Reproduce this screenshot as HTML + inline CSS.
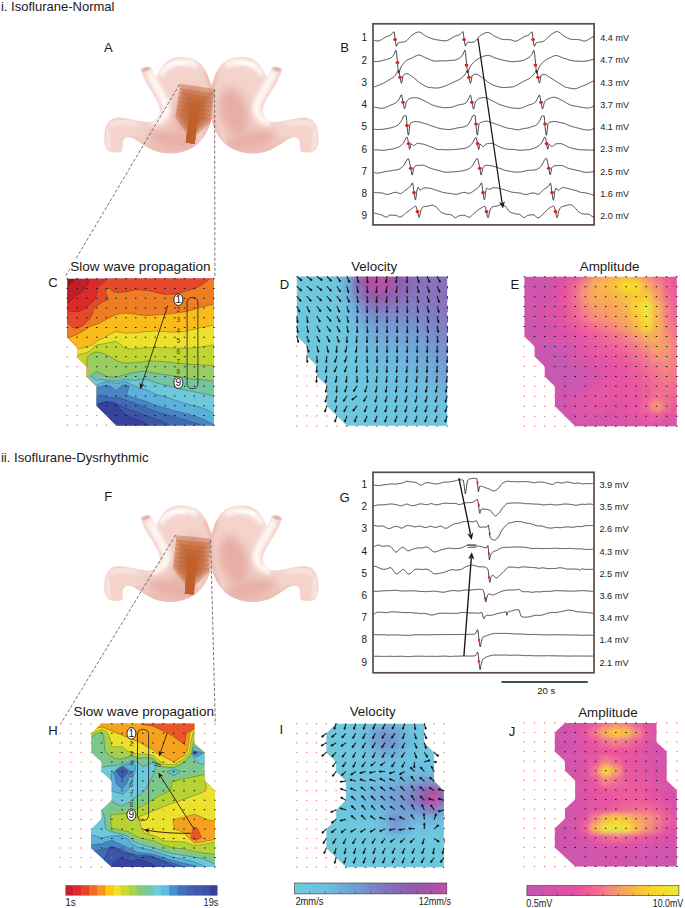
<!DOCTYPE html>
<html><head><meta charset="utf-8"><title>Figure</title>
<style>
html,body{margin:0;padding:0;background:#fff;}
svg{display:block;}
svg text{font-family:"Liberation Sans",sans-serif;}
</style></head>
<body>
<svg width="685" height="908" viewBox="0 0 685 908">
<rect width="685" height="908" fill="#fff"/>
<defs>
<filter id="b1" x="-20%" y="-20%" width="140%" height="140%"><feGaussianBlur stdDeviation="1.1"/></filter>

<clipPath id="stc"><path d="M141.2,70.1 C141.0,68.0 149.0,65.8 150.8,67.5 C152.5,71.0 154.0,75.0 156.0,78.0 C157.5,74.0 159.0,70.5 161.3,67.5 C165.0,61.5 171.0,57.5 178.8,57.0 C185.0,56.6 190.5,57.5 194.6,59.6 C202.0,63.5 206.5,70.5 208.6,78.0 C211.0,84.0 213.2,90.0 213.9,95.5 C214.6,102.5 214.0,110.0 212.1,116.6 C210.5,124.0 207.5,131.5 203.4,137.6 C199.5,143.5 194.0,147.5 187.6,149.9 C182.0,152.3 176.0,153.4 170.0,153.4 C164.0,153.4 158.0,152.2 152.6,149.9 C146.0,147.0 140.5,143.0 135.0,139.3 C132.0,137.6 129.0,136.8 126.3,137.6 C124.0,138.6 123.0,140.5 122.8,142.9 C122.6,146.0 122.8,149.0 121.9,151.6 C118.0,153.2 110.5,152.8 107.0,149.9 C104.6,146.0 104.0,140.5 104.4,135.8 C104.8,130.0 106.0,124.5 108.8,121.8 C111.0,119.0 114.0,117.6 117.5,117.4 C123.5,117.2 129.0,119.0 135.0,120.0 C140.5,121.0 146.0,122.6 150.8,121.8 C155.5,120.5 158.5,117.0 159.6,113.0 C160.5,109.5 159.5,106.0 157.8,102.6 C155.5,98.0 153.0,94.0 150.8,90.3 C148.0,86.0 145.6,82.0 143.8,78.0 C142.5,75.0 141.5,72.5 141.2,70.1 Z"/></clipPath>
<filter id="b2" x="-30%" y="-30%" width="160%" height="160%"><feGaussianBlur stdDeviation="2"/></filter>
<filter id="b3" x="-30%" y="-30%" width="160%" height="160%"><feGaussianBlur stdDeviation="3.2"/></filter>
<filter id="b5" x="-40%" y="-40%" width="180%" height="180%"><feGaussianBlur stdDeviation="5"/></filter>
<g id="stom">
 <path d="M141.2,70.1 C141.0,68.0 149.0,65.8 150.8,67.5 C152.5,71.0 154.0,75.0 156.0,78.0 C157.5,74.0 159.0,70.5 161.3,67.5 C165.0,61.5 171.0,57.5 178.8,57.0 C185.0,56.6 190.5,57.5 194.6,59.6 C202.0,63.5 206.5,70.5 208.6,78.0 C211.0,84.0 213.2,90.0 213.9,95.5 C214.6,102.5 214.0,110.0 212.1,116.6 C210.5,124.0 207.5,131.5 203.4,137.6 C199.5,143.5 194.0,147.5 187.6,149.9 C182.0,152.3 176.0,153.4 170.0,153.4 C164.0,153.4 158.0,152.2 152.6,149.9 C146.0,147.0 140.5,143.0 135.0,139.3 C132.0,137.6 129.0,136.8 126.3,137.6 C124.0,138.6 123.0,140.5 122.8,142.9 C122.6,146.0 122.8,149.0 121.9,151.6 C118.0,153.2 110.5,152.8 107.0,149.9 C104.6,146.0 104.0,140.5 104.4,135.8 C104.8,130.0 106.0,124.5 108.8,121.8 C111.0,119.0 114.0,117.6 117.5,117.4 C123.5,117.2 129.0,119.0 135.0,120.0 C140.5,121.0 146.0,122.6 150.8,121.8 C155.5,120.5 158.5,117.0 159.6,113.0 C160.5,109.5 159.5,106.0 157.8,102.6 C155.5,98.0 153.0,94.0 150.8,90.3 C148.0,86.0 145.6,82.0 143.8,78.0 C142.5,75.0 141.5,72.5 141.2,70.1 Z" fill="#f4d3cb"/>
 <g clip-path="url(#stc)">
  <ellipse cx="189" cy="112" rx="14" ry="25" fill="#e4aaa2" filter="url(#b5)" transform="rotate(16 189 112)" opacity=".92"/>
  <ellipse cx="172" cy="140" rx="26" ry="9" fill="#e6aea6" filter="url(#b5)" transform="rotate(10 172 140)"/>
  <path d="M160,75 C168,62 186,58 197,66" stroke="#fffaf7" stroke-width="6" fill="none" filter="url(#b2)" opacity=".95"/><path d="M168,66.5 C173,62.5 180,61.5 186,63.5" stroke="#ffffff" stroke-width="3.2" fill="none" filter="url(#b1)"/>
  <path d="M149,71 C153,83 162,93 166.5,106 C168,113 163,120 152,123" stroke="#fffaf7" stroke-width="7.5" fill="none" filter="url(#b2)" opacity=".95"/>
  <path d="M110,126 C116,120 126,121 138,124" stroke="#fbe9e3" stroke-width="4" fill="none" filter="url(#b2)"/>
  <path d="M108,128 C106,136 107,145 110,150" stroke="#fdf3ef" stroke-width="3" fill="none" filter="url(#b2)"/>
  <path d="M132,140 C146,149 170,157 197,144" stroke="#e7b1a9" stroke-width="5" fill="none" filter="url(#b3)"/>
  <path d="M206,72 C215,90 215,116 204,139" stroke="#e9b6ae" stroke-width="4.5" fill="none" filter="url(#b2)"/>
 </g>
 <ellipse cx="145.6" cy="69.3" rx="4.9" ry="2.4" fill="#f1cbc3" transform="rotate(-17 145.6 69.3)"/>
 <ellipse cx="145.7" cy="69.4" rx="3.7" ry="1.6" fill="#e6b3ab" transform="rotate(-17 145.7 69.4)"/>
</g>
</defs>
<g transform="translate(0,0)"><use href="#stom"/><use href="#stom" transform="translate(422.8,0) scale(-1,1)"/></g>
<g transform="translate(0,448.5)"><use href="#stom"/><use href="#stom" transform="translate(422.8,0) scale(-1,1)"/></g>
<g><polygon points="180.3,83.8 214.5,89.1 214.0,93.3 199.3,106.2 194.6,144.0 185.7,142.6 190.8,104.9 179.7,88.0" fill="#bf5f2a" fill-opacity="0.42"/><polygon points="179.7,88.0 214.0,93.3 213.6,97.5 198.8,110.3 194.6,144.0 185.7,142.6 190.3,109.0 179.0,92.1" fill="#bf5f2a" fill-opacity="0.42"/><polygon points="179.0,92.1 213.6,97.5 213.1,101.6 198.3,114.5 194.6,144.0 185.7,142.6 189.7,113.2 178.4,96.3" fill="#bf5f2a" fill-opacity="0.42"/><polygon points="178.4,96.3 213.1,101.6 212.7,105.8 197.8,118.7 194.6,144.0 185.7,142.6 189.1,117.3 177.7,100.4" fill="#bf5f2a" fill-opacity="0.42"/><polygon points="177.7,100.4 212.7,105.8 212.2,110.0 197.2,122.9 194.6,144.0 185.7,142.6 188.6,121.5 177.1,104.6" fill="#bf5f2a" fill-opacity="0.42"/><polygon points="177.1,104.6 212.2,110.0 211.8,114.2 196.7,127.0 194.6,144.0 185.7,142.6 188.0,125.7 176.4,108.7" fill="#bf5f2a" fill-opacity="0.42"/><polygon points="176.4,108.7 211.8,114.2 211.3,118.3 196.2,131.2 194.6,144.0 185.7,142.6 187.4,129.8 175.8,112.9" fill="#bf5f2a" fill-opacity="0.42"/><polygon points="175.8,112.9 211.3,118.3 210.8,122.5 195.7,135.4 194.6,144.0 185.7,142.6 186.8,134.0 175.2,117.0" fill="#bf5f2a" fill-opacity="0.42"/></g>
<g><polygon points="176.4,535.2 210.8,538.7 210.6,542.9 196.6,556.5 193.8,594.6 184.8,593.7 188.0,555.7 176.0,539.4" fill="#bf5f2a" fill-opacity="0.42"/><polygon points="176.0,539.4 210.6,542.9 210.4,547.1 196.3,560.7 193.8,594.6 184.8,593.7 187.7,559.9 175.6,543.6" fill="#bf5f2a" fill-opacity="0.42"/><polygon points="175.6,543.6 210.4,547.1 210.1,551.3 196.0,564.9 193.8,594.6 184.8,593.7 187.3,564.1 175.1,547.7" fill="#bf5f2a" fill-opacity="0.42"/><polygon points="175.1,547.7 210.1,551.3 209.9,555.5 195.7,569.1 193.8,594.6 184.8,593.7 187.0,568.2 174.7,551.9" fill="#bf5f2a" fill-opacity="0.42"/><polygon points="174.7,551.9 209.9,555.5 209.6,559.7 195.4,573.3 193.8,594.6 184.8,593.7 186.6,572.4 174.3,556.1" fill="#bf5f2a" fill-opacity="0.42"/><polygon points="174.3,556.1 209.6,559.7 209.4,563.9 195.1,577.5 193.8,594.6 184.8,593.7 186.3,576.6 173.9,560.3" fill="#bf5f2a" fill-opacity="0.42"/><polygon points="173.9,560.3 209.4,563.9 209.2,568.1 194.7,581.7 193.8,594.6 184.8,593.7 185.9,580.8 173.4,564.4" fill="#bf5f2a" fill-opacity="0.42"/><polygon points="173.4,564.4 209.2,568.1 208.9,572.3 194.4,585.9 193.8,594.6 184.8,593.7 185.6,585.0 173.0,568.6" fill="#bf5f2a" fill-opacity="0.42"/></g>
<line x1="179.5" y1="84.5" x2="65" y2="277" stroke="#5a5a5a" stroke-width=".85" stroke-dasharray="3.2 1.9" fill="none"/>
<line x1="214.6" y1="89.3" x2="214.9" y2="277" stroke="#5a5a5a" stroke-width=".85" stroke-dasharray="3.2 1.9" fill="none"/>
<line x1="175.6" y1="535" x2="60.8" y2="723.6" stroke="#5a5a5a" stroke-width=".85" stroke-dasharray="3.2 1.9" fill="none"/>
<line x1="210.6" y1="540" x2="215.3" y2="723.6" stroke="#5a5a5a" stroke-width=".85" stroke-dasharray="3.2 1.9" fill="none"/>
<defs><filter id="bmD" x="-10%" y="-10%" width="120%" height="120%"><feGaussianBlur stdDeviation="2.6"/></filter><filter id="bmE" x="-10%" y="-10%" width="120%" height="120%"><feGaussianBlur stdDeviation="2.6"/></filter><filter id="bmI" x="-10%" y="-10%" width="120%" height="120%"><feGaussianBlur stdDeviation="2.6"/></filter><filter id="bmJ" x="-10%" y="-10%" width="120%" height="120%"><feGaussianBlur stdDeviation="2.6"/></filter></defs>
<clipPath id="cpC"><polygon points="67.3,278.7 213.9,278.7 213.9,425.2 116.2,425.2 96.7,405.7 96.7,386.2 86.9,376.4 86.9,366.6 77.1,356.9 77.1,347.1 67.3,337.3"/></clipPath>
<g clip-path="url(#cpC)">
<rect x="66.35" y="277.7" width="148.5" height="148.6" fill="#8f1718"/>
<polygon points="67.3,286.3 74.8,278.7 215.9,276.7 215.9,427.2 65.3,427.2 65.3,286.3" fill="#c01f25"/>
<polyline points="67.3,286.3 74.8,278.7" fill="none" stroke="#1a1a1a" stroke-opacity=".7" stroke-width=".4" stroke-linejoin="round"/>
<polygon points="67.3,303.2 71.3,299.7 77.2,295.0 84.2,289.2 88.3,283.3 90.0,278.7 215.9,276.7 215.9,427.2 65.3,427.2 65.3,303.2" fill="#dc2a29"/>
<polyline points="67.3,303.2 71.3,299.7 77.2,295.0 84.2,289.2 88.3,283.3 90.0,278.7" fill="none" stroke="#1a1a1a" stroke-opacity=".7" stroke-width=".4" stroke-linejoin="round"/>
<polygon points="67.3,310.5 72.8,311.8 78.9,311.4 85.0,308.3 90.3,303.5 94.7,299.7 97.0,292.7 98.2,286.8 102.9,282.8 106.4,278.7 215.9,276.7 215.9,427.2 65.3,427.2 65.3,310.5" fill="#e5482a"/>
<polyline points="67.3,310.5 72.8,311.8 78.9,311.4 85.0,308.3 90.3,303.5 94.7,299.7 97.0,292.7 98.2,286.8 102.9,282.8 106.4,278.7" fill="none" stroke="#1a1a1a" stroke-opacity=".7" stroke-width=".4" stroke-linejoin="round"/>
<polygon points="67.3,321.9 71.9,327.2 77.1,328.5 83.3,325.4 89.4,319.3 92.0,314.9 93.8,308.8 99.0,304.4 102.9,302.0 108.7,299.1 107.0,296.2 105.8,291.5 107.0,288.6 109.9,288.6 113.4,291.5 118.0,292.7 127.4,291.5 135.6,289.8 142.0,290.0 149.7,290.9 164.9,294.4 176.5,293.9 184.7,291.5 196.4,288.0 203.4,283.9 210.4,278.7 215.9,276.7 215.9,427.2 65.3,427.2 65.3,321.9" fill="#ee7d23"/>
<polyline points="67.3,321.9 71.9,327.2 77.1,328.5 83.3,325.4 89.4,319.3 92.0,314.9 93.8,308.8 99.0,304.4 102.9,302.0 108.7,299.1 107.0,296.2 105.8,291.5 107.0,288.6 109.9,288.6 113.4,291.5 118.0,292.7 127.4,291.5 135.6,289.8 142.0,290.0 149.7,290.9 164.9,294.4 176.5,293.9 184.7,291.5 196.4,288.0 203.4,283.9 210.4,278.7" fill="none" stroke="#1a1a1a" stroke-opacity=".7" stroke-width=".4" stroke-linejoin="round"/>
<polygon points="67.3,337.4 70.6,337.2 77.1,334.2 84.1,330.7 90.3,326.3 99.0,323.6 107.8,318.4 116.6,314.5 125.0,313.1 135.6,314.3 142.0,315.3 149.7,315.5 164.9,314.3 176.5,313.1 187.0,311.4 198.7,307.9 208.0,305.5 213.9,304.6 215.9,304.6 215.9,427.2 65.3,427.2 65.3,337.4" fill="#fabb1c"/>
<polyline points="67.3,337.4 70.6,337.2 77.1,334.2 84.1,330.7 90.3,326.3 99.0,323.6 107.8,318.4 116.6,314.5 125.0,313.1 135.6,314.3 142.0,315.3 149.7,315.5 164.9,314.3 176.5,313.1 187.0,311.4 198.7,307.9 208.0,305.5 213.9,304.6" fill="none" stroke="#1a1a1a" stroke-opacity=".7" stroke-width=".4" stroke-linejoin="round"/>
<polygon points="77.8,349.1 85.4,347.4 92.0,345.0 99.0,339.9 106.0,336.8 111.3,333.3 116.6,331.4 119.2,332.2 126.2,333.3 135.6,332.8 142.0,332.0 155.5,331.0 173.0,332.2 184.7,331.6 198.7,328.1 208.0,326.3 213.9,325.2 215.9,325.2 215.9,427.2 65.3,427.2 65.3,349.1" fill="#ece22d"/>
<polyline points="77.8,349.1 85.4,347.4 92.0,345.0 99.0,339.9 106.0,336.8 111.3,333.3 116.6,331.4 119.2,332.2 126.2,333.3 135.6,332.8 142.0,332.0 155.5,331.0 173.0,332.2 184.7,331.6 198.7,328.1 208.0,326.3 213.9,325.2" fill="none" stroke="#1a1a1a" stroke-opacity=".7" stroke-width=".4" stroke-linejoin="round"/>
<polygon points="77.8,355.0 85.4,353.2 90.0,350.9 95.9,345.0 102.9,343.9 108.7,342.7 115.7,341.5 120.4,344.4 125.0,347.9 132.0,349.1 142.0,347.9 155.5,347.4 173.0,347.9 187.0,348.5 201.0,346.8 213.9,345.0 215.9,345.0 215.9,427.2 65.3,427.2 65.3,355.0" fill="#bfd730"/>
<polyline points="77.8,355.0 85.4,353.2 90.0,350.9 95.9,345.0 102.9,343.9 108.7,342.7 115.7,341.5 120.4,344.4 125.0,347.9 132.0,349.1 142.0,347.9 155.5,347.4 173.0,347.9 187.0,348.5 201.0,346.8 213.9,345.0" fill="none" stroke="#1a1a1a" stroke-opacity=".7" stroke-width=".4" stroke-linejoin="round"/>
<polygon points="87.1,366.8 87.1,358.5 91.2,353.8 95.9,352.0 102.9,353.2 108.7,356.1 113.4,358.5 118.0,361.4 125.0,363.1 134.4,362.5 142.0,362.0 147.3,360.8 161.4,361.4 176.5,363.1 190.6,364.3 203.4,364.9 213.9,365.5 215.9,365.5 215.9,427.2 65.3,427.2 65.3,366.8" fill="#98cd62"/>
<polyline points="87.1,366.8 87.1,358.5 91.2,353.8 95.9,352.0 102.9,353.2 108.7,356.1 113.4,358.5 118.0,361.4 125.0,363.1 134.4,362.5 142.0,362.0 147.3,360.8 161.4,361.4 176.5,363.1 190.6,364.3 203.4,364.9 213.9,365.5" fill="none" stroke="#1a1a1a" stroke-opacity=".7" stroke-width=".4" stroke-linejoin="round"/>
<polygon points="87.0,377.2 91.2,375.8 96.5,371.2 100.0,373.4 107.0,376.4 115.2,377.3 123.4,375.2 132.7,372.8 144.4,371.1 154.9,373.4 165.4,374.6 180.0,376.9 190.6,378.8 203.4,379.9 213.9,381.1 215.9,381.1 215.9,427.2 65.3,427.2 65.3,377.2" fill="#76c5a2"/>
<polyline points="87.0,377.2 91.2,375.8 96.5,371.2 100.0,373.4 107.0,376.4 115.2,377.3 123.4,375.2 132.7,372.8 144.4,371.1 154.9,373.4 165.4,374.6 180.0,376.9 190.6,378.8 203.4,379.9 213.9,381.1" fill="none" stroke="#1a1a1a" stroke-opacity=".7" stroke-width=".4" stroke-linejoin="round"/>
<polygon points="91.2,376.3 96.7,380.4 100.0,379.3 107.0,380.4 117.5,381.0 124.5,379.3 132.7,380.4 146.7,379.3 156.1,382.8 165.4,385.1 180.0,389.2 184.7,389.9 196.4,392.2 208.0,394.5 213.9,396.3 215.9,396.3 215.9,427.2 65.3,427.2 65.3,376.3" fill="#6dc8d9"/>
<polyline points="91.2,376.3 96.7,380.4 100.0,379.3 107.0,380.4 117.5,381.0 124.5,379.3 132.7,380.4 146.7,379.3 156.1,382.8 165.4,385.1 180.0,389.2 184.7,389.9 196.4,392.2 208.0,394.5 213.9,396.3" fill="none" stroke="#1a1a1a" stroke-opacity=".7" stroke-width=".4" stroke-linejoin="round"/>
<polygon points="96.7,385.2 100.0,383.4 107.0,381.6 117.5,383.4 124.5,381.0 130.4,383.9 138.5,387.4 146.7,389.8 156.1,394.5 165.4,396.8 173.0,399.5 184.7,403.5 196.4,406.2 205.7,409.1 213.9,413.8 215.9,413.8 215.9,427.2 65.3,427.2 65.3,385.2" fill="#5bb0dc"/>
<polyline points="96.7,385.2 100.0,383.4 107.0,381.6 117.5,383.4 124.5,381.0 130.4,383.9 138.5,387.4 146.7,389.8 156.1,394.5 165.4,396.8 173.0,399.5 184.7,403.5 196.4,406.2 205.7,409.1 213.9,413.8" fill="none" stroke="#1a1a1a" stroke-opacity=".7" stroke-width=".4" stroke-linejoin="round"/>
<polygon points="96.7,387.5 100.0,386.9 105.8,385.1 111.7,386.9 116.4,390.9 121.0,386.3 125.1,384.5 129.2,386.3 126.3,395.0 135.0,398.0 146.7,401.5 156.1,405.5 165.4,407.9 173.0,410.5 184.7,413.2 196.4,416.7 205.7,420.2 213.9,424.9 215.9,424.9 215.9,427.2 65.3,427.2 65.3,387.5" fill="#4a86c6"/>
<polyline points="96.7,387.5 100.0,386.9 105.8,385.1 111.7,386.9 116.4,390.9 121.0,386.3 125.1,384.5 129.2,386.3 126.3,395.0 135.0,398.0 146.7,401.5 156.1,405.5 165.4,407.9 173.0,410.5 184.7,413.2 196.4,416.7 205.7,420.2 213.9,424.9" fill="none" stroke="#1a1a1a" stroke-opacity=".7" stroke-width=".4" stroke-linejoin="round"/>
<polygon points="96.7,396.3 100.0,395.0 109.3,397.4 118.7,398.0 126.9,400.3 135.0,403.2 146.7,407.9 156.1,411.4 165.4,414.3 180.0,418.4 195.0,423.0 203.0,425.6 203.0,427.2 65.3,427.2 65.3,396.3" fill="#4169b5"/>
<polyline points="96.7,396.3 100.0,395.0 109.3,397.4 118.7,398.0 126.9,400.3 135.0,403.2 146.7,407.9 156.1,411.4 165.4,414.3 180.0,418.4 195.0,423.0 203.0,425.6" fill="none" stroke="#1a1a1a" stroke-opacity=".7" stroke-width=".4" stroke-linejoin="round"/>
<polygon points="96.7,405.0 100.0,403.2 107.0,401.5 115.2,403.2 123.4,407.3 135.0,411.5 146.7,416.0 161.4,421.0 170.0,425.6 170.0,427.2 65.3,427.2 65.3,405.0" fill="#3d55a8"/>
<polyline points="96.7,405.0 100.0,403.2 107.0,401.5 115.2,403.2 123.4,407.3 135.0,411.5 146.7,416.0 161.4,421.0 170.0,425.6" fill="none" stroke="#1a1a1a" stroke-opacity=".7" stroke-width=".4" stroke-linejoin="round"/>
<polygon points="96.7,405.2 100.0,403.4 107.0,401.7 115.2,403.4 116.9,405.0 121.0,410.2 127.0,415.0 135.0,419.0 142.0,421.5 149.7,425.6 149.7,427.2 65.3,427.2 65.3,405.2" fill="#37429c"/>
<polyline points="96.7,405.2 100.0,403.4 107.0,401.7 115.2,403.4 116.9,405.0 121.0,410.2 127.0,415.0 135.0,419.0 142.0,421.5 149.7,425.6" fill="none" stroke="#1a1a1a" stroke-opacity=".7" stroke-width=".4" stroke-linejoin="round"/>
</g>
<path d="M66.8,336.7h1.2v1.2h-1.2zM66.8,346.5h1.2v1.2h-1.2zM66.8,356.3h1.2v1.2h-1.2zM66.8,366.0h1.2v1.2h-1.2zM66.8,375.8h1.2v1.2h-1.2zM66.8,385.6h1.2v1.2h-1.2zM66.8,395.3h1.2v1.2h-1.2zM66.8,405.1h1.2v1.2h-1.2zM66.8,414.9h1.2v1.2h-1.2zM66.8,424.6h1.2v1.2h-1.2zM76.5,346.5h1.2v1.2h-1.2zM76.5,356.3h1.2v1.2h-1.2zM76.5,366.0h1.2v1.2h-1.2zM76.5,375.8h1.2v1.2h-1.2zM76.5,385.6h1.2v1.2h-1.2zM76.5,395.3h1.2v1.2h-1.2zM76.5,405.1h1.2v1.2h-1.2zM76.5,414.9h1.2v1.2h-1.2zM76.5,424.6h1.2v1.2h-1.2zM86.3,356.3h1.2v1.2h-1.2zM86.3,366.0h1.2v1.2h-1.2zM86.3,375.8h1.2v1.2h-1.2zM86.3,385.6h1.2v1.2h-1.2zM86.3,395.3h1.2v1.2h-1.2zM86.3,405.1h1.2v1.2h-1.2zM86.3,414.9h1.2v1.2h-1.2zM86.3,424.6h1.2v1.2h-1.2zM96.1,375.8h1.2v1.2h-1.2zM96.1,385.6h1.2v1.2h-1.2zM96.1,395.3h1.2v1.2h-1.2zM96.1,405.1h1.2v1.2h-1.2zM96.1,414.9h1.2v1.2h-1.2zM96.1,424.6h1.2v1.2h-1.2zM105.8,414.9h1.2v1.2h-1.2zM105.8,424.6h1.2v1.2h-1.2zM115.6,385.6h1.2v1.2h-1.2zM115.6,424.6h1.2v1.2h-1.2zM135.1,385.6h1.2v1.2h-1.2z" fill="#ee716d"/>
<path d="M66.60,278.20h1.5v1h-1.5zM66.60,287.97h1.5v1h-1.5zM66.60,297.74h1.5v1h-1.5zM66.60,307.51h1.5v1h-1.5zM66.60,317.28h1.5v1h-1.5zM66.60,327.05h1.5v1h-1.5zM76.37,278.20h1.5v1h-1.5zM76.37,287.97h1.5v1h-1.5zM76.37,297.74h1.5v1h-1.5zM76.37,307.51h1.5v1h-1.5zM76.37,317.28h1.5v1h-1.5zM76.37,327.05h1.5v1h-1.5zM76.37,336.82h1.5v1h-1.5zM86.14,278.20h1.5v1h-1.5zM86.14,287.97h1.5v1h-1.5zM86.14,297.74h1.5v1h-1.5zM86.14,307.51h1.5v1h-1.5zM86.14,317.28h1.5v1h-1.5zM86.14,327.05h1.5v1h-1.5zM86.14,336.82h1.5v1h-1.5zM86.14,346.59h1.5v1h-1.5zM95.91,278.20h1.5v1h-1.5zM95.91,287.97h1.5v1h-1.5zM95.91,297.74h1.5v1h-1.5zM95.91,307.51h1.5v1h-1.5zM95.91,317.28h1.5v1h-1.5zM95.91,327.05h1.5v1h-1.5zM95.91,336.82h1.5v1h-1.5zM95.91,346.59h1.5v1h-1.5zM95.91,356.36h1.5v1h-1.5zM95.91,366.13h1.5v1h-1.5zM105.68,278.20h1.5v1h-1.5zM105.68,287.97h1.5v1h-1.5zM105.68,297.74h1.5v1h-1.5zM105.68,307.51h1.5v1h-1.5zM105.68,317.28h1.5v1h-1.5zM105.68,327.05h1.5v1h-1.5zM105.68,336.82h1.5v1h-1.5zM105.68,346.59h1.5v1h-1.5zM105.68,356.36h1.5v1h-1.5zM105.68,366.13h1.5v1h-1.5zM105.68,375.90h1.5v1h-1.5zM105.68,385.67h1.5v1h-1.5zM105.68,395.44h1.5v1h-1.5zM105.68,405.21h1.5v1h-1.5zM115.45,278.20h1.5v1h-1.5zM115.45,287.97h1.5v1h-1.5zM115.45,297.74h1.5v1h-1.5zM115.45,307.51h1.5v1h-1.5zM115.45,317.28h1.5v1h-1.5zM115.45,327.05h1.5v1h-1.5zM115.45,336.82h1.5v1h-1.5zM115.45,346.59h1.5v1h-1.5zM115.45,356.36h1.5v1h-1.5zM115.45,366.13h1.5v1h-1.5zM115.45,375.90h1.5v1h-1.5zM115.45,395.44h1.5v1h-1.5zM115.45,405.21h1.5v1h-1.5zM115.45,414.98h1.5v1h-1.5zM125.22,278.20h1.5v1h-1.5zM125.22,287.97h1.5v1h-1.5zM125.22,297.74h1.5v1h-1.5zM125.22,307.51h1.5v1h-1.5zM125.22,317.28h1.5v1h-1.5zM125.22,327.05h1.5v1h-1.5zM125.22,336.82h1.5v1h-1.5zM125.22,346.59h1.5v1h-1.5zM125.22,356.36h1.5v1h-1.5zM125.22,366.13h1.5v1h-1.5zM125.22,375.90h1.5v1h-1.5zM125.22,385.67h1.5v1h-1.5zM125.22,395.44h1.5v1h-1.5zM125.22,405.21h1.5v1h-1.5zM125.22,414.98h1.5v1h-1.5zM125.22,424.75h1.5v1h-1.5zM134.99,278.20h1.5v1h-1.5zM134.99,287.97h1.5v1h-1.5zM134.99,297.74h1.5v1h-1.5zM134.99,307.51h1.5v1h-1.5zM134.99,317.28h1.5v1h-1.5zM134.99,327.05h1.5v1h-1.5zM134.99,336.82h1.5v1h-1.5zM134.99,346.59h1.5v1h-1.5zM134.99,356.36h1.5v1h-1.5zM134.99,366.13h1.5v1h-1.5zM134.99,375.90h1.5v1h-1.5zM134.99,395.44h1.5v1h-1.5zM134.99,405.21h1.5v1h-1.5zM134.99,414.98h1.5v1h-1.5zM134.99,424.75h1.5v1h-1.5zM144.76,278.20h1.5v1h-1.5zM144.76,287.97h1.5v1h-1.5zM144.76,297.74h1.5v1h-1.5zM144.76,307.51h1.5v1h-1.5zM144.76,317.28h1.5v1h-1.5zM144.76,327.05h1.5v1h-1.5zM144.76,336.82h1.5v1h-1.5zM144.76,346.59h1.5v1h-1.5zM144.76,356.36h1.5v1h-1.5zM144.76,366.13h1.5v1h-1.5zM144.76,375.90h1.5v1h-1.5zM144.76,385.67h1.5v1h-1.5zM144.76,395.44h1.5v1h-1.5zM144.76,405.21h1.5v1h-1.5zM144.76,414.98h1.5v1h-1.5zM144.76,424.75h1.5v1h-1.5zM154.53,278.20h1.5v1h-1.5zM154.53,287.97h1.5v1h-1.5zM154.53,297.74h1.5v1h-1.5zM154.53,307.51h1.5v1h-1.5zM154.53,317.28h1.5v1h-1.5zM154.53,327.05h1.5v1h-1.5zM154.53,336.82h1.5v1h-1.5zM154.53,346.59h1.5v1h-1.5zM154.53,356.36h1.5v1h-1.5zM154.53,366.13h1.5v1h-1.5zM154.53,375.90h1.5v1h-1.5zM154.53,385.67h1.5v1h-1.5zM154.53,395.44h1.5v1h-1.5zM154.53,405.21h1.5v1h-1.5zM154.53,414.98h1.5v1h-1.5zM154.53,424.75h1.5v1h-1.5zM164.30,278.20h1.5v1h-1.5zM164.30,287.97h1.5v1h-1.5zM164.30,297.74h1.5v1h-1.5zM164.30,307.51h1.5v1h-1.5zM164.30,317.28h1.5v1h-1.5zM164.30,327.05h1.5v1h-1.5zM164.30,336.82h1.5v1h-1.5zM164.30,346.59h1.5v1h-1.5zM164.30,356.36h1.5v1h-1.5zM164.30,366.13h1.5v1h-1.5zM164.30,375.90h1.5v1h-1.5zM164.30,385.67h1.5v1h-1.5zM164.30,395.44h1.5v1h-1.5zM164.30,405.21h1.5v1h-1.5zM164.30,414.98h1.5v1h-1.5zM164.30,424.75h1.5v1h-1.5zM174.07,278.20h1.5v1h-1.5zM174.07,287.97h1.5v1h-1.5zM174.07,297.74h1.5v1h-1.5zM174.07,307.51h1.5v1h-1.5zM174.07,317.28h1.5v1h-1.5zM174.07,327.05h1.5v1h-1.5zM174.07,336.82h1.5v1h-1.5zM174.07,346.59h1.5v1h-1.5zM174.07,356.36h1.5v1h-1.5zM174.07,366.13h1.5v1h-1.5zM174.07,375.90h1.5v1h-1.5zM174.07,385.67h1.5v1h-1.5zM174.07,395.44h1.5v1h-1.5zM174.07,405.21h1.5v1h-1.5zM174.07,414.98h1.5v1h-1.5zM174.07,424.75h1.5v1h-1.5zM183.84,278.20h1.5v1h-1.5zM183.84,287.97h1.5v1h-1.5zM183.84,297.74h1.5v1h-1.5zM183.84,307.51h1.5v1h-1.5zM183.84,317.28h1.5v1h-1.5zM183.84,327.05h1.5v1h-1.5zM183.84,336.82h1.5v1h-1.5zM183.84,346.59h1.5v1h-1.5zM183.84,356.36h1.5v1h-1.5zM183.84,366.13h1.5v1h-1.5zM183.84,375.90h1.5v1h-1.5zM183.84,385.67h1.5v1h-1.5zM183.84,395.44h1.5v1h-1.5zM183.84,405.21h1.5v1h-1.5zM183.84,414.98h1.5v1h-1.5zM183.84,424.75h1.5v1h-1.5zM193.61,278.20h1.5v1h-1.5zM193.61,287.97h1.5v1h-1.5zM193.61,297.74h1.5v1h-1.5zM193.61,307.51h1.5v1h-1.5zM193.61,317.28h1.5v1h-1.5zM193.61,327.05h1.5v1h-1.5zM193.61,336.82h1.5v1h-1.5zM193.61,346.59h1.5v1h-1.5zM193.61,356.36h1.5v1h-1.5zM193.61,366.13h1.5v1h-1.5zM193.61,375.90h1.5v1h-1.5zM193.61,385.67h1.5v1h-1.5zM193.61,395.44h1.5v1h-1.5zM193.61,405.21h1.5v1h-1.5zM193.61,414.98h1.5v1h-1.5zM193.61,424.75h1.5v1h-1.5zM203.38,278.20h1.5v1h-1.5zM203.38,287.97h1.5v1h-1.5zM203.38,297.74h1.5v1h-1.5zM203.38,307.51h1.5v1h-1.5zM203.38,317.28h1.5v1h-1.5zM203.38,327.05h1.5v1h-1.5zM203.38,336.82h1.5v1h-1.5zM203.38,346.59h1.5v1h-1.5zM203.38,356.36h1.5v1h-1.5zM203.38,366.13h1.5v1h-1.5zM203.38,375.90h1.5v1h-1.5zM203.38,385.67h1.5v1h-1.5zM203.38,395.44h1.5v1h-1.5zM203.38,405.21h1.5v1h-1.5zM203.38,414.98h1.5v1h-1.5zM203.38,424.75h1.5v1h-1.5zM213.15,278.20h1.5v1h-1.5zM213.15,287.97h1.5v1h-1.5zM213.15,297.74h1.5v1h-1.5zM213.15,307.51h1.5v1h-1.5zM213.15,317.28h1.5v1h-1.5zM213.15,327.05h1.5v1h-1.5zM213.15,336.82h1.5v1h-1.5zM213.15,346.59h1.5v1h-1.5zM213.15,356.36h1.5v1h-1.5zM213.15,366.13h1.5v1h-1.5zM213.15,375.90h1.5v1h-1.5zM213.15,385.67h1.5v1h-1.5zM213.15,395.44h1.5v1h-1.5zM213.15,405.21h1.5v1h-1.5zM213.15,414.98h1.5v1h-1.5zM213.15,424.75h1.5v1h-1.5z" fill="#141414"/>
<rect x="187.1" y="297.4" width="10.8" height="91.2" rx="4.6" fill="none" stroke="#2a2a2a" stroke-width=".9"/>
<text x="178.4" y="312.1" font-size="6.4" text-anchor="middle" fill="#4a3226">2</text>
<text x="178.4" y="322.4" font-size="6.4" text-anchor="middle" fill="#4a3226">3</text>
<text x="178.4" y="332.8" font-size="6.4" text-anchor="middle" fill="#4a3226">4</text>
<text x="178.4" y="343.1" font-size="6.4" text-anchor="middle" fill="#4a3226">5</text>
<text x="178.4" y="353.5" font-size="6.4" text-anchor="middle" fill="#4a3226">6</text>
<text x="178.4" y="363.9" font-size="6.4" text-anchor="middle" fill="#4a3226">7</text>
<text x="178.4" y="374.2" font-size="6.4" text-anchor="middle" fill="#4a3226">8</text>
<ellipse cx="178.4" cy="299.7" rx="4.5" ry="5.8" fill="#fff" stroke="#151515" stroke-width=".95"/>
<text x="178.4" y="303.4" font-size="10.3" text-anchor="middle" fill="#151515">1</text>
<ellipse cx="178.4" cy="382.6" rx="4.5" ry="5.8" fill="#fff" stroke="#151515" stroke-width=".95"/>
<text x="178.4" y="386.3" font-size="10.3" text-anchor="middle" fill="#151515">9</text>
<line x1="167.8" y1="305.5" x2="141" y2="386.5" stroke="#1a0f0a" stroke-width=".8"/>
<polygon points="140.1,389.2 139.7,382.4 141.5,385.0 144.5,384.0" fill="#1a0f0a"/>
<clipPath id="cpH"><polygon points="101.5,723.8 194.3,723.8 194.3,742.9 204.6,752.5 204.6,781.1 214.9,790.7 214.9,867.1 111.8,867.1 91.2,848.0 91.2,828.9 101.5,819.3 101.5,809.8 111.8,800.2 111.8,781.1 101.5,771.6 101.5,762.0 91.2,752.5 91.2,733.4"/></clipPath>
<g clip-path="url(#cpH)">
<rect x="59.3" y="722.8" width="156.7" height="145.3" fill="#7bc78e"/>
<polygon points="60.0,809.8 101.6,809.8 103.0,812.4 104.7,819.0 105.3,828.6 110.6,831.5 121.1,833.9 128.1,836.2 132.7,840.9 138.0,843.5 153.2,847.9 163.7,851.4 173.0,853.7 184.7,855.5 194.1,857.2 203.4,859.0 210.4,861.9 215.3,864.2 218.0,864.5 218.0,872.0 60.0,872.0" fill="#6dc8d9" stroke="#1a1a1a" stroke-opacity=".7" stroke-width=".4" stroke-linejoin="round"/>
<polygon points="60.0,835.0 91.3,835.0 101.6,837.9 110.6,836.2 121.1,835.6 128.1,839.1 132.7,844.4 138.0,847.0 153.2,850.8 163.7,854.3 173.0,857.2 184.7,859.5 194.1,861.9 201.1,864.8 205.7,867.1 206.0,872.0 60.0,872.0" fill="#5bb0dc" stroke="#1a1a1a" stroke-opacity=".7" stroke-width=".4" stroke-linejoin="round"/>
<polygon points="60.0,845.0 91.3,845.0 101.6,843.8 111.7,840.3 121.1,844.4 128.1,847.9 138.0,852.5 153.2,854.3 163.7,857.8 173.0,860.7 184.7,863.6 194.1,865.4 197.6,867.1 198.0,872.0 60.0,872.0" fill="#4a86c6" stroke="#1a1a1a" stroke-opacity=".7" stroke-width=".4" stroke-linejoin="round"/>
<polygon points="60.0,852.0 91.3,851.5 101.6,850.0 111.7,846.5 121.1,849.5 128.1,852.5 138.0,855.3 149.7,855.6 159.0,858.6 168.4,862.0 180.0,865.5 184.0,867.1 184.0,872.0 60.0,872.0" fill="#4169b5" stroke="#1a1a1a" stroke-opacity=".7" stroke-width=".4" stroke-linejoin="round"/>
<polygon points="100.0,872.0 104.7,858.4 109.4,847.9 114.1,847.3 123.4,852.5 132.7,854.9 138.0,857.2 149.7,856.6 159.0,859.5 168.4,863.6 175.4,867.1 176.0,872.0" fill="#3d55a8" stroke="#1a1a1a" stroke-opacity=".7" stroke-width=".4" stroke-linejoin="round"/>
<polygon points="110.0,872.0 112.9,863.0 122.2,857.8 128.1,860.7 133.0,861.6 138.0,859.5 143.8,860.7 152.0,864.2 156.7,867.1 157.0,872.0" fill="#37429c" stroke="#1a1a1a" stroke-opacity=".7" stroke-width=".4" stroke-linejoin="round"/>
<polygon points="100.0,767.0 101.6,767.0 111.7,765.9 123.4,764.1 132.7,760.3 138.0,762.0 142.7,767.0 149.7,763.5 153.2,762.4 155.5,764.7 154.4,772.7 149.7,782.0 145.0,790.2 138.0,796.0 135.1,797.2 128.1,803.0 121.1,806.0 114.1,803.0 112.0,800.4 100.0,800.4" fill="#6dc8d9" stroke="#1a1a1a" stroke-opacity=".7" stroke-width=".4" stroke-linejoin="round"/>
<polygon points="111.0,773.5 112.9,772.7 118.7,767.5 123.4,765.9 133.9,761.8 135.5,768.0 132.7,778.5 129.2,787.9 123.4,794.3 116.4,792.5 111.0,790.8" fill="#5bb0dc" stroke="#1a1a1a" stroke-opacity=".7" stroke-width=".4" stroke-linejoin="round"/>
<polygon points="114.3,772.3 122.2,765.8 130.6,771.2 127.0,783.0 122.2,789.0 116.5,784.0" fill="#4a86c6" stroke="#1a1a1a" stroke-opacity=".7" stroke-width=".4" stroke-linejoin="round"/>
<polygon points="116.4,771.5 122.2,767.2 128.1,771.5 122.2,779.1" fill="#3e58aa" stroke="#1a1a1a" stroke-opacity=".7" stroke-width=".4" stroke-linejoin="round"/>
<polygon points="191.1,751.9 194.6,747.2 204.9,752.7 206.0,752.7 206.0,764.7 198.7,763.5 194.1,758.3" fill="#6dc8d9" stroke="#1a1a1a" stroke-opacity=".7" stroke-width=".4" stroke-linejoin="round"/>
<polygon points="193.3,750.2 203.6,753.1 196.2,757.3 192.4,754.2" fill="#4f97d0" stroke="#1a1a1a" stroke-opacity=".7" stroke-width=".4" stroke-linejoin="round"/>
<polygon points="194.2,751.3 197.6,752.6 195.0,754.6 193.4,753.2" fill="#3e58aa" stroke="#1a1a1a" stroke-opacity=".7" stroke-width=".4" stroke-linejoin="round"/>
<polygon points="166.6,771.7 174.2,769.4 180.6,771.5 174.2,775.6" fill="#63bde0" stroke="#1a1a1a" stroke-opacity=".7" stroke-width=".4" stroke-linejoin="round"/>
<polygon points="110.7,814.7 125.0,813.5 138.0,808.3 147.3,803.0 159.0,796.0 170.7,790.2 171.9,781.4 184.7,778.5 196.4,776.2 204.9,774.4 206.0,781.2 217.0,790.8 217.0,854.3 215.3,854.3 203.4,853.1 194.1,851.4 184.7,849.0 173.0,847.9 163.7,845.5 153.2,840.9 138.0,837.4 128.1,831.5 121.1,830.4 111.1,828.0 110.6,818.7" fill="#98cd62" stroke="#98cd62" stroke-width="3.2" stroke-linejoin="round"/>
<polygon points="110.7,814.7 125.0,813.5 138.0,808.3 147.3,803.0 159.0,796.0 170.7,790.2 171.9,781.4 184.7,778.5 196.4,776.2 204.9,774.4 206.0,781.2 217.0,790.8 217.0,854.3 215.3,854.3 203.4,853.1 194.1,851.4 184.7,849.0 173.0,847.9 163.7,845.5 153.2,840.9 138.0,837.4 128.1,831.5 121.1,830.4 111.1,828.0 110.6,818.7" fill="#b5d334" stroke="#1a1a1a" stroke-opacity=".7" stroke-width=".4" stroke-linejoin="round"/>
<polygon points="139.8,821.0 138.0,817.0 149.7,812.4 161.4,807.7 173.0,803.0 184.7,799.0 196.4,794.9 205.7,790.8 206.3,786.7 204.9,781.2 217.0,790.8 217.0,842.0 215.3,842.0 203.4,844.4 194.1,845.5 184.7,842.0 163.7,840.9 156.7,836.8 153.2,835.6 145.0,833.3 141.5,829.2" fill="#ece22d" stroke="#1a1a1a" stroke-opacity=".7" stroke-width=".4" stroke-linejoin="round"/>
<polygon points="173.0,819.8 184.7,816.9 194.1,814.0 201.1,816.9 208.0,819.8 217.0,821.6 217.0,839.1 203.4,842.0 194.1,843.2 188.2,837.4 182.4,831.5 174.2,829.2" fill="#f5a21e" stroke="#1a1a1a" stroke-opacity=".7" stroke-width=".4" stroke-linejoin="round"/>
<polygon points="191.1,838.5 192.3,830.4 194.6,826.8 197.6,828.6 201.6,837.4 196.4,840.3" fill="#e9562a" stroke="#1a1a1a" stroke-opacity=".7" stroke-width=".4" stroke-linejoin="round"/>
<polygon points="90.0,720.0 196.0,720.0 196.0,735.0 194.6,735.0 193.5,743.7 191.7,753.0 184.7,762.4 173.9,767.6 163.1,767.0 155.5,761.8 153.2,758.3 145.0,757.7 138.0,758.3 131.8,756.0 128.5,757.2 120.3,759.2 114.6,758.4 109.7,755.2 104.8,751.1 103.6,734.3 101.5,732.3 95.0,733.9 90.0,738.5" fill="#a3cf4d" stroke="#1a1a1a" stroke-opacity=".7" stroke-width=".4" stroke-linejoin="round"/>
<polygon points="90.0,720.0 196.0,720.0 196.0,730.3 194.6,730.3 192.9,733.2 191.1,741.4 189.4,751.9 184.4,758.3 173.9,764.7 163.5,764.1 157.3,758.9 153.2,755.4 145.0,754.2 138.0,753.9 131.8,752.7 127.7,751.1 122.0,746.6 112.2,747.0 109.7,737.2 107.7,732.3 102.4,729.4 94.2,732.3 90.0,735.0" fill="#c2d72f" stroke="#c2d72f" stroke-width="3.0" stroke-linejoin="round"/>
<polygon points="90.0,720.0 196.0,720.0 196.0,730.3 194.6,730.3 192.9,733.2 191.1,741.4 189.4,751.9 184.4,758.3 173.9,764.7 163.5,764.1 157.3,758.9 153.2,755.4 145.0,754.2 138.0,753.9 131.8,752.7 127.7,751.1 122.0,746.6 112.2,747.0 109.7,737.2 107.7,732.3 102.4,729.4 94.2,732.3 90.0,735.0" fill="#ece22d" stroke="#1a1a1a" stroke-opacity=".7" stroke-width=".4" stroke-linejoin="round"/>
<polygon points="90.0,720.0 196.0,720.0 196.0,728.5 194.6,728.5 189.4,733.2 188.8,741.4 187.1,750.7 184.4,755.4 173.9,761.8 163.5,756.5 156.7,753.0 153.2,749.5 145.0,745.4 138.0,741.4 131.8,739.2 126.9,737.2 122.0,735.1 112.2,731.0 102.4,726.9 97.4,727.8 90.0,732.0" fill="#fbc01e" stroke="#fbc01e" stroke-width="1.6" stroke-linejoin="round"/>
<polygon points="90.0,720.0 196.0,720.0 196.0,728.5 194.6,728.5 189.4,733.2 188.8,741.4 187.1,750.7 184.4,755.4 173.9,761.8 163.5,756.5 156.7,753.0 153.2,749.5 145.0,745.4 138.0,741.4 131.8,739.2 126.9,737.2 122.0,735.1 112.2,731.0 102.4,726.9 97.4,727.8 90.0,732.0" fill="#f5a21e" stroke="#1a1a1a" stroke-opacity=".7" stroke-width=".4" stroke-linejoin="round"/>
<polygon points="141.5,720.0 196.0,720.0 196.0,727.9 194.6,727.9 186.5,733.2 184.7,744.9 173.9,736.7 167.2,732.9 153.2,726.2 141.5,724.2" fill="#e9562a" stroke="#1a1a1a" stroke-opacity=".7" stroke-width=".4" stroke-linejoin="round"/>
</g>
<path d="M59.7,723.2h1.2v1.2h-1.2zM59.7,732.8h1.2v1.2h-1.2zM59.7,742.3h1.2v1.2h-1.2zM59.7,751.9h1.2v1.2h-1.2zM59.7,761.4h1.2v1.2h-1.2zM59.7,771.0h1.2v1.2h-1.2zM59.7,780.5h1.2v1.2h-1.2zM59.7,790.1h1.2v1.2h-1.2zM59.7,799.6h1.2v1.2h-1.2zM59.7,809.2h1.2v1.2h-1.2zM59.7,818.7h1.2v1.2h-1.2zM59.7,828.3h1.2v1.2h-1.2zM59.7,837.8h1.2v1.2h-1.2zM59.7,847.4h1.2v1.2h-1.2zM59.7,856.9h1.2v1.2h-1.2zM59.7,866.5h1.2v1.2h-1.2zM70.0,723.2h1.2v1.2h-1.2zM70.0,732.8h1.2v1.2h-1.2zM70.0,742.3h1.2v1.2h-1.2zM70.0,751.9h1.2v1.2h-1.2zM70.0,761.4h1.2v1.2h-1.2zM70.0,771.0h1.2v1.2h-1.2zM70.0,780.5h1.2v1.2h-1.2zM70.0,790.1h1.2v1.2h-1.2zM70.0,799.6h1.2v1.2h-1.2zM70.0,809.2h1.2v1.2h-1.2zM70.0,818.7h1.2v1.2h-1.2zM70.0,828.3h1.2v1.2h-1.2zM70.0,837.8h1.2v1.2h-1.2zM70.0,847.4h1.2v1.2h-1.2zM70.0,856.9h1.2v1.2h-1.2zM70.0,866.5h1.2v1.2h-1.2zM80.3,723.2h1.2v1.2h-1.2zM80.3,732.8h1.2v1.2h-1.2zM80.3,742.3h1.2v1.2h-1.2zM80.3,751.9h1.2v1.2h-1.2zM80.3,761.4h1.2v1.2h-1.2zM80.3,771.0h1.2v1.2h-1.2zM80.3,780.5h1.2v1.2h-1.2zM80.3,790.1h1.2v1.2h-1.2zM80.3,799.6h1.2v1.2h-1.2zM80.3,809.2h1.2v1.2h-1.2zM80.3,818.7h1.2v1.2h-1.2zM80.3,828.3h1.2v1.2h-1.2zM80.3,837.8h1.2v1.2h-1.2zM80.3,847.4h1.2v1.2h-1.2zM80.3,856.9h1.2v1.2h-1.2zM80.3,866.5h1.2v1.2h-1.2zM90.6,723.2h1.2v1.2h-1.2zM90.6,732.8h1.2v1.2h-1.2zM90.6,742.3h1.2v1.2h-1.2zM90.6,751.9h1.2v1.2h-1.2zM90.6,761.4h1.2v1.2h-1.2zM90.6,771.0h1.2v1.2h-1.2zM90.6,780.5h1.2v1.2h-1.2zM90.6,790.1h1.2v1.2h-1.2zM90.6,799.6h1.2v1.2h-1.2zM90.6,809.2h1.2v1.2h-1.2zM90.6,818.7h1.2v1.2h-1.2zM90.6,828.3h1.2v1.2h-1.2zM90.6,837.8h1.2v1.2h-1.2zM90.6,847.4h1.2v1.2h-1.2zM90.6,856.9h1.2v1.2h-1.2zM90.6,866.5h1.2v1.2h-1.2zM100.9,723.2h1.2v1.2h-1.2zM100.9,761.4h1.2v1.2h-1.2zM100.9,771.0h1.2v1.2h-1.2zM100.9,780.5h1.2v1.2h-1.2zM100.9,790.1h1.2v1.2h-1.2zM100.9,799.6h1.2v1.2h-1.2zM100.9,809.2h1.2v1.2h-1.2zM100.9,818.7h1.2v1.2h-1.2zM100.9,856.9h1.2v1.2h-1.2zM100.9,866.5h1.2v1.2h-1.2zM111.2,780.5h1.2v1.2h-1.2zM111.2,790.1h1.2v1.2h-1.2zM111.2,799.6h1.2v1.2h-1.2zM111.2,809.2h1.2v1.2h-1.2zM111.2,856.9h1.2v1.2h-1.2zM111.2,866.5h1.2v1.2h-1.2zM131.9,856.9h1.2v1.2h-1.2zM142.2,761.4h1.2v1.2h-1.2zM162.8,809.2h1.2v1.2h-1.2zM193.7,723.2h1.2v1.2h-1.2zM193.7,732.8h1.2v1.2h-1.2zM193.7,742.3h1.2v1.2h-1.2zM204.0,723.2h1.2v1.2h-1.2zM204.0,732.8h1.2v1.2h-1.2zM204.0,742.3h1.2v1.2h-1.2zM204.0,751.9h1.2v1.2h-1.2zM204.0,761.4h1.2v1.2h-1.2zM204.0,771.0h1.2v1.2h-1.2zM204.0,780.5h1.2v1.2h-1.2zM204.0,790.1h1.2v1.2h-1.2zM214.3,723.2h1.2v1.2h-1.2zM214.3,732.8h1.2v1.2h-1.2zM214.3,742.3h1.2v1.2h-1.2zM214.3,751.9h1.2v1.2h-1.2zM214.3,761.4h1.2v1.2h-1.2zM214.3,771.0h1.2v1.2h-1.2zM214.3,780.5h1.2v1.2h-1.2zM214.3,790.1h1.2v1.2h-1.2z" fill="#ee716d"/>
<path d="M100.79,732.85h1.5v1h-1.5zM100.79,742.41h1.5v1h-1.5zM100.79,751.96h1.5v1h-1.5zM100.79,828.38h1.5v1h-1.5zM100.79,837.94h1.5v1h-1.5zM100.79,847.49h1.5v1h-1.5zM111.10,723.30h1.5v1h-1.5zM111.10,732.85h1.5v1h-1.5zM111.10,742.41h1.5v1h-1.5zM111.10,751.96h1.5v1h-1.5zM111.10,761.51h1.5v1h-1.5zM111.10,771.06h1.5v1h-1.5zM111.10,818.83h1.5v1h-1.5zM111.10,828.38h1.5v1h-1.5zM111.10,837.94h1.5v1h-1.5zM111.10,847.49h1.5v1h-1.5zM121.41,723.30h1.5v1h-1.5zM121.41,732.85h1.5v1h-1.5zM121.41,742.41h1.5v1h-1.5zM121.41,751.96h1.5v1h-1.5zM121.41,761.51h1.5v1h-1.5zM121.41,771.06h1.5v1h-1.5zM121.41,780.62h1.5v1h-1.5zM121.41,790.17h1.5v1h-1.5zM121.41,799.72h1.5v1h-1.5zM121.41,809.28h1.5v1h-1.5zM121.41,818.83h1.5v1h-1.5zM121.41,828.38h1.5v1h-1.5zM121.41,837.94h1.5v1h-1.5zM121.41,847.49h1.5v1h-1.5zM121.41,857.04h1.5v1h-1.5zM121.41,866.60h1.5v1h-1.5zM131.72,723.30h1.5v1h-1.5zM131.72,732.85h1.5v1h-1.5zM131.72,742.41h1.5v1h-1.5zM131.72,751.96h1.5v1h-1.5zM131.72,761.51h1.5v1h-1.5zM131.72,771.06h1.5v1h-1.5zM131.72,780.62h1.5v1h-1.5zM131.72,790.17h1.5v1h-1.5zM131.72,799.72h1.5v1h-1.5zM131.72,809.28h1.5v1h-1.5zM131.72,818.83h1.5v1h-1.5zM131.72,828.38h1.5v1h-1.5zM131.72,837.94h1.5v1h-1.5zM131.72,847.49h1.5v1h-1.5zM131.72,866.60h1.5v1h-1.5zM142.03,723.30h1.5v1h-1.5zM142.03,732.85h1.5v1h-1.5zM142.03,742.41h1.5v1h-1.5zM142.03,751.96h1.5v1h-1.5zM142.03,771.06h1.5v1h-1.5zM142.03,780.62h1.5v1h-1.5zM142.03,790.17h1.5v1h-1.5zM142.03,799.72h1.5v1h-1.5zM142.03,809.28h1.5v1h-1.5zM142.03,818.83h1.5v1h-1.5zM142.03,828.38h1.5v1h-1.5zM142.03,837.94h1.5v1h-1.5zM142.03,847.49h1.5v1h-1.5zM142.03,857.04h1.5v1h-1.5zM142.03,866.60h1.5v1h-1.5zM152.34,723.30h1.5v1h-1.5zM152.34,732.85h1.5v1h-1.5zM152.34,742.41h1.5v1h-1.5zM152.34,751.96h1.5v1h-1.5zM152.34,761.51h1.5v1h-1.5zM152.34,771.06h1.5v1h-1.5zM152.34,780.62h1.5v1h-1.5zM152.34,790.17h1.5v1h-1.5zM152.34,799.72h1.5v1h-1.5zM152.34,809.28h1.5v1h-1.5zM152.34,818.83h1.5v1h-1.5zM152.34,828.38h1.5v1h-1.5zM152.34,837.94h1.5v1h-1.5zM152.34,847.49h1.5v1h-1.5zM152.34,857.04h1.5v1h-1.5zM152.34,866.60h1.5v1h-1.5zM162.65,723.30h1.5v1h-1.5zM162.65,732.85h1.5v1h-1.5zM162.65,742.41h1.5v1h-1.5zM162.65,751.96h1.5v1h-1.5zM162.65,761.51h1.5v1h-1.5zM162.65,771.06h1.5v1h-1.5zM162.65,780.62h1.5v1h-1.5zM162.65,790.17h1.5v1h-1.5zM162.65,799.72h1.5v1h-1.5zM162.65,818.83h1.5v1h-1.5zM162.65,828.38h1.5v1h-1.5zM162.65,837.94h1.5v1h-1.5zM162.65,847.49h1.5v1h-1.5zM162.65,857.04h1.5v1h-1.5zM162.65,866.60h1.5v1h-1.5zM172.96,723.30h1.5v1h-1.5zM172.96,732.85h1.5v1h-1.5zM172.96,742.41h1.5v1h-1.5zM172.96,751.96h1.5v1h-1.5zM172.96,761.51h1.5v1h-1.5zM172.96,771.06h1.5v1h-1.5zM172.96,780.62h1.5v1h-1.5zM172.96,790.17h1.5v1h-1.5zM172.96,799.72h1.5v1h-1.5zM172.96,809.28h1.5v1h-1.5zM172.96,818.83h1.5v1h-1.5zM172.96,828.38h1.5v1h-1.5zM172.96,837.94h1.5v1h-1.5zM172.96,847.49h1.5v1h-1.5zM172.96,857.04h1.5v1h-1.5zM172.96,866.60h1.5v1h-1.5zM183.27,723.30h1.5v1h-1.5zM183.27,732.85h1.5v1h-1.5zM183.27,742.41h1.5v1h-1.5zM183.27,751.96h1.5v1h-1.5zM183.27,761.51h1.5v1h-1.5zM183.27,771.06h1.5v1h-1.5zM183.27,780.62h1.5v1h-1.5zM183.27,790.17h1.5v1h-1.5zM183.27,799.72h1.5v1h-1.5zM183.27,809.28h1.5v1h-1.5zM183.27,818.83h1.5v1h-1.5zM183.27,828.38h1.5v1h-1.5zM183.27,837.94h1.5v1h-1.5zM183.27,847.49h1.5v1h-1.5zM183.27,857.04h1.5v1h-1.5zM183.27,866.60h1.5v1h-1.5zM193.58,751.96h1.5v1h-1.5zM193.58,761.51h1.5v1h-1.5zM193.58,771.06h1.5v1h-1.5zM193.58,780.62h1.5v1h-1.5zM193.58,790.17h1.5v1h-1.5zM193.58,799.72h1.5v1h-1.5zM193.58,809.28h1.5v1h-1.5zM193.58,818.83h1.5v1h-1.5zM193.58,828.38h1.5v1h-1.5zM193.58,837.94h1.5v1h-1.5zM193.58,847.49h1.5v1h-1.5zM193.58,857.04h1.5v1h-1.5zM193.58,866.60h1.5v1h-1.5zM203.89,799.72h1.5v1h-1.5zM203.89,809.28h1.5v1h-1.5zM203.89,818.83h1.5v1h-1.5zM203.89,828.38h1.5v1h-1.5zM203.89,837.94h1.5v1h-1.5zM203.89,847.49h1.5v1h-1.5zM203.89,857.04h1.5v1h-1.5zM203.89,866.60h1.5v1h-1.5zM214.20,799.72h1.5v1h-1.5zM214.20,809.28h1.5v1h-1.5zM214.20,818.83h1.5v1h-1.5zM214.20,828.38h1.5v1h-1.5zM214.20,837.94h1.5v1h-1.5zM214.20,847.49h1.5v1h-1.5zM214.20,857.04h1.5v1h-1.5zM214.20,866.60h1.5v1h-1.5z" fill="#141414"/>
<rect x="137.5" y="729.4" width="11.1" height="91" rx="4.8" fill="none" stroke="#2a2a2a" stroke-width=".9"/>
<text x="131.3" y="746.0" font-size="6.4" text-anchor="middle" fill="#4a3226">2</text>
<text x="131.3" y="756.2" font-size="6.4" text-anchor="middle" fill="#4a3226">3</text>
<text x="131.3" y="766.4" font-size="6.4" text-anchor="middle" fill="#4a3226">4</text>
<text x="131.3" y="776.5" font-size="6.4" text-anchor="middle" fill="#4a3226">5</text>
<text x="131.3" y="786.6" font-size="6.4" text-anchor="middle" fill="#4a3226">6</text>
<text x="131.3" y="796.8" font-size="6.4" text-anchor="middle" fill="#4a3226">7</text>
<text x="131.3" y="806.9" font-size="6.4" text-anchor="middle" fill="#4a3226">8</text>
<ellipse cx="131.4" cy="733.4" rx="4.5" ry="5.8" fill="#fff" stroke="#151515" stroke-width=".95"/>
<text x="131.4" y="737.1" font-size="10.3" text-anchor="middle" fill="#151515">1</text>
<ellipse cx="131.4" cy="814.7" rx="4.5" ry="5.8" fill="#fff" stroke="#151515" stroke-width=".95"/>
<text x="131.4" y="818.4" font-size="10.3" text-anchor="middle" fill="#151515">9</text>
<line x1="167.2" y1="733" x2="160" y2="753.5" stroke="#2a130c" stroke-width=".8"/>
<polygon points="159.0,756.5 158.7,750.3 160.3,752.7 163.1,751.8" fill="#2a130c"/>
<line x1="154.6" y1="762.8" x2="161" y2="764.6" stroke="#2a130c" stroke-width=".7"/>
<line x1="154.3" y1="764.9" x2="160.7" y2="766.7" stroke="#2a130c" stroke-width=".7"/>
<line x1="194.1" y1="829.2" x2="160" y2="775.5" stroke="#2a130c" stroke-width=".9"/>
<polygon points="158.2,772.5 163.4,776.3 160.4,776.0 159.4,778.9" fill="#2a130c"/>
<path d="M191.1,833.3 C175,833.6 160,832.5 147,830.3" fill="none" stroke="#2a130c" stroke-width=".9"/>
<polygon points="143.6,829.7 149.9,828.2 147.8,830.3 149.2,833.0" fill="#2a130c"/>
<clipPath id="cpD"><polygon points="296.8,276.4 447.2,276.4 447.2,425.8 346.9,425.8 326.9,405.9 326.9,386.0 316.9,376.0 316.9,366.0 306.8,356.1 306.8,346.1 296.8,336.2"/></clipPath>
<g clip-path="url(#cpD)"><g filter="url(#bmD)">
<path fill="#6dc8dd" d="M271.7,251.5h10.3v10.3h-10.3zM271.7,261.5h10.3v10.3h-10.3zM271.7,271.4h10.3v10.3h-10.3zM271.7,281.4h10.3v10.3h-10.3zM271.7,291.3h10.3v10.3h-10.3zM271.7,301.3h10.3v10.3h-10.3zM271.7,311.3h10.3v10.3h-10.3zM271.7,321.2h10.3v10.3h-10.3zM271.7,331.2h10.3v10.3h-10.3zM271.7,341.1h10.3v10.3h-10.3zM271.7,351.1h10.3v10.3h-10.3zM271.7,361.1h10.3v10.3h-10.3zM271.7,371.0h10.3v10.3h-10.3zM271.7,381.0h10.3v10.3h-10.3zM271.7,390.9h10.3v10.3h-10.3zM271.7,400.9h10.3v10.3h-10.3zM271.7,410.9h10.3v10.3h-10.3zM271.7,420.8h10.3v10.3h-10.3zM271.7,430.8h10.3v10.3h-10.3zM271.7,440.7h10.3v10.3h-10.3zM281.8,251.5h10.3v10.3h-10.3zM281.8,261.5h10.3v10.3h-10.3zM281.8,271.4h10.3v10.3h-10.3zM281.8,281.4h10.3v10.3h-10.3zM281.8,291.3h10.3v10.3h-10.3zM281.8,301.3h10.3v10.3h-10.3zM281.8,311.3h10.3v10.3h-10.3zM281.8,321.2h10.3v10.3h-10.3zM281.8,331.2h10.3v10.3h-10.3zM281.8,341.1h10.3v10.3h-10.3zM281.8,351.1h10.3v10.3h-10.3zM281.8,361.1h10.3v10.3h-10.3zM281.8,371.0h10.3v10.3h-10.3zM281.8,381.0h10.3v10.3h-10.3zM281.8,390.9h10.3v10.3h-10.3zM281.8,400.9h10.3v10.3h-10.3zM281.8,410.9h10.3v10.3h-10.3zM281.8,420.8h10.3v10.3h-10.3zM281.8,430.8h10.3v10.3h-10.3zM281.8,440.7h10.3v10.3h-10.3zM291.8,251.5h10.3v10.3h-10.3zM291.8,261.5h10.3v10.3h-10.3zM291.8,271.4h10.3v10.3h-10.3zM291.8,281.4h10.3v10.3h-10.3zM291.8,291.3h10.3v10.3h-10.3zM291.8,301.3h10.3v10.3h-10.3zM291.8,311.3h10.3v10.3h-10.3zM291.8,321.2h10.3v10.3h-10.3zM291.8,331.2h10.3v10.3h-10.3zM291.8,341.1h10.3v10.3h-10.3zM291.8,351.1h10.3v10.3h-10.3zM291.8,361.1h10.3v10.3h-10.3zM291.8,371.0h10.3v10.3h-10.3zM291.8,381.0h10.3v10.3h-10.3zM291.8,390.9h10.3v10.3h-10.3zM291.8,400.9h10.3v10.3h-10.3zM291.8,410.9h10.3v10.3h-10.3zM291.8,420.8h10.3v10.3h-10.3zM291.8,430.8h10.3v10.3h-10.3zM291.8,440.7h10.3v10.3h-10.3zM301.8,251.5h10.3v10.3h-10.3zM301.8,261.5h10.3v10.3h-10.3zM301.8,271.4h10.3v10.3h-10.3zM301.8,281.4h10.3v10.3h-10.3zM301.8,291.3h10.3v10.3h-10.3zM301.8,301.3h10.3v10.3h-10.3zM301.8,311.3h10.3v10.3h-10.3zM301.8,321.2h10.3v10.3h-10.3zM301.8,331.2h10.3v10.3h-10.3zM301.8,341.1h10.3v10.3h-10.3zM301.8,351.1h10.3v10.3h-10.3zM301.8,361.1h10.3v10.3h-10.3zM301.8,371.0h10.3v10.3h-10.3zM301.8,381.0h10.3v10.3h-10.3zM301.8,390.9h10.3v10.3h-10.3zM301.8,400.9h10.3v10.3h-10.3zM301.8,410.9h10.3v10.3h-10.3zM301.8,420.8h10.3v10.3h-10.3zM301.8,430.8h10.3v10.3h-10.3zM301.8,440.7h10.3v10.3h-10.3zM311.8,251.5h10.3v10.3h-10.3zM311.8,261.5h10.3v10.3h-10.3zM311.8,271.4h10.3v10.3h-10.3zM311.8,281.4h10.3v10.3h-10.3zM311.8,291.3h10.3v10.3h-10.3zM311.8,301.3h10.3v10.3h-10.3zM311.8,311.3h10.3v10.3h-10.3zM311.8,321.2h10.3v10.3h-10.3zM311.8,331.2h10.3v10.3h-10.3zM311.8,341.1h10.3v10.3h-10.3zM311.8,351.1h10.3v10.3h-10.3zM311.8,361.1h10.3v10.3h-10.3zM311.8,371.0h10.3v10.3h-10.3zM311.8,381.0h10.3v10.3h-10.3zM311.8,390.9h10.3v10.3h-10.3zM311.8,400.9h10.3v10.3h-10.3zM311.8,410.9h10.3v10.3h-10.3zM311.8,420.8h10.3v10.3h-10.3zM311.8,430.8h10.3v10.3h-10.3zM311.8,440.7h10.3v10.3h-10.3zM321.9,251.5h10.3v10.3h-10.3zM321.9,261.5h10.3v10.3h-10.3zM321.9,271.4h10.3v10.3h-10.3zM321.9,281.4h10.3v10.3h-10.3zM321.9,291.3h10.3v10.3h-10.3zM321.9,301.3h10.3v10.3h-10.3zM321.9,311.3h10.3v10.3h-10.3zM321.9,321.2h10.3v10.3h-10.3zM321.9,331.2h10.3v10.3h-10.3zM321.9,341.1h10.3v10.3h-10.3zM321.9,351.1h10.3v10.3h-10.3zM321.9,361.1h10.3v10.3h-10.3zM321.9,371.0h10.3v10.3h-10.3zM321.9,381.0h10.3v10.3h-10.3zM321.9,390.9h10.3v10.3h-10.3zM321.9,400.9h10.3v10.3h-10.3zM321.9,410.9h10.3v10.3h-10.3zM321.9,420.8h10.3v10.3h-10.3zM321.9,430.8h10.3v10.3h-10.3zM321.9,440.7h10.3v10.3h-10.3zM331.9,331.2h10.3v10.3h-10.3zM331.9,341.1h10.3v10.3h-10.3zM331.9,351.1h10.3v10.3h-10.3zM331.9,361.1h10.3v10.3h-10.3zM331.9,371.0h10.3v10.3h-10.3zM331.9,381.0h10.3v10.3h-10.3zM331.9,390.9h10.3v10.3h-10.3zM331.9,400.9h10.3v10.3h-10.3zM331.9,410.9h10.3v10.3h-10.3zM331.9,420.8h10.3v10.3h-10.3zM331.9,430.8h10.3v10.3h-10.3zM331.9,440.7h10.3v10.3h-10.3zM341.9,381.0h10.3v10.3h-10.3zM341.9,390.9h10.3v10.3h-10.3zM341.9,400.9h10.3v10.3h-10.3zM341.9,410.9h10.3v10.3h-10.3zM341.9,420.8h10.3v10.3h-10.3zM341.9,430.8h10.3v10.3h-10.3zM341.9,440.7h10.3v10.3h-10.3zM352.0,410.9h10.3v10.3h-10.3zM352.0,420.8h10.3v10.3h-10.3zM352.0,430.8h10.3v10.3h-10.3zM352.0,440.7h10.3v10.3h-10.3z"/>
<path fill="#6cc5de" d="M331.9,251.5h10.3v10.3h-10.3zM331.9,261.5h10.3v10.3h-10.3zM331.9,271.4h10.3v10.3h-10.3zM331.9,281.4h10.3v10.3h-10.3zM341.9,331.2h10.3v10.3h-10.3zM352.0,371.0h10.3v10.3h-10.3zM362.0,390.9h10.3v10.3h-10.3zM372.0,400.9h10.3v10.3h-10.3zM382.1,400.9h10.3v10.3h-10.3zM392.1,410.9h10.3v10.3h-10.3zM402.1,410.9h10.3v10.3h-10.3zM432.2,420.8h10.3v10.3h-10.3zM432.2,430.8h10.3v10.3h-10.3zM432.2,440.7h10.3v10.3h-10.3z"/>
<path fill="#6dc6de" d="M331.9,291.3h10.3v10.3h-10.3zM341.9,341.1h10.3v10.3h-10.3zM341.9,351.1h10.3v10.3h-10.3zM352.0,381.0h10.3v10.3h-10.3zM362.0,400.9h10.3v10.3h-10.3zM372.0,410.9h10.3v10.3h-10.3zM382.1,420.8h10.3v10.3h-10.3zM382.1,430.8h10.3v10.3h-10.3zM382.1,440.7h10.3v10.3h-10.3zM392.1,420.8h10.3v10.3h-10.3zM392.1,430.8h10.3v10.3h-10.3zM392.1,440.7h10.3v10.3h-10.3z"/>
<path fill="#6dc7de" d="M331.9,301.3h10.3v10.3h-10.3zM341.9,361.1h10.3v10.3h-10.3zM352.0,390.9h10.3v10.3h-10.3zM362.0,410.9h10.3v10.3h-10.3zM372.0,420.8h10.3v10.3h-10.3zM372.0,430.8h10.3v10.3h-10.3zM372.0,440.7h10.3v10.3h-10.3z"/>
<path fill="#6dc7dd" d="M331.9,311.3h10.3v10.3h-10.3zM331.9,321.2h10.3v10.3h-10.3zM341.9,371.0h10.3v10.3h-10.3zM352.0,400.9h10.3v10.3h-10.3zM362.0,420.8h10.3v10.3h-10.3zM362.0,430.8h10.3v10.3h-10.3zM362.0,440.7h10.3v10.3h-10.3z"/>
<path fill="#6eacd9" d="M341.9,251.5h10.3v10.3h-10.3zM341.9,261.5h10.3v10.3h-10.3zM341.9,271.4h10.3v10.3h-10.3zM341.9,281.4h10.3v10.3h-10.3zM412.1,351.1h10.3v10.3h-10.3zM442.2,381.0h10.3v10.3h-10.3zM452.3,381.0h10.3v10.3h-10.3zM462.3,381.0h10.3v10.3h-10.3z"/>
<path fill="#6db6dc" d="M341.9,291.3h10.3v10.3h-10.3zM382.1,351.1h10.3v10.3h-10.3zM442.2,390.9h10.3v10.3h-10.3zM452.3,390.9h10.3v10.3h-10.3zM462.3,390.9h10.3v10.3h-10.3z"/>
<path fill="#6cbfe0" d="M341.9,301.3h10.3v10.3h-10.3zM372.0,361.1h10.3v10.3h-10.3zM392.1,371.0h10.3v10.3h-10.3z"/>
<path fill="#6cc2df" d="M341.9,311.3h10.3v10.3h-10.3zM352.0,341.1h10.3v10.3h-10.3zM372.0,371.0h10.3v10.3h-10.3zM382.1,381.0h10.3v10.3h-10.3zM402.1,390.9h10.3v10.3h-10.3zM442.2,410.9h10.3v10.3h-10.3zM452.3,410.9h10.3v10.3h-10.3zM462.3,410.9h10.3v10.3h-10.3z"/>
<path fill="#6cc4df" d="M341.9,321.2h10.3v10.3h-10.3zM352.0,361.1h10.3v10.3h-10.3zM402.1,400.9h10.3v10.3h-10.3zM422.2,410.9h10.3v10.3h-10.3z"/>
<path fill="#866fba" d="M352.0,251.5h10.3v10.3h-10.3zM352.0,261.5h10.3v10.3h-10.3zM352.0,271.4h10.3v10.3h-10.3zM352.0,281.4h10.3v10.3h-10.3zM372.0,301.3h10.3v10.3h-10.3zM402.1,291.3h10.3v10.3h-10.3zM432.2,281.4h10.3v10.3h-10.3z"/>
<path fill="#7c82c5" d="M352.0,291.3h10.3v10.3h-10.3z"/>
<path fill="#709dd3" d="M352.0,301.3h10.3v10.3h-10.3zM412.1,331.2h10.3v10.3h-10.3zM422.2,341.1h10.3v10.3h-10.3z"/>
<path fill="#6eadd9" d="M352.0,311.3h10.3v10.3h-10.3zM392.1,341.1h10.3v10.3h-10.3z"/>
<path fill="#6db9dd" d="M352.0,321.2h10.3v10.3h-10.3zM392.1,361.1h10.3v10.3h-10.3z"/>
<path fill="#6cc0e0" d="M352.0,331.2h10.3v10.3h-10.3zM362.0,351.1h10.3v10.3h-10.3zM402.1,381.0h10.3v10.3h-10.3zM422.2,390.9h10.3v10.3h-10.3zM442.2,400.9h10.3v10.3h-10.3zM452.3,400.9h10.3v10.3h-10.3zM462.3,400.9h10.3v10.3h-10.3z"/>
<path fill="#6cc3df" d="M352.0,351.1h10.3v10.3h-10.3zM362.0,371.0h10.3v10.3h-10.3zM372.0,381.0h10.3v10.3h-10.3zM382.1,390.9h10.3v10.3h-10.3zM392.1,390.9h10.3v10.3h-10.3zM412.1,400.9h10.3v10.3h-10.3zM422.2,400.9h10.3v10.3h-10.3zM432.2,410.9h10.3v10.3h-10.3z"/>
<path fill="#a752a7" d="M362.0,251.5h10.3v10.3h-10.3zM362.0,261.5h10.3v10.3h-10.3zM362.0,271.4h10.3v10.3h-10.3zM362.0,281.4h10.3v10.3h-10.3z"/>
<path fill="#8b62b3" d="M362.0,291.3h10.3v10.3h-10.3z"/>
<path fill="#807cc2" d="M362.0,301.3h10.3v10.3h-10.3z"/>
<path fill="#7298d0" d="M362.0,311.3h10.3v10.3h-10.3z"/>
<path fill="#6ea8d7" d="M362.0,321.2h10.3v10.3h-10.3z"/>
<path fill="#6db2db" d="M362.0,331.2h10.3v10.3h-10.3zM412.1,361.1h10.3v10.3h-10.3zM432.2,381.0h10.3v10.3h-10.3z"/>
<path fill="#6cbbde" d="M362.0,341.1h10.3v10.3h-10.3zM402.1,371.0h10.3v10.3h-10.3zM432.2,390.9h10.3v10.3h-10.3z"/>
<path fill="#6cc1df" d="M362.0,361.1h10.3v10.3h-10.3zM432.2,400.9h10.3v10.3h-10.3z"/>
<path fill="#6cc4de" d="M362.0,381.0h10.3v10.3h-10.3zM372.0,390.9h10.3v10.3h-10.3zM392.1,400.9h10.3v10.3h-10.3zM412.1,410.9h10.3v10.3h-10.3zM442.2,420.8h10.3v10.3h-10.3zM442.2,430.8h10.3v10.3h-10.3zM442.2,440.7h10.3v10.3h-10.3zM452.3,420.8h10.3v10.3h-10.3zM452.3,430.8h10.3v10.3h-10.3zM452.3,440.7h10.3v10.3h-10.3zM462.3,420.8h10.3v10.3h-10.3zM462.3,430.8h10.3v10.3h-10.3zM462.3,440.7h10.3v10.3h-10.3z"/>
<path fill="#bb50a6" d="M372.0,251.5h10.3v10.3h-10.3zM372.0,261.5h10.3v10.3h-10.3zM372.0,271.4h10.3v10.3h-10.3zM372.0,281.4h10.3v10.3h-10.3z"/>
<path fill="#9a56a9" d="M372.0,291.3h10.3v10.3h-10.3z"/>
<path fill="#7988c9" d="M372.0,311.3h10.3v10.3h-10.3z"/>
<path fill="#6f9fd4" d="M372.0,321.2h10.3v10.3h-10.3z"/>
<path fill="#6ea9d8" d="M372.0,331.2h10.3v10.3h-10.3zM402.1,341.1h10.3v10.3h-10.3zM432.2,371.0h10.3v10.3h-10.3z"/>
<path fill="#6db4dc" d="M372.0,341.1h10.3v10.3h-10.3z"/>
<path fill="#6dbade" d="M372.0,351.1h10.3v10.3h-10.3z"/>
<path fill="#b051a6" d="M382.1,251.5h10.3v10.3h-10.3zM382.1,261.5h10.3v10.3h-10.3zM382.1,271.4h10.3v10.3h-10.3zM382.1,281.4h10.3v10.3h-10.3z"/>
<path fill="#945aad" d="M382.1,291.3h10.3v10.3h-10.3z"/>
<path fill="#8571bb" d="M382.1,301.3h10.3v10.3h-10.3zM412.1,251.5h10.3v10.3h-10.3zM412.1,261.5h10.3v10.3h-10.3zM412.1,271.4h10.3v10.3h-10.3zM412.1,281.4h10.3v10.3h-10.3zM422.2,251.5h10.3v10.3h-10.3zM422.2,261.5h10.3v10.3h-10.3zM422.2,271.4h10.3v10.3h-10.3zM432.2,251.5h10.3v10.3h-10.3zM432.2,261.5h10.3v10.3h-10.3zM432.2,271.4h10.3v10.3h-10.3zM442.2,251.5h10.3v10.3h-10.3zM442.2,261.5h10.3v10.3h-10.3zM442.2,271.4h10.3v10.3h-10.3zM452.3,251.5h10.3v10.3h-10.3zM452.3,261.5h10.3v10.3h-10.3zM452.3,271.4h10.3v10.3h-10.3zM462.3,251.5h10.3v10.3h-10.3zM462.3,261.5h10.3v10.3h-10.3zM462.3,271.4h10.3v10.3h-10.3z"/>
<path fill="#7a87c8" d="M382.1,311.3h10.3v10.3h-10.3zM402.1,311.3h10.3v10.3h-10.3zM422.2,321.2h10.3v10.3h-10.3z"/>
<path fill="#719ad2" d="M382.1,321.2h10.3v10.3h-10.3z"/>
<path fill="#6ea6d6" d="M382.1,331.2h10.3v10.3h-10.3zM412.1,341.1h10.3v10.3h-10.3z"/>
<path fill="#6eb0da" d="M382.1,341.1h10.3v10.3h-10.3z"/>
<path fill="#6cbcde" d="M382.1,361.1h10.3v10.3h-10.3z"/>
<path fill="#6cc1e0" d="M382.1,371.0h10.3v10.3h-10.3zM392.1,381.0h10.3v10.3h-10.3zM412.1,390.9h10.3v10.3h-10.3z"/>
<path fill="#6cc6de" d="M382.1,410.9h10.3v10.3h-10.3zM402.1,420.8h10.3v10.3h-10.3zM402.1,430.8h10.3v10.3h-10.3zM402.1,440.7h10.3v10.3h-10.3zM412.1,420.8h10.3v10.3h-10.3zM412.1,430.8h10.3v10.3h-10.3zM412.1,440.7h10.3v10.3h-10.3zM422.2,420.8h10.3v10.3h-10.3zM422.2,430.8h10.3v10.3h-10.3zM422.2,440.7h10.3v10.3h-10.3z"/>
<path fill="#925cae" d="M392.1,251.5h10.3v10.3h-10.3zM392.1,261.5h10.3v10.3h-10.3zM392.1,271.4h10.3v10.3h-10.3zM392.1,281.4h10.3v10.3h-10.3z"/>
<path fill="#8968b6" d="M392.1,291.3h10.3v10.3h-10.3z"/>
<path fill="#8279c0" d="M392.1,301.3h10.3v10.3h-10.3z"/>
<path fill="#7989c9" d="M392.1,311.3h10.3v10.3h-10.3zM432.2,331.2h10.3v10.3h-10.3z"/>
<path fill="#7298d1" d="M392.1,321.2h10.3v10.3h-10.3z"/>
<path fill="#6fa4d6" d="M392.1,331.2h10.3v10.3h-10.3zM422.2,351.1h10.3v10.3h-10.3z"/>
<path fill="#6db3db" d="M392.1,351.1h10.3v10.3h-10.3z"/>
<path fill="#8967b6" d="M402.1,251.5h10.3v10.3h-10.3zM402.1,261.5h10.3v10.3h-10.3zM402.1,271.4h10.3v10.3h-10.3zM402.1,281.4h10.3v10.3h-10.3z"/>
<path fill="#807bc1" d="M402.1,301.3h10.3v10.3h-10.3z"/>
<path fill="#7495cf" d="M402.1,321.2h10.3v10.3h-10.3z"/>
<path fill="#6fa1d5" d="M402.1,331.2h10.3v10.3h-10.3z"/>
<path fill="#6eafda" d="M402.1,351.1h10.3v10.3h-10.3z"/>
<path fill="#6db5dc" d="M402.1,361.1h10.3v10.3h-10.3z"/>
<path fill="#8474bd" d="M412.1,291.3h10.3v10.3h-10.3zM442.2,311.3h10.3v10.3h-10.3zM452.3,311.3h10.3v10.3h-10.3zM462.3,311.3h10.3v10.3h-10.3z"/>
<path fill="#807cc1" d="M412.1,301.3h10.3v10.3h-10.3zM442.2,321.2h10.3v10.3h-10.3zM452.3,321.2h10.3v10.3h-10.3zM462.3,321.2h10.3v10.3h-10.3z"/>
<path fill="#7b84c7" d="M412.1,311.3h10.3v10.3h-10.3z"/>
<path fill="#7691cd" d="M412.1,321.2h10.3v10.3h-10.3z"/>
<path fill="#6db8dd" d="M412.1,371.0h10.3v10.3h-10.3zM422.2,381.0h10.3v10.3h-10.3z"/>
<path fill="#6cbedf" d="M412.1,381.0h10.3v10.3h-10.3z"/>
<path fill="#8670bb" d="M422.2,281.4h10.3v10.3h-10.3zM432.2,291.3h10.3v10.3h-10.3zM442.2,301.3h10.3v10.3h-10.3zM452.3,301.3h10.3v10.3h-10.3zM462.3,301.3h10.3v10.3h-10.3z"/>
<path fill="#8572bc" d="M422.2,291.3h10.3v10.3h-10.3z"/>
<path fill="#8277bf" d="M422.2,301.3h10.3v10.3h-10.3z"/>
<path fill="#7e7fc3" d="M422.2,311.3h10.3v10.3h-10.3z"/>
<path fill="#7592ce" d="M422.2,331.2h10.3v10.3h-10.3z"/>
<path fill="#6eaad8" d="M422.2,361.1h10.3v10.3h-10.3z"/>
<path fill="#6db0da" d="M422.2,371.0h10.3v10.3h-10.3z"/>
<path fill="#8473bd" d="M432.2,301.3h10.3v10.3h-10.3z"/>
<path fill="#8179c0" d="M432.2,311.3h10.3v10.3h-10.3z"/>
<path fill="#7d81c4" d="M432.2,321.2h10.3v10.3h-10.3z"/>
<path fill="#7494ce" d="M432.2,341.1h10.3v10.3h-10.3zM442.2,351.1h10.3v10.3h-10.3zM452.3,351.1h10.3v10.3h-10.3zM462.3,351.1h10.3v10.3h-10.3z"/>
<path fill="#709cd3" d="M432.2,351.1h10.3v10.3h-10.3z"/>
<path fill="#6fa3d5" d="M432.2,361.1h10.3v10.3h-10.3z"/>
<path fill="#866eba" d="M442.2,281.4h10.3v10.3h-10.3zM442.2,291.3h10.3v10.3h-10.3zM452.3,281.4h10.3v10.3h-10.3zM452.3,291.3h10.3v10.3h-10.3zM462.3,281.4h10.3v10.3h-10.3zM462.3,291.3h10.3v10.3h-10.3z"/>
<path fill="#7c83c6" d="M442.2,331.2h10.3v10.3h-10.3zM452.3,331.2h10.3v10.3h-10.3zM462.3,331.2h10.3v10.3h-10.3z"/>
<path fill="#788cca" d="M442.2,341.1h10.3v10.3h-10.3zM452.3,341.1h10.3v10.3h-10.3zM462.3,341.1h10.3v10.3h-10.3z"/>
<path fill="#709cd2" d="M442.2,361.1h10.3v10.3h-10.3zM452.3,361.1h10.3v10.3h-10.3zM462.3,361.1h10.3v10.3h-10.3z"/>
<path fill="#6fa2d5" d="M442.2,371.0h10.3v10.3h-10.3zM452.3,371.0h10.3v10.3h-10.3zM462.3,371.0h10.3v10.3h-10.3z"/>
</g></g>
<path d="M296.2,335.6h1.2v1.2h-1.2zM296.2,345.5h1.2v1.2h-1.2zM296.2,355.5h1.2v1.2h-1.2zM296.2,365.4h1.2v1.2h-1.2zM296.2,375.4h1.2v1.2h-1.2zM296.2,385.4h1.2v1.2h-1.2zM296.2,395.3h1.2v1.2h-1.2zM296.2,405.3h1.2v1.2h-1.2zM296.2,415.2h1.2v1.2h-1.2zM296.2,425.2h1.2v1.2h-1.2zM306.2,345.5h1.2v1.2h-1.2zM306.2,355.5h1.2v1.2h-1.2zM306.2,365.4h1.2v1.2h-1.2zM306.2,375.4h1.2v1.2h-1.2zM306.2,385.4h1.2v1.2h-1.2zM306.2,395.3h1.2v1.2h-1.2zM306.2,405.3h1.2v1.2h-1.2zM306.2,415.2h1.2v1.2h-1.2zM306.2,425.2h1.2v1.2h-1.2zM316.3,355.5h1.2v1.2h-1.2zM316.3,365.4h1.2v1.2h-1.2zM316.3,375.4h1.2v1.2h-1.2zM316.3,385.4h1.2v1.2h-1.2zM316.3,395.3h1.2v1.2h-1.2zM316.3,405.3h1.2v1.2h-1.2zM316.3,415.2h1.2v1.2h-1.2zM316.3,425.2h1.2v1.2h-1.2zM326.3,375.4h1.2v1.2h-1.2zM326.3,385.4h1.2v1.2h-1.2zM326.3,395.3h1.2v1.2h-1.2zM326.3,405.3h1.2v1.2h-1.2zM326.3,415.2h1.2v1.2h-1.2zM326.3,425.2h1.2v1.2h-1.2zM336.3,415.2h1.2v1.2h-1.2zM336.3,425.2h1.2v1.2h-1.2zM346.3,385.4h1.2v1.2h-1.2zM346.3,425.2h1.2v1.2h-1.2zM366.4,385.4h1.2v1.2h-1.2z" fill="#ee716d"/>
<clipPath id="caD"><rect x="296.0" y="275.6" width="152.0" height="150.8"/></clipPath><path clip-path="url(#caD)" d="M296.6,276.7L299.5,279.2L300.0,280.4L301.1,280.9L302.0,280.7L302.0,279.8L301.3,278.9L300.0,278.6L297.0,276.1zM306.6,276.7L309.7,279.1L310.2,280.3L311.3,280.8L312.1,280.6L312.2,279.7L311.4,278.7L310.1,278.5L307.1,276.1zM316.6,276.7L319.7,279.1L320.3,280.2L321.4,280.7L322.3,280.5L322.2,279.6L321.4,278.6L320.2,278.4L317.1,276.1zM326.6,276.7L329.3,279.5L329.7,280.7L330.7,281.4L331.6,281.3L331.7,280.4L331.1,279.3L329.9,278.9L327.2,276.1zM336.6,276.6L338.7,279.9L338.8,281.1L339.7,282.0L340.6,282.1L340.9,281.2L340.5,280.1L339.4,279.5L337.2,276.2zM346.6,276.5L348.1,280.1L348.0,281.4L348.7,282.4L349.6,282.6L350.0,281.8L349.8,280.6L348.8,279.8L347.3,276.3zM356.6,276.5L357.5,280.3L357.1,281.5L357.7,282.6L358.5,283.0L359.1,282.3L359.1,281.1L358.2,280.1L357.4,276.3zM366.6,276.4L367.0,280.3L366.5,281.5L366.8,282.6L367.6,283.1L368.3,282.5L368.4,281.3L367.7,280.3L367.4,276.4zM376.7,276.4L376.2,280.2L375.5,281.2L375.6,282.5L376.2,283.1L377.0,282.6L377.4,281.5L376.9,280.3L377.4,276.4zM386.7,276.3L386.0,280.2L385.2,281.2L385.3,282.4L385.9,283.0L386.7,282.6L387.2,281.5L386.8,280.3L387.4,276.5zM396.7,276.3L396.0,280.2L395.3,281.2L395.3,282.4L395.9,283.0L396.7,282.6L397.2,281.5L396.8,280.3L397.5,276.5zM406.8,276.4L406.6,280.3L406.0,281.4L406.2,282.6L406.9,283.1L407.6,282.6L407.9,281.4L407.4,280.3L407.5,276.4zM416.8,276.5L417.9,280.3L417.6,281.5L418.2,282.6L419.0,282.9L419.5,282.2L419.5,280.9L418.6,280.0L417.5,276.3zM426.8,276.5L428.3,280.2L428.2,281.4L428.9,282.4L429.7,282.7L430.2,281.9L430.0,280.7L429.0,279.9L427.5,276.3zM436.9,276.6L438.7,280.0L438.6,281.3L439.4,282.2L440.3,282.4L440.7,281.6L440.4,280.4L439.3,279.7L437.6,276.2zM446.9,276.6L448.7,280.0L448.6,281.3L449.4,282.2L450.3,282.4L450.7,281.6L450.4,280.4L449.4,279.7L447.6,276.2zM296.5,286.6L299.3,289.3L299.7,290.5L300.8,291.2L301.7,291.0L301.8,290.2L301.1,289.1L299.9,288.8L297.1,286.1zM306.6,286.7L309.6,289.2L310.0,290.3L311.1,290.9L312.0,290.7L312.0,289.8L311.3,288.8L310.1,288.6L307.1,286.1zM316.6,286.7L319.7,289.1L320.1,290.3L321.2,290.8L322.1,290.6L322.1,289.7L321.4,288.7L320.1,288.5L317.1,286.1zM326.6,286.6L329.3,289.5L329.6,290.7L330.6,291.4L331.5,291.3L331.6,290.4L331.0,289.3L329.8,289.0L327.2,286.1zM336.6,286.6L338.7,289.8L338.8,291.1L339.7,291.9L340.6,292.0L340.9,291.2L340.5,290.0L339.4,289.4L337.2,286.2zM346.6,286.5L347.5,290.2L347.2,291.4L347.8,292.5L348.6,292.9L349.1,292.2L349.1,291.0L348.3,290.1L347.3,286.3zM356.6,286.4L357.3,290.3L356.9,291.5L357.4,292.6L358.2,293.0L358.8,292.3L358.8,291.1L358.0,290.1L357.4,286.3zM366.6,286.4L367.0,290.3L366.5,291.4L366.8,292.6L367.6,293.1L368.3,292.5L368.4,291.3L367.7,290.2L367.4,286.3zM376.7,286.3L376.2,290.2L375.5,291.2L375.6,292.4L376.2,293.1L377.0,292.6L377.4,291.4L376.9,290.3L377.4,286.4zM386.7,286.3L386.0,290.1L385.2,291.1L385.3,292.3L385.9,293.0L386.7,292.6L387.2,291.5L386.8,290.3L387.4,286.4zM396.7,286.3L396.2,290.2L395.4,291.2L395.5,292.4L396.2,293.0L396.9,292.6L397.4,291.4L396.9,290.3L397.5,286.4zM406.8,286.4L406.8,290.3L406.1,291.4L406.4,292.6L407.1,293.1L407.8,292.6L408.1,291.4L407.5,290.3L407.5,286.4zM416.8,286.5L417.8,290.2L417.5,291.4L418.1,292.5L418.9,292.9L419.4,292.2L419.4,290.9L418.5,290.0L417.5,286.3zM426.8,286.5L428.2,290.2L428.0,291.4L428.6,292.4L429.5,292.7L430.0,291.9L429.8,290.7L428.9,289.9L427.5,286.2zM436.9,286.5L438.4,290.1L438.3,291.3L439.0,292.3L439.9,292.6L440.3,291.8L440.1,290.6L439.1,289.8L437.6,286.2zM446.9,286.5L448.4,290.1L448.3,291.3L449.0,292.3L449.9,292.6L450.3,291.8L450.1,290.6L449.1,289.8L447.6,286.2zM296.5,296.6L299.0,299.6L299.3,300.8L300.2,301.5L301.1,301.5L301.3,300.6L300.8,299.5L299.6,299.1L297.1,296.1zM306.5,296.6L309.2,299.5L309.4,300.7L310.5,301.4L311.3,301.3L311.5,300.5L310.9,299.4L309.7,299.0L307.1,296.1zM316.6,296.6L319.4,299.3L319.8,300.5L320.8,301.1L321.7,301.0L321.8,300.1L321.1,299.1L319.9,298.8L317.1,296.0zM326.6,296.6L329.2,299.5L329.4,300.7L330.4,301.5L331.3,301.4L331.5,300.5L330.9,299.5L329.7,299.0L327.2,296.1zM336.6,296.5L338.9,299.7L339.1,300.9L340.0,301.8L340.9,301.8L341.1,300.9L340.7,299.8L339.5,299.3L337.2,296.1zM346.6,296.5L348.0,300.1L347.8,301.3L348.5,302.4L349.4,302.6L349.8,301.9L349.7,300.6L348.7,299.8L347.3,296.2zM356.6,296.4L357.3,300.2L356.9,301.4L357.4,302.5L358.2,303.0L358.8,302.3L358.8,301.1L358.0,300.1L357.4,296.3zM366.6,296.4L367.0,300.2L366.5,301.4L366.8,302.6L367.6,303.0L368.3,302.4L368.4,301.2L367.7,300.2L367.4,296.3zM376.7,296.3L376.3,300.2L375.6,301.2L375.8,302.4L376.5,303.0L377.2,302.6L377.6,301.4L377.1,300.2L377.4,296.4zM386.7,296.3L386.2,300.1L385.5,301.2L385.6,302.4L386.2,303.0L387.0,302.6L387.4,301.4L387.0,300.2L387.4,296.4zM396.7,296.3L396.5,300.2L395.9,301.3L396.1,302.5L396.7,303.1L397.5,302.5L397.8,301.4L397.3,300.2L397.5,296.3zM406.8,296.3L406.9,300.2L406.3,301.4L406.6,302.5L407.4,303.1L408.1,302.5L408.3,301.3L407.6,300.2L407.5,296.3zM416.8,296.4L417.6,300.2L417.2,301.4L417.8,302.5L418.6,302.9L419.1,302.2L419.2,301.0L418.3,300.1L417.5,296.2zM426.8,296.4L428.0,300.1L427.8,301.4L428.4,302.4L429.3,302.7L429.8,302.0L429.7,300.8L428.8,299.9L427.6,296.2zM436.9,296.4L438.1,300.1L437.8,301.4L438.5,302.4L439.3,302.7L439.8,302.0L439.7,300.8L438.8,299.9L437.6,296.2zM446.9,296.4L448.1,300.1L447.9,301.4L448.5,302.4L449.3,302.7L449.8,302.0L449.7,300.8L448.8,299.9L447.6,296.2zM296.5,306.4L298.2,310.0L298.1,311.2L298.9,312.2L299.8,312.3L300.2,311.5L299.9,310.3L298.9,309.6L297.1,306.1zM306.5,306.4L308.1,310.0L308.1,311.2L308.8,312.2L309.7,312.4L310.1,311.6L309.8,310.4L308.8,309.7L307.2,306.1zM316.6,306.5L318.9,309.6L319.1,310.9L320.0,311.7L320.9,311.7L321.2,310.8L320.7,309.7L319.5,309.2L317.2,306.1zM326.6,306.5L329.0,309.6L329.2,310.8L330.2,311.6L331.0,311.6L331.3,310.7L330.7,309.6L329.6,309.1L327.2,306.0zM336.6,306.4L338.2,310.0L338.1,311.2L338.9,312.2L339.8,312.4L340.2,311.6L339.9,310.4L338.9,309.7L337.3,306.1zM346.6,306.4L347.7,310.1L347.4,311.4L348.0,312.4L348.8,312.8L349.3,312.0L349.3,310.8L348.4,309.9L347.3,306.2zM356.6,306.3L357.1,310.2L356.6,311.4L357.0,312.5L357.8,313.0L358.4,312.3L358.6,311.1L357.8,310.1L357.4,306.2zM366.6,306.3L366.8,310.2L366.2,311.3L366.5,312.5L367.2,313.0L367.9,312.5L368.2,311.2L367.5,310.2L367.4,306.3zM376.7,306.3L376.5,310.2L375.9,311.2L376.1,312.5L376.8,313.0L377.5,312.5L377.8,311.3L377.3,310.2L377.4,306.3zM386.7,306.3L386.6,310.2L385.9,311.2L386.1,312.5L386.8,313.0L387.6,312.5L387.9,311.3L387.3,310.2L387.4,306.3zM396.7,306.3L396.7,310.2L396.1,311.3L396.4,312.5L397.1,313.0L397.8,312.5L398.1,311.3L397.5,310.2L397.5,306.3zM406.8,306.3L406.9,310.2L406.3,311.3L406.6,312.5L407.4,313.0L408.1,312.5L408.3,311.2L407.6,310.2L407.5,306.3zM416.8,306.3L417.5,310.2L417.1,311.4L417.5,312.5L418.3,312.9L418.9,312.3L419.0,311.0L418.2,310.1L417.5,306.2zM426.8,306.4L427.8,310.1L427.5,311.4L428.1,312.5L428.9,312.8L429.5,312.1L429.4,310.9L428.6,309.9L427.6,306.2zM436.9,306.4L437.9,310.1L437.6,311.4L438.1,312.5L439.0,312.8L439.5,312.1L439.5,310.9L438.6,309.9L437.6,306.2zM446.9,306.4L447.9,310.1L447.6,311.4L448.2,312.5L449.0,312.8L449.5,312.1L449.5,310.9L448.6,309.9L447.6,306.2zM296.4,316.3L296.9,320.2L296.4,321.3L296.9,322.5L297.6,322.9L298.3,322.3L298.4,321.1L297.7,320.1L297.2,316.2zM306.5,316.3L307.0,320.2L306.6,321.3L307.0,322.5L307.8,322.9L308.4,322.3L308.5,321.1L307.7,320.0L307.2,316.2zM316.5,316.4L318.5,319.8L318.5,321.1L319.3,322.0L320.2,322.1L320.6,321.3L320.2,320.1L319.1,319.4L317.2,316.1zM326.6,316.5L329.0,319.5L329.3,320.7L330.2,321.5L331.1,321.5L331.3,320.6L330.8,319.5L329.6,319.0L327.2,316.0zM336.6,316.4L338.4,319.9L338.3,321.1L339.1,322.1L340.0,322.3L340.4,321.4L340.1,320.3L339.0,319.5L337.3,316.1zM346.6,316.3L347.5,320.1L347.1,321.3L347.7,322.4L348.5,322.8L349.0,322.1L349.0,320.9L348.2,320.0L347.3,316.2zM356.6,316.3L356.8,320.2L356.3,321.3L356.6,322.5L357.3,323.0L358.0,322.4L358.2,321.2L357.6,320.1L357.4,316.2zM366.6,316.3L366.8,320.2L366.2,321.3L366.5,322.5L367.2,323.0L367.9,322.4L368.2,321.2L367.5,320.1L367.4,316.2zM376.7,316.2L376.7,320.1L376.1,321.2L376.3,322.4L377.0,323.0L377.7,322.4L378.0,321.2L377.4,320.1L377.4,316.2zM386.7,316.2L386.7,320.1L386.1,321.2L386.4,322.4L387.1,323.0L387.8,322.4L388.1,321.2L387.4,320.1L387.4,316.2zM396.7,316.2L396.7,320.1L396.1,321.2L396.4,322.4L397.1,323.0L397.8,322.4L398.1,321.2L397.5,320.1L397.5,316.2zM406.8,316.3L406.9,320.2L406.3,321.3L406.6,322.5L407.4,323.0L408.1,322.4L408.3,321.2L407.6,320.1L407.5,316.2zM416.8,316.3L417.3,320.2L416.9,321.3L417.3,322.5L418.1,322.9L418.7,322.3L418.8,321.1L418.1,320.0L417.5,316.2zM426.8,316.3L427.6,320.1L427.3,321.3L427.8,322.5L428.6,322.8L429.2,322.2L429.2,320.9L428.4,320.0L427.6,316.2zM436.8,316.3L437.7,320.1L437.3,321.3L437.8,322.5L438.6,322.8L439.2,322.2L439.2,320.9L438.4,320.0L437.6,316.2zM446.9,316.3L447.7,320.1L447.3,321.3L447.8,322.5L448.7,322.8L449.2,322.2L449.2,320.9L448.4,320.0L447.6,316.2zM296.4,326.3L297.1,330.1L296.7,331.3L297.2,332.4L298.0,332.8L298.6,332.2L298.6,331.0L297.9,330.0L297.2,326.1zM306.5,326.3L307.4,330.1L307.1,331.3L307.6,332.4L308.5,332.7L309.0,332.0L309.0,330.8L308.1,329.9L307.2,326.1zM316.5,326.4L318.4,329.8L318.3,331.1L319.1,332.0L320.0,332.2L320.4,331.3L320.1,330.2L319.0,329.5L317.2,326.0zM326.6,326.4L328.8,329.6L328.9,330.9L329.8,331.7L330.7,331.8L330.9,330.9L330.5,329.8L329.4,329.2L327.2,326.0zM336.6,326.4L338.3,329.9L338.2,331.1L339.0,332.1L339.9,332.3L340.3,331.5L340.0,330.3L339.0,329.5L337.3,326.0zM346.6,326.3L347.4,330.1L347.0,331.3L347.5,332.4L348.4,332.8L348.9,332.1L348.9,330.9L348.1,329.9L347.3,326.1zM356.6,326.2L356.8,330.1L356.3,331.2L356.6,332.4L357.3,332.9L358.0,332.4L358.2,331.1L357.6,330.1L357.4,326.2zM366.6,326.2L367.0,330.1L366.5,331.3L366.8,332.4L367.6,332.9L368.3,332.3L368.4,331.1L367.7,330.1L367.4,326.2zM376.7,326.2L376.7,330.1L376.1,331.2L376.3,332.4L377.0,332.9L377.7,332.4L378.0,331.2L377.4,330.1L377.4,326.2zM386.7,326.2L386.7,330.1L386.1,331.2L386.4,332.4L387.1,332.9L387.8,332.4L388.1,331.2L387.4,330.1L387.4,326.2zM396.7,326.2L396.7,330.1L396.1,331.2L396.4,332.4L397.1,332.9L397.8,332.4L398.1,331.2L397.5,330.1L397.5,326.2zM406.8,326.2L406.9,330.1L406.3,331.2L406.6,332.4L407.4,332.9L408.1,332.4L408.3,331.2L407.6,330.1L407.5,326.2zM416.8,326.2L417.1,330.1L416.6,331.3L417.0,332.4L417.7,332.9L418.4,332.3L418.6,331.1L417.9,330.1L417.5,326.2zM426.8,326.3L427.5,330.1L427.1,331.3L427.6,332.4L428.4,332.8L429.0,332.2L429.0,331.0L428.2,330.0L427.6,326.1zM436.8,326.3L437.5,330.1L437.1,331.3L437.6,332.4L438.4,332.8L439.0,332.2L439.1,331.0L438.3,330.0L437.6,326.1zM446.9,326.3L447.6,330.1L447.2,331.3L447.6,332.4L448.4,332.8L449.0,332.2L449.1,331.0L448.3,330.0L447.6,326.1zM296.4,336.3L297.4,340.0L297.1,341.2L297.7,342.3L298.5,342.7L299.1,342.0L299.0,340.7L298.2,339.8L297.2,336.1zM306.5,336.3L307.7,340.0L307.5,341.2L308.2,342.3L309.0,342.5L309.5,341.8L309.4,340.6L308.5,339.7L307.2,336.0zM316.5,336.3L318.1,339.9L318.0,341.1L318.7,342.1L319.6,342.3L320.0,341.5L319.8,340.3L318.8,339.6L317.2,336.0zM326.5,336.3L328.2,339.9L328.1,341.1L328.9,342.1L329.7,342.3L330.1,341.5L329.9,340.3L328.9,339.5L327.2,336.0zM336.6,336.3L337.9,340.0L337.7,341.2L338.4,342.2L339.2,342.5L339.7,341.7L339.6,340.5L338.6,339.7L337.3,336.0zM346.6,336.2L346.6,340.1L346.1,341.2L346.4,342.4L347.1,342.9L347.8,342.3L348.0,341.1L347.4,340.1L347.3,336.2zM356.6,336.1L356.3,340.0L355.6,341.1L355.7,342.3L356.4,342.9L357.1,342.4L357.5,341.2L357.0,340.1L357.4,336.2zM366.6,336.2L366.6,340.1L366.0,341.2L366.3,342.4L367.0,342.9L367.7,342.4L368.0,341.2L367.4,340.1L367.4,336.2zM376.7,336.2L376.7,340.1L376.1,341.2L376.3,342.4L377.0,342.9L377.7,342.4L378.0,341.2L377.4,340.1L377.4,336.2zM386.7,336.2L386.7,340.1L386.1,341.2L386.4,342.4L387.1,342.9L387.8,342.4L388.1,341.2L387.4,340.1L387.4,336.2zM396.7,336.2L396.7,340.1L396.1,341.2L396.4,342.4L397.1,342.9L397.8,342.4L398.1,341.2L397.5,340.1L397.5,336.2zM406.8,336.2L406.8,340.1L406.1,341.2L406.4,342.4L407.1,342.9L407.8,342.4L408.1,341.2L407.5,340.1L407.5,336.2zM416.8,336.2L416.9,340.1L416.4,341.2L416.7,342.4L417.4,342.9L418.1,342.3L418.3,341.1L417.7,340.0L417.5,336.1zM426.8,336.2L427.2,340.1L426.6,341.2L427.0,342.4L427.8,342.9L428.4,342.3L428.6,341.1L427.9,340.0L427.6,336.1zM436.8,336.2L437.2,340.1L436.7,341.2L437.1,342.4L437.8,342.9L438.5,342.3L438.6,341.1L437.9,340.0L437.6,336.1zM446.9,336.2L447.2,340.1L446.7,341.2L447.1,342.4L447.8,342.9L448.5,342.3L448.7,341.1L448.0,340.0L447.6,336.1zM306.5,346.2L307.7,349.9L307.4,351.2L308.1,352.2L308.9,352.5L309.4,351.8L309.3,350.6L308.4,349.7L307.2,346.0zM316.5,346.2L317.6,350.0L317.3,351.2L317.9,352.3L318.7,352.6L319.2,351.9L319.2,350.7L318.3,349.8L317.2,346.0zM326.5,346.2L327.4,350.0L327.1,351.2L327.6,352.3L328.4,352.7L329.0,352.0L329.0,350.8L328.1,349.8L327.3,346.0zM336.5,346.1L336.2,350.0L335.5,351.0L335.7,352.2L336.3,352.8L337.1,352.4L337.5,351.2L337.0,350.0L337.3,346.2zM346.6,346.0L345.6,349.8L344.7,350.7L344.7,351.9L345.2,352.6L346.0,352.3L346.6,351.2L346.3,350.0L347.3,346.2zM356.6,346.1L355.9,349.9L355.1,350.9L355.2,352.1L355.8,352.8L356.6,352.3L357.1,351.2L356.7,350.0L357.4,346.2zM366.6,346.1L366.6,350.0L366.0,351.1L366.3,352.3L367.0,352.9L367.7,352.3L368.0,351.1L367.4,350.0L367.4,346.1zM376.7,346.1L376.7,350.0L376.1,351.1L376.3,352.3L377.0,352.9L377.7,352.3L378.0,351.1L377.4,350.0L377.4,346.1zM386.7,346.1L386.7,350.0L386.1,351.1L386.4,352.3L387.1,352.9L387.8,352.3L388.1,351.1L387.4,350.0L387.4,346.1zM396.7,346.1L396.7,350.0L396.1,351.1L396.4,352.3L397.1,352.9L397.8,352.3L398.1,351.1L397.5,350.0L397.5,346.1zM406.8,346.1L406.8,350.0L406.1,351.1L406.4,352.3L407.1,352.9L407.8,352.3L408.1,351.1L407.5,350.0L407.5,346.1zM416.8,346.1L416.8,350.0L416.2,351.1L416.5,352.3L417.2,352.9L417.9,352.3L418.1,351.1L417.5,350.0L417.5,346.1zM426.8,346.1L426.8,350.0L426.2,351.1L426.5,352.3L427.2,352.9L427.9,352.3L428.2,351.1L427.6,350.0L427.6,346.1zM436.8,346.1L436.8,350.0L436.2,351.1L436.5,352.3L437.2,352.9L437.9,352.3L438.2,351.1L437.6,350.0L437.6,346.1zM446.9,346.1L446.9,350.0L446.3,351.1L446.5,352.3L447.2,352.9L448.0,352.3L448.2,351.1L447.6,350.0L447.6,346.1zM306.5,356.1L306.8,360.0L306.3,361.1L306.7,362.3L307.4,362.8L308.1,362.2L308.2,361.0L307.5,359.9L307.2,356.0zM316.5,356.1L316.7,360.0L316.1,361.1L316.5,362.3L317.2,362.8L317.9,362.2L318.1,361.0L317.4,360.0L317.2,356.1zM326.5,356.0L326.1,359.9L325.4,361.0L325.5,362.2L326.2,362.8L326.9,362.3L327.3,361.2L326.9,360.0L327.3,356.1zM336.6,356.0L335.3,359.6L334.4,360.5L334.2,361.7L334.7,362.5L335.6,362.2L336.2,361.1L336.0,359.9L337.3,356.2zM346.6,356.0L345.3,359.6L344.3,360.4L344.2,361.7L344.6,362.4L345.5,362.1L346.2,361.1L346.0,359.9L347.3,356.2zM356.6,356.0L355.9,359.8L355.1,360.8L355.1,362.0L355.7,362.7L356.5,362.3L357.0,361.2L356.6,360.0L357.4,356.2zM366.6,356.1L366.8,360.0L366.2,361.1L366.5,362.3L367.2,362.8L367.9,362.3L368.2,361.0L367.5,360.0L367.4,356.1zM376.7,356.1L376.7,360.0L376.1,361.1L376.3,362.3L377.0,362.8L377.7,362.3L378.0,361.1L377.4,360.0L377.4,356.1zM386.7,356.1L386.7,360.0L386.1,361.1L386.4,362.3L387.1,362.8L387.8,362.3L388.1,361.1L387.4,360.0L387.4,356.1zM396.7,356.1L396.7,360.0L396.1,361.1L396.4,362.3L397.1,362.8L397.8,362.3L398.1,361.1L397.5,360.0L397.5,356.1zM406.8,356.1L406.8,360.0L406.1,361.1L406.4,362.3L407.1,362.8L407.8,362.3L408.1,361.1L407.5,360.0L407.5,356.1zM416.8,356.1L416.8,360.0L416.2,361.1L416.5,362.3L417.2,362.8L417.9,362.3L418.1,361.1L417.5,360.0L417.5,356.1zM426.8,356.1L426.8,360.0L426.2,361.1L426.5,362.3L427.2,362.8L427.9,362.3L428.2,361.1L427.6,360.0L427.6,356.1zM436.8,356.1L436.8,360.0L436.2,361.1L436.5,362.3L437.2,362.8L437.9,362.3L438.2,361.1L437.6,360.0L437.6,356.1zM446.9,356.1L446.9,360.0L446.3,361.1L446.5,362.3L447.2,362.8L448.0,362.3L448.2,361.1L447.6,360.0L447.6,356.1zM316.5,366.0L316.3,369.9L315.7,371.0L315.9,372.2L316.6,372.8L317.3,372.3L317.7,371.1L317.1,370.0L317.2,366.1zM326.5,366.0L325.8,369.8L325.0,370.8L325.0,372.0L325.6,372.7L326.4,372.3L326.9,371.1L326.5,369.9L327.3,366.1zM336.6,365.9L335.0,369.5L334.1,370.3L333.8,371.5L334.3,372.3L335.1,372.0L335.9,371.0L335.7,369.8L337.3,366.2zM346.6,365.9L345.2,369.5L344.2,370.4L344.1,371.6L344.5,372.3L345.4,372.1L346.1,371.1L345.9,369.8L347.3,366.2zM356.6,366.0L356.3,369.9L355.6,370.9L355.7,372.2L356.4,372.8L357.1,372.3L357.5,371.1L357.0,370.0L357.4,366.1zM366.6,366.1L367.0,370.0L366.5,371.1L366.8,372.3L367.6,372.8L368.3,372.2L368.4,370.9L367.7,369.9L367.4,366.0zM376.7,366.0L376.7,369.9L376.1,371.0L376.3,372.2L377.0,372.8L377.7,372.2L378.0,371.0L377.4,369.9L377.4,366.0zM386.7,366.0L386.5,369.9L385.8,371.0L386.0,372.2L386.7,372.8L387.5,372.3L387.8,371.1L387.2,370.0L387.4,366.1zM396.7,366.0L396.4,369.9L395.7,370.9L395.9,372.2L396.5,372.8L397.3,372.3L397.6,371.1L397.1,370.0L397.5,366.1zM406.8,366.0L406.4,369.9L405.7,370.9L405.9,372.2L406.5,372.8L407.3,372.3L407.7,371.1L407.2,370.0L407.5,366.1zM416.8,366.0L416.6,369.9L415.9,371.0L416.1,372.2L416.8,372.8L417.5,372.3L417.9,371.1L417.3,370.0L417.5,366.1zM426.8,366.0L426.6,369.9L425.9,371.0L426.2,372.2L426.8,372.8L427.6,372.3L427.9,371.1L427.4,370.0L427.6,366.1zM436.8,366.0L436.6,369.9L436.0,371.0L436.2,372.2L436.9,372.8L437.6,372.3L437.9,371.1L437.4,370.0L437.6,366.1zM446.9,366.0L446.7,369.9L446.0,371.0L446.2,372.2L446.9,372.8L447.6,372.3L448.0,371.1L447.4,370.0L447.6,366.1zM316.5,376.0L316.2,379.9L315.5,380.9L315.7,382.1L316.4,382.7L317.1,382.2L317.5,381.1L317.0,379.9L317.2,376.0zM326.5,375.9L325.8,379.8L325.0,380.7L325.0,382.0L325.6,382.6L326.4,382.2L326.9,381.1L326.5,379.9L327.3,376.1zM336.5,375.9L335.7,379.7L334.9,380.7L334.9,381.9L335.5,382.6L336.3,382.2L336.8,381.1L336.5,379.9L337.3,376.1zM346.6,375.9L346.0,379.8L345.3,380.8L345.4,382.0L346.0,382.7L346.8,382.2L347.2,381.1L346.8,379.9L347.3,376.1zM356.6,376.0L356.6,379.9L356.0,381.0L356.3,382.2L357.0,382.8L357.7,382.2L358.0,381.0L357.4,379.9L357.4,376.0zM366.6,376.0L367.0,379.9L366.5,381.1L366.8,382.2L367.6,382.7L368.3,382.1L368.4,380.9L367.7,379.9L367.4,376.0zM376.7,376.0L376.2,379.8L375.5,380.8L375.6,382.1L376.2,382.7L377.0,382.2L377.4,381.1L376.9,379.9L377.4,376.0zM386.7,376.0L386.2,379.8L385.5,380.8L385.6,382.1L386.2,382.7L387.0,382.2L387.4,381.1L387.0,379.9L387.4,376.0zM396.7,375.9L396.2,379.8L395.4,380.8L395.5,382.0L396.2,382.7L396.9,382.2L397.4,381.1L396.9,379.9L397.5,376.1zM406.8,375.9L406.2,379.8L405.5,380.8L405.6,382.0L406.2,382.7L407.0,382.2L407.4,381.1L407.0,379.9L407.5,376.1zM416.8,375.9L416.2,379.8L415.5,380.8L415.6,382.0L416.2,382.7L417.0,382.2L417.4,381.1L417.0,379.9L417.5,376.1zM426.8,376.0L426.3,379.8L425.6,380.8L425.7,382.1L426.4,382.7L427.1,382.2L427.6,381.1L427.1,379.9L427.6,376.0zM436.8,376.0L436.4,379.8L435.6,380.8L435.8,382.1L436.4,382.7L437.2,382.2L437.6,381.1L437.1,379.9L437.6,376.0zM446.9,376.0L446.4,379.8L445.7,380.8L445.8,382.1L446.4,382.7L447.2,382.2L447.6,381.1L447.2,379.9L447.6,376.0zM326.5,385.9L325.8,389.7L325.0,390.7L325.0,391.9L325.6,392.6L326.4,392.2L326.9,391.1L326.5,389.9L327.3,386.0zM336.5,385.9L336.2,389.8L335.5,390.9L335.7,392.1L336.3,392.7L337.1,392.2L337.5,391.0L337.0,389.9L337.3,386.0zM346.6,385.8L345.3,389.5L344.4,390.4L344.3,391.6L344.8,392.3L345.6,392.1L346.2,391.0L346.0,389.8L347.3,386.1zM356.7,385.8L354.6,389.1L353.5,389.7L353.1,390.8L353.4,391.7L354.3,391.6L355.2,390.7L355.2,389.5L357.3,386.2zM366.7,385.8L365.4,389.5L364.5,390.4L364.3,391.6L364.8,392.3L365.7,392.1L366.3,391.0L366.1,389.8L367.4,386.1zM376.7,385.9L375.8,389.7L375.0,390.6L375.0,391.8L375.5,392.5L376.3,392.2L376.9,391.1L376.5,389.8L377.4,386.0zM386.7,385.9L385.8,389.7L385.0,390.6L385.0,391.8L385.6,392.5L386.4,392.2L386.9,391.1L386.6,389.8L387.4,386.0zM396.7,385.9L395.9,389.7L395.0,390.6L395.0,391.8L395.6,392.5L396.4,392.2L396.9,391.1L396.6,389.8L397.5,386.0zM406.8,385.9L405.9,389.7L405.1,390.6L405.0,391.8L405.6,392.5L406.4,392.2L407.0,391.1L406.6,389.8L407.5,386.0zM416.8,385.9L415.9,389.7L415.1,390.6L415.1,391.8L415.6,392.5L416.5,392.2L417.0,391.1L416.7,389.8L417.5,386.0zM426.8,385.9L425.9,389.7L425.1,390.6L425.1,391.8L425.7,392.5L426.5,392.2L427.0,391.1L426.7,389.8L427.6,386.0zM436.8,385.9L436.0,389.7L435.1,390.6L435.1,391.8L435.7,392.5L436.5,392.2L437.1,391.1L436.7,389.8L437.6,386.0zM446.9,385.9L446.0,389.7L445.2,390.6L445.2,391.8L445.7,392.5L446.5,392.2L447.1,391.1L446.7,389.8L447.6,386.0zM326.5,395.8L325.6,399.6L324.7,400.5L324.7,401.8L325.3,402.5L326.1,402.1L326.6,401.0L326.3,399.8L327.3,396.0zM336.6,395.8L335.6,399.6L334.8,400.5L334.7,401.8L335.3,402.5L336.1,402.1L336.7,401.0L336.3,399.8L337.3,396.0zM346.6,395.7L344.5,399.0L343.4,399.6L343.0,400.7L343.3,401.6L344.2,401.5L345.0,400.6L345.1,399.4L347.3,396.1zM356.7,395.6L353.7,398.0L352.4,398.2L351.7,399.2L351.7,400.1L352.5,400.3L353.6,399.8L354.1,398.6L357.2,396.2zM366.7,395.7L364.7,399.1L363.6,399.7L363.2,400.9L363.5,401.7L364.4,401.6L365.3,400.7L365.3,399.5L367.3,396.1zM376.7,395.8L375.5,399.5L374.6,400.4L374.6,401.6L375.1,402.4L375.9,402.1L376.5,401.0L376.3,399.8L377.4,396.0zM386.7,395.8L385.6,399.5L384.7,400.4L384.6,401.6L385.1,402.4L385.9,402.1L386.5,401.0L386.3,399.8L387.4,396.0zM396.7,395.8L395.6,399.5L394.7,400.4L394.6,401.6L395.1,402.4L396.0,402.1L396.6,401.0L396.3,399.8L397.5,396.0zM406.8,395.8L405.6,399.5L404.7,400.4L404.6,401.6L405.2,402.4L406.0,402.1L406.6,401.0L406.4,399.8L407.5,396.0zM416.8,395.8L415.7,399.5L414.8,400.4L414.7,401.6L415.2,402.4L416.0,402.1L416.6,401.0L416.4,399.8L417.5,396.0zM426.8,395.8L425.7,399.5L424.8,400.4L424.7,401.6L425.2,402.4L426.1,402.1L426.7,401.0L426.4,399.8L427.6,396.0zM436.9,395.8L435.7,399.5L434.8,400.4L434.7,401.6L435.2,402.4L436.1,402.1L436.7,401.0L436.4,399.8L437.6,396.0zM446.9,395.8L445.7,399.5L444.9,400.4L444.8,401.6L445.3,402.4L446.1,402.1L446.7,401.0L446.5,399.8L447.6,396.0zM326.5,405.8L325.3,409.4L324.3,410.3L324.2,411.5L324.7,412.3L325.5,412.0L326.2,410.9L326.0,409.7L327.2,406.0zM336.6,405.8L335.5,409.5L334.6,410.4L334.5,411.6L335.1,412.4L335.9,412.0L336.5,411.0L336.2,409.7L337.3,406.0zM346.6,405.7L344.8,409.2L343.8,409.9L343.5,411.1L343.9,411.9L344.8,411.7L345.6,410.8L345.5,409.5L347.3,406.1zM356.7,405.6L354.3,408.7L353.1,409.2L352.6,410.3L352.8,411.2L353.7,411.2L354.7,410.4L354.9,409.2L357.3,406.1zM366.7,405.7L365.2,409.4L364.2,410.1L364.0,411.4L364.5,412.1L365.3,411.9L366.0,410.9L365.9,409.6L367.4,406.0zM376.7,405.8L375.5,409.5L374.6,410.3L374.5,411.6L375.0,412.3L375.8,412.0L376.4,410.9L376.2,409.7L377.4,406.0zM386.7,405.8L385.5,409.5L384.6,410.3L384.5,411.6L385.0,412.3L385.8,412.0L386.5,410.9L386.2,409.7L387.4,406.0zM396.7,405.8L395.5,409.5L394.6,410.3L394.5,411.6L395.0,412.3L395.9,412.0L396.5,410.9L396.3,409.7L397.5,406.0zM406.8,405.8L405.6,409.5L404.7,410.3L404.5,411.6L405.0,412.3L405.9,412.0L406.5,410.9L406.3,409.7L407.5,406.0zM416.8,405.8L415.6,409.5L414.7,410.3L414.6,411.6L415.1,412.3L415.9,412.0L416.5,410.9L416.3,409.7L417.5,406.0zM426.8,405.8L425.6,409.5L424.7,410.3L424.6,411.6L425.1,412.3L425.9,412.0L426.6,410.9L426.3,409.7L427.6,406.0zM436.9,405.8L435.7,409.5L434.7,410.3L434.6,411.6L435.1,412.3L436.0,412.0L436.6,410.9L436.4,409.7L437.6,406.0zM446.9,405.8L445.7,409.5L444.8,410.3L444.7,411.6L445.2,412.3L446.0,412.0L446.6,410.9L446.4,409.7L447.6,406.0zM336.6,415.7L335.3,419.4L334.4,420.2L334.2,421.5L334.7,422.2L335.6,421.9L336.2,420.9L336.0,419.7L337.3,416.0zM346.6,415.7L345.3,419.4L344.3,420.2L344.2,421.4L344.6,422.2L345.5,421.9L346.2,420.9L346.0,419.6L347.3,416.0zM356.6,415.7L355.2,419.3L354.3,420.2L354.1,421.4L354.6,422.1L355.4,421.9L356.1,420.9L355.9,419.6L357.3,416.0zM366.7,415.7L365.3,419.3L364.3,420.2L364.1,421.4L364.6,422.1L365.4,421.9L366.1,420.9L366.0,419.6L367.4,416.0zM376.7,415.7L375.3,419.4L374.4,420.2L374.3,421.4L374.7,422.2L375.6,421.9L376.3,420.9L376.1,419.6L377.4,416.0zM386.7,415.7L385.4,419.4L384.4,420.2L384.3,421.4L384.8,422.2L385.6,421.9L386.3,420.9L386.1,419.6L387.4,416.0zM396.7,415.7L395.4,419.4L394.5,420.2L394.3,421.4L394.8,422.2L395.6,421.9L396.3,420.9L396.1,419.6L397.5,416.0zM406.8,415.7L405.4,419.4L404.5,420.2L404.3,421.4L404.8,422.2L405.7,421.9L406.3,420.9L406.2,419.6L407.5,416.0zM416.8,415.7L415.5,419.4L414.5,420.2L414.4,421.4L414.9,422.2L415.7,421.9L416.4,420.9L416.2,419.6L417.5,416.0zM426.8,415.7L425.5,419.4L424.6,420.2L424.4,421.4L424.9,422.2L425.7,421.9L426.4,420.9L426.2,419.6L427.5,416.0zM436.9,415.7L435.5,419.4L434.6,420.2L434.4,421.4L434.9,422.2L435.8,421.9L436.4,420.9L436.2,419.6L437.6,416.0zM446.9,415.7L445.6,419.4L444.6,420.2L444.5,421.4L444.9,422.2L445.8,421.9L446.5,420.9L446.3,419.6L447.6,416.0zM346.6,425.7L345.3,429.3L344.3,430.2L344.2,431.4L344.6,432.1L345.5,431.9L346.2,430.8L346.0,429.6L347.3,425.9zM356.6,425.7L355.3,429.3L354.3,430.2L354.2,431.4L354.7,432.1L355.5,431.9L356.2,430.8L356.0,429.6L357.3,425.9zM366.7,425.7L365.3,429.3L364.4,430.2L364.2,431.4L364.7,432.1L365.6,431.9L366.2,430.8L366.0,429.6L367.4,425.9zM376.7,425.7L375.3,429.3L374.4,430.2L374.3,431.4L374.7,432.1L375.6,431.9L376.3,430.8L376.1,429.6L377.4,425.9zM386.7,425.7L385.4,429.3L384.4,430.2L384.3,431.4L384.8,432.1L385.6,431.9L386.3,430.8L386.1,429.6L387.4,425.9zM396.7,425.7L395.4,429.3L394.5,430.2L394.3,431.4L394.8,432.1L395.6,431.9L396.3,430.8L396.1,429.6L397.5,425.9zM406.8,425.7L405.4,429.3L404.5,430.2L404.3,431.4L404.8,432.1L405.7,431.9L406.3,430.8L406.2,429.6L407.5,425.9zM416.8,425.7L415.5,429.3L414.5,430.2L414.4,431.4L414.9,432.1L415.7,431.9L416.4,430.8L416.2,429.6L417.5,425.9zM426.8,425.7L425.5,429.3L424.6,430.2L424.4,431.4L424.9,432.1L425.7,431.9L426.4,430.8L426.2,429.6L427.5,425.9zM436.9,425.7L435.5,429.3L434.6,430.2L434.4,431.4L434.9,432.1L435.8,431.9L436.4,430.8L436.2,429.6L437.6,425.9zM446.9,425.7L445.6,429.3L444.6,430.2L444.5,431.4L444.9,432.1L445.8,431.9L446.5,430.8L446.3,429.6L447.6,425.9z" fill="#101010" stroke="#101010" stroke-width=".25" stroke-linejoin="round"/>
<clipPath id="cpE"><polygon points="524.4,276.7 676.8,276.7 676.8,426.2 575.2,426.2 554.9,406.3 554.9,386.4 544.7,376.4 544.7,366.4 534.6,356.5 534.6,346.5 524.4,336.5"/></clipPath>
<g clip-path="url(#cpE)"><g filter="url(#bmE)">
<path fill="#cf53ad" d="M499.0,251.8h10.5v10.3h-10.5zM499.0,261.7h10.5v10.3h-10.5zM499.0,271.7h10.5v10.3h-10.5zM499.0,281.7h10.5v10.3h-10.5zM499.0,291.7h10.5v10.3h-10.5zM499.0,301.6h10.5v10.3h-10.5zM509.2,251.8h10.5v10.3h-10.5zM509.2,261.7h10.5v10.3h-10.5zM509.2,271.7h10.5v10.3h-10.5zM509.2,281.7h10.5v10.3h-10.5zM509.2,291.7h10.5v10.3h-10.5zM509.2,301.6h10.5v10.3h-10.5zM519.3,251.8h10.5v10.3h-10.5zM519.3,261.7h10.5v10.3h-10.5zM519.3,271.7h10.5v10.3h-10.5zM519.3,281.7h10.5v10.3h-10.5zM519.3,291.7h10.5v10.3h-10.5zM519.3,301.6h10.5v10.3h-10.5zM529.5,251.8h10.5v10.3h-10.5zM529.5,261.7h10.5v10.3h-10.5zM529.5,271.7h10.5v10.3h-10.5zM529.5,321.6h10.5v10.3h-10.5zM549.8,401.3h10.5v10.3h-10.5zM549.8,411.3h10.5v10.3h-10.5zM549.8,421.3h10.5v10.3h-10.5zM549.8,431.2h10.5v10.3h-10.5zM549.8,441.2h10.5v10.3h-10.5zM560.0,391.4h10.5v10.3h-10.5zM560.0,421.3h10.5v10.3h-10.5zM560.0,431.2h10.5v10.3h-10.5zM560.0,441.2h10.5v10.3h-10.5z"/>
<path fill="#cd54ae" d="M499.0,311.6h10.5v10.3h-10.5zM499.0,321.6h10.5v10.3h-10.5zM499.0,331.5h10.5v10.3h-10.5zM499.0,341.5h10.5v10.3h-10.5zM499.0,351.5h10.5v10.3h-10.5zM499.0,361.4h10.5v10.3h-10.5zM499.0,371.4h10.5v10.3h-10.5zM499.0,381.4h10.5v10.3h-10.5zM499.0,391.4h10.5v10.3h-10.5zM499.0,401.3h10.5v10.3h-10.5zM499.0,411.3h10.5v10.3h-10.5zM499.0,421.3h10.5v10.3h-10.5zM499.0,431.2h10.5v10.3h-10.5zM499.0,441.2h10.5v10.3h-10.5zM509.2,311.6h10.5v10.3h-10.5zM509.2,321.6h10.5v10.3h-10.5zM509.2,331.5h10.5v10.3h-10.5zM509.2,341.5h10.5v10.3h-10.5zM509.2,351.5h10.5v10.3h-10.5zM509.2,361.4h10.5v10.3h-10.5zM509.2,371.4h10.5v10.3h-10.5zM509.2,381.4h10.5v10.3h-10.5zM509.2,391.4h10.5v10.3h-10.5zM509.2,401.3h10.5v10.3h-10.5zM509.2,411.3h10.5v10.3h-10.5zM509.2,421.3h10.5v10.3h-10.5zM509.2,431.2h10.5v10.3h-10.5zM509.2,441.2h10.5v10.3h-10.5zM519.3,311.6h10.5v10.3h-10.5zM519.3,321.6h10.5v10.3h-10.5zM519.3,331.5h10.5v10.3h-10.5zM519.3,341.5h10.5v10.3h-10.5zM519.3,351.5h10.5v10.3h-10.5zM519.3,361.4h10.5v10.3h-10.5zM519.3,371.4h10.5v10.3h-10.5zM519.3,381.4h10.5v10.3h-10.5zM519.3,391.4h10.5v10.3h-10.5zM519.3,401.3h10.5v10.3h-10.5zM519.3,411.3h10.5v10.3h-10.5zM519.3,421.3h10.5v10.3h-10.5zM519.3,431.2h10.5v10.3h-10.5zM519.3,441.2h10.5v10.3h-10.5zM529.5,331.5h10.5v10.3h-10.5zM529.5,361.4h10.5v10.3h-10.5zM529.5,371.4h10.5v10.3h-10.5zM529.5,381.4h10.5v10.3h-10.5zM529.5,391.4h10.5v10.3h-10.5zM529.5,401.3h10.5v10.3h-10.5zM529.5,411.3h10.5v10.3h-10.5zM529.5,421.3h10.5v10.3h-10.5zM529.5,431.2h10.5v10.3h-10.5zM529.5,441.2h10.5v10.3h-10.5zM539.6,281.7h10.5v10.3h-10.5zM539.6,381.4h10.5v10.3h-10.5zM539.6,391.4h10.5v10.3h-10.5zM539.6,401.3h10.5v10.3h-10.5zM539.6,411.3h10.5v10.3h-10.5zM539.6,421.3h10.5v10.3h-10.5zM539.6,431.2h10.5v10.3h-10.5zM539.6,441.2h10.5v10.3h-10.5zM549.8,391.4h10.5v10.3h-10.5zM570.1,361.4h10.5v10.3h-10.5zM580.3,371.4h10.5v10.3h-10.5z"/>
<path fill="#d053ad" d="M529.5,281.7h10.5v10.3h-10.5zM529.5,311.6h10.5v10.3h-10.5z"/>
<path fill="#d153ac" d="M529.5,291.7h10.5v10.3h-10.5zM529.5,301.6h10.5v10.3h-10.5zM539.6,331.5h10.5v10.3h-10.5zM560.0,341.5h10.5v10.3h-10.5zM560.0,411.3h10.5v10.3h-10.5zM570.1,421.3h10.5v10.3h-10.5zM570.1,431.2h10.5v10.3h-10.5zM570.1,441.2h10.5v10.3h-10.5zM580.3,381.4h10.5v10.3h-10.5z"/>
<path fill="#cb55b0" d="M529.5,341.5h10.5v10.3h-10.5zM529.5,351.5h10.5v10.3h-10.5zM549.8,341.5h10.5v10.3h-10.5zM560.0,351.5h10.5v10.3h-10.5zM570.1,381.4h10.5v10.3h-10.5z"/>
<path fill="#c955b1" d="M539.6,251.8h10.5v10.3h-10.5zM539.6,261.7h10.5v10.3h-10.5zM539.6,271.7h10.5v10.3h-10.5zM539.6,341.5h10.5v10.3h-10.5zM539.6,371.4h10.5v10.3h-10.5zM549.8,381.4h10.5v10.3h-10.5zM560.0,381.4h10.5v10.3h-10.5z"/>
<path fill="#d452ab" d="M539.6,291.7h10.5v10.3h-10.5zM539.6,321.6h10.5v10.3h-10.5zM549.8,251.8h10.5v10.3h-10.5zM549.8,261.7h10.5v10.3h-10.5zM549.8,271.7h10.5v10.3h-10.5zM560.0,401.3h10.5v10.3h-10.5zM570.1,351.5h10.5v10.3h-10.5zM580.3,361.4h10.5v10.3h-10.5zM580.3,421.3h10.5v10.3h-10.5zM580.3,431.2h10.5v10.3h-10.5zM580.3,441.2h10.5v10.3h-10.5zM590.4,371.4h10.5v10.3h-10.5zM590.4,421.3h10.5v10.3h-10.5zM590.4,431.2h10.5v10.3h-10.5zM590.4,441.2h10.5v10.3h-10.5zM600.6,421.3h10.5v10.3h-10.5zM600.6,431.2h10.5v10.3h-10.5zM600.6,441.2h10.5v10.3h-10.5zM610.8,421.3h10.5v10.3h-10.5zM610.8,431.2h10.5v10.3h-10.5zM610.8,441.2h10.5v10.3h-10.5z"/>
<path fill="#d652a9" d="M539.6,301.6h10.5v10.3h-10.5zM539.6,311.6h10.5v10.3h-10.5zM549.8,331.5h10.5v10.3h-10.5zM570.1,391.4h10.5v10.3h-10.5zM570.1,411.3h10.5v10.3h-10.5zM620.9,421.3h10.5v10.3h-10.5zM620.9,431.2h10.5v10.3h-10.5zM620.9,441.2h10.5v10.3h-10.5z"/>
<path fill="#c656b2" d="M539.6,351.5h10.5v10.3h-10.5zM539.6,361.4h10.5v10.3h-10.5zM549.8,351.5h10.5v10.3h-10.5zM560.0,361.4h10.5v10.3h-10.5z"/>
<path fill="#d851a8" d="M549.8,281.7h10.5v10.3h-10.5zM631.1,421.3h10.5v10.3h-10.5zM631.1,431.2h10.5v10.3h-10.5zM631.1,441.2h10.5v10.3h-10.5zM661.6,421.3h10.5v10.3h-10.5zM661.6,431.2h10.5v10.3h-10.5zM661.6,441.2h10.5v10.3h-10.5zM671.7,421.3h10.5v10.3h-10.5zM671.7,431.2h10.5v10.3h-10.5zM671.7,441.2h10.5v10.3h-10.5zM681.9,421.3h10.5v10.3h-10.5zM681.9,431.2h10.5v10.3h-10.5zM681.9,441.2h10.5v10.3h-10.5zM692.0,421.3h10.5v10.3h-10.5zM692.0,431.2h10.5v10.3h-10.5zM692.0,441.2h10.5v10.3h-10.5z"/>
<path fill="#da51a7" d="M549.8,291.7h10.5v10.3h-10.5zM549.8,321.6h10.5v10.3h-10.5zM560.0,251.8h10.5v10.3h-10.5zM560.0,261.7h10.5v10.3h-10.5zM560.0,271.7h10.5v10.3h-10.5zM570.1,341.5h10.5v10.3h-10.5zM570.1,401.3h10.5v10.3h-10.5zM580.3,411.3h10.5v10.3h-10.5zM590.4,361.4h10.5v10.3h-10.5zM600.6,411.3h10.5v10.3h-10.5zM610.8,411.3h10.5v10.3h-10.5zM641.2,421.3h10.5v10.3h-10.5zM641.2,431.2h10.5v10.3h-10.5zM641.2,441.2h10.5v10.3h-10.5zM651.4,421.3h10.5v10.3h-10.5zM651.4,431.2h10.5v10.3h-10.5zM651.4,441.2h10.5v10.3h-10.5z"/>
<path fill="#dd51a6" d="M549.8,301.6h10.5v10.3h-10.5zM549.8,311.6h10.5v10.3h-10.5zM560.0,331.5h10.5v10.3h-10.5zM580.3,351.5h10.5v10.3h-10.5zM590.4,381.4h10.5v10.3h-10.5zM590.4,411.3h10.5v10.3h-10.5zM600.6,371.4h10.5v10.3h-10.5zM620.9,411.3h10.5v10.3h-10.5z"/>
<path fill="#c456b4" d="M549.8,361.4h10.5v10.3h-10.5z"/>
<path fill="#c556b3" d="M549.8,371.4h10.5v10.3h-10.5zM560.0,371.4h10.5v10.3h-10.5z"/>
<path fill="#e652a2" d="M560.0,281.7h10.5v10.3h-10.5zM560.0,311.6h10.5v10.3h-10.5zM570.1,251.8h10.5v10.3h-10.5zM570.1,261.7h10.5v10.3h-10.5zM570.1,271.7h10.5v10.3h-10.5zM590.4,351.5h10.5v10.3h-10.5zM590.4,391.4h10.5v10.3h-10.5zM590.4,401.3h10.5v10.3h-10.5zM600.6,381.4h10.5v10.3h-10.5zM610.8,361.4h10.5v10.3h-10.5zM610.8,371.4h10.5v10.3h-10.5zM610.8,391.4h10.5v10.3h-10.5zM620.9,391.4h10.5v10.3h-10.5zM661.6,411.3h10.5v10.3h-10.5zM671.7,251.8h10.5v10.3h-10.5zM671.7,261.7h10.5v10.3h-10.5zM671.7,271.7h10.5v10.3h-10.5zM681.9,251.8h10.5v10.3h-10.5zM681.9,261.7h10.5v10.3h-10.5zM681.9,271.7h10.5v10.3h-10.5zM692.0,251.8h10.5v10.3h-10.5zM692.0,261.7h10.5v10.3h-10.5zM692.0,271.7h10.5v10.3h-10.5z"/>
<path fill="#e952a0" d="M560.0,291.7h10.5v10.3h-10.5zM560.0,301.6h10.5v10.3h-10.5zM580.3,331.5h10.5v10.3h-10.5zM600.6,351.5h10.5v10.3h-10.5zM600.6,391.4h10.5v10.3h-10.5zM610.8,381.4h10.5v10.3h-10.5zM620.9,371.4h10.5v10.3h-10.5zM620.9,381.4h10.5v10.3h-10.5zM631.1,391.4h10.5v10.3h-10.5zM631.1,401.3h10.5v10.3h-10.5zM641.2,411.3h10.5v10.3h-10.5zM671.7,401.3h10.5v10.3h-10.5zM681.9,401.3h10.5v10.3h-10.5zM692.0,401.3h10.5v10.3h-10.5z"/>
<path fill="#e352a3" d="M560.0,321.6h10.5v10.3h-10.5zM570.1,331.5h10.5v10.3h-10.5zM580.3,341.5h10.5v10.3h-10.5zM580.3,401.3h10.5v10.3h-10.5zM600.6,401.3h10.5v10.3h-10.5zM620.9,401.3h10.5v10.3h-10.5zM631.1,411.3h10.5v10.3h-10.5z"/>
<path fill="#f06a92" d="M570.1,281.7h10.5v10.3h-10.5zM570.1,301.6h10.5v10.3h-10.5zM600.6,331.5h10.5v10.3h-10.5zM620.9,341.5h10.5v10.3h-10.5zM631.1,351.5h10.5v10.3h-10.5zM641.2,361.4h10.5v10.3h-10.5zM651.4,381.4h10.5v10.3h-10.5zM661.6,281.7h10.5v10.3h-10.5zM661.6,391.4h10.5v10.3h-10.5zM661.6,401.3h10.5v10.3h-10.5zM671.7,321.6h10.5v10.3h-10.5zM671.7,381.4h10.5v10.3h-10.5zM681.9,321.6h10.5v10.3h-10.5zM681.9,381.4h10.5v10.3h-10.5zM692.0,321.6h10.5v10.3h-10.5zM692.0,381.4h10.5v10.3h-10.5z"/>
<path fill="#f2708e" d="M570.1,291.7h10.5v10.3h-10.5zM580.3,251.8h10.5v10.3h-10.5zM580.3,261.7h10.5v10.3h-10.5zM580.3,271.7h10.5v10.3h-10.5zM590.4,321.6h10.5v10.3h-10.5zM610.8,331.5h10.5v10.3h-10.5zM651.4,251.8h10.5v10.3h-10.5zM651.4,261.7h10.5v10.3h-10.5zM651.4,271.7h10.5v10.3h-10.5zM651.4,371.4h10.5v10.3h-10.5zM651.4,391.4h10.5v10.3h-10.5zM661.6,291.7h10.5v10.3h-10.5zM661.6,381.4h10.5v10.3h-10.5zM671.7,331.5h10.5v10.3h-10.5zM671.7,371.4h10.5v10.3h-10.5zM681.9,331.5h10.5v10.3h-10.5zM681.9,371.4h10.5v10.3h-10.5zM692.0,331.5h10.5v10.3h-10.5zM692.0,371.4h10.5v10.3h-10.5z"/>
<path fill="#ef6496" d="M570.1,311.6h10.5v10.3h-10.5zM580.3,321.6h10.5v10.3h-10.5zM610.8,341.5h10.5v10.3h-10.5zM641.2,371.4h10.5v10.3h-10.5zM641.2,401.3h10.5v10.3h-10.5zM671.7,311.6h10.5v10.3h-10.5zM681.9,311.6h10.5v10.3h-10.5zM692.0,311.6h10.5v10.3h-10.5z"/>
<path fill="#ea549f" d="M570.1,321.6h10.5v10.3h-10.5zM590.4,341.5h10.5v10.3h-10.5zM620.9,361.4h10.5v10.3h-10.5zM631.1,381.4h10.5v10.3h-10.5zM671.7,281.7h10.5v10.3h-10.5zM681.9,281.7h10.5v10.3h-10.5zM692.0,281.7h10.5v10.3h-10.5z"/>
<path fill="#c856b2" d="M570.1,371.4h10.5v10.3h-10.5z"/>
<path fill="#f69074" d="M580.3,281.7h10.5v10.3h-10.5zM590.4,311.6h10.5v10.3h-10.5zM610.8,321.6h10.5v10.3h-10.5zM641.2,251.8h10.5v10.3h-10.5zM641.2,261.7h10.5v10.3h-10.5zM641.2,271.7h10.5v10.3h-10.5zM641.2,341.5h10.5v10.3h-10.5zM651.4,281.7h10.5v10.3h-10.5zM651.4,351.5h10.5v10.3h-10.5zM661.6,331.5h10.5v10.3h-10.5zM661.6,351.5h10.5v10.3h-10.5z"/>
<path fill="#f7976d" d="M580.3,291.7h10.5v10.3h-10.5zM600.6,311.6h10.5v10.3h-10.5zM631.1,331.5h10.5v10.3h-10.5zM651.4,401.3h10.5v10.3h-10.5zM661.6,341.5h10.5v10.3h-10.5z"/>
<path fill="#f5877c" d="M580.3,301.6h10.5v10.3h-10.5zM661.6,321.6h10.5v10.3h-10.5zM661.6,361.4h10.5v10.3h-10.5z"/>
<path fill="#f4778b" d="M580.3,311.6h10.5v10.3h-10.5zM631.1,341.5h10.5v10.3h-10.5zM641.2,351.5h10.5v10.3h-10.5zM671.7,361.4h10.5v10.3h-10.5zM681.9,361.4h10.5v10.3h-10.5zM692.0,361.4h10.5v10.3h-10.5z"/>
<path fill="#e051a4" d="M580.3,391.4h10.5v10.3h-10.5zM600.6,361.4h10.5v10.3h-10.5zM610.8,401.3h10.5v10.3h-10.5zM671.7,411.3h10.5v10.3h-10.5zM681.9,411.3h10.5v10.3h-10.5zM692.0,411.3h10.5v10.3h-10.5z"/>
<path fill="#f79d66" d="M590.4,251.8h10.5v10.3h-10.5zM590.4,261.7h10.5v10.3h-10.5zM590.4,271.7h10.5v10.3h-10.5zM590.4,301.6h10.5v10.3h-10.5z"/>
<path fill="#f8ae52" d="M590.4,281.7h10.5v10.3h-10.5zM600.6,291.7h10.5v10.3h-10.5zM620.9,311.6h10.5v10.3h-10.5zM641.2,281.7h10.5v10.3h-10.5z"/>
<path fill="#f8a959" d="M590.4,291.7h10.5v10.3h-10.5zM600.6,251.8h10.5v10.3h-10.5zM600.6,261.7h10.5v10.3h-10.5zM600.6,271.7h10.5v10.3h-10.5zM610.8,301.6h10.5v10.3h-10.5zM641.2,331.5h10.5v10.3h-10.5zM651.4,331.5h10.5v10.3h-10.5z"/>
<path fill="#ed5d99" d="M590.4,331.5h10.5v10.3h-10.5zM600.6,341.5h10.5v10.3h-10.5zM620.9,351.5h10.5v10.3h-10.5zM631.1,361.4h10.5v10.3h-10.5zM641.2,381.4h10.5v10.3h-10.5zM641.2,391.4h10.5v10.3h-10.5zM651.4,411.3h10.5v10.3h-10.5zM661.6,251.8h10.5v10.3h-10.5zM661.6,261.7h10.5v10.3h-10.5zM661.6,271.7h10.5v10.3h-10.5zM671.7,301.6h10.5v10.3h-10.5zM671.7,391.4h10.5v10.3h-10.5zM681.9,301.6h10.5v10.3h-10.5zM681.9,391.4h10.5v10.3h-10.5zM692.0,301.6h10.5v10.3h-10.5zM692.0,391.4h10.5v10.3h-10.5z"/>
<path fill="#f8b945" d="M600.6,281.7h10.5v10.3h-10.5zM651.4,301.6h10.5v10.3h-10.5z"/>
<path fill="#f7a35f" d="M600.6,301.6h10.5v10.3h-10.5z"/>
<path fill="#f57f84" d="M600.6,321.6h10.5v10.3h-10.5zM620.9,331.5h10.5v10.3h-10.5zM661.6,311.6h10.5v10.3h-10.5z"/>
<path fill="#f8b44b" d="M610.8,251.8h10.5v10.3h-10.5zM610.8,261.7h10.5v10.3h-10.5zM610.8,271.7h10.5v10.3h-10.5zM610.8,291.7h10.5v10.3h-10.5zM620.9,301.6h10.5v10.3h-10.5zM631.1,251.8h10.5v10.3h-10.5zM631.1,261.7h10.5v10.3h-10.5zM631.1,271.7h10.5v10.3h-10.5zM631.1,321.6h10.5v10.3h-10.5zM651.4,311.6h10.5v10.3h-10.5zM651.4,321.6h10.5v10.3h-10.5z"/>
<path fill="#f9c437" d="M610.8,281.7h10.5v10.3h-10.5zM620.9,251.8h10.5v10.3h-10.5zM620.9,261.7h10.5v10.3h-10.5zM620.9,271.7h10.5v10.3h-10.5zM631.1,311.6h10.5v10.3h-10.5z"/>
<path fill="#f7a063" d="M610.8,311.6h10.5v10.3h-10.5zM620.9,321.6h10.5v10.3h-10.5zM651.4,291.7h10.5v10.3h-10.5zM651.4,341.5h10.5v10.3h-10.5z"/>
<path fill="#eb579d" d="M610.8,351.5h10.5v10.3h-10.5zM631.1,371.4h10.5v10.3h-10.5z"/>
<path fill="#f4e02b" d="M620.9,281.7h10.5v10.3h-10.5z"/>
<path fill="#f8bf3e" d="M620.9,291.7h10.5v10.3h-10.5z"/>
<path fill="#f6da2a" d="M631.1,281.7h10.5v10.3h-10.5z"/>
<path fill="#f9ca30" d="M631.1,291.7h10.5v10.3h-10.5zM641.2,291.7h10.5v10.3h-10.5z"/>
<path fill="#f8d32a" d="M631.1,301.6h10.5v10.3h-10.5z"/>
<path fill="#e8e640" d="M641.2,301.6h10.5v10.3h-10.5z"/>
<path fill="#f1e230" d="M641.2,311.6h10.5v10.3h-10.5z"/>
<path fill="#f7d62a" d="M641.2,321.6h10.5v10.3h-10.5z"/>
<path fill="#f47b88" d="M651.4,361.4h10.5v10.3h-10.5zM661.6,301.6h10.5v10.3h-10.5zM661.6,371.4h10.5v10.3h-10.5zM671.7,341.5h10.5v10.3h-10.5zM671.7,351.5h10.5v10.3h-10.5zM681.9,341.5h10.5v10.3h-10.5zM681.9,351.5h10.5v10.3h-10.5zM692.0,341.5h10.5v10.3h-10.5zM692.0,351.5h10.5v10.3h-10.5z"/>
<path fill="#ec5a9b" d="M671.7,291.7h10.5v10.3h-10.5zM681.9,291.7h10.5v10.3h-10.5zM692.0,291.7h10.5v10.3h-10.5z"/>
</g></g>
<path d="M523.8,335.9h1.2v1.2h-1.2zM523.8,345.9h1.2v1.2h-1.2zM523.8,355.9h1.2v1.2h-1.2zM523.8,365.8h1.2v1.2h-1.2zM523.8,375.8h1.2v1.2h-1.2zM523.8,385.8h1.2v1.2h-1.2zM523.8,395.7h1.2v1.2h-1.2zM523.8,405.7h1.2v1.2h-1.2zM523.8,415.7h1.2v1.2h-1.2zM523.8,425.6h1.2v1.2h-1.2zM534.0,345.9h1.2v1.2h-1.2zM534.0,355.9h1.2v1.2h-1.2zM534.0,365.8h1.2v1.2h-1.2zM534.0,375.8h1.2v1.2h-1.2zM534.0,385.8h1.2v1.2h-1.2zM534.0,395.7h1.2v1.2h-1.2zM534.0,405.7h1.2v1.2h-1.2zM534.0,415.7h1.2v1.2h-1.2zM534.0,425.6h1.2v1.2h-1.2zM544.1,355.9h1.2v1.2h-1.2zM544.1,365.8h1.2v1.2h-1.2zM544.1,375.8h1.2v1.2h-1.2zM544.1,385.8h1.2v1.2h-1.2zM544.1,395.7h1.2v1.2h-1.2zM544.1,405.7h1.2v1.2h-1.2zM544.1,415.7h1.2v1.2h-1.2zM544.1,425.6h1.2v1.2h-1.2zM554.3,375.8h1.2v1.2h-1.2zM554.3,385.8h1.2v1.2h-1.2zM554.3,395.7h1.2v1.2h-1.2zM554.3,405.7h1.2v1.2h-1.2zM554.3,415.7h1.2v1.2h-1.2zM554.3,425.6h1.2v1.2h-1.2zM564.4,415.7h1.2v1.2h-1.2zM564.4,425.6h1.2v1.2h-1.2zM574.6,385.8h1.2v1.2h-1.2zM574.6,425.6h1.2v1.2h-1.2zM594.9,385.8h1.2v1.2h-1.2z" fill="#ee716d"/>
<path d="M523.65,276.20h1.5v1h-1.5zM523.65,286.17h1.5v1h-1.5zM523.65,296.14h1.5v1h-1.5zM523.65,306.11h1.5v1h-1.5zM523.65,316.08h1.5v1h-1.5zM523.65,326.05h1.5v1h-1.5zM533.81,276.20h1.5v1h-1.5zM533.81,286.17h1.5v1h-1.5zM533.81,296.14h1.5v1h-1.5zM533.81,306.11h1.5v1h-1.5zM533.81,316.08h1.5v1h-1.5zM533.81,326.05h1.5v1h-1.5zM533.81,336.02h1.5v1h-1.5zM543.97,276.20h1.5v1h-1.5zM543.97,286.17h1.5v1h-1.5zM543.97,296.14h1.5v1h-1.5zM543.97,306.11h1.5v1h-1.5zM543.97,316.08h1.5v1h-1.5zM543.97,326.05h1.5v1h-1.5zM543.97,336.02h1.5v1h-1.5zM543.97,345.99h1.5v1h-1.5zM554.13,276.20h1.5v1h-1.5zM554.13,286.17h1.5v1h-1.5zM554.13,296.14h1.5v1h-1.5zM554.13,306.11h1.5v1h-1.5zM554.13,316.08h1.5v1h-1.5zM554.13,326.05h1.5v1h-1.5zM554.13,336.02h1.5v1h-1.5zM554.13,345.99h1.5v1h-1.5zM554.13,355.96h1.5v1h-1.5zM554.13,365.93h1.5v1h-1.5zM564.29,276.20h1.5v1h-1.5zM564.29,286.17h1.5v1h-1.5zM564.29,296.14h1.5v1h-1.5zM564.29,306.11h1.5v1h-1.5zM564.29,316.08h1.5v1h-1.5zM564.29,326.05h1.5v1h-1.5zM564.29,336.02h1.5v1h-1.5zM564.29,345.99h1.5v1h-1.5zM564.29,355.96h1.5v1h-1.5zM564.29,365.93h1.5v1h-1.5zM564.29,375.90h1.5v1h-1.5zM564.29,385.87h1.5v1h-1.5zM564.29,395.84h1.5v1h-1.5zM564.29,405.81h1.5v1h-1.5zM574.45,276.20h1.5v1h-1.5zM574.45,286.17h1.5v1h-1.5zM574.45,296.14h1.5v1h-1.5zM574.45,306.11h1.5v1h-1.5zM574.45,316.08h1.5v1h-1.5zM574.45,326.05h1.5v1h-1.5zM574.45,336.02h1.5v1h-1.5zM574.45,345.99h1.5v1h-1.5zM574.45,355.96h1.5v1h-1.5zM574.45,365.93h1.5v1h-1.5zM574.45,375.90h1.5v1h-1.5zM574.45,395.84h1.5v1h-1.5zM574.45,405.81h1.5v1h-1.5zM574.45,415.78h1.5v1h-1.5zM584.61,276.20h1.5v1h-1.5zM584.61,286.17h1.5v1h-1.5zM584.61,296.14h1.5v1h-1.5zM584.61,306.11h1.5v1h-1.5zM584.61,316.08h1.5v1h-1.5zM584.61,326.05h1.5v1h-1.5zM584.61,336.02h1.5v1h-1.5zM584.61,345.99h1.5v1h-1.5zM584.61,355.96h1.5v1h-1.5zM584.61,365.93h1.5v1h-1.5zM584.61,375.90h1.5v1h-1.5zM584.61,385.87h1.5v1h-1.5zM584.61,395.84h1.5v1h-1.5zM584.61,405.81h1.5v1h-1.5zM584.61,415.78h1.5v1h-1.5zM584.61,425.75h1.5v1h-1.5zM594.77,276.20h1.5v1h-1.5zM594.77,286.17h1.5v1h-1.5zM594.77,296.14h1.5v1h-1.5zM594.77,306.11h1.5v1h-1.5zM594.77,316.08h1.5v1h-1.5zM594.77,326.05h1.5v1h-1.5zM594.77,336.02h1.5v1h-1.5zM594.77,345.99h1.5v1h-1.5zM594.77,355.96h1.5v1h-1.5zM594.77,365.93h1.5v1h-1.5zM594.77,375.90h1.5v1h-1.5zM594.77,395.84h1.5v1h-1.5zM594.77,405.81h1.5v1h-1.5zM594.77,415.78h1.5v1h-1.5zM594.77,425.75h1.5v1h-1.5zM604.93,276.20h1.5v1h-1.5zM604.93,286.17h1.5v1h-1.5zM604.93,296.14h1.5v1h-1.5zM604.93,306.11h1.5v1h-1.5zM604.93,316.08h1.5v1h-1.5zM604.93,326.05h1.5v1h-1.5zM604.93,336.02h1.5v1h-1.5zM604.93,345.99h1.5v1h-1.5zM604.93,355.96h1.5v1h-1.5zM604.93,365.93h1.5v1h-1.5zM604.93,375.90h1.5v1h-1.5zM604.93,385.87h1.5v1h-1.5zM604.93,395.84h1.5v1h-1.5zM604.93,405.81h1.5v1h-1.5zM604.93,415.78h1.5v1h-1.5zM604.93,425.75h1.5v1h-1.5zM615.09,276.20h1.5v1h-1.5zM615.09,286.17h1.5v1h-1.5zM615.09,296.14h1.5v1h-1.5zM615.09,306.11h1.5v1h-1.5zM615.09,316.08h1.5v1h-1.5zM615.09,326.05h1.5v1h-1.5zM615.09,336.02h1.5v1h-1.5zM615.09,345.99h1.5v1h-1.5zM615.09,355.96h1.5v1h-1.5zM615.09,365.93h1.5v1h-1.5zM615.09,375.90h1.5v1h-1.5zM615.09,385.87h1.5v1h-1.5zM615.09,395.84h1.5v1h-1.5zM615.09,405.81h1.5v1h-1.5zM615.09,415.78h1.5v1h-1.5zM615.09,425.75h1.5v1h-1.5zM625.25,276.20h1.5v1h-1.5zM625.25,286.17h1.5v1h-1.5zM625.25,296.14h1.5v1h-1.5zM625.25,306.11h1.5v1h-1.5zM625.25,316.08h1.5v1h-1.5zM625.25,326.05h1.5v1h-1.5zM625.25,336.02h1.5v1h-1.5zM625.25,345.99h1.5v1h-1.5zM625.25,355.96h1.5v1h-1.5zM625.25,365.93h1.5v1h-1.5zM625.25,375.90h1.5v1h-1.5zM625.25,385.87h1.5v1h-1.5zM625.25,395.84h1.5v1h-1.5zM625.25,405.81h1.5v1h-1.5zM625.25,415.78h1.5v1h-1.5zM625.25,425.75h1.5v1h-1.5zM635.41,276.20h1.5v1h-1.5zM635.41,286.17h1.5v1h-1.5zM635.41,296.14h1.5v1h-1.5zM635.41,306.11h1.5v1h-1.5zM635.41,316.08h1.5v1h-1.5zM635.41,326.05h1.5v1h-1.5zM635.41,336.02h1.5v1h-1.5zM635.41,345.99h1.5v1h-1.5zM635.41,355.96h1.5v1h-1.5zM635.41,365.93h1.5v1h-1.5zM635.41,375.90h1.5v1h-1.5zM635.41,385.87h1.5v1h-1.5zM635.41,395.84h1.5v1h-1.5zM635.41,405.81h1.5v1h-1.5zM635.41,415.78h1.5v1h-1.5zM635.41,425.75h1.5v1h-1.5zM645.57,276.20h1.5v1h-1.5zM645.57,286.17h1.5v1h-1.5zM645.57,296.14h1.5v1h-1.5zM645.57,306.11h1.5v1h-1.5zM645.57,316.08h1.5v1h-1.5zM645.57,326.05h1.5v1h-1.5zM645.57,336.02h1.5v1h-1.5zM645.57,345.99h1.5v1h-1.5zM645.57,355.96h1.5v1h-1.5zM645.57,365.93h1.5v1h-1.5zM645.57,375.90h1.5v1h-1.5zM645.57,385.87h1.5v1h-1.5zM645.57,395.84h1.5v1h-1.5zM645.57,405.81h1.5v1h-1.5zM645.57,415.78h1.5v1h-1.5zM645.57,425.75h1.5v1h-1.5zM655.73,276.20h1.5v1h-1.5zM655.73,286.17h1.5v1h-1.5zM655.73,296.14h1.5v1h-1.5zM655.73,306.11h1.5v1h-1.5zM655.73,316.08h1.5v1h-1.5zM655.73,326.05h1.5v1h-1.5zM655.73,336.02h1.5v1h-1.5zM655.73,345.99h1.5v1h-1.5zM655.73,355.96h1.5v1h-1.5zM655.73,365.93h1.5v1h-1.5zM655.73,375.90h1.5v1h-1.5zM655.73,385.87h1.5v1h-1.5zM655.73,395.84h1.5v1h-1.5zM655.73,405.81h1.5v1h-1.5zM655.73,415.78h1.5v1h-1.5zM655.73,425.75h1.5v1h-1.5zM665.89,276.20h1.5v1h-1.5zM665.89,286.17h1.5v1h-1.5zM665.89,296.14h1.5v1h-1.5zM665.89,306.11h1.5v1h-1.5zM665.89,316.08h1.5v1h-1.5zM665.89,326.05h1.5v1h-1.5zM665.89,336.02h1.5v1h-1.5zM665.89,345.99h1.5v1h-1.5zM665.89,355.96h1.5v1h-1.5zM665.89,365.93h1.5v1h-1.5zM665.89,375.90h1.5v1h-1.5zM665.89,385.87h1.5v1h-1.5zM665.89,395.84h1.5v1h-1.5zM665.89,405.81h1.5v1h-1.5zM665.89,415.78h1.5v1h-1.5zM665.89,425.75h1.5v1h-1.5zM676.05,276.20h1.5v1h-1.5zM676.05,286.17h1.5v1h-1.5zM676.05,296.14h1.5v1h-1.5zM676.05,306.11h1.5v1h-1.5zM676.05,316.08h1.5v1h-1.5zM676.05,326.05h1.5v1h-1.5zM676.05,336.02h1.5v1h-1.5zM676.05,345.99h1.5v1h-1.5zM676.05,355.96h1.5v1h-1.5zM676.05,365.93h1.5v1h-1.5zM676.05,375.90h1.5v1h-1.5zM676.05,385.87h1.5v1h-1.5zM676.05,395.84h1.5v1h-1.5zM676.05,405.81h1.5v1h-1.5zM676.05,415.78h1.5v1h-1.5zM676.05,425.75h1.5v1h-1.5z" fill="#141414"/>
<clipPath id="cpI"><polygon points="336.1,723.7 424.3,723.7 424.3,742.8 434.1,752.4 434.1,781.1 443.9,790.7 443.9,867.2 345.9,867.2 326.3,848.1 326.3,829.0 336.1,819.4 336.1,809.8 345.9,800.3 345.9,781.1 336.1,771.6 336.1,762.0 326.3,752.4 326.3,733.3"/></clipPath>
<g clip-path="url(#cpI)"><g filter="url(#bmI)">
<path fill="#6dc8dd" d="M272.4,699.8h10.1v9.9h-10.1zM272.4,709.3h10.1v9.9h-10.1zM272.4,718.9h10.1v9.9h-10.1zM272.4,728.5h10.1v9.9h-10.1zM272.4,738.1h10.1v9.9h-10.1zM272.4,747.6h10.1v9.9h-10.1zM272.4,757.2h10.1v9.9h-10.1zM272.4,766.8h10.1v9.9h-10.1zM272.4,776.3h10.1v9.9h-10.1zM272.4,785.9h10.1v9.9h-10.1zM272.4,795.5h10.1v9.9h-10.1zM272.4,805.0h10.1v9.9h-10.1zM272.4,814.6h10.1v9.9h-10.1zM272.4,824.2h10.1v9.9h-10.1zM272.4,833.8h10.1v9.9h-10.1zM272.4,843.3h10.1v9.9h-10.1zM272.4,852.9h10.1v9.9h-10.1zM272.4,862.5h10.1v9.9h-10.1zM272.4,872.0h10.1v9.9h-10.1zM272.4,881.6h10.1v9.9h-10.1zM282.2,699.8h10.1v9.9h-10.1zM282.2,709.3h10.1v9.9h-10.1zM282.2,718.9h10.1v9.9h-10.1zM282.2,728.5h10.1v9.9h-10.1zM282.2,738.1h10.1v9.9h-10.1zM282.2,747.6h10.1v9.9h-10.1zM282.2,757.2h10.1v9.9h-10.1zM282.2,766.8h10.1v9.9h-10.1zM282.2,776.3h10.1v9.9h-10.1zM282.2,785.9h10.1v9.9h-10.1zM282.2,795.5h10.1v9.9h-10.1zM282.2,805.0h10.1v9.9h-10.1zM282.2,814.6h10.1v9.9h-10.1zM282.2,824.2h10.1v9.9h-10.1zM282.2,833.8h10.1v9.9h-10.1zM282.2,843.3h10.1v9.9h-10.1zM282.2,852.9h10.1v9.9h-10.1zM282.2,862.5h10.1v9.9h-10.1zM282.2,872.0h10.1v9.9h-10.1zM282.2,881.6h10.1v9.9h-10.1zM292.0,699.8h10.1v9.9h-10.1zM292.0,709.3h10.1v9.9h-10.1zM292.0,718.9h10.1v9.9h-10.1zM292.0,728.5h10.1v9.9h-10.1zM292.0,738.1h10.1v9.9h-10.1zM292.0,747.6h10.1v9.9h-10.1zM292.0,757.2h10.1v9.9h-10.1zM292.0,766.8h10.1v9.9h-10.1zM292.0,776.3h10.1v9.9h-10.1zM292.0,785.9h10.1v9.9h-10.1zM292.0,795.5h10.1v9.9h-10.1zM292.0,805.0h10.1v9.9h-10.1zM292.0,814.6h10.1v9.9h-10.1zM292.0,824.2h10.1v9.9h-10.1zM292.0,833.8h10.1v9.9h-10.1zM292.0,843.3h10.1v9.9h-10.1zM292.0,852.9h10.1v9.9h-10.1zM292.0,862.5h10.1v9.9h-10.1zM292.0,872.0h10.1v9.9h-10.1zM292.0,881.6h10.1v9.9h-10.1zM301.8,699.8h10.1v9.9h-10.1zM301.8,709.3h10.1v9.9h-10.1zM301.8,718.9h10.1v9.9h-10.1zM301.8,728.5h10.1v9.9h-10.1zM301.8,738.1h10.1v9.9h-10.1zM301.8,747.6h10.1v9.9h-10.1zM301.8,757.2h10.1v9.9h-10.1zM301.8,766.8h10.1v9.9h-10.1zM301.8,776.3h10.1v9.9h-10.1zM301.8,785.9h10.1v9.9h-10.1zM301.8,795.5h10.1v9.9h-10.1zM301.8,805.0h10.1v9.9h-10.1zM301.8,814.6h10.1v9.9h-10.1zM301.8,824.2h10.1v9.9h-10.1zM301.8,833.8h10.1v9.9h-10.1zM301.8,843.3h10.1v9.9h-10.1zM301.8,852.9h10.1v9.9h-10.1zM301.8,862.5h10.1v9.9h-10.1zM301.8,872.0h10.1v9.9h-10.1zM301.8,881.6h10.1v9.9h-10.1zM311.6,699.8h10.1v9.9h-10.1zM311.6,709.3h10.1v9.9h-10.1zM311.6,718.9h10.1v9.9h-10.1zM311.6,728.5h10.1v9.9h-10.1zM311.6,738.1h10.1v9.9h-10.1zM311.6,747.6h10.1v9.9h-10.1zM311.6,757.2h10.1v9.9h-10.1zM311.6,766.8h10.1v9.9h-10.1zM311.6,776.3h10.1v9.9h-10.1zM311.6,805.0h10.1v9.9h-10.1zM311.6,814.6h10.1v9.9h-10.1zM311.6,824.2h10.1v9.9h-10.1zM311.6,833.8h10.1v9.9h-10.1zM311.6,843.3h10.1v9.9h-10.1zM311.6,852.9h10.1v9.9h-10.1zM311.6,862.5h10.1v9.9h-10.1zM311.6,872.0h10.1v9.9h-10.1zM311.6,881.6h10.1v9.9h-10.1zM321.4,699.8h10.1v9.9h-10.1zM321.4,709.3h10.1v9.9h-10.1zM321.4,718.9h10.1v9.9h-10.1zM321.4,728.5h10.1v9.9h-10.1zM321.4,738.1h10.1v9.9h-10.1zM321.4,747.6h10.1v9.9h-10.1zM321.4,757.2h10.1v9.9h-10.1zM321.4,824.2h10.1v9.9h-10.1zM321.4,833.8h10.1v9.9h-10.1zM321.4,843.3h10.1v9.9h-10.1zM321.4,852.9h10.1v9.9h-10.1zM321.4,862.5h10.1v9.9h-10.1zM321.4,872.0h10.1v9.9h-10.1zM321.4,881.6h10.1v9.9h-10.1zM331.2,699.8h10.1v9.9h-10.1zM331.2,709.3h10.1v9.9h-10.1zM331.2,718.9h10.1v9.9h-10.1zM331.2,833.8h10.1v9.9h-10.1zM331.2,843.3h10.1v9.9h-10.1zM331.2,852.9h10.1v9.9h-10.1zM331.2,862.5h10.1v9.9h-10.1zM331.2,872.0h10.1v9.9h-10.1zM331.2,881.6h10.1v9.9h-10.1zM341.0,843.3h10.1v9.9h-10.1zM341.0,852.9h10.1v9.9h-10.1zM341.0,862.5h10.1v9.9h-10.1zM341.0,872.0h10.1v9.9h-10.1zM341.0,881.6h10.1v9.9h-10.1zM350.8,843.3h10.1v9.9h-10.1zM350.8,852.9h10.1v9.9h-10.1zM350.8,862.5h10.1v9.9h-10.1zM350.8,872.0h10.1v9.9h-10.1zM350.8,881.6h10.1v9.9h-10.1zM360.6,843.3h10.1v9.9h-10.1zM360.6,852.9h10.1v9.9h-10.1zM360.6,862.5h10.1v9.9h-10.1zM360.6,872.0h10.1v9.9h-10.1zM360.6,881.6h10.1v9.9h-10.1zM370.4,843.3h10.1v9.9h-10.1zM370.4,852.9h10.1v9.9h-10.1zM370.4,862.5h10.1v9.9h-10.1zM370.4,872.0h10.1v9.9h-10.1zM370.4,881.6h10.1v9.9h-10.1zM380.2,852.9h10.1v9.9h-10.1zM380.2,862.5h10.1v9.9h-10.1zM380.2,872.0h10.1v9.9h-10.1zM380.2,881.6h10.1v9.9h-10.1zM390.0,852.9h10.1v9.9h-10.1zM390.0,862.5h10.1v9.9h-10.1zM390.0,872.0h10.1v9.9h-10.1zM390.0,881.6h10.1v9.9h-10.1zM399.8,852.9h10.1v9.9h-10.1zM399.8,862.5h10.1v9.9h-10.1zM399.8,872.0h10.1v9.9h-10.1zM399.8,881.6h10.1v9.9h-10.1zM409.6,852.9h10.1v9.9h-10.1zM409.6,862.5h10.1v9.9h-10.1zM409.6,872.0h10.1v9.9h-10.1zM409.6,881.6h10.1v9.9h-10.1zM419.4,852.9h10.1v9.9h-10.1zM419.4,862.5h10.1v9.9h-10.1zM419.4,872.0h10.1v9.9h-10.1zM419.4,881.6h10.1v9.9h-10.1zM429.2,852.9h10.1v9.9h-10.1zM429.2,862.5h10.1v9.9h-10.1zM429.2,872.0h10.1v9.9h-10.1zM429.2,881.6h10.1v9.9h-10.1zM439.0,699.8h10.1v9.9h-10.1zM439.0,709.3h10.1v9.9h-10.1zM439.0,718.9h10.1v9.9h-10.1zM439.0,728.5h10.1v9.9h-10.1zM439.0,738.1h10.1v9.9h-10.1zM439.0,843.3h10.1v9.9h-10.1zM439.0,852.9h10.1v9.9h-10.1zM439.0,862.5h10.1v9.9h-10.1zM439.0,872.0h10.1v9.9h-10.1zM439.0,881.6h10.1v9.9h-10.1zM448.8,699.8h10.1v9.9h-10.1zM448.8,709.3h10.1v9.9h-10.1zM448.8,718.9h10.1v9.9h-10.1zM448.8,728.5h10.1v9.9h-10.1zM448.8,738.1h10.1v9.9h-10.1zM448.8,843.3h10.1v9.9h-10.1zM448.8,852.9h10.1v9.9h-10.1zM448.8,862.5h10.1v9.9h-10.1zM448.8,872.0h10.1v9.9h-10.1zM448.8,881.6h10.1v9.9h-10.1zM458.6,699.8h10.1v9.9h-10.1zM458.6,709.3h10.1v9.9h-10.1zM458.6,718.9h10.1v9.9h-10.1zM458.6,728.5h10.1v9.9h-10.1zM458.6,738.1h10.1v9.9h-10.1zM458.6,843.3h10.1v9.9h-10.1zM458.6,852.9h10.1v9.9h-10.1zM458.6,862.5h10.1v9.9h-10.1zM458.6,872.0h10.1v9.9h-10.1zM458.6,881.6h10.1v9.9h-10.1z"/>
<path fill="#6dc7dd" d="M311.6,785.9h10.1v9.9h-10.1zM311.6,795.5h10.1v9.9h-10.1zM321.4,766.8h10.1v9.9h-10.1zM321.4,776.3h10.1v9.9h-10.1zM321.4,785.9h10.1v9.9h-10.1zM321.4,795.5h10.1v9.9h-10.1zM321.4,805.0h10.1v9.9h-10.1zM321.4,814.6h10.1v9.9h-10.1zM331.2,728.5h10.1v9.9h-10.1zM331.2,738.1h10.1v9.9h-10.1zM331.2,747.6h10.1v9.9h-10.1zM331.2,757.2h10.1v9.9h-10.1zM331.2,766.8h10.1v9.9h-10.1zM331.2,814.6h10.1v9.9h-10.1zM331.2,824.2h10.1v9.9h-10.1zM341.0,699.8h10.1v9.9h-10.1zM341.0,709.3h10.1v9.9h-10.1zM341.0,718.9h10.1v9.9h-10.1zM341.0,824.2h10.1v9.9h-10.1zM341.0,833.8h10.1v9.9h-10.1zM350.8,833.8h10.1v9.9h-10.1zM360.6,833.8h10.1v9.9h-10.1zM370.4,833.8h10.1v9.9h-10.1zM380.2,843.3h10.1v9.9h-10.1zM390.0,843.3h10.1v9.9h-10.1zM399.8,843.3h10.1v9.9h-10.1zM409.6,843.3h10.1v9.9h-10.1zM419.4,843.3h10.1v9.9h-10.1zM429.2,699.8h10.1v9.9h-10.1zM429.2,709.3h10.1v9.9h-10.1zM429.2,718.9h10.1v9.9h-10.1zM429.2,728.5h10.1v9.9h-10.1zM429.2,738.1h10.1v9.9h-10.1zM429.2,843.3h10.1v9.9h-10.1zM439.0,747.6h10.1v9.9h-10.1zM439.0,833.8h10.1v9.9h-10.1zM448.8,747.6h10.1v9.9h-10.1zM448.8,833.8h10.1v9.9h-10.1zM458.6,747.6h10.1v9.9h-10.1zM458.6,833.8h10.1v9.9h-10.1z"/>
<path fill="#6dc6de" d="M331.2,776.3h10.1v9.9h-10.1zM331.2,785.9h10.1v9.9h-10.1zM331.2,795.5h10.1v9.9h-10.1zM331.2,805.0h10.1v9.9h-10.1zM341.0,738.1h10.1v9.9h-10.1zM341.0,766.8h10.1v9.9h-10.1zM341.0,814.6h10.1v9.9h-10.1zM350.8,757.2h10.1v9.9h-10.1zM360.6,824.2h10.1v9.9h-10.1zM409.6,833.8h10.1v9.9h-10.1zM419.4,728.5h10.1v9.9h-10.1zM419.4,738.1h10.1v9.9h-10.1zM419.4,747.6h10.1v9.9h-10.1zM419.4,833.8h10.1v9.9h-10.1z"/>
<path fill="#6dc7de" d="M341.0,728.5h10.1v9.9h-10.1zM341.0,747.6h10.1v9.9h-10.1zM341.0,757.2h10.1v9.9h-10.1zM350.8,824.2h10.1v9.9h-10.1zM419.4,699.8h10.1v9.9h-10.1zM419.4,709.3h10.1v9.9h-10.1zM419.4,718.9h10.1v9.9h-10.1zM429.2,747.6h10.1v9.9h-10.1zM429.2,833.8h10.1v9.9h-10.1z"/>
<path fill="#6cc5de" d="M341.0,776.3h10.1v9.9h-10.1zM341.0,805.0h10.1v9.9h-10.1zM350.8,699.8h10.1v9.9h-10.1zM350.8,709.3h10.1v9.9h-10.1zM350.8,718.9h10.1v9.9h-10.1zM350.8,747.6h10.1v9.9h-10.1zM350.8,766.8h10.1v9.9h-10.1zM350.8,814.6h10.1v9.9h-10.1zM370.4,824.2h10.1v9.9h-10.1zM380.2,833.8h10.1v9.9h-10.1zM409.6,699.8h10.1v9.9h-10.1zM409.6,709.3h10.1v9.9h-10.1zM409.6,718.9h10.1v9.9h-10.1zM429.2,757.2h10.1v9.9h-10.1zM439.0,757.2h10.1v9.9h-10.1zM439.0,824.2h10.1v9.9h-10.1zM448.8,757.2h10.1v9.9h-10.1zM448.8,824.2h10.1v9.9h-10.1zM458.6,757.2h10.1v9.9h-10.1zM458.6,824.2h10.1v9.9h-10.1z"/>
<path fill="#6cc4df" d="M341.0,785.9h10.1v9.9h-10.1zM341.0,795.5h10.1v9.9h-10.1zM350.8,728.5h10.1v9.9h-10.1zM360.6,766.8h10.1v9.9h-10.1zM360.6,814.6h10.1v9.9h-10.1zM419.4,757.2h10.1v9.9h-10.1zM429.2,824.2h10.1v9.9h-10.1z"/>
<path fill="#6cc3df" d="M350.8,738.1h10.1v9.9h-10.1zM350.8,776.3h10.1v9.9h-10.1zM350.8,805.0h10.1v9.9h-10.1zM360.6,757.2h10.1v9.9h-10.1zM390.0,833.8h10.1v9.9h-10.1zM409.6,728.5h10.1v9.9h-10.1zM409.6,747.6h10.1v9.9h-10.1zM409.6,757.2h10.1v9.9h-10.1zM419.4,824.2h10.1v9.9h-10.1z"/>
<path fill="#6cc1e0" d="M350.8,785.9h10.1v9.9h-10.1zM350.8,795.5h10.1v9.9h-10.1zM360.6,776.3h10.1v9.9h-10.1zM370.4,757.2h10.1v9.9h-10.1zM380.2,766.8h10.1v9.9h-10.1zM399.8,699.8h10.1v9.9h-10.1zM399.8,709.3h10.1v9.9h-10.1zM399.8,718.9h10.1v9.9h-10.1z"/>
<path fill="#6cc2df" d="M360.6,699.8h10.1v9.9h-10.1zM360.6,709.3h10.1v9.9h-10.1zM360.6,718.9h10.1v9.9h-10.1zM370.4,766.8h10.1v9.9h-10.1zM370.4,814.6h10.1v9.9h-10.1zM399.8,757.2h10.1v9.9h-10.1zM409.6,738.1h10.1v9.9h-10.1zM409.6,824.2h10.1v9.9h-10.1zM439.0,766.8h10.1v9.9h-10.1zM448.8,766.8h10.1v9.9h-10.1zM458.6,766.8h10.1v9.9h-10.1z"/>
<path fill="#6db9de" d="M360.6,728.5h10.1v9.9h-10.1zM360.6,795.5h10.1v9.9h-10.1z"/>
<path fill="#6db8dd" d="M360.6,738.1h10.1v9.9h-10.1zM380.2,776.3h10.1v9.9h-10.1zM380.2,824.2h10.1v9.9h-10.1z"/>
<path fill="#6cc0e0" d="M360.6,747.6h10.1v9.9h-10.1zM360.6,805.0h10.1v9.9h-10.1zM390.0,757.2h10.1v9.9h-10.1zM390.0,766.8h10.1v9.9h-10.1zM439.0,814.6h10.1v9.9h-10.1zM448.8,814.6h10.1v9.9h-10.1zM458.6,814.6h10.1v9.9h-10.1z"/>
<path fill="#6dbade" d="M360.6,785.9h10.1v9.9h-10.1z"/>
<path fill="#6db7dd" d="M370.4,699.8h10.1v9.9h-10.1zM370.4,709.3h10.1v9.9h-10.1zM370.4,718.9h10.1v9.9h-10.1zM429.2,814.6h10.1v9.9h-10.1z"/>
<path fill="#6fa3d6" d="M370.4,728.5h10.1v9.9h-10.1z"/>
<path fill="#6fa1d5" d="M370.4,738.1h10.1v9.9h-10.1zM390.0,785.9h10.1v9.9h-10.1z"/>
<path fill="#6db2db" d="M370.4,747.6h10.1v9.9h-10.1zM370.4,785.9h10.1v9.9h-10.1zM380.2,805.0h10.1v9.9h-10.1zM390.0,776.3h10.1v9.9h-10.1z"/>
<path fill="#6cbddf" d="M370.4,776.3h10.1v9.9h-10.1zM399.8,747.6h10.1v9.9h-10.1z"/>
<path fill="#6db0da" d="M370.4,795.5h10.1v9.9h-10.1zM380.2,699.8h10.1v9.9h-10.1zM380.2,709.3h10.1v9.9h-10.1zM380.2,718.9h10.1v9.9h-10.1z"/>
<path fill="#6cbbde" d="M370.4,805.0h10.1v9.9h-10.1zM419.4,766.8h10.1v9.9h-10.1z"/>
<path fill="#7494ce" d="M380.2,728.5h10.1v9.9h-10.1z"/>
<path fill="#768fcc" d="M380.2,738.1h10.1v9.9h-10.1zM399.8,795.5h10.1v9.9h-10.1z"/>
<path fill="#6ea9d8" d="M380.2,747.6h10.1v9.9h-10.1z"/>
<path fill="#6cbfe0" d="M380.2,757.2h10.1v9.9h-10.1zM399.8,766.8h10.1v9.9h-10.1z"/>
<path fill="#6eaad8" d="M380.2,785.9h10.1v9.9h-10.1z"/>
<path fill="#6ea8d7" d="M380.2,795.5h10.1v9.9h-10.1z"/>
<path fill="#6db1da" d="M380.2,814.6h10.1v9.9h-10.1z"/>
<path fill="#6db5dc" d="M390.0,699.8h10.1v9.9h-10.1zM390.0,709.3h10.1v9.9h-10.1zM390.0,718.9h10.1v9.9h-10.1zM399.8,728.5h10.1v9.9h-10.1zM419.4,814.6h10.1v9.9h-10.1z"/>
<path fill="#6f9fd4" d="M390.0,728.5h10.1v9.9h-10.1zM390.0,795.5h10.1v9.9h-10.1z"/>
<path fill="#719cd2" d="M390.0,738.1h10.1v9.9h-10.1z"/>
<path fill="#6eafda" d="M390.0,747.6h10.1v9.9h-10.1z"/>
<path fill="#6ea7d7" d="M390.0,805.0h10.1v9.9h-10.1z"/>
<path fill="#7592ce" d="M390.0,814.6h10.1v9.9h-10.1z"/>
<path fill="#719ad2" d="M390.0,824.2h10.1v9.9h-10.1zM409.6,805.0h10.1v9.9h-10.1z"/>
<path fill="#6db3db" d="M399.8,738.1h10.1v9.9h-10.1z"/>
<path fill="#6eabd8" d="M399.8,776.3h10.1v9.9h-10.1z"/>
<path fill="#7593ce" d="M399.8,785.9h10.1v9.9h-10.1z"/>
<path fill="#6fa2d5" d="M399.8,805.0h10.1v9.9h-10.1z"/>
<path fill="#6fa3d5" d="M399.8,814.6h10.1v9.9h-10.1zM409.6,776.3h10.1v9.9h-10.1z"/>
<path fill="#6eaed9" d="M399.8,824.2h10.1v9.9h-10.1z"/>
<path fill="#6cc4de" d="M399.8,833.8h10.1v9.9h-10.1z"/>
<path fill="#6cbcdf" d="M409.6,766.8h10.1v9.9h-10.1z"/>
<path fill="#7d80c4" d="M409.6,785.9h10.1v9.9h-10.1z"/>
<path fill="#807cc2" d="M409.6,795.5h10.1v9.9h-10.1z"/>
<path fill="#6db4dc" d="M409.6,814.6h10.1v9.9h-10.1z"/>
<path fill="#7298d1" d="M419.4,776.3h10.1v9.9h-10.1z"/>
<path fill="#8b62b3" d="M419.4,785.9h10.1v9.9h-10.1z"/>
<path fill="#9659ac" d="M419.4,795.5h10.1v9.9h-10.1z"/>
<path fill="#7b85c7" d="M419.4,805.0h10.1v9.9h-10.1z"/>
<path fill="#6cbedf" d="M429.2,766.8h10.1v9.9h-10.1z"/>
<path fill="#7396cf" d="M429.2,776.3h10.1v9.9h-10.1z"/>
<path fill="#a951a6" d="M429.2,785.9h10.1v9.9h-10.1z"/>
<path fill="#c44fa6" d="M429.2,795.5h10.1v9.9h-10.1z"/>
<path fill="#8179c0" d="M429.2,805.0h10.1v9.9h-10.1z"/>
<path fill="#6eacd9" d="M439.0,776.3h10.1v9.9h-10.1zM448.8,776.3h10.1v9.9h-10.1zM458.6,776.3h10.1v9.9h-10.1z"/>
<path fill="#8473bc" d="M439.0,785.9h10.1v9.9h-10.1zM448.8,785.9h10.1v9.9h-10.1zM458.6,785.9h10.1v9.9h-10.1z"/>
<path fill="#8966b5" d="M439.0,795.5h10.1v9.9h-10.1zM448.8,795.5h10.1v9.9h-10.1zM458.6,795.5h10.1v9.9h-10.1z"/>
<path fill="#709ed3" d="M439.0,805.0h10.1v9.9h-10.1zM448.8,805.0h10.1v9.9h-10.1zM458.6,805.0h10.1v9.9h-10.1z"/>
</g></g>
<path d="M296.3,723.1h1.2v1.2h-1.2zM296.3,732.7h1.2v1.2h-1.2zM296.3,742.2h1.2v1.2h-1.2zM296.3,751.8h1.2v1.2h-1.2zM296.3,761.4h1.2v1.2h-1.2zM296.3,771.0h1.2v1.2h-1.2zM296.3,780.5h1.2v1.2h-1.2zM296.3,790.1h1.2v1.2h-1.2zM296.3,799.7h1.2v1.2h-1.2zM296.3,809.2h1.2v1.2h-1.2zM296.3,818.8h1.2v1.2h-1.2zM296.3,828.4h1.2v1.2h-1.2zM296.3,837.9h1.2v1.2h-1.2zM296.3,847.5h1.2v1.2h-1.2zM296.3,857.1h1.2v1.2h-1.2zM296.3,866.6h1.2v1.2h-1.2zM306.1,723.1h1.2v1.2h-1.2zM306.1,732.7h1.2v1.2h-1.2zM306.1,742.2h1.2v1.2h-1.2zM306.1,751.8h1.2v1.2h-1.2zM306.1,761.4h1.2v1.2h-1.2zM306.1,771.0h1.2v1.2h-1.2zM306.1,780.5h1.2v1.2h-1.2zM306.1,790.1h1.2v1.2h-1.2zM306.1,799.7h1.2v1.2h-1.2zM306.1,809.2h1.2v1.2h-1.2zM306.1,818.8h1.2v1.2h-1.2zM306.1,828.4h1.2v1.2h-1.2zM306.1,837.9h1.2v1.2h-1.2zM306.1,847.5h1.2v1.2h-1.2zM306.1,857.1h1.2v1.2h-1.2zM306.1,866.6h1.2v1.2h-1.2zM315.9,723.1h1.2v1.2h-1.2zM315.9,732.7h1.2v1.2h-1.2zM315.9,742.2h1.2v1.2h-1.2zM315.9,751.8h1.2v1.2h-1.2zM315.9,761.4h1.2v1.2h-1.2zM315.9,771.0h1.2v1.2h-1.2zM315.9,780.5h1.2v1.2h-1.2zM315.9,790.1h1.2v1.2h-1.2zM315.9,799.7h1.2v1.2h-1.2zM315.9,809.2h1.2v1.2h-1.2zM315.9,818.8h1.2v1.2h-1.2zM315.9,828.4h1.2v1.2h-1.2zM315.9,837.9h1.2v1.2h-1.2zM315.9,847.5h1.2v1.2h-1.2zM315.9,857.1h1.2v1.2h-1.2zM315.9,866.6h1.2v1.2h-1.2zM325.7,723.1h1.2v1.2h-1.2zM325.7,732.7h1.2v1.2h-1.2zM325.7,742.2h1.2v1.2h-1.2zM325.7,751.8h1.2v1.2h-1.2zM325.7,761.4h1.2v1.2h-1.2zM325.7,771.0h1.2v1.2h-1.2zM325.7,780.5h1.2v1.2h-1.2zM325.7,790.1h1.2v1.2h-1.2zM325.7,799.7h1.2v1.2h-1.2zM325.7,809.2h1.2v1.2h-1.2zM325.7,818.8h1.2v1.2h-1.2zM325.7,828.4h1.2v1.2h-1.2zM325.7,837.9h1.2v1.2h-1.2zM325.7,847.5h1.2v1.2h-1.2zM325.7,857.1h1.2v1.2h-1.2zM325.7,866.6h1.2v1.2h-1.2zM335.5,723.1h1.2v1.2h-1.2zM335.5,761.4h1.2v1.2h-1.2zM335.5,771.0h1.2v1.2h-1.2zM335.5,780.5h1.2v1.2h-1.2zM335.5,790.1h1.2v1.2h-1.2zM335.5,799.7h1.2v1.2h-1.2zM335.5,809.2h1.2v1.2h-1.2zM335.5,818.8h1.2v1.2h-1.2zM335.5,857.1h1.2v1.2h-1.2zM335.5,866.6h1.2v1.2h-1.2zM345.3,780.5h1.2v1.2h-1.2zM345.3,790.1h1.2v1.2h-1.2zM345.3,799.7h1.2v1.2h-1.2zM345.3,809.2h1.2v1.2h-1.2zM345.3,857.1h1.2v1.2h-1.2zM345.3,866.6h1.2v1.2h-1.2zM364.9,857.1h1.2v1.2h-1.2zM374.7,761.4h1.2v1.2h-1.2zM394.3,809.2h1.2v1.2h-1.2zM423.7,723.1h1.2v1.2h-1.2zM423.7,732.7h1.2v1.2h-1.2zM423.7,742.2h1.2v1.2h-1.2zM433.5,723.1h1.2v1.2h-1.2zM433.5,732.7h1.2v1.2h-1.2zM433.5,742.2h1.2v1.2h-1.2zM433.5,751.8h1.2v1.2h-1.2zM433.5,761.4h1.2v1.2h-1.2zM433.5,771.0h1.2v1.2h-1.2zM433.5,780.5h1.2v1.2h-1.2zM433.5,790.1h1.2v1.2h-1.2zM443.3,723.1h1.2v1.2h-1.2zM443.3,732.7h1.2v1.2h-1.2zM443.3,742.2h1.2v1.2h-1.2zM443.3,751.8h1.2v1.2h-1.2zM443.3,761.4h1.2v1.2h-1.2zM443.3,771.0h1.2v1.2h-1.2zM443.3,780.5h1.2v1.2h-1.2zM443.3,790.1h1.2v1.2h-1.2z" fill="#ee716d"/>
<clipPath id="caI"><rect x="296.1" y="722.9" width="148.6" height="145.0"/></clipPath><path clip-path="url(#caI)" d="M335.7,723.6L334.7,726.7L333.8,727.6L333.7,728.8L334.2,729.5L335.0,729.2L335.7,728.2L335.4,727.0L336.5,723.8zM345.5,723.6L344.7,726.8L343.8,727.7L343.8,728.9L344.3,729.6L345.1,729.3L345.7,728.2L345.4,727.0L346.3,723.8zM355.3,723.6L354.3,726.7L353.4,727.6L353.3,728.8L353.8,729.5L354.6,729.2L355.3,728.2L355.0,727.0L356.1,723.8zM365.1,723.6L364.0,726.7L363.1,727.5L362.9,728.7L363.4,729.5L364.2,729.2L364.9,728.2L364.7,726.9L365.9,723.8zM374.9,723.6L373.7,726.6L372.7,727.4L372.5,728.6L373.0,729.4L373.9,729.2L374.6,728.1L374.4,726.9L375.7,723.8zM384.8,723.5L383.4,726.5L382.4,727.3L382.1,728.5L382.5,729.3L383.4,729.1L384.1,728.1L384.0,726.9L385.4,723.9zM394.6,723.5L393.1,726.5L392.0,727.2L391.7,728.4L392.1,729.2L393.0,729.0L393.8,728.1L393.7,726.8L395.2,723.9zM404.3,723.6L403.2,726.7L402.3,727.5L402.1,728.7L402.6,729.5L403.4,729.2L404.1,728.2L403.9,726.9L405.1,723.8zM414.1,723.8L414.6,727.0L414.1,728.2L414.6,729.3L415.4,729.8L416.0,729.1L416.1,727.9L415.3,726.9L414.9,723.6zM423.9,723.8L424.9,727.0L424.6,728.2L425.3,729.3L426.1,729.6L426.6,728.8L426.5,727.6L425.6,726.7L424.7,723.6zM326.1,733.0L323.5,735.1L322.3,735.3L321.6,736.3L321.6,737.2L322.5,737.4L323.6,736.8L324.0,735.7L326.5,733.6zM335.8,733.0L333.4,735.2L332.2,735.5L331.5,736.5L331.5,737.4L332.4,737.5L333.5,736.9L333.9,735.8L336.4,733.6zM345.6,733.0L343.4,735.5L342.2,735.9L341.6,737.0L341.8,737.8L342.7,737.9L343.7,737.2L344.0,736.0L346.2,733.5zM355.4,733.1L353.7,735.9L352.7,736.6L352.3,737.8L352.6,738.6L353.5,738.5L354.3,737.6L354.4,736.3L356.0,733.5zM365.2,733.1L363.7,736.0L362.6,736.7L362.3,737.9L362.7,738.7L363.6,738.6L364.4,737.6L364.3,736.4L365.8,733.4zM375.0,733.1L373.5,736.0L372.4,736.7L372.1,737.9L372.5,738.7L373.4,738.6L374.2,737.6L374.1,736.4L375.6,733.4zM384.8,733.1L383.1,735.9L382.1,736.6L381.7,737.8L382.0,738.6L382.9,738.5L383.7,737.6L383.8,736.3L385.4,733.5zM394.6,733.1L392.7,735.8L391.6,736.4L391.2,737.5L391.5,738.4L392.4,738.3L393.3,737.5L393.4,736.2L395.2,733.5zM404.3,733.1L403.2,736.2L402.3,737.1L402.1,738.3L402.6,739.0L403.4,738.8L404.1,737.7L403.9,736.5L405.1,733.4zM414.1,733.4L415.1,736.5L414.8,737.8L415.5,738.8L416.3,739.2L416.8,738.4L416.7,737.2L415.8,736.3L414.9,733.2zM423.9,733.4L425.2,736.5L425.0,737.7L425.7,738.7L426.6,739.0L427.1,738.2L426.9,737.0L425.9,736.2L424.7,733.1zM326.1,742.5L323.3,744.2L322.0,744.2L321.1,745.0L321.0,745.9L321.8,746.3L323.0,745.9L323.6,744.8L326.5,743.2zM335.9,742.5L333.1,744.2L331.8,744.3L330.9,745.1L330.8,746.0L331.7,746.3L332.8,745.9L333.5,744.9L336.3,743.2zM345.7,742.5L343.0,744.4L341.7,744.6L340.9,745.5L340.9,746.4L341.7,746.6L342.9,746.2L343.4,745.0L346.1,743.2zM355.4,742.6L353.5,745.3L352.3,745.8L351.8,747.0L352.1,747.8L353.0,747.8L353.9,747.0L354.1,745.7L356.0,743.1zM365.2,742.6L363.4,745.4L362.3,746.1L361.9,747.2L362.2,748.1L363.1,748.0L364.0,747.1L364.1,745.8L365.8,743.0zM375.0,742.6L373.2,745.4L372.1,746.1L371.7,747.2L372.0,748.1L372.9,748.0L373.8,747.1L373.9,745.8L375.6,743.0zM384.8,742.6L382.9,745.3L381.8,745.9L381.3,747.0L381.6,747.9L382.5,747.8L383.4,747.0L383.5,745.8L385.4,743.1zM394.6,742.6L392.8,745.4L391.7,746.0L391.3,747.2L391.6,748.0L392.4,747.9L393.3,747.1L393.4,745.8L395.2,743.0zM404.4,742.7L402.9,745.6L401.9,746.4L401.6,747.6L402.0,748.4L402.9,748.2L403.7,747.2L403.6,746.0L405.0,743.0zM414.2,743.0L415.4,746.0L415.3,747.3L416.0,748.3L416.9,748.5L417.3,747.7L417.1,746.5L416.1,745.7L414.8,742.7zM423.9,743.0L425.0,746.1L424.7,747.3L425.4,748.4L426.2,748.7L426.7,747.9L426.6,746.7L425.7,745.9L424.7,742.7zM326.1,752.1L323.5,754.2L322.3,754.5L321.6,755.5L321.6,756.4L322.5,756.6L323.6,756.0L324.0,754.8L326.5,752.7zM335.8,752.1L333.5,754.5L332.3,754.8L331.6,755.9L331.8,756.8L332.6,756.9L333.7,756.2L334.0,755.0L336.4,752.7zM345.6,752.2L343.6,754.8L342.4,755.3L341.9,756.4L342.1,757.3L343.0,757.3L344.0,756.5L344.2,755.2L346.2,752.6zM355.4,752.2L353.8,755.1L352.7,755.8L352.4,757.0L352.7,757.8L353.6,757.6L354.4,756.7L354.4,755.5L356.0,752.6zM365.2,752.2L363.7,755.2L362.6,755.9L362.3,757.1L362.7,757.9L363.6,757.7L364.4,756.8L364.3,755.5L365.8,752.6zM375.0,752.2L373.5,755.2L372.4,755.9L372.1,757.1L372.5,757.9L373.4,757.7L374.2,756.8L374.1,755.5L375.6,752.6zM384.8,752.2L383.2,755.1L382.1,755.8L381.8,757.0L382.1,757.8L383.0,757.6L383.8,756.7L383.8,755.5L385.4,752.6zM394.6,752.2L392.7,754.9L391.6,755.5L391.1,756.6L391.4,757.4L392.3,757.4L393.2,756.6L393.3,755.3L395.2,752.6zM404.4,752.2L402.5,754.9L401.4,755.5L401.0,756.7L401.3,757.5L402.2,757.4L403.1,756.6L403.2,755.4L405.0,752.6zM414.1,752.5L415.3,755.6L415.1,756.9L415.8,757.9L416.6,758.2L417.1,757.4L416.9,756.2L416.0,755.4L414.9,752.3zM424.0,752.6L425.8,755.4L425.9,756.6L426.8,757.4L427.7,757.5L428.0,756.7L427.6,755.5L426.5,754.9L424.6,752.2zM433.9,752.7L436.3,754.9L436.8,756.0L437.9,756.6L438.7,756.4L438.8,755.6L438.1,754.6L436.8,754.3L434.3,752.1zM335.8,761.8L333.8,764.4L332.7,764.9L332.2,766.0L332.4,766.9L333.3,766.9L334.2,766.1L334.4,764.8L336.4,762.2zM345.6,761.8L343.7,764.5L342.6,765.1L342.2,766.2L342.5,767.1L343.4,767.0L344.3,766.2L344.4,764.9L346.2,762.2zM355.4,761.8L353.9,764.7L352.8,765.5L352.5,766.6L352.9,767.5L353.8,767.3L354.6,766.3L354.5,765.1L356.0,762.2zM365.2,761.8L363.2,764.4L362.1,764.9L361.6,766.0L361.8,766.9L362.7,766.9L363.6,766.1L363.8,764.8L365.8,762.2zM375.1,761.7L372.6,763.9L371.3,764.1L370.6,765.1L370.7,766.0L371.5,766.2L372.6,765.6L373.1,764.4L375.5,762.3zM384.9,761.7L382.2,763.7L381.0,763.8L380.2,764.8L380.2,765.7L381.1,765.9L382.2,765.4L382.7,764.3L385.3,762.3zM394.6,761.8L392.7,764.5L391.6,765.1L391.2,766.2L391.5,767.1L392.4,767.0L393.3,766.2L393.4,764.9L395.2,762.2zM404.4,761.8L402.9,764.7L401.8,765.5L401.5,766.6L401.9,767.5L402.8,767.3L403.6,766.3L403.5,765.1L405.0,762.2zM414.1,762.0L413.9,765.3L413.3,766.3L413.5,767.5L414.2,768.1L414.9,767.6L415.2,766.4L414.7,765.3L414.9,762.0zM424.4,762.3L427.6,761.3L428.8,761.6L429.8,760.9L430.1,760.1L429.4,759.6L428.2,759.7L427.3,760.6L424.2,761.6zM434.1,762.4L434.1,762.4L435.2,763.0L436.4,762.7L437.0,762.0L436.4,761.3L435.2,761.0L434.1,761.6L434.1,761.6zM335.8,771.3L333.8,773.9L332.6,774.4L332.1,775.5L332.3,776.4L333.2,776.4L334.2,775.6L334.4,774.4L336.4,771.8zM345.7,771.3L343.2,773.4L341.9,773.7L341.2,774.7L341.3,775.6L342.1,775.8L343.2,775.2L343.7,774.0L346.1,771.8zM355.5,771.2L352.8,773.1L351.5,773.2L350.7,774.1L350.6,775.0L351.5,775.3L352.6,774.8L353.2,773.7L355.9,771.9zM365.4,771.2L362.2,772.1L361.0,771.8L359.9,772.4L359.6,773.2L360.3,773.8L361.5,773.7L362.4,772.8L365.6,771.9zM375.2,771.2L372.0,771.9L370.8,771.5L369.7,772.0L369.3,772.8L370.0,773.4L371.2,773.4L372.2,772.6L375.4,771.9zM385.1,771.2L381.8,771.2L380.7,770.6L379.5,770.8L378.9,771.6L379.5,772.3L380.7,772.5L381.8,771.9L385.1,771.9zM394.8,771.2L391.7,772.3L390.4,772.1L389.4,772.7L389.1,773.6L389.8,774.0L391.1,773.9L391.9,773.0L395.0,771.9zM404.5,771.2L401.6,772.8L400.4,772.8L399.5,773.6L399.3,774.5L400.1,774.9L401.3,774.5L402.0,773.5L404.9,771.9zM414.8,771.3L412.5,768.9L412.1,767.7L411.1,767.0L410.2,767.1L410.1,768.0L410.7,769.1L411.9,769.4L414.2,771.8zM424.6,771.3L422.4,768.8L422.2,767.6L421.2,766.9L420.3,766.9L420.1,767.8L420.7,768.9L421.8,769.3L424.0,771.8zM434.4,771.4L432.9,768.5L432.9,767.2L432.1,766.3L431.2,766.1L430.8,766.9L431.2,768.1L432.2,768.8L433.8,771.7zM345.9,780.7L342.6,781.1L341.4,780.7L340.3,781.1L339.8,781.9L340.4,782.5L341.7,782.6L342.7,781.9L345.9,781.5zM355.8,780.8L352.6,779.9L351.7,779.0L350.5,779.0L349.8,779.5L350.1,780.4L351.2,780.9L352.4,780.6L355.6,781.5zM365.6,780.8L362.5,779.7L361.7,778.8L360.4,778.6L359.7,779.1L360.0,780.0L361.0,780.6L362.3,780.4L365.4,781.5zM375.4,780.8L372.3,779.8L371.4,778.9L370.2,778.8L369.4,779.3L369.7,780.2L370.8,780.8L372.0,780.5L375.2,781.5zM385.3,780.8L382.3,779.3L381.6,778.2L380.4,777.9L379.6,778.3L379.8,779.2L380.7,780.0L382.0,780.0L384.9,781.5zM395.0,780.8L392.0,779.6L391.1,778.6L389.9,778.5L389.2,778.9L389.4,779.8L390.4,780.5L391.7,780.3L394.8,781.5zM404.9,780.8L402.5,778.7L402.0,777.5L400.9,776.9L400.1,777.1L400.0,778.0L400.7,779.0L402.0,779.2L404.5,781.4zM414.8,780.9L413.0,778.2L412.9,776.9L412.0,776.1L411.1,776.0L410.8,776.9L411.2,778.0L412.3,778.6L414.2,781.3zM424.5,780.8L422.0,778.7L421.6,777.5L420.5,777.0L419.6,777.2L419.6,778.1L420.3,779.0L421.5,779.3L424.1,781.4zM434.3,780.8L431.9,778.7L431.4,777.5L430.3,776.9L429.5,777.1L429.4,778.0L430.1,779.0L431.4,779.2L433.9,781.4zM346.0,790.3L343.0,789.2L342.1,788.2L340.9,788.0L340.2,788.5L340.4,789.3L341.4,790.0L342.7,789.9L345.8,791.0zM355.9,790.3L352.9,788.9L352.2,787.9L351.0,787.6L350.2,788.0L350.4,788.9L351.3,789.6L352.6,789.6L355.5,791.0zM365.7,790.4L363.1,788.4L362.6,787.3L361.5,786.8L360.6,787.0L360.6,787.9L361.4,788.8L362.6,789.0L365.3,791.0zM375.5,790.4L372.9,788.4L372.4,787.2L371.3,786.7L370.5,786.9L370.5,787.8L371.2,788.8L372.5,789.0L375.1,791.0zM385.3,790.4L382.8,788.3L382.3,787.2L381.2,786.6L380.3,786.8L380.3,787.7L381.1,788.7L382.3,788.9L384.9,791.0zM395.1,790.4L392.3,788.7L391.6,787.6L390.5,787.2L389.6,787.5L389.7,788.4L390.6,789.3L391.9,789.3L394.7,791.0zM405.0,790.4L402.6,788.1L402.2,786.9L401.2,786.3L400.3,786.4L400.2,787.3L400.9,788.3L402.1,788.7L404.4,791.0zM414.8,790.5L413.0,787.7L412.9,786.5L412.0,785.6L411.2,785.5L410.9,786.4L411.3,787.5L412.4,788.1L414.2,790.9zM424.6,790.4L422.1,788.2L421.7,787.0L420.6,786.4L419.7,786.6L419.7,787.5L420.4,788.5L421.6,788.8L424.0,791.0zM434.3,790.4L431.6,788.5L431.0,787.4L429.9,787.0L429.0,787.3L429.1,788.1L429.9,789.0L431.2,789.2L433.9,791.0zM444.0,790.3L440.8,789.5L439.9,788.6L438.7,788.6L438.0,789.1L438.3,789.9L439.4,790.5L440.6,790.2L443.8,791.1zM346.1,799.9L343.2,798.3L342.6,797.2L341.4,796.8L340.6,797.2L340.7,798.1L341.6,798.9L342.9,798.9L345.7,800.6zM355.9,800.0L353.5,797.8L353.0,796.6L351.9,796.1L351.1,796.2L351.0,797.1L351.7,798.1L353.0,798.4L355.5,800.5zM365.8,800.0L363.7,797.5L363.4,796.3L362.4,795.5L361.5,795.5L361.4,796.4L361.9,797.5L363.1,798.0L365.2,800.5zM375.6,800.0L373.3,797.6L372.9,796.4L371.9,795.7L371.0,795.8L370.9,796.7L371.5,797.8L372.7,798.2L375.0,800.5zM385.4,800.0L383.0,797.7L382.7,796.5L381.6,795.8L380.8,795.9L380.6,796.8L381.3,797.8L382.5,798.2L384.8,800.5zM395.1,800.0L392.5,797.9L392.0,796.8L390.9,796.3L390.1,796.5L390.1,797.4L390.8,798.3L392.1,798.5L394.7,800.6zM405.0,800.0L402.8,797.5L402.6,796.3L401.6,795.6L400.7,795.6L400.5,796.5L401.1,797.6L402.2,798.0L404.4,800.5zM414.8,800.1L413.1,797.3L413.0,796.0L412.1,795.1L411.2,795.0L410.9,795.9L411.3,797.0L412.4,797.7L414.2,800.5zM424.6,800.0L422.3,797.6L421.9,796.4L420.9,795.7L420.0,795.8L419.9,796.7L420.5,797.8L421.7,798.2L424.0,800.5zM434.2,799.9L431.1,798.9L430.2,798.0L429.0,797.9L428.2,798.5L428.5,799.3L429.6,799.9L430.8,799.7L434.0,800.6zM444.0,799.9L440.9,798.9L440.0,798.0L438.8,797.9L438.0,798.5L438.3,799.3L439.4,799.9L440.6,799.7L443.8,800.6zM335.9,809.5L332.9,810.9L331.7,810.8L330.7,811.6L330.5,812.4L331.3,812.8L332.5,812.6L333.3,811.6L336.3,810.2zM346.0,809.5L342.8,808.6L341.9,807.7L340.7,807.6L340.0,808.1L340.3,809.0L341.4,809.6L342.6,809.3L345.8,810.2zM356.0,809.6L353.5,807.3L353.2,806.1L352.1,805.5L351.2,805.6L351.1,806.5L351.8,807.5L353.0,807.9L355.4,810.1zM365.8,809.6L363.7,807.0L363.5,805.8L362.5,805.0L361.6,805.1L361.4,805.9L362.0,807.0L363.1,807.5L365.2,810.1zM375.6,809.6L373.3,807.2L373.0,805.9L372.0,805.3L371.1,805.3L371.0,806.2L371.6,807.3L372.8,807.7L375.0,810.1zM385.4,809.6L383.1,807.2L382.7,806.0L381.7,805.3L380.8,805.4L380.7,806.3L381.3,807.3L382.5,807.7L384.8,810.1zM395.1,809.5L392.5,807.5L392.0,806.4L390.9,805.9L390.0,806.1L390.0,807.0L390.8,808.0L392.0,808.1L394.7,810.1zM405.0,809.6L402.8,807.1L402.5,805.9L401.5,805.2L400.6,805.3L400.4,806.1L401.0,807.2L402.2,807.6L404.4,810.1zM414.8,809.6L413.2,806.8L413.2,805.5L412.4,804.6L411.5,804.5L411.2,805.3L411.5,806.5L412.6,807.1L414.2,810.0zM424.6,809.7L423.2,806.7L423.3,805.4L422.5,804.5L421.6,804.3L421.2,805.1L421.5,806.3L422.5,807.0L424.0,810.0zM434.4,809.6L432.5,806.9L432.4,805.7L431.5,804.8L430.6,804.8L430.3,805.6L430.8,806.8L431.9,807.3L433.8,810.0zM443.8,809.5L440.6,810.4L439.4,810.2L438.3,810.8L438.0,811.6L438.8,812.1L440.0,812.1L440.9,811.2L444.0,810.2zM335.9,819.1L333.3,821.1L332.0,821.3L331.3,822.3L331.3,823.2L332.1,823.4L333.2,822.9L333.7,821.7L336.3,819.7zM345.8,819.0L342.6,819.8L341.4,819.4L340.3,820.0L339.9,820.8L340.6,821.3L341.8,821.3L342.8,820.5L346.0,819.8zM355.9,819.1L353.4,817.0L353.0,815.8L351.9,815.3L351.0,815.4L351.0,816.3L351.7,817.3L352.9,817.6L355.5,819.7zM365.8,819.1L363.4,816.8L363.1,815.6L362.0,814.9L361.2,815.1L361.0,815.9L361.7,817.0L362.9,817.3L365.2,819.7zM375.5,819.1L372.9,817.2L372.3,816.0L371.2,815.5L370.3,815.8L370.4,816.7L371.2,817.6L372.4,817.8L375.1,819.7zM385.2,819.0L382.1,817.9L381.3,817.0L380.1,816.8L379.3,817.3L379.6,818.1L380.6,818.8L381.9,818.6L385.0,819.8zM395.0,819.0L391.7,818.6L390.7,817.8L389.5,817.9L388.8,818.5L389.3,819.3L390.4,819.8L391.6,819.3L394.8,819.8zM404.9,819.1L401.9,817.6L401.2,816.6L400.0,816.3L399.2,816.7L399.4,817.6L400.3,818.4L401.6,818.3L404.5,819.7zM414.8,819.2L412.8,816.5L412.6,815.3L411.7,814.5L410.8,814.5L410.6,815.4L411.1,816.5L412.2,817.0L414.2,819.6zM424.7,819.4L424.4,816.1L425.0,814.9L424.6,813.8L423.9,813.3L423.2,813.9L423.0,815.1L423.7,816.1L423.9,819.4zM434.5,819.5L435.6,816.5L436.6,815.6L436.8,814.4L436.3,813.7L435.4,813.9L434.8,814.9L434.9,816.2L433.7,819.3zM444.2,819.6L445.9,816.7L446.9,816.1L447.3,814.9L447.0,814.1L446.1,814.2L445.3,815.1L445.2,816.4L443.6,819.2zM326.0,828.7L323.7,831.0L322.5,831.3L321.8,832.4L321.9,833.2L322.8,833.4L323.8,832.7L324.2,831.5L326.6,829.2zM335.9,828.7L333.2,830.7L332.0,830.8L331.2,831.8L331.2,832.7L332.1,832.9L333.2,832.4L333.7,831.3L336.3,829.3zM345.7,828.7L343.0,830.7L341.8,830.8L341.0,831.8L341.0,832.7L341.9,832.9L343.0,832.4L343.5,831.3L346.1,829.3zM355.5,828.6L352.7,830.3L351.4,830.4L350.5,831.2L350.4,832.1L351.3,832.5L352.4,832.1L353.1,831.0L355.9,829.3zM365.3,828.6L362.5,830.4L361.2,830.5L360.4,831.3L360.3,832.2L361.1,832.5L362.3,832.1L362.9,831.0L365.7,829.3zM375.1,828.6L372.3,830.3L371.0,830.3L370.1,831.2L370.0,832.0L370.8,832.4L372.0,832.0L372.6,830.9L375.5,829.3zM385.0,828.6L381.9,829.9L380.7,829.8L379.7,830.5L379.4,831.4L380.2,831.8L381.4,831.6L382.2,830.6L385.2,829.3zM394.8,828.6L391.6,829.3L390.4,828.9L389.3,829.4L388.9,830.2L389.6,830.8L390.8,830.8L391.8,830.0L395.0,829.3zM404.6,828.6L401.4,829.2L400.2,828.8L399.1,829.2L398.6,830.0L399.3,830.6L400.5,830.7L401.5,829.9L404.8,829.3zM414.5,828.6L411.2,828.3L410.2,827.6L409.0,827.8L408.4,828.4L408.9,829.2L410.0,829.6L411.2,829.1L414.5,829.3zM424.7,829.0L424.7,825.7L425.3,824.6L425.0,823.4L424.3,822.8L423.6,823.4L423.3,824.6L423.9,825.7L423.9,829.0zM434.3,829.3L436.8,827.1L438.1,826.8L438.8,825.8L438.7,824.9L437.9,824.8L436.8,825.3L436.3,826.5L433.9,828.7zM444.1,829.3L446.9,827.6L448.2,827.6L449.1,826.8L449.2,825.9L448.4,825.6L447.2,825.9L446.6,827.0L443.7,828.6zM326.0,838.3L324.2,841.1L323.1,841.8L322.7,842.9L323.0,843.8L323.9,843.7L324.8,842.8L324.9,841.5L326.6,838.7zM335.8,838.3L334.0,841.1L332.9,841.8L332.5,842.9L332.8,843.8L333.7,843.7L334.6,842.8L334.7,841.5L336.4,838.7zM345.6,838.4L344.2,841.4L343.2,842.1L342.9,843.3L343.3,844.1L344.2,843.9L344.9,842.9L344.8,841.7L346.2,838.7zM355.4,838.4L353.8,841.2L352.7,841.9L352.4,843.1L352.7,843.9L353.6,843.8L354.4,842.9L354.4,841.6L356.0,838.7zM365.2,838.3L363.4,841.1L362.3,841.7L361.9,842.9L362.2,843.7L363.0,843.6L363.9,842.8L364.0,841.5L365.8,838.7zM375.0,838.3L373.2,841.1L372.1,841.7L371.7,842.9L372.0,843.7L372.8,843.6L373.7,842.8L373.8,841.5L375.6,838.7zM384.8,838.3L382.7,840.9L381.6,841.3L381.0,842.4L381.2,843.3L382.1,843.3L383.1,842.6L383.3,841.3L385.4,838.8zM394.7,838.2L392.1,840.3L390.8,840.5L390.1,841.4L390.1,842.3L390.9,842.5L392.0,842.0L392.5,840.9L395.1,838.8zM404.5,838.3L402.0,840.4L400.7,840.7L400.0,841.7L400.1,842.6L400.9,842.7L402.0,842.2L402.5,841.0L404.9,838.8zM414.2,838.3L411.8,840.5L410.6,840.8L409.9,841.8L410.0,842.7L410.9,842.9L412.0,842.3L412.3,841.1L414.8,838.8zM423.9,838.4L422.9,841.5L421.9,842.4L421.8,843.6L422.3,844.4L423.1,844.1L423.8,843.0L423.6,841.8L424.7,838.7zM433.9,838.9L436.7,840.7L437.3,841.8L438.4,842.2L439.3,841.9L439.2,841.0L438.3,840.1L437.1,840.0L434.3,838.2zM443.5,838.7L444.7,841.8L444.5,843.0L445.2,844.0L446.0,844.3L446.5,843.6L446.3,842.3L445.4,841.5L444.3,838.4zM326.0,848.0L324.7,851.0L323.7,851.8L323.5,853.0L323.9,853.8L324.8,853.5L325.5,852.5L325.4,851.3L326.6,848.3zM335.7,848.0L334.8,851.2L333.9,852.0L333.8,853.3L334.3,854.0L335.1,853.7L335.8,852.6L335.5,851.4L336.5,848.2zM345.5,848.0L344.7,851.2L343.9,852.1L343.9,853.4L344.4,854.1L345.2,853.7L345.8,852.6L345.5,851.4L346.3,848.2zM355.3,848.0L354.3,851.1L353.4,852.0L353.3,853.2L353.8,854.0L354.6,853.7L355.3,852.6L355.0,851.4L356.1,848.2zM365.1,848.0L363.9,851.0L362.9,851.8L362.7,853.0L363.2,853.8L364.1,853.6L364.8,852.6L364.6,851.3L365.9,848.3zM374.9,848.0L373.8,851.1L372.8,851.9L372.6,853.1L373.1,853.9L374.0,853.6L374.6,852.6L374.5,851.3L375.7,848.2zM384.8,847.9L383.4,850.9L382.4,851.7L382.1,852.9L382.5,853.7L383.4,853.5L384.1,852.5L384.0,851.3L385.4,848.3zM394.6,847.9L393.1,850.9L392.1,851.6L391.8,852.8L392.2,853.6L393.1,853.5L393.9,852.5L393.8,851.2L395.2,848.3zM404.3,848.0L403.1,851.0L402.1,851.8L401.9,853.0L402.4,853.8L403.3,853.6L404.0,852.6L403.8,851.3L405.1,848.3zM414.2,848.0L412.9,851.0L411.9,851.8L411.7,853.0L412.1,853.8L413.0,853.5L413.7,852.5L413.6,851.3L414.8,848.3zM423.9,848.0L422.7,851.0L421.7,851.8L421.5,853.0L422.0,853.8L422.9,853.6L423.6,852.6L423.4,851.3L424.7,848.3zM433.7,848.1L433.2,851.3L432.4,852.3L432.5,853.5L433.1,854.2L433.9,853.8L434.4,852.6L434.0,851.4L434.5,848.2zM443.5,848.0L442.7,851.2L441.9,852.1L441.9,853.4L442.4,854.1L443.2,853.7L443.8,852.6L443.5,851.4L444.3,848.2zM335.7,857.6L334.9,860.8L334.0,861.7L334.0,862.9L334.5,863.6L335.3,863.3L335.9,862.2L335.6,861.0L336.5,857.8zM345.5,857.6L344.5,860.7L343.5,861.5L343.4,862.7L343.9,863.5L344.7,863.2L345.4,862.2L345.2,860.9L346.3,857.8zM355.3,857.5L354.2,860.6L353.2,861.4L353.0,862.7L353.5,863.4L354.4,863.2L355.0,862.1L354.9,860.9L356.1,857.8zM365.1,857.5L363.9,860.6L362.9,861.4L362.7,862.6L363.2,863.4L364.1,863.1L364.8,862.1L364.6,860.9L365.9,857.8zM374.9,857.5L373.8,860.6L372.8,861.4L372.6,862.7L373.1,863.4L374.0,863.2L374.6,862.1L374.5,860.9L375.7,857.8zM384.8,857.5L383.5,860.6L382.5,861.3L382.3,862.6L382.7,863.3L383.6,863.1L384.3,862.1L384.2,860.9L385.4,857.8zM394.6,857.5L393.1,860.4L392.0,861.2L391.7,862.3L392.1,863.2L393.0,863.0L393.8,862.0L393.7,860.8L395.2,857.9zM404.4,857.5L403.0,860.5L402.0,861.3L401.7,862.5L402.1,863.3L403.0,863.1L403.7,862.1L403.6,860.8L405.0,857.8zM414.2,857.5L412.7,860.4L411.6,861.2L411.3,862.3L411.7,863.2L412.6,863.0L413.4,862.0L413.3,860.8L414.8,857.9zM424.0,857.5L422.3,860.3L421.3,861.0L420.9,862.2L421.2,863.0L422.1,862.9L422.9,862.0L423.0,860.7L424.6,857.9zM433.8,857.5L431.9,860.2L430.8,860.7L430.3,861.9L430.6,862.7L431.5,862.7L432.4,861.8L432.5,860.6L434.4,857.9zM443.6,857.5L441.7,860.1L440.5,860.7L440.0,861.8L440.3,862.7L441.2,862.6L442.1,861.8L442.3,860.6L444.2,857.9zM345.5,867.1L344.4,870.2L343.5,871.0L343.3,872.3L343.8,873.0L344.6,872.8L345.3,871.7L345.1,870.5L346.3,867.4zM355.3,867.1L354.2,870.2L353.3,871.0L353.1,872.3L353.6,873.0L354.4,872.8L355.1,871.7L354.9,870.5L356.1,867.4zM365.1,867.1L364.0,870.2L363.1,871.0L362.9,872.3L363.4,873.0L364.2,872.8L364.9,871.7L364.7,870.5L365.9,867.4zM374.9,867.1L373.8,870.2L372.9,871.0L372.7,872.3L373.2,873.0L374.0,872.8L374.7,871.7L374.5,870.5L375.7,867.4zM384.7,867.1L383.6,870.2L382.7,871.0L382.5,872.3L383.0,873.0L383.8,872.8L384.5,871.7L384.3,870.5L385.5,867.4zM394.5,867.1L393.3,870.2L392.3,871.0L392.1,872.2L392.6,873.0L393.5,872.7L394.2,871.7L394.0,870.5L395.3,867.4zM404.3,867.1L403.1,870.2L402.1,871.0L401.9,872.2L402.4,873.0L403.3,872.7L404.0,871.7L403.8,870.5L405.1,867.4zM414.2,867.1L412.8,870.1L411.8,870.8L411.5,872.0L411.9,872.8L412.8,872.6L413.5,871.7L413.4,870.4L414.8,867.4zM424.0,867.1L422.4,870.0L421.4,870.7L421.0,871.9L421.4,872.7L422.3,872.5L423.1,871.6L423.1,870.3L424.6,867.4zM433.8,867.0L432.0,869.8L430.9,870.5L430.5,871.6L430.8,872.5L431.7,872.4L432.6,871.5L432.7,870.2L434.4,867.5zM443.6,867.0L441.7,869.7L440.6,870.3L440.1,871.4L440.4,872.3L441.3,872.2L442.2,871.4L442.3,870.2L444.2,867.5z" fill="#101010" stroke="#101010" stroke-width=".25" stroke-linejoin="round"/>
<clipPath id="cpJ"><polygon points="565.0,722.9 656.5,722.9 656.5,742.1 666.7,751.6 666.7,780.4 676.8,790.0 676.8,866.6 575.1,866.6 554.8,847.4 554.8,828.3 565.0,818.7 565.0,809.1 575.1,799.5 575.1,780.4 565.0,770.8 565.0,761.2 554.8,751.6 554.8,732.5"/></clipPath>
<g clip-path="url(#cpJ)"><g filter="url(#bmJ)">
<path fill="#cb55b0" d="M498.9,698.9h10.5v9.9h-10.5zM498.9,708.5h10.5v9.9h-10.5zM498.9,718.1h10.5v9.9h-10.5zM498.9,727.7h10.5v9.9h-10.5zM498.9,737.3h10.5v9.9h-10.5zM498.9,746.9h10.5v9.9h-10.5zM498.9,756.4h10.5v9.9h-10.5zM498.9,766.0h10.5v9.9h-10.5zM498.9,775.6h10.5v9.9h-10.5zM498.9,785.2h10.5v9.9h-10.5zM498.9,794.8h10.5v9.9h-10.5zM498.9,804.3h10.5v9.9h-10.5zM498.9,813.9h10.5v9.9h-10.5zM498.9,823.5h10.5v9.9h-10.5zM498.9,833.1h10.5v9.9h-10.5zM498.9,842.6h10.5v9.9h-10.5zM498.9,852.2h10.5v9.9h-10.5zM498.9,861.8h10.5v9.9h-10.5zM498.9,871.4h10.5v9.9h-10.5zM498.9,881.0h10.5v9.9h-10.5zM509.0,698.9h10.5v9.9h-10.5zM509.0,708.5h10.5v9.9h-10.5zM509.0,718.1h10.5v9.9h-10.5zM509.0,727.7h10.5v9.9h-10.5zM509.0,737.3h10.5v9.9h-10.5zM509.0,746.9h10.5v9.9h-10.5zM509.0,756.4h10.5v9.9h-10.5zM509.0,766.0h10.5v9.9h-10.5zM509.0,775.6h10.5v9.9h-10.5zM509.0,785.2h10.5v9.9h-10.5zM509.0,794.8h10.5v9.9h-10.5zM509.0,804.3h10.5v9.9h-10.5zM509.0,813.9h10.5v9.9h-10.5zM509.0,823.5h10.5v9.9h-10.5zM509.0,833.1h10.5v9.9h-10.5zM509.0,842.6h10.5v9.9h-10.5zM509.0,852.2h10.5v9.9h-10.5zM509.0,861.8h10.5v9.9h-10.5zM509.0,871.4h10.5v9.9h-10.5zM509.0,881.0h10.5v9.9h-10.5zM519.2,698.9h10.5v9.9h-10.5zM519.2,708.5h10.5v9.9h-10.5zM519.2,718.1h10.5v9.9h-10.5zM519.2,727.7h10.5v9.9h-10.5zM519.2,737.3h10.5v9.9h-10.5zM519.2,746.9h10.5v9.9h-10.5zM519.2,756.4h10.5v9.9h-10.5zM519.2,766.0h10.5v9.9h-10.5zM519.2,775.6h10.5v9.9h-10.5zM519.2,785.2h10.5v9.9h-10.5zM519.2,794.8h10.5v9.9h-10.5zM519.2,804.3h10.5v9.9h-10.5zM519.2,813.9h10.5v9.9h-10.5zM519.2,823.5h10.5v9.9h-10.5zM519.2,833.1h10.5v9.9h-10.5zM519.2,842.6h10.5v9.9h-10.5zM519.2,852.2h10.5v9.9h-10.5zM519.2,861.8h10.5v9.9h-10.5zM519.2,871.4h10.5v9.9h-10.5zM519.2,881.0h10.5v9.9h-10.5zM529.4,698.9h10.5v9.9h-10.5zM529.4,708.5h10.5v9.9h-10.5zM529.4,718.1h10.5v9.9h-10.5zM529.4,727.7h10.5v9.9h-10.5zM529.4,737.3h10.5v9.9h-10.5zM529.4,804.3h10.5v9.9h-10.5zM529.4,813.9h10.5v9.9h-10.5zM529.4,823.5h10.5v9.9h-10.5zM529.4,833.1h10.5v9.9h-10.5zM529.4,842.6h10.5v9.9h-10.5zM529.4,852.2h10.5v9.9h-10.5zM529.4,861.8h10.5v9.9h-10.5zM529.4,871.4h10.5v9.9h-10.5zM529.4,881.0h10.5v9.9h-10.5zM539.6,852.2h10.5v9.9h-10.5zM539.6,861.8h10.5v9.9h-10.5zM539.6,871.4h10.5v9.9h-10.5zM539.6,881.0h10.5v9.9h-10.5z"/>
<path fill="#cb54b0" d="M529.4,746.9h10.5v9.9h-10.5zM529.4,756.4h10.5v9.9h-10.5zM529.4,766.0h10.5v9.9h-10.5zM529.4,775.6h10.5v9.9h-10.5zM529.4,785.2h10.5v9.9h-10.5zM529.4,794.8h10.5v9.9h-10.5zM539.6,842.6h10.5v9.9h-10.5zM671.8,861.8h10.5v9.9h-10.5zM671.8,871.4h10.5v9.9h-10.5zM671.8,881.0h10.5v9.9h-10.5zM681.9,861.8h10.5v9.9h-10.5zM681.9,871.4h10.5v9.9h-10.5zM681.9,881.0h10.5v9.9h-10.5zM692.1,861.8h10.5v9.9h-10.5zM692.1,871.4h10.5v9.9h-10.5zM692.1,881.0h10.5v9.9h-10.5z"/>
<path fill="#cc54af" d="M539.6,698.9h10.5v9.9h-10.5zM539.6,708.5h10.5v9.9h-10.5zM539.6,718.1h10.5v9.9h-10.5zM539.6,727.7h10.5v9.9h-10.5zM539.6,737.3h10.5v9.9h-10.5zM539.6,746.9h10.5v9.9h-10.5zM539.6,756.4h10.5v9.9h-10.5zM539.6,766.0h10.5v9.9h-10.5zM539.6,775.6h10.5v9.9h-10.5zM539.6,785.2h10.5v9.9h-10.5zM539.6,794.8h10.5v9.9h-10.5zM539.6,804.3h10.5v9.9h-10.5zM539.6,813.9h10.5v9.9h-10.5zM539.6,823.5h10.5v9.9h-10.5zM549.7,833.1h10.5v9.9h-10.5zM549.7,842.6h10.5v9.9h-10.5zM549.7,852.2h10.5v9.9h-10.5zM559.9,861.8h10.5v9.9h-10.5zM559.9,871.4h10.5v9.9h-10.5zM559.9,881.0h10.5v9.9h-10.5zM661.6,861.8h10.5v9.9h-10.5zM661.6,871.4h10.5v9.9h-10.5zM661.6,881.0h10.5v9.9h-10.5zM671.8,698.9h10.5v9.9h-10.5zM671.8,708.5h10.5v9.9h-10.5zM671.8,718.1h10.5v9.9h-10.5zM671.8,852.2h10.5v9.9h-10.5zM681.9,698.9h10.5v9.9h-10.5zM681.9,708.5h10.5v9.9h-10.5zM681.9,718.1h10.5v9.9h-10.5zM681.9,852.2h10.5v9.9h-10.5zM692.1,698.9h10.5v9.9h-10.5zM692.1,708.5h10.5v9.9h-10.5zM692.1,718.1h10.5v9.9h-10.5zM692.1,852.2h10.5v9.9h-10.5z"/>
<path fill="#cb54af" d="M539.6,833.1h10.5v9.9h-10.5zM549.7,861.8h10.5v9.9h-10.5zM549.7,871.4h10.5v9.9h-10.5zM549.7,881.0h10.5v9.9h-10.5z"/>
<path fill="#cd54af" d="M549.7,698.9h10.5v9.9h-10.5zM549.7,708.5h10.5v9.9h-10.5zM549.7,718.1h10.5v9.9h-10.5zM549.7,823.5h10.5v9.9h-10.5zM559.9,852.2h10.5v9.9h-10.5zM651.4,861.8h10.5v9.9h-10.5zM651.4,871.4h10.5v9.9h-10.5zM651.4,881.0h10.5v9.9h-10.5zM661.6,852.2h10.5v9.9h-10.5zM671.8,727.7h10.5v9.9h-10.5zM671.8,737.3h10.5v9.9h-10.5zM671.8,746.9h10.5v9.9h-10.5zM681.9,727.7h10.5v9.9h-10.5zM681.9,737.3h10.5v9.9h-10.5zM681.9,746.9h10.5v9.9h-10.5zM692.1,727.7h10.5v9.9h-10.5zM692.1,737.3h10.5v9.9h-10.5zM692.1,746.9h10.5v9.9h-10.5z"/>
<path fill="#cd54ae" d="M549.7,727.7h10.5v9.9h-10.5zM549.7,737.3h10.5v9.9h-10.5zM549.7,746.9h10.5v9.9h-10.5zM549.7,794.8h10.5v9.9h-10.5zM549.7,804.3h10.5v9.9h-10.5zM549.7,813.9h10.5v9.9h-10.5zM559.9,842.6h10.5v9.9h-10.5zM570.1,861.8h10.5v9.9h-10.5zM570.1,871.4h10.5v9.9h-10.5zM570.1,881.0h10.5v9.9h-10.5z"/>
<path fill="#ce54ae" d="M549.7,756.4h10.5v9.9h-10.5zM549.7,766.0h10.5v9.9h-10.5zM549.7,775.6h10.5v9.9h-10.5zM549.7,785.2h10.5v9.9h-10.5zM559.9,833.1h10.5v9.9h-10.5zM570.1,852.2h10.5v9.9h-10.5zM641.3,861.8h10.5v9.9h-10.5zM641.3,871.4h10.5v9.9h-10.5zM641.3,881.0h10.5v9.9h-10.5zM651.4,852.2h10.5v9.9h-10.5zM661.6,698.9h10.5v9.9h-10.5zM661.6,708.5h10.5v9.9h-10.5zM661.6,718.1h10.5v9.9h-10.5zM671.8,756.4h10.5v9.9h-10.5zM671.8,842.6h10.5v9.9h-10.5zM681.9,756.4h10.5v9.9h-10.5zM681.9,842.6h10.5v9.9h-10.5zM692.1,756.4h10.5v9.9h-10.5zM692.1,842.6h10.5v9.9h-10.5z"/>
<path fill="#cf53ad" d="M559.9,698.9h10.5v9.9h-10.5zM559.9,708.5h10.5v9.9h-10.5zM559.9,718.1h10.5v9.9h-10.5zM570.1,842.6h10.5v9.9h-10.5zM580.2,861.8h10.5v9.9h-10.5zM580.2,871.4h10.5v9.9h-10.5zM580.2,881.0h10.5v9.9h-10.5zM631.1,861.8h10.5v9.9h-10.5zM631.1,871.4h10.5v9.9h-10.5zM631.1,881.0h10.5v9.9h-10.5zM661.6,737.3h10.5v9.9h-10.5zM661.6,746.9h10.5v9.9h-10.5z"/>
<path fill="#d053ac" d="M559.9,727.7h10.5v9.9h-10.5zM559.9,746.9h10.5v9.9h-10.5zM559.9,794.8h10.5v9.9h-10.5zM559.9,823.5h10.5v9.9h-10.5z"/>
<path fill="#d053ad" d="M559.9,737.3h10.5v9.9h-10.5zM559.9,804.3h10.5v9.9h-10.5zM559.9,813.9h10.5v9.9h-10.5zM580.2,852.2h10.5v9.9h-10.5zM590.4,861.8h10.5v9.9h-10.5zM590.4,871.4h10.5v9.9h-10.5zM590.4,881.0h10.5v9.9h-10.5zM641.3,852.2h10.5v9.9h-10.5zM661.6,727.7h10.5v9.9h-10.5zM661.6,842.6h10.5v9.9h-10.5zM671.8,775.6h10.5v9.9h-10.5zM681.9,775.6h10.5v9.9h-10.5zM692.1,775.6h10.5v9.9h-10.5z"/>
<path fill="#d153ac" d="M559.9,756.4h10.5v9.9h-10.5zM559.9,766.0h10.5v9.9h-10.5zM559.9,775.6h10.5v9.9h-10.5zM559.9,785.2h10.5v9.9h-10.5zM600.6,861.8h10.5v9.9h-10.5zM600.6,871.4h10.5v9.9h-10.5zM600.6,881.0h10.5v9.9h-10.5zM620.9,861.8h10.5v9.9h-10.5zM620.9,871.4h10.5v9.9h-10.5zM620.9,881.0h10.5v9.9h-10.5zM661.6,756.4h10.5v9.9h-10.5zM671.8,785.2h10.5v9.9h-10.5zM681.9,785.2h10.5v9.9h-10.5zM692.1,785.2h10.5v9.9h-10.5z"/>
<path fill="#d452aa" d="M570.1,698.9h10.5v9.9h-10.5zM570.1,708.5h10.5v9.9h-10.5zM570.1,718.1h10.5v9.9h-10.5zM610.7,852.2h10.5v9.9h-10.5zM651.4,698.9h10.5v9.9h-10.5zM651.4,708.5h10.5v9.9h-10.5zM651.4,718.1h10.5v9.9h-10.5z"/>
<path fill="#d751a8" d="M570.1,727.7h10.5v9.9h-10.5zM661.6,785.2h10.5v9.9h-10.5z"/>
<path fill="#d652a9" d="M570.1,737.3h10.5v9.9h-10.5zM570.1,756.4h10.5v9.9h-10.5zM570.1,785.2h10.5v9.9h-10.5z"/>
<path fill="#d552aa" d="M570.1,746.9h10.5v9.9h-10.5zM570.1,794.8h10.5v9.9h-10.5zM570.1,804.3h10.5v9.9h-10.5zM590.4,842.6h10.5v9.9h-10.5zM641.3,842.6h10.5v9.9h-10.5zM651.4,737.3h10.5v9.9h-10.5zM651.4,756.4h10.5v9.9h-10.5zM661.6,775.6h10.5v9.9h-10.5z"/>
<path fill="#d651a9" d="M570.1,766.0h10.5v9.9h-10.5zM570.1,775.6h10.5v9.9h-10.5z"/>
<path fill="#d851a8" d="M570.1,813.9h10.5v9.9h-10.5zM600.6,842.6h10.5v9.9h-10.5zM620.9,842.6h10.5v9.9h-10.5z"/>
<path fill="#da51a7" d="M570.1,823.5h10.5v9.9h-10.5zM661.6,833.1h10.5v9.9h-10.5z"/>
<path fill="#d352ab" d="M570.1,833.1h10.5v9.9h-10.5zM620.9,852.2h10.5v9.9h-10.5zM651.4,746.9h10.5v9.9h-10.5zM651.4,842.6h10.5v9.9h-10.5zM661.6,766.0h10.5v9.9h-10.5zM671.8,794.8h10.5v9.9h-10.5zM671.8,833.1h10.5v9.9h-10.5zM681.9,794.8h10.5v9.9h-10.5zM681.9,833.1h10.5v9.9h-10.5zM692.1,794.8h10.5v9.9h-10.5zM692.1,833.1h10.5v9.9h-10.5z"/>
<path fill="#dd51a6" d="M580.2,698.9h10.5v9.9h-10.5zM580.2,708.5h10.5v9.9h-10.5zM580.2,718.1h10.5v9.9h-10.5zM580.2,756.4h10.5v9.9h-10.5zM580.2,785.2h10.5v9.9h-10.5z"/>
<path fill="#e552a2" d="M580.2,727.7h10.5v9.9h-10.5zM661.6,804.3h10.5v9.9h-10.5z"/>
<path fill="#e051a5" d="M580.2,737.3h10.5v9.9h-10.5zM641.3,737.3h10.5v9.9h-10.5zM641.3,766.0h10.5v9.9h-10.5z"/>
<path fill="#dc51a6" d="M580.2,746.9h10.5v9.9h-10.5zM580.2,794.8h10.5v9.9h-10.5zM641.3,756.4h10.5v9.9h-10.5zM651.4,775.6h10.5v9.9h-10.5zM671.8,823.5h10.5v9.9h-10.5zM681.9,823.5h10.5v9.9h-10.5zM692.1,823.5h10.5v9.9h-10.5z"/>
<path fill="#de51a5" d="M580.2,766.0h10.5v9.9h-10.5zM580.2,775.6h10.5v9.9h-10.5z"/>
<path fill="#db51a6" d="M580.2,804.3h10.5v9.9h-10.5z"/>
<path fill="#e852a1" d="M580.2,813.9h10.5v9.9h-10.5zM590.4,833.1h10.5v9.9h-10.5zM620.9,756.4h10.5v9.9h-10.5z"/>
<path fill="#ee6098" d="M580.2,823.5h10.5v9.9h-10.5z"/>
<path fill="#db51a7" d="M580.2,833.1h10.5v9.9h-10.5zM661.6,794.8h10.5v9.9h-10.5z"/>
<path fill="#d253ab" d="M580.2,842.6h10.5v9.9h-10.5zM590.4,852.2h10.5v9.9h-10.5z"/>
<path fill="#eb549f" d="M590.4,698.9h10.5v9.9h-10.5zM590.4,708.5h10.5v9.9h-10.5zM590.4,718.1h10.5v9.9h-10.5zM600.6,785.2h10.5v9.9h-10.5zM600.6,804.3h10.5v9.9h-10.5zM661.6,823.5h10.5v9.9h-10.5z"/>
<path fill="#f3758c" d="M590.4,727.7h10.5v9.9h-10.5z"/>
<path fill="#eb579d" d="M590.4,737.3h10.5v9.9h-10.5zM590.4,775.6h10.5v9.9h-10.5zM610.7,794.8h10.5v9.9h-10.5zM631.1,833.1h10.5v9.9h-10.5z"/>
<path fill="#e452a3" d="M590.4,746.9h10.5v9.9h-10.5zM590.4,804.3h10.5v9.9h-10.5zM641.3,775.6h10.5v9.9h-10.5zM651.4,794.8h10.5v9.9h-10.5z"/>
<path fill="#eb559e" d="M590.4,756.4h10.5v9.9h-10.5zM641.3,794.8h10.5v9.9h-10.5z"/>
<path fill="#f3748d" d="M590.4,766.0h10.5v9.9h-10.5z"/>
<path fill="#e452a2" d="M590.4,785.2h10.5v9.9h-10.5z"/>
<path fill="#e352a3" d="M590.4,794.8h10.5v9.9h-10.5z"/>
<path fill="#f58181" d="M590.4,813.9h10.5v9.9h-10.5z"/>
<path fill="#f8b54a" d="M590.4,823.5h10.5v9.9h-10.5z"/>
<path fill="#f2728e" d="M600.6,698.9h10.5v9.9h-10.5zM600.6,708.5h10.5v9.9h-10.5zM600.6,718.1h10.5v9.9h-10.5zM651.4,823.5h10.5v9.9h-10.5z"/>
<path fill="#f8af51" d="M600.6,727.7h10.5v9.9h-10.5z"/>
<path fill="#f2718e" d="M600.6,737.3h10.5v9.9h-10.5z"/>
<path fill="#ea52a0" d="M600.6,746.9h10.5v9.9h-10.5z"/>
<path fill="#f58082" d="M600.6,756.4h10.5v9.9h-10.5z"/>
<path fill="#f6da2a" d="M600.6,766.0h10.5v9.9h-10.5z"/>
<path fill="#f5867d" d="M600.6,775.6h10.5v9.9h-10.5z"/>
<path fill="#e952a1" d="M600.6,794.8h10.5v9.9h-10.5z"/>
<path fill="#f8b945" d="M600.6,813.9h10.5v9.9h-10.5z"/>
<path fill="#eae53c" d="M600.6,823.5h10.5v9.9h-10.5z"/>
<path fill="#ef6694" d="M600.6,833.1h10.5v9.9h-10.5zM620.9,804.3h10.5v9.9h-10.5z"/>
<path fill="#d452ab" d="M600.6,852.2h10.5v9.9h-10.5z"/>
<path fill="#f5847f" d="M610.7,698.9h10.5v9.9h-10.5zM610.7,708.5h10.5v9.9h-10.5zM610.7,718.1h10.5v9.9h-10.5z"/>
<path fill="#f9ca30" d="M610.7,727.7h10.5v9.9h-10.5z"/>
<path fill="#f58083" d="M610.7,737.3h10.5v9.9h-10.5z"/>
<path fill="#ea539f" d="M610.7,746.9h10.5v9.9h-10.5z"/>
<path fill="#f06993" d="M610.7,756.4h10.5v9.9h-10.5z"/>
<path fill="#f7a063" d="M610.7,766.0h10.5v9.9h-10.5z"/>
<path fill="#f2708e" d="M610.7,775.6h10.5v9.9h-10.5z"/>
<path fill="#ec5b9b" d="M610.7,785.2h10.5v9.9h-10.5zM620.9,785.2h10.5v9.9h-10.5zM631.1,698.9h10.5v9.9h-10.5zM631.1,708.5h10.5v9.9h-10.5zM631.1,718.1h10.5v9.9h-10.5z"/>
<path fill="#ed5f98" d="M610.7,804.3h10.5v9.9h-10.5z"/>
<path fill="#f9cd2d" d="M610.7,813.9h10.5v9.9h-10.5z"/>
<path fill="#e8e640" d="M610.7,823.5h10.5v9.9h-10.5z"/>
<path fill="#f26f8f" d="M610.7,833.1h10.5v9.9h-10.5z"/>
<path fill="#d951a8" d="M610.7,842.6h10.5v9.9h-10.5zM651.4,727.7h10.5v9.9h-10.5zM651.4,766.0h10.5v9.9h-10.5zM671.8,804.3h10.5v9.9h-10.5zM681.9,804.3h10.5v9.9h-10.5zM692.1,804.3h10.5v9.9h-10.5z"/>
<path fill="#d253ac" d="M610.7,861.8h10.5v9.9h-10.5zM610.7,871.4h10.5v9.9h-10.5zM610.7,881.0h10.5v9.9h-10.5zM631.1,852.2h10.5v9.9h-10.5z"/>
<path fill="#f4788a" d="M620.9,698.9h10.5v9.9h-10.5zM620.9,708.5h10.5v9.9h-10.5zM620.9,718.1h10.5v9.9h-10.5z"/>
<path fill="#f8bd40" d="M620.9,727.7h10.5v9.9h-10.5z"/>
<path fill="#f3748c" d="M620.9,737.3h10.5v9.9h-10.5z"/>
<path fill="#e752a1" d="M620.9,746.9h10.5v9.9h-10.5zM641.3,785.2h10.5v9.9h-10.5zM641.3,833.1h10.5v9.9h-10.5z"/>
<path fill="#ec589c" d="M620.9,766.0h10.5v9.9h-10.5z"/>
<path fill="#ec5a9b" d="M620.9,775.6h10.5v9.9h-10.5zM631.1,737.3h10.5v9.9h-10.5z"/>
<path fill="#ed5c9a" d="M620.9,794.8h10.5v9.9h-10.5zM631.1,794.8h10.5v9.9h-10.5z"/>
<path fill="#f8bf3d" d="M620.9,813.9h10.5v9.9h-10.5z"/>
<path fill="#f1e231" d="M620.9,823.5h10.5v9.9h-10.5z"/>
<path fill="#ef6595" d="M620.9,833.1h10.5v9.9h-10.5z"/>
<path fill="#f68b78" d="M631.1,727.7h10.5v9.9h-10.5z"/>
<path fill="#e151a4" d="M631.1,746.9h10.5v9.9h-10.5z"/>
<path fill="#e252a3" d="M631.1,756.4h10.5v9.9h-10.5z"/>
<path fill="#e652a2" d="M631.1,766.0h10.5v9.9h-10.5z"/>
<path fill="#e952a0" d="M631.1,775.6h10.5v9.9h-10.5z"/>
<path fill="#eb569d" d="M631.1,785.2h10.5v9.9h-10.5z"/>
<path fill="#f16b92" d="M631.1,804.3h10.5v9.9h-10.5zM641.3,804.3h10.5v9.9h-10.5z"/>
<path fill="#f8a959" d="M631.1,813.9h10.5v9.9h-10.5z"/>
<path fill="#f8bb42" d="M631.1,823.5h10.5v9.9h-10.5z"/>
<path fill="#d751a9" d="M631.1,842.6h10.5v9.9h-10.5z"/>
<path fill="#df51a5" d="M641.3,698.9h10.5v9.9h-10.5zM641.3,708.5h10.5v9.9h-10.5zM641.3,718.1h10.5v9.9h-10.5zM651.4,785.2h10.5v9.9h-10.5zM671.8,813.9h10.5v9.9h-10.5zM681.9,813.9h10.5v9.9h-10.5zM692.1,813.9h10.5v9.9h-10.5z"/>
<path fill="#ea53a0" d="M641.3,727.7h10.5v9.9h-10.5z"/>
<path fill="#d951a7" d="M641.3,746.9h10.5v9.9h-10.5z"/>
<path fill="#f7976d" d="M641.3,813.9h10.5v9.9h-10.5z"/>
<path fill="#f69271" d="M641.3,823.5h10.5v9.9h-10.5z"/>
<path fill="#ed5f99" d="M651.4,804.3h10.5v9.9h-10.5z"/>
<path fill="#f57e85" d="M651.4,813.9h10.5v9.9h-10.5z"/>
<path fill="#e152a4" d="M651.4,833.1h10.5v9.9h-10.5z"/>
<path fill="#ed5d99" d="M661.6,813.9h10.5v9.9h-10.5z"/>
<path fill="#cf54ae" d="M671.8,766.0h10.5v9.9h-10.5zM681.9,766.0h10.5v9.9h-10.5zM692.1,766.0h10.5v9.9h-10.5z"/>
</g></g>
<path d="M523.7,722.3h1.2v1.2h-1.2zM523.7,731.9h1.2v1.2h-1.2zM523.7,741.5h1.2v1.2h-1.2zM523.7,751.0h1.2v1.2h-1.2zM523.7,760.6h1.2v1.2h-1.2zM523.7,770.2h1.2v1.2h-1.2zM523.7,779.8h1.2v1.2h-1.2zM523.7,789.4h1.2v1.2h-1.2zM523.7,798.9h1.2v1.2h-1.2zM523.7,808.5h1.2v1.2h-1.2zM523.7,818.1h1.2v1.2h-1.2zM523.7,827.7h1.2v1.2h-1.2zM523.7,837.3h1.2v1.2h-1.2zM523.7,846.8h1.2v1.2h-1.2zM523.7,856.4h1.2v1.2h-1.2zM523.7,866.0h1.2v1.2h-1.2zM533.9,722.3h1.2v1.2h-1.2zM533.9,731.9h1.2v1.2h-1.2zM533.9,741.5h1.2v1.2h-1.2zM533.9,751.0h1.2v1.2h-1.2zM533.9,760.6h1.2v1.2h-1.2zM533.9,770.2h1.2v1.2h-1.2zM533.9,779.8h1.2v1.2h-1.2zM533.9,789.4h1.2v1.2h-1.2zM533.9,798.9h1.2v1.2h-1.2zM533.9,808.5h1.2v1.2h-1.2zM533.9,818.1h1.2v1.2h-1.2zM533.9,827.7h1.2v1.2h-1.2zM533.9,837.3h1.2v1.2h-1.2zM533.9,846.8h1.2v1.2h-1.2zM533.9,856.4h1.2v1.2h-1.2zM533.9,866.0h1.2v1.2h-1.2zM544.0,722.3h1.2v1.2h-1.2zM544.0,731.9h1.2v1.2h-1.2zM544.0,741.5h1.2v1.2h-1.2zM544.0,751.0h1.2v1.2h-1.2zM544.0,760.6h1.2v1.2h-1.2zM544.0,770.2h1.2v1.2h-1.2zM544.0,779.8h1.2v1.2h-1.2zM544.0,789.4h1.2v1.2h-1.2zM544.0,798.9h1.2v1.2h-1.2zM544.0,808.5h1.2v1.2h-1.2zM544.0,818.1h1.2v1.2h-1.2zM544.0,827.7h1.2v1.2h-1.2zM544.0,837.3h1.2v1.2h-1.2zM544.0,846.8h1.2v1.2h-1.2zM544.0,856.4h1.2v1.2h-1.2zM544.0,866.0h1.2v1.2h-1.2zM554.2,722.3h1.2v1.2h-1.2zM554.2,731.9h1.2v1.2h-1.2zM554.2,741.5h1.2v1.2h-1.2zM554.2,751.0h1.2v1.2h-1.2zM554.2,760.6h1.2v1.2h-1.2zM554.2,770.2h1.2v1.2h-1.2zM554.2,779.8h1.2v1.2h-1.2zM554.2,789.4h1.2v1.2h-1.2zM554.2,798.9h1.2v1.2h-1.2zM554.2,808.5h1.2v1.2h-1.2zM554.2,818.1h1.2v1.2h-1.2zM554.2,827.7h1.2v1.2h-1.2zM554.2,837.3h1.2v1.2h-1.2zM554.2,846.8h1.2v1.2h-1.2zM554.2,856.4h1.2v1.2h-1.2zM554.2,866.0h1.2v1.2h-1.2zM564.4,722.3h1.2v1.2h-1.2zM564.4,760.6h1.2v1.2h-1.2zM564.4,770.2h1.2v1.2h-1.2zM564.4,779.8h1.2v1.2h-1.2zM564.4,789.4h1.2v1.2h-1.2zM564.4,798.9h1.2v1.2h-1.2zM564.4,808.5h1.2v1.2h-1.2zM564.4,818.1h1.2v1.2h-1.2zM564.4,856.4h1.2v1.2h-1.2zM564.4,866.0h1.2v1.2h-1.2zM574.5,779.8h1.2v1.2h-1.2zM574.5,789.4h1.2v1.2h-1.2zM574.5,798.9h1.2v1.2h-1.2zM574.5,808.5h1.2v1.2h-1.2zM574.5,856.4h1.2v1.2h-1.2zM574.5,866.0h1.2v1.2h-1.2zM594.9,856.4h1.2v1.2h-1.2zM605.1,760.6h1.2v1.2h-1.2zM625.4,808.5h1.2v1.2h-1.2zM655.9,722.3h1.2v1.2h-1.2zM655.9,731.9h1.2v1.2h-1.2zM655.9,741.5h1.2v1.2h-1.2zM666.1,722.3h1.2v1.2h-1.2zM666.1,731.9h1.2v1.2h-1.2zM666.1,741.5h1.2v1.2h-1.2zM666.1,751.0h1.2v1.2h-1.2zM666.1,760.6h1.2v1.2h-1.2zM666.1,770.2h1.2v1.2h-1.2zM666.1,779.8h1.2v1.2h-1.2zM666.1,789.4h1.2v1.2h-1.2zM676.2,722.3h1.2v1.2h-1.2zM676.2,731.9h1.2v1.2h-1.2zM676.2,741.5h1.2v1.2h-1.2zM676.2,751.0h1.2v1.2h-1.2zM676.2,760.6h1.2v1.2h-1.2zM676.2,770.2h1.2v1.2h-1.2zM676.2,779.8h1.2v1.2h-1.2zM676.2,789.4h1.2v1.2h-1.2z" fill="#ee716d"/>
<path d="M564.23,731.98h1.5v1h-1.5zM564.23,741.56h1.5v1h-1.5zM564.23,751.14h1.5v1h-1.5zM564.23,827.78h1.5v1h-1.5zM564.23,837.36h1.5v1h-1.5zM564.23,846.94h1.5v1h-1.5zM574.40,722.40h1.5v1h-1.5zM574.40,731.98h1.5v1h-1.5zM574.40,741.56h1.5v1h-1.5zM574.40,751.14h1.5v1h-1.5zM574.40,760.72h1.5v1h-1.5zM574.40,770.30h1.5v1h-1.5zM574.40,818.20h1.5v1h-1.5zM574.40,827.78h1.5v1h-1.5zM574.40,837.36h1.5v1h-1.5zM574.40,846.94h1.5v1h-1.5zM584.57,722.40h1.5v1h-1.5zM584.57,731.98h1.5v1h-1.5zM584.57,741.56h1.5v1h-1.5zM584.57,751.14h1.5v1h-1.5zM584.57,760.72h1.5v1h-1.5zM584.57,770.30h1.5v1h-1.5zM584.57,779.88h1.5v1h-1.5zM584.57,789.46h1.5v1h-1.5zM584.57,799.04h1.5v1h-1.5zM584.57,808.62h1.5v1h-1.5zM584.57,818.20h1.5v1h-1.5zM584.57,827.78h1.5v1h-1.5zM584.57,837.36h1.5v1h-1.5zM584.57,846.94h1.5v1h-1.5zM584.57,856.52h1.5v1h-1.5zM584.57,866.10h1.5v1h-1.5zM594.74,722.40h1.5v1h-1.5zM594.74,731.98h1.5v1h-1.5zM594.74,741.56h1.5v1h-1.5zM594.74,751.14h1.5v1h-1.5zM594.74,760.72h1.5v1h-1.5zM594.74,770.30h1.5v1h-1.5zM594.74,779.88h1.5v1h-1.5zM594.74,789.46h1.5v1h-1.5zM594.74,799.04h1.5v1h-1.5zM594.74,808.62h1.5v1h-1.5zM594.74,818.20h1.5v1h-1.5zM594.74,827.78h1.5v1h-1.5zM594.74,837.36h1.5v1h-1.5zM594.74,846.94h1.5v1h-1.5zM594.74,866.10h1.5v1h-1.5zM604.91,722.40h1.5v1h-1.5zM604.91,731.98h1.5v1h-1.5zM604.91,741.56h1.5v1h-1.5zM604.91,751.14h1.5v1h-1.5zM604.91,770.30h1.5v1h-1.5zM604.91,779.88h1.5v1h-1.5zM604.91,789.46h1.5v1h-1.5zM604.91,799.04h1.5v1h-1.5zM604.91,808.62h1.5v1h-1.5zM604.91,818.20h1.5v1h-1.5zM604.91,827.78h1.5v1h-1.5zM604.91,837.36h1.5v1h-1.5zM604.91,846.94h1.5v1h-1.5zM604.91,856.52h1.5v1h-1.5zM604.91,866.10h1.5v1h-1.5zM615.08,722.40h1.5v1h-1.5zM615.08,731.98h1.5v1h-1.5zM615.08,741.56h1.5v1h-1.5zM615.08,751.14h1.5v1h-1.5zM615.08,760.72h1.5v1h-1.5zM615.08,770.30h1.5v1h-1.5zM615.08,779.88h1.5v1h-1.5zM615.08,789.46h1.5v1h-1.5zM615.08,799.04h1.5v1h-1.5zM615.08,808.62h1.5v1h-1.5zM615.08,818.20h1.5v1h-1.5zM615.08,827.78h1.5v1h-1.5zM615.08,837.36h1.5v1h-1.5zM615.08,846.94h1.5v1h-1.5zM615.08,856.52h1.5v1h-1.5zM615.08,866.10h1.5v1h-1.5zM625.25,722.40h1.5v1h-1.5zM625.25,731.98h1.5v1h-1.5zM625.25,741.56h1.5v1h-1.5zM625.25,751.14h1.5v1h-1.5zM625.25,760.72h1.5v1h-1.5zM625.25,770.30h1.5v1h-1.5zM625.25,779.88h1.5v1h-1.5zM625.25,789.46h1.5v1h-1.5zM625.25,799.04h1.5v1h-1.5zM625.25,818.20h1.5v1h-1.5zM625.25,827.78h1.5v1h-1.5zM625.25,837.36h1.5v1h-1.5zM625.25,846.94h1.5v1h-1.5zM625.25,856.52h1.5v1h-1.5zM625.25,866.10h1.5v1h-1.5zM635.42,722.40h1.5v1h-1.5zM635.42,731.98h1.5v1h-1.5zM635.42,741.56h1.5v1h-1.5zM635.42,751.14h1.5v1h-1.5zM635.42,760.72h1.5v1h-1.5zM635.42,770.30h1.5v1h-1.5zM635.42,779.88h1.5v1h-1.5zM635.42,789.46h1.5v1h-1.5zM635.42,799.04h1.5v1h-1.5zM635.42,808.62h1.5v1h-1.5zM635.42,818.20h1.5v1h-1.5zM635.42,827.78h1.5v1h-1.5zM635.42,837.36h1.5v1h-1.5zM635.42,846.94h1.5v1h-1.5zM635.42,856.52h1.5v1h-1.5zM635.42,866.10h1.5v1h-1.5zM645.59,722.40h1.5v1h-1.5zM645.59,731.98h1.5v1h-1.5zM645.59,741.56h1.5v1h-1.5zM645.59,751.14h1.5v1h-1.5zM645.59,760.72h1.5v1h-1.5zM645.59,770.30h1.5v1h-1.5zM645.59,779.88h1.5v1h-1.5zM645.59,789.46h1.5v1h-1.5zM645.59,799.04h1.5v1h-1.5zM645.59,808.62h1.5v1h-1.5zM645.59,818.20h1.5v1h-1.5zM645.59,827.78h1.5v1h-1.5zM645.59,837.36h1.5v1h-1.5zM645.59,846.94h1.5v1h-1.5zM645.59,856.52h1.5v1h-1.5zM645.59,866.10h1.5v1h-1.5zM655.76,751.14h1.5v1h-1.5zM655.76,760.72h1.5v1h-1.5zM655.76,770.30h1.5v1h-1.5zM655.76,779.88h1.5v1h-1.5zM655.76,789.46h1.5v1h-1.5zM655.76,799.04h1.5v1h-1.5zM655.76,808.62h1.5v1h-1.5zM655.76,818.20h1.5v1h-1.5zM655.76,827.78h1.5v1h-1.5zM655.76,837.36h1.5v1h-1.5zM655.76,846.94h1.5v1h-1.5zM655.76,856.52h1.5v1h-1.5zM655.76,866.10h1.5v1h-1.5zM665.93,799.04h1.5v1h-1.5zM665.93,808.62h1.5v1h-1.5zM665.93,818.20h1.5v1h-1.5zM665.93,827.78h1.5v1h-1.5zM665.93,837.36h1.5v1h-1.5zM665.93,846.94h1.5v1h-1.5zM665.93,856.52h1.5v1h-1.5zM665.93,866.10h1.5v1h-1.5zM676.10,799.04h1.5v1h-1.5zM676.10,808.62h1.5v1h-1.5zM676.10,818.20h1.5v1h-1.5zM676.10,827.78h1.5v1h-1.5zM676.10,837.36h1.5v1h-1.5zM676.10,846.94h1.5v1h-1.5zM676.10,856.52h1.5v1h-1.5zM676.10,866.10h1.5v1h-1.5z" fill="#141414"/>
<rect x="373" y="23.8" width="221.1" height="201.1" fill="none" stroke="#5b4a42" stroke-width="1.7"/>
<rect x="373" y="472.3" width="221" height="200.5" fill="none" stroke="#5b4a42" stroke-width="1.7"/>
<line x1="501.5" y1="682" x2="587.8" y2="682" stroke="#111" stroke-width="1.6"/>
<polyline points="374.6,40.4 375.1,40.6 375.6,40.7 376.1,40.8 376.6,40.9 377.1,41.0 377.6,41.0 378.1,41.0 378.6,40.9 379.1,40.8 379.6,40.6 380.1,40.4 380.6,40.1 381.1,39.9 381.6,39.6 382.1,39.3 382.6,38.9 383.1,38.6 383.6,38.3 384.1,38.0 384.6,37.7 385.1,37.4 385.6,37.2 386.1,37.0 386.6,36.8 387.1,36.6 387.6,36.4 388.1,36.2 388.6,36.0 389.1,35.8 389.6,35.6 390.1,35.3 390.6,35.1 391.1,34.7 391.6,34.1 392.1,33.4 392.6,32.8 393.1,32.2 393.6,31.9 394.1,31.9 394.6,35.2 395.1,39.4 395.6,43.1 396.1,46.0 396.6,46.2 397.1,45.2 397.6,43.9 398.1,43.0 398.6,42.7 399.1,42.6 399.6,42.5 400.1,42.4 400.6,42.3 401.1,42.3 401.6,42.2 402.1,42.2 402.6,42.1 403.1,42.0 403.6,42.0 404.1,41.9 404.6,41.8 405.1,41.7 405.6,41.4 406.1,41.1 406.6,40.7 407.1,40.3 407.6,39.7 408.1,39.2 408.6,38.6 409.1,38.0 409.6,37.4 410.1,36.9 410.6,36.3 411.1,35.9 411.6,35.5 412.1,35.1 412.6,34.8 413.1,34.5 413.6,34.1 414.1,33.8 414.6,33.5 415.1,33.2 415.6,32.9 416.1,32.7 416.6,32.5 417.1,32.3 417.6,32.1 418.1,32.0 418.6,32.0 419.1,32.0 419.6,32.1 420.1,32.3 420.6,32.5 421.1,32.8 421.6,33.1 422.1,33.4 422.6,33.8 423.1,34.2 423.6,34.6 424.1,35.0 424.6,35.3 425.1,35.7 425.6,36.0 426.1,36.3 426.6,36.6 427.1,36.8 427.6,37.0 428.1,37.2 428.6,37.4 429.1,37.6 429.6,37.8 430.1,38.0 430.6,38.2 431.1,38.4 431.6,38.6 432.1,38.7 432.6,38.9 433.1,39.0 433.6,39.1 434.1,39.3 434.6,39.4 435.1,39.5 435.6,39.6 436.1,39.7 436.6,39.8 437.1,39.8 437.6,39.9 438.1,40.0 438.6,40.1 439.1,40.2 439.6,40.2 440.1,40.3 440.6,40.4 441.1,40.4 441.6,40.5 442.1,40.6 442.6,40.6 443.1,40.7 443.6,40.7 444.1,40.8 444.6,40.8 445.1,40.8 445.6,40.8 446.1,40.7 446.6,40.7 447.1,40.5 447.6,40.4 448.1,40.2 448.6,39.9 449.1,39.7 449.6,39.4 450.1,39.1 450.6,38.8 451.1,38.4 451.6,38.1 452.1,37.8 452.6,37.4 453.1,37.1 453.6,36.9 454.1,36.6 454.6,36.3 455.1,36.1 455.6,36.0 456.1,35.8 456.6,35.7 457.1,35.5 457.6,35.4 458.1,35.3 458.6,35.1 459.1,34.9 459.6,34.6 460.1,34.3 460.6,33.8 461.1,33.3 461.6,32.7 462.1,32.2 462.6,31.8 463.1,31.8 463.6,35.0 464.1,39.2 464.6,42.8 465.1,45.6 465.6,45.7 466.1,44.7 466.6,43.5 467.1,42.6 467.6,42.4 468.1,42.3 468.6,42.3 469.1,42.3 469.6,42.3 470.1,42.3 470.6,42.3 471.1,42.3 471.6,42.3 472.1,42.3 472.6,42.3 473.1,42.2 473.6,42.1 474.1,41.9 474.6,41.7 475.1,41.3 475.6,40.8 476.1,40.3 476.6,39.8 477.1,39.2 477.6,38.6 478.1,37.9 478.6,37.3 479.1,36.8 479.6,36.2 480.1,35.8 480.6,35.4 481.1,35.1 481.6,34.8 482.1,34.5 482.6,34.2 483.1,33.9 483.6,33.6 484.1,33.4 484.6,33.2 485.1,33.0 485.6,32.8 486.1,32.7 486.6,32.6 487.1,32.5 487.6,32.5 488.1,32.5 488.6,32.6 489.1,32.8 489.6,33.0 490.1,33.2 490.6,33.5 491.1,33.8 491.6,34.2 492.1,34.5 492.6,34.9 493.1,35.2 493.6,35.6 494.1,35.9 494.6,36.2 495.1,36.5 495.6,36.7 496.1,36.9 496.6,37.1 497.1,37.3 497.6,37.5 498.1,37.8 498.6,38.0 499.1,38.2 499.6,38.4 500.1,38.6 500.6,38.8 501.1,39.0 501.6,39.2 502.1,39.3 502.6,39.4 503.1,39.5 503.6,39.5 504.1,39.5 504.6,39.5 505.1,39.6 505.6,39.6 506.1,39.6 506.6,39.6 507.1,39.6 507.6,39.6 508.1,39.6 508.6,39.6 509.1,39.6 509.6,39.7 510.1,39.7 510.6,39.8 511.1,39.8 511.6,40.0 512.1,40.2 512.6,40.4 513.1,40.6 513.6,40.9 514.1,41.0 514.6,41.2 515.1,41.2 515.6,41.2 516.1,41.1 516.6,41.0 517.1,40.8 517.6,40.6 518.1,40.4 518.6,40.1 519.1,39.8 519.6,39.5 520.1,39.2 520.6,38.9 521.1,38.6 521.6,38.2 522.1,37.9 522.6,37.6 523.1,37.2 523.6,37.0 524.1,36.7 524.6,36.5 525.1,36.3 525.6,36.1 526.1,35.9 526.6,35.8 527.1,35.6 527.6,35.5 528.1,35.3 528.6,35.1 529.1,34.7 529.6,34.2 530.1,33.5 530.6,32.9 531.1,32.3 531.6,31.9 532.1,32.0 532.6,35.2 533.1,39.5 533.6,43.1 534.1,46.0 534.6,46.2 535.1,45.2 535.6,44.0 536.1,43.0 536.6,42.7 537.1,42.5 537.6,42.4 538.1,42.3 538.6,42.2 539.1,42.1 539.6,42.1 540.1,42.0 540.6,42.0 541.1,41.9 541.6,41.8 542.1,41.8 542.6,41.6 543.1,41.5 543.6,41.2 544.1,40.9 544.6,40.5 545.1,40.1 545.6,39.6 546.1,39.1 546.6,38.6 547.1,38.1 547.6,37.6 548.1,37.1 548.6,36.6 549.1,36.2 549.6,35.8 550.1,35.5 550.6,35.1 551.1,34.7 551.6,34.3 552.1,33.9 552.6,33.6 553.1,33.2 553.6,32.9 554.1,32.6 554.6,32.3 555.1,32.0 555.6,31.9 556.1,31.7 556.6,31.7 557.1,31.7 557.6,31.7 558.1,31.9 558.6,32.0 559.1,32.3 559.6,32.6 560.1,32.9 560.6,33.3 561.1,33.7 561.6,34.1 562.1,34.5 562.6,34.9 563.1,35.3 563.6,35.7 564.1,36.1 564.6,36.4 565.1,36.6 565.6,36.9 566.1,37.2 566.6,37.5 567.1,37.8 567.6,38.0 568.1,38.3 568.6,38.5 569.1,38.7 569.6,38.9 570.1,39.1 570.6,39.2 571.1,39.3 571.6,39.4 572.1,39.4 572.6,39.4 573.1,39.4 573.6,39.4 574.1,39.4 574.6,39.4 575.1,39.5 575.6,39.5 576.1,39.5 576.6,39.5 577.1,39.6 577.6,39.6 578.1,39.6 578.6,39.7 579.1,39.7 579.6,39.8 580.1,39.9 580.6,40.0 581.1,40.2 581.6,40.4 582.1,40.6 582.6,40.8 583.1,40.9 583.6,41.1 584.1,41.1 584.6,41.1 585.1,41.0 585.6,40.9 586.1,40.7 586.6,40.5 587.1,40.2 587.6,40.0 588.1,39.7 588.6,39.4 589.1,39.1 589.6,38.7 590.1,38.4 590.6,38.1 591.1,37.8 591.6,37.5 592.1,37.2 592.6,37.0 593.1,36.7 593.6,36.5" fill="none" stroke="#151515" stroke-width="0.78" stroke-linejoin="round" stroke-linecap="round"/>
<polyline points="374.6,61.5 375.1,61.5 375.6,61.5 376.1,61.5 376.6,61.5 377.1,61.5 377.6,61.5 378.1,61.4 378.6,61.4 379.1,61.3 379.6,61.2 380.1,61.1 380.6,61.0 381.1,60.9 381.6,60.8 382.1,60.6 382.6,60.5 383.1,60.4 383.6,60.2 384.1,60.1 384.6,60.0 385.1,59.9 385.6,59.7 386.1,59.6 386.6,59.5 387.1,59.3 387.6,59.2 388.1,59.0 388.6,58.8 389.1,58.7 389.6,58.5 390.1,58.2 390.6,58.0 391.1,57.7 391.6,57.4 392.1,56.9 392.6,56.3 393.1,55.7 393.6,55.0 394.1,54.3 394.6,53.2 395.1,51.7 395.6,50.4 396.1,50.5 396.6,53.8 397.1,58.8 397.6,63.7 398.1,69.8 398.6,73.2 399.1,72.5 399.6,71.0 400.1,69.2 400.6,67.8 401.1,66.9 401.6,66.1 402.1,65.3 402.6,64.6 403.1,63.9 403.6,63.3 404.1,62.7 404.6,62.2 405.1,61.7 405.6,61.3 406.1,60.9 406.6,60.6 407.1,60.2 407.6,59.9 408.1,59.6 408.6,59.4 409.1,59.1 409.6,58.9 410.1,58.7 410.6,58.5 411.1,58.3 411.6,58.1 412.1,57.8 412.6,57.6 413.1,57.4 413.6,57.1 414.1,56.9 414.6,56.6 415.1,56.3 415.6,56.1 416.1,55.8 416.6,55.6 417.1,55.4 417.6,55.2 418.1,55.2 418.6,55.1 419.1,55.1 419.6,55.2 420.1,55.3 420.6,55.5 421.1,55.6 421.6,55.8 422.1,56.1 422.6,56.3 423.1,56.6 423.6,56.8 424.1,57.0 424.6,57.3 425.1,57.5 425.6,57.7 426.1,58.0 426.6,58.2 427.1,58.3 427.6,58.5 428.1,58.8 428.6,59.0 429.1,59.2 429.6,59.4 430.1,59.7 430.6,59.9 431.1,60.1 431.6,60.3 432.1,60.5 432.6,60.7 433.1,60.8 433.6,60.9 434.1,61.0 434.6,61.0 435.1,61.1 435.6,61.1 436.1,61.1 436.6,61.1 437.1,61.0 437.6,61.0 438.1,61.0 438.6,61.0 439.1,61.0 439.6,60.9 440.1,60.9 440.6,60.9 441.1,60.9 441.6,60.9 442.1,60.9 442.6,60.9 443.1,60.9 443.6,60.9 444.1,61.0 444.6,61.0 445.1,60.9 445.6,60.9 446.1,60.9 446.6,60.8 447.1,60.8 447.6,60.7 448.1,60.6 448.6,60.6 449.1,60.5 449.6,60.5 450.1,60.5 450.6,60.4 451.1,60.4 451.6,60.4 452.1,60.4 452.6,60.4 453.1,60.4 453.6,60.3 454.1,60.3 454.6,60.2 455.1,60.1 455.6,60.0 456.1,59.8 456.6,59.6 457.1,59.4 457.6,59.2 458.1,58.9 458.6,58.6 459.1,58.4 459.6,58.1 460.1,57.7 460.6,57.3 461.1,56.8 461.6,56.2 462.1,55.5 462.6,54.8 463.1,54.1 463.6,53.0 464.1,51.5 464.6,50.3 465.1,50.4 465.6,53.6 466.1,58.7 466.6,63.5 467.1,69.6 467.6,73.0 468.1,72.4 468.6,70.8 469.1,69.1 469.6,67.8 470.1,66.9 470.6,66.1 471.1,65.4 471.6,64.7 472.1,64.0 472.6,63.4 473.1,62.9 473.6,62.3 474.1,61.8 474.6,61.4 475.1,60.9 475.6,60.5 476.1,60.2 476.6,59.8 477.1,59.5 477.6,59.2 478.1,58.9 478.6,58.6 479.1,58.3 479.6,58.1 480.1,57.8 480.6,57.6 481.1,57.4 481.6,57.2 482.1,56.9 482.6,56.7 483.1,56.5 483.6,56.3 484.1,56.1 484.6,56.0 485.1,55.8 485.6,55.7 486.1,55.5 486.6,55.5 487.1,55.4 487.6,55.4 488.1,55.4 488.6,55.5 489.1,55.6 489.6,55.7 490.1,55.8 490.6,56.0 491.1,56.1 491.6,56.3 492.1,56.6 492.6,56.8 493.1,57.0 493.6,57.3 494.1,57.5 494.6,57.7 495.1,57.9 495.6,58.1 496.1,58.3 496.6,58.4 497.1,58.6 497.6,58.7 498.1,58.9 498.6,59.0 499.1,59.1 499.6,59.3 500.1,59.4 500.6,59.5 501.1,59.7 501.6,59.8 502.1,59.9 502.6,60.1 503.1,60.2 503.6,60.3 504.1,60.4 504.6,60.5 505.1,60.6 505.6,60.7 506.1,60.8 506.6,60.9 507.1,61.0 507.6,61.1 508.1,61.2 508.6,61.2 509.1,61.3 509.6,61.4 510.1,61.4 510.6,61.5 511.1,61.6 511.6,61.6 512.1,61.6 512.6,61.6 513.1,61.6 513.6,61.6 514.1,61.6 514.6,61.6 515.1,61.5 515.6,61.5 516.1,61.4 516.6,61.4 517.1,61.3 517.6,61.3 518.1,61.2 518.6,61.2 519.1,61.1 519.6,61.1 520.1,61.0 520.6,60.9 521.1,60.8 521.6,60.7 522.1,60.6 522.6,60.5 523.1,60.3 523.6,60.2 524.1,60.0 524.6,59.8 525.1,59.5 525.6,59.3 526.1,59.0 526.6,58.8 527.1,58.5 527.6,58.2 528.1,57.9 528.6,57.6 529.1,57.3 529.6,56.9 530.1,56.5 530.6,56.0 531.1,55.4 531.6,54.8 532.1,54.1 532.6,53.1 533.1,51.6 533.6,50.4 534.1,50.6 534.6,53.8 535.1,58.9 535.6,63.8 536.1,69.8 536.6,73.3 537.1,72.6 537.6,71.0 538.1,69.3 538.6,68.0 539.1,67.1 539.6,66.3 540.1,65.6 540.6,64.9 541.1,64.2 541.6,63.7 542.1,63.1 542.6,62.6 543.1,62.2 543.6,61.7 544.1,61.3 544.6,60.9 545.1,60.6 545.6,60.2 546.1,59.9 546.6,59.6 547.1,59.3 547.6,59.0 548.1,58.7 548.6,58.5 549.1,58.2 549.6,58.0 550.1,57.8 550.6,57.5 551.1,57.3 551.6,57.0 552.1,56.7 552.6,56.5 553.1,56.3 553.6,56.1 554.1,55.9 554.6,55.7 555.1,55.6 555.6,55.5 556.1,55.5 556.6,55.6 557.1,55.7 557.6,55.8 558.1,55.9 558.6,56.1 559.1,56.3 559.6,56.5 560.1,56.7 560.6,56.9 561.1,57.2 561.6,57.4 562.1,57.6 562.6,57.8 563.1,58.0 563.6,58.1 564.1,58.3 564.6,58.5 565.1,58.6 565.6,58.8 566.1,58.9 566.6,59.1 567.1,59.3 567.6,59.4 568.1,59.6 568.6,59.8 569.1,59.9 569.6,60.1 570.1,60.2 570.6,60.4 571.1,60.5 571.6,60.6 572.1,60.7 572.6,60.8 573.1,60.9 573.6,60.9 574.1,61.0 574.6,61.0 575.1,61.1 575.6,61.1 576.1,61.1 576.6,61.2 577.1,61.2 577.6,61.2 578.1,61.2 578.6,61.2 579.1,61.2 579.6,61.2 580.1,61.2 580.6,61.3 581.1,61.3 581.6,61.3 582.1,61.3 582.6,61.3 583.1,61.4 583.6,61.4 584.1,61.3 584.6,61.3 585.1,61.3 585.6,61.2 586.1,61.1 586.6,61.0 587.1,60.9 587.6,60.8 588.1,60.7 588.6,60.6 589.1,60.5 589.6,60.3 590.1,60.2 590.6,60.1 591.1,60.0 591.6,59.9 592.1,59.8 592.6,59.7 593.1,59.5 593.6,59.4" fill="none" stroke="#151515" stroke-width="0.78" stroke-linejoin="round" stroke-linecap="round"/>
<polyline points="374.6,86.9 375.1,86.7 375.6,86.5 376.1,86.3 376.6,86.1 377.1,85.9 377.6,85.7 378.1,85.5 378.6,85.3 379.1,85.1 379.6,84.9 380.1,84.6 380.6,84.4 381.1,84.2 381.6,84.0 382.1,83.8 382.6,83.6 383.1,83.3 383.6,83.1 384.1,82.8 384.6,82.6 385.1,82.3 385.6,82.0 386.1,81.7 386.6,81.4 387.1,81.1 387.6,80.8 388.1,80.5 388.6,80.2 389.1,79.9 389.6,79.6 390.1,79.3 390.6,79.0 391.1,78.7 391.6,78.4 392.1,78.1 392.6,77.8 393.1,77.4 393.6,77.0 394.1,76.6 394.6,76.1 395.1,75.5 395.6,74.9 396.1,74.2 396.6,73.4 397.1,72.6 397.6,71.5 398.1,70.4 398.6,70.6 399.1,72.6 399.6,75.4 400.1,77.8 400.6,80.5 401.1,82.8 401.6,83.1 402.1,81.0 402.6,77.9 403.1,75.6 403.6,75.0 404.1,74.6 404.6,74.3 405.1,74.0 405.6,73.8 406.1,73.7 406.6,73.7 407.1,73.7 407.6,73.8 408.1,74.0 408.6,74.2 409.1,74.5 409.6,74.8 410.1,75.2 410.6,75.5 411.1,75.9 411.6,76.3 412.1,76.6 412.6,77.0 413.1,77.3 413.6,77.6 414.1,78.0 414.6,78.4 415.1,78.8 415.6,79.2 416.1,79.6 416.6,80.1 417.1,80.5 417.6,81.0 418.1,81.4 418.6,81.9 419.1,82.3 419.6,82.7 420.1,83.0 420.6,83.3 421.1,83.6 421.6,83.9 422.1,84.2 422.6,84.5 423.1,84.8 423.6,85.1 424.1,85.4 424.6,85.7 425.1,85.9 425.6,86.2 426.1,86.5 426.6,86.7 427.1,86.9 427.6,87.1 428.1,87.2 428.6,87.3 429.1,87.4 429.6,87.5 430.1,87.5 430.6,87.6 431.1,87.6 431.6,87.7 432.1,87.7 432.6,87.7 433.1,87.8 433.6,87.8 434.1,87.9 434.6,87.9 435.1,88.0 435.6,88.0 436.1,88.0 436.6,88.0 437.1,88.0 437.6,88.0 438.1,87.9 438.6,87.9 439.1,87.8 439.6,87.7 440.1,87.6 440.6,87.4 441.1,87.3 441.6,87.2 442.1,87.0 442.6,86.9 443.1,86.7 443.6,86.6 444.1,86.4 444.6,86.2 445.1,86.0 445.6,85.8 446.1,85.6 446.6,85.4 447.1,85.2 447.6,84.9 448.1,84.7 448.6,84.4 449.1,84.2 449.6,84.0 450.1,83.7 450.6,83.5 451.1,83.3 451.6,83.1 452.1,82.8 452.6,82.6 453.1,82.4 453.6,82.2 454.1,82.0 454.6,81.7 455.1,81.5 455.6,81.3 456.1,81.1 456.6,80.9 457.1,80.7 457.6,80.4 458.1,80.2 458.6,79.9 459.1,79.6 459.6,79.4 460.1,79.0 460.6,78.7 461.1,78.3 461.6,78.0 462.1,77.6 462.6,77.1 463.1,76.6 463.6,76.1 464.1,75.5 464.6,74.8 465.1,74.1 465.6,73.4 466.1,72.6 466.6,71.5 467.1,70.4 467.6,70.7 468.1,72.7 468.6,75.4 469.1,77.9 469.6,80.7 470.1,83.0 470.6,83.2 471.1,81.2 471.6,78.1 472.1,75.8 472.6,75.2 473.1,74.9 473.6,74.6 474.1,74.4 474.6,74.3 475.1,74.2 475.6,74.1 476.1,74.2 476.6,74.3 477.1,74.4 477.6,74.6 478.1,74.9 478.6,75.2 479.1,75.5 479.6,75.8 480.1,76.2 480.6,76.5 481.1,76.9 481.6,77.2 482.1,77.5 482.6,77.9 483.1,78.2 483.6,78.6 484.1,79.0 484.6,79.4 485.1,79.8 485.6,80.2 486.1,80.6 486.6,81.0 487.1,81.4 487.6,81.8 488.1,82.2 488.6,82.5 489.1,82.8 489.6,83.1 490.1,83.4 490.6,83.7 491.1,83.9 491.6,84.2 492.1,84.5 492.6,84.7 493.1,85.0 493.6,85.2 494.1,85.4 494.6,85.6 495.1,85.8 495.6,86.0 496.1,86.1 496.6,86.3 497.1,86.4 497.6,86.5 498.1,86.6 498.6,86.7 499.1,86.9 499.6,87.0 500.1,87.1 500.6,87.2 501.1,87.3 501.6,87.4 502.1,87.4 502.6,87.5 503.1,87.5 503.6,87.5 504.1,87.5 504.6,87.5 505.1,87.5 505.6,87.5 506.1,87.4 506.6,87.4 507.1,87.4 507.6,87.3 508.1,87.3 508.6,87.3 509.1,87.2 509.6,87.2 510.1,87.1 510.6,87.1 511.1,87.1 511.6,87.0 512.1,87.0 512.6,86.9 513.1,86.8 513.6,86.6 514.1,86.5 514.6,86.3 515.1,86.1 515.6,85.8 516.1,85.6 516.6,85.3 517.1,85.0 517.6,84.8 518.1,84.5 518.6,84.2 519.1,83.9 519.6,83.6 520.1,83.4 520.6,83.1 521.1,82.8 521.6,82.5 522.1,82.2 522.6,81.9 523.1,81.6 523.6,81.3 524.1,81.0 524.6,80.8 525.1,80.6 525.6,80.3 526.1,80.1 526.6,79.9 527.1,79.7 527.6,79.4 528.1,79.2 528.6,78.9 529.1,78.6 529.6,78.2 530.1,77.9 530.6,77.5 531.1,77.1 531.6,76.7 532.1,76.2 532.6,75.7 533.1,75.1 533.6,74.5 534.1,73.8 534.6,73.2 535.1,72.5 535.6,71.4 536.1,70.3 536.6,70.6 537.1,72.7 537.6,75.4 538.1,77.8 538.6,80.5 539.1,82.8 539.6,83.0 540.1,80.8 540.6,77.7 541.1,75.4 541.6,74.9 542.1,74.8 542.6,74.6 543.1,74.5 543.6,74.4 544.1,74.4 544.6,74.5 545.1,74.6 545.6,74.7 546.1,75.0 546.6,75.2 547.1,75.5 547.6,75.9 548.1,76.2 548.6,76.6 549.1,76.9 549.6,77.3 550.1,77.6 550.6,77.9 551.1,78.2 551.6,78.4 552.1,78.7 552.6,79.0 553.1,79.4 553.6,79.7 554.1,80.0 554.6,80.4 555.1,80.7 555.6,81.1 556.1,81.4 556.6,81.7 557.1,82.0 557.6,82.3 558.1,82.6 558.6,82.9 559.1,83.2 559.6,83.5 560.1,83.8 560.6,84.1 561.1,84.4 561.6,84.8 562.1,85.1 562.6,85.5 563.1,85.8 563.6,86.1 564.1,86.4 564.6,86.7 565.1,86.9 565.6,87.2 566.1,87.3 566.6,87.5 567.1,87.6 567.6,87.7 568.1,87.8 568.6,87.9 569.1,88.0 569.6,88.1 570.1,88.2 570.6,88.3 571.1,88.3 571.6,88.4 572.1,88.5 572.6,88.6 573.1,88.7 573.6,88.7 574.1,88.8 574.6,88.8 575.1,88.7 575.6,88.7 576.1,88.6 576.6,88.4 577.1,88.3 577.6,88.1 578.1,87.9 578.6,87.7 579.1,87.5 579.6,87.3 580.1,87.1 580.6,86.9 581.1,86.6 581.6,86.4 582.1,86.2 582.6,86.0 583.1,85.8 583.6,85.6 584.1,85.4 584.6,85.2 585.1,85.0 585.6,84.8 586.1,84.6 586.6,84.4 587.1,84.1 587.6,83.9 588.1,83.6 588.6,83.4 589.1,83.2 589.6,82.9 590.1,82.7 590.6,82.4 591.1,82.2 591.6,81.9 592.1,81.7 592.6,81.4 593.1,81.2 593.6,80.9" fill="none" stroke="#151515" stroke-width="0.78" stroke-linejoin="round" stroke-linecap="round"/>
<polyline points="374.6,107.3 375.1,107.3 375.6,107.4 376.1,107.5 376.6,107.5 377.1,107.6 377.6,107.7 378.1,107.8 378.6,107.9 379.1,108.0 379.6,108.1 380.1,108.2 380.6,108.2 381.1,108.3 381.6,108.3 382.1,108.3 382.6,108.2 383.1,108.1 383.6,108.0 384.1,107.9 384.6,107.8 385.1,107.6 385.6,107.5 386.1,107.3 386.6,107.0 387.1,106.8 387.6,106.6 388.1,106.3 388.6,106.1 389.1,105.8 389.6,105.6 390.1,105.4 390.6,105.2 391.1,105.0 391.6,104.8 392.1,104.6 392.6,104.4 393.1,104.2 393.6,104.0 394.1,103.7 394.6,103.5 395.1,103.2 395.6,103.0 396.1,102.7 396.6,102.3 397.1,101.9 397.6,101.3 398.1,100.7 398.6,99.9 399.1,99.1 399.6,98.3 400.1,97.3 400.6,96.0 401.1,95.0 401.6,94.9 402.1,96.8 402.6,99.7 403.1,102.3 403.6,105.2 404.1,107.9 404.6,108.7 405.1,107.4 405.6,105.2 406.1,102.9 406.6,101.6 407.1,100.9 407.6,100.3 408.1,99.8 408.6,99.4 409.1,99.0 409.6,98.7 410.1,98.5 410.6,98.3 411.1,98.2 411.6,98.1 412.1,98.0 412.6,97.9 413.1,97.8 413.6,97.8 414.1,97.7 414.6,97.7 415.1,97.7 415.6,97.7 416.1,97.7 416.6,97.8 417.1,97.9 417.6,98.0 418.1,98.1 418.6,98.3 419.1,98.4 419.6,98.6 420.1,98.8 420.6,99.0 421.1,99.3 421.6,99.5 422.1,99.8 422.6,100.0 423.1,100.3 423.6,100.5 424.1,100.7 424.6,101.0 425.1,101.2 425.6,101.4 426.1,101.7 426.6,102.0 427.1,102.2 427.6,102.5 428.1,102.8 428.6,103.1 429.1,103.4 429.6,103.7 430.1,103.9 430.6,104.2 431.1,104.4 431.6,104.7 432.1,104.9 432.6,105.1 433.1,105.3 433.6,105.4 434.1,105.6 434.6,105.8 435.1,105.9 435.6,106.1 436.1,106.2 436.6,106.3 437.1,106.4 437.6,106.6 438.1,106.7 438.6,106.8 439.1,106.9 439.6,107.0 440.1,107.1 440.6,107.2 441.1,107.3 441.6,107.4 442.1,107.5 442.6,107.6 443.1,107.6 443.6,107.7 444.1,107.7 444.6,107.7 445.1,107.7 445.6,107.6 446.1,107.6 446.6,107.6 447.1,107.6 447.6,107.6 448.1,107.5 448.6,107.5 449.1,107.5 449.6,107.5 450.1,107.4 450.6,107.4 451.1,107.3 451.6,107.2 452.1,107.1 452.6,106.9 453.1,106.8 453.6,106.6 454.1,106.4 454.6,106.3 455.1,106.1 455.6,105.9 456.1,105.7 456.6,105.5 457.1,105.4 457.6,105.2 458.1,105.1 458.6,105.0 459.1,104.8 459.6,104.8 460.1,104.7 460.6,104.6 461.1,104.5 461.6,104.4 462.1,104.3 462.6,104.2 463.1,104.1 463.6,104.0 464.1,103.8 464.6,103.6 465.1,103.4 465.6,103.1 466.1,102.7 466.6,102.1 467.1,101.3 467.6,100.5 468.1,99.6 468.6,98.7 469.1,97.7 469.6,96.4 470.1,95.4 470.6,95.4 471.1,97.3 471.6,100.2 472.1,102.8 472.6,105.7 473.1,108.3 473.6,109.1 474.1,107.8 474.6,105.5 475.1,103.2 475.6,101.8 476.1,101.1 476.6,100.5 477.1,99.9 477.6,99.5 478.1,99.1 478.6,98.7 479.1,98.5 479.6,98.3 480.1,98.2 480.6,98.0 481.1,97.9 481.6,97.8 482.1,97.7 482.6,97.7 483.1,97.6 483.6,97.6 484.1,97.6 484.6,97.6 485.1,97.7 485.6,97.7 486.1,97.9 486.6,98.0 487.1,98.2 487.6,98.4 488.1,98.6 488.6,98.9 489.1,99.1 489.6,99.4 490.1,99.7 490.6,100.0 491.1,100.3 491.6,100.5 492.1,100.8 492.6,101.1 493.1,101.3 493.6,101.5 494.1,101.7 494.6,102.0 495.1,102.2 495.6,102.5 496.1,102.7 496.6,103.0 497.1,103.3 497.6,103.6 498.1,103.8 498.6,104.1 499.1,104.3 499.6,104.5 500.1,104.7 500.6,104.9 501.1,105.1 501.6,105.2 502.1,105.4 502.6,105.5 503.1,105.7 503.6,105.8 504.1,106.0 504.6,106.1 505.1,106.3 505.6,106.4 506.1,106.6 506.6,106.7 507.1,106.9 507.6,107.0 508.1,107.1 508.6,107.2 509.1,107.3 509.6,107.4 510.1,107.6 510.6,107.7 511.1,107.8 511.6,107.9 512.1,108.0 512.6,108.0 513.1,108.1 513.6,108.2 514.1,108.2 514.6,108.2 515.1,108.2 515.6,108.3 516.1,108.3 516.6,108.3 517.1,108.3 517.6,108.4 518.1,108.4 518.6,108.4 519.1,108.3 519.6,108.3 520.1,108.3 520.6,108.2 521.1,108.1 521.6,107.9 522.1,107.8 522.6,107.6 523.1,107.4 523.6,107.2 524.1,107.0 524.6,106.8 525.1,106.6 525.6,106.3 526.1,106.1 526.6,105.9 527.1,105.7 527.6,105.5 528.1,105.3 528.6,105.1 529.1,105.0 529.6,104.8 530.1,104.7 530.6,104.5 531.1,104.4 531.6,104.2 532.1,104.0 532.6,103.8 533.1,103.6 533.6,103.4 534.1,103.1 534.6,102.8 535.1,102.3 535.6,101.7 536.1,101.0 536.6,100.2 537.1,99.3 537.6,98.4 538.1,97.5 538.6,96.2 539.1,95.2 539.6,95.2 540.1,97.2 540.6,100.1 541.1,102.7 541.6,105.6 542.1,108.3 542.6,109.1 543.1,107.7 543.6,105.4 544.1,103.1 544.6,101.8 545.1,101.2 545.6,100.6 546.1,100.1 546.6,99.7 547.1,99.4 547.6,99.2 548.1,98.9 548.6,98.7 549.1,98.5 549.6,98.3 550.1,98.1 550.6,98.0 551.1,97.8 551.6,97.6 552.1,97.5 552.6,97.4 553.1,97.3 553.6,97.3 554.1,97.3 554.6,97.3 555.1,97.4 555.6,97.5 556.1,97.6 556.6,97.8 557.1,98.0 557.6,98.2 558.1,98.4 558.6,98.6 559.1,98.9 559.6,99.2 560.1,99.4 560.6,99.7 561.1,100.0 561.6,100.3 562.1,100.5 562.6,100.8 563.1,101.0 563.6,101.3 564.1,101.5 564.6,101.8 565.1,102.1 565.6,102.4 566.1,102.7 566.6,103.0 567.1,103.4 567.6,103.7 568.1,103.9 568.6,104.2 569.1,104.5 569.6,104.7 570.1,104.9 570.6,105.1 571.1,105.3 571.6,105.4 572.1,105.5 572.6,105.7 573.1,105.8 573.6,105.9 574.1,105.9 574.6,106.0 575.1,106.1 575.6,106.2 576.1,106.2 576.6,106.3 577.1,106.4 577.6,106.4 578.1,106.5 578.6,106.7 579.1,106.8 579.6,106.9 580.1,107.0 580.6,107.1 581.1,107.2 581.6,107.4 582.1,107.4 582.6,107.5 583.1,107.6 583.6,107.6 584.1,107.7 584.6,107.7 585.1,107.8 585.6,107.9 586.1,107.9 586.6,107.9 587.1,108.0 587.6,108.0 588.1,107.9 588.6,107.9 589.1,107.9 589.6,107.8 590.1,107.6 590.6,107.5 591.1,107.4 591.6,107.2 592.1,107.0 592.6,106.8 593.1,106.6 593.6,106.4" fill="none" stroke="#151515" stroke-width="0.78" stroke-linejoin="round" stroke-linecap="round"/>
<polyline points="374.6,129.2 375.1,129.3 375.6,129.4 376.1,129.5 376.6,129.5 377.1,129.6 377.6,129.6 378.1,129.6 378.6,129.5 379.1,129.5 379.6,129.5 380.1,129.4 380.6,129.4 381.1,129.4 381.6,129.3 382.1,129.3 382.6,129.3 383.1,129.2 383.6,129.2 384.1,129.1 384.6,129.0 385.1,128.9 385.6,128.8 386.1,128.8 386.6,128.7 387.1,128.6 387.6,128.5 388.1,128.4 388.6,128.3 389.1,128.2 389.6,128.1 390.1,128.0 390.6,127.9 391.1,127.8 391.6,127.6 392.1,127.5 392.6,127.3 393.1,127.2 393.6,127.0 394.1,126.9 394.6,126.7 395.1,126.5 395.6,126.3 396.1,126.1 396.6,125.8 397.1,125.5 397.6,125.3 398.1,124.9 398.6,124.5 399.1,124.0 399.6,123.4 400.1,122.7 400.6,122.0 401.1,121.3 401.6,120.5 402.1,119.7 402.6,118.4 403.1,117.1 403.6,116.0 404.1,115.6 404.6,115.6 405.1,115.6 405.6,115.6 406.1,115.7 406.6,120.4 407.1,126.5 407.6,131.3 408.1,134.8 408.6,135.1 409.1,131.2 409.6,126.2 410.1,123.9 410.6,123.2 411.1,122.8 411.6,122.5 412.1,122.3 412.6,122.2 413.1,122.1 413.6,121.9 414.1,121.8 414.6,121.7 415.1,121.7 415.6,121.6 416.1,121.6 416.6,121.6 417.1,121.6 417.6,121.7 418.1,121.7 418.6,121.8 419.1,121.9 419.6,122.0 420.1,122.2 420.6,122.3 421.1,122.5 421.6,122.6 422.1,122.8 422.6,122.9 423.1,123.1 423.6,123.2 424.1,123.4 424.6,123.5 425.1,123.6 425.6,123.7 426.1,123.9 426.6,124.0 427.1,124.2 427.6,124.3 428.1,124.5 428.6,124.7 429.1,124.9 429.6,125.1 430.1,125.4 430.6,125.6 431.1,125.8 431.6,126.0 432.1,126.2 432.6,126.4 433.1,126.5 433.6,126.7 434.1,126.8 434.6,126.9 435.1,127.1 435.6,127.2 436.1,127.4 436.6,127.5 437.1,127.7 437.6,127.9 438.1,128.0 438.6,128.2 439.1,128.3 439.6,128.4 440.1,128.6 440.6,128.7 441.1,128.8 441.6,128.8 442.1,128.9 442.6,128.9 443.1,129.0 443.6,129.1 444.1,129.1 444.6,129.2 445.1,129.2 445.6,129.3 446.1,129.3 446.6,129.4 447.1,129.4 447.6,129.5 448.1,129.5 448.6,129.5 449.1,129.5 449.6,129.5 450.1,129.5 450.6,129.4 451.1,129.4 451.6,129.3 452.1,129.2 452.6,129.0 453.1,128.9 453.6,128.8 454.1,128.7 454.6,128.6 455.1,128.4 455.6,128.3 456.1,128.2 456.6,128.1 457.1,128.0 457.6,127.9 458.1,127.8 458.6,127.8 459.1,127.7 459.6,127.6 460.1,127.5 460.6,127.5 461.1,127.4 461.6,127.3 462.1,127.2 462.6,127.1 463.1,127.0 463.6,126.9 464.1,126.7 464.6,126.6 465.1,126.4 465.6,126.3 466.1,126.1 466.6,125.8 467.1,125.5 467.6,125.1 468.1,124.5 468.6,123.8 469.1,123.1 469.6,122.2 470.1,121.4 470.6,120.5 471.1,119.5 471.6,118.3 472.1,116.9 472.6,115.9 473.1,115.5 473.6,115.4 474.1,115.4 474.6,115.5 475.1,115.5 475.6,120.2 476.1,126.3 476.6,131.0 477.1,134.6 477.6,134.9 478.1,130.9 478.6,125.9 479.1,123.6 479.6,123.1 480.1,122.8 480.6,122.6 481.1,122.4 481.6,122.2 482.1,122.0 482.6,121.9 483.1,121.7 483.6,121.6 484.1,121.5 484.6,121.4 485.1,121.3 485.6,121.2 486.1,121.2 486.6,121.2 487.1,121.2 487.6,121.2 488.1,121.3 488.6,121.5 489.1,121.6 489.6,121.8 490.1,122.0 490.6,122.2 491.1,122.4 491.6,122.7 492.1,122.9 492.6,123.0 493.1,123.2 493.6,123.4 494.1,123.5 494.6,123.7 495.1,123.8 495.6,124.0 496.1,124.1 496.6,124.3 497.1,124.5 497.6,124.7 498.1,124.8 498.6,125.0 499.1,125.2 499.6,125.4 500.1,125.6 500.6,125.8 501.1,126.0 501.6,126.2 502.1,126.3 502.6,126.5 503.1,126.7 503.6,126.9 504.1,127.0 504.6,127.2 505.1,127.4 505.6,127.5 506.1,127.7 506.6,127.8 507.1,128.0 507.6,128.1 508.1,128.2 508.6,128.3 509.1,128.4 509.6,128.5 510.1,128.6 510.6,128.6 511.1,128.7 511.6,128.7 512.1,128.8 512.6,128.9 513.1,129.0 513.6,129.1 514.1,129.2 514.6,129.3 515.1,129.4 515.6,129.5 516.1,129.6 516.6,129.7 517.1,129.7 517.6,129.8 518.1,129.8 518.6,129.8 519.1,129.7 519.6,129.7 520.1,129.5 520.6,129.4 521.1,129.3 521.6,129.1 522.1,129.0 522.6,128.8 523.1,128.7 523.6,128.6 524.1,128.5 524.6,128.4 525.1,128.4 525.6,128.3 526.1,128.2 526.6,128.2 527.1,128.1 527.6,128.0 528.1,127.9 528.6,127.8 529.1,127.6 529.6,127.5 530.1,127.3 530.6,127.2 531.1,127.0 531.6,126.8 532.1,126.6 532.6,126.5 533.1,126.3 533.6,126.1 534.1,126.0 534.6,125.8 535.1,125.6 535.6,125.4 536.1,125.1 536.6,124.8 537.1,124.3 537.6,123.7 538.1,123.1 538.6,122.4 539.1,121.7 539.6,120.9 540.1,120.1 540.6,118.8 541.1,117.4 541.6,116.3 542.1,115.9 542.6,115.9 543.1,115.9 543.6,115.9 544.1,115.9 544.6,120.6 545.1,126.7 545.6,131.3 546.1,134.9 546.6,135.1 547.1,131.1 547.6,126.1 548.1,123.7 548.6,123.0 549.1,122.5 549.6,122.3 550.1,122.1 550.6,122.0 551.1,121.9 551.6,121.8 552.1,121.7 552.6,121.6 553.1,121.6 553.6,121.5 554.1,121.5 554.6,121.5 555.1,121.5 555.6,121.5 556.1,121.6 556.6,121.7 557.1,121.8 557.6,121.9 558.1,122.0 558.6,122.2 559.1,122.3 559.6,122.4 560.1,122.5 560.6,122.6 561.1,122.7 561.6,122.8 562.1,122.9 562.6,123.0 563.1,123.1 563.6,123.2 564.1,123.4 564.6,123.5 565.1,123.7 565.6,123.9 566.1,124.1 566.6,124.4 567.1,124.6 567.6,124.9 568.1,125.1 568.6,125.3 569.1,125.5 569.6,125.7 570.1,125.9 570.6,126.1 571.1,126.2 571.6,126.4 572.1,126.5 572.6,126.7 573.1,126.8 573.6,126.9 574.1,127.1 574.6,127.2 575.1,127.3 575.6,127.5 576.1,127.6 576.6,127.7 577.1,127.9 577.6,128.0 578.1,128.1 578.6,128.2 579.1,128.4 579.6,128.5 580.1,128.7 580.6,128.8 581.1,128.9 581.6,129.1 582.1,129.2 582.6,129.3 583.1,129.4 583.6,129.5 584.1,129.6 584.6,129.7 585.1,129.7 585.6,129.8 586.1,129.8 586.6,129.9 587.1,129.9 587.6,130.0 588.1,130.0 588.6,130.0 589.1,130.0 589.6,129.9 590.1,129.9 590.6,129.8 591.1,129.6 591.6,129.5 592.1,129.3 592.6,129.1 593.1,128.9 593.6,128.8" fill="none" stroke="#151515" stroke-width="0.78" stroke-linejoin="round" stroke-linecap="round"/>
<polyline points="374.6,149.9 375.1,149.9 375.6,149.9 376.1,149.9 376.6,149.9 377.1,149.9 377.6,149.9 378.1,149.9 378.6,150.0 379.1,150.0 379.6,150.0 380.1,150.1 380.6,150.2 381.1,150.2 381.6,150.3 382.1,150.3 382.6,150.3 383.1,150.3 383.6,150.3 384.1,150.3 384.6,150.2 385.1,150.2 385.6,150.1 386.1,150.0 386.6,149.9 387.1,149.8 387.6,149.7 388.1,149.6 388.6,149.5 389.1,149.5 389.6,149.4 390.1,149.3 390.6,149.3 391.1,149.2 391.6,149.1 392.1,149.0 392.6,148.9 393.1,148.8 393.6,148.7 394.1,148.6 394.6,148.4 395.1,148.3 395.6,148.1 396.1,148.0 396.6,147.8 397.1,147.6 397.6,147.4 398.1,147.3 398.6,147.1 399.1,146.8 399.6,146.6 400.1,146.2 400.6,145.8 401.1,145.4 401.6,144.9 402.1,144.4 402.6,143.9 403.1,143.3 403.6,142.7 404.1,141.9 404.6,140.9 405.1,139.8 405.6,138.7 406.1,137.8 406.6,137.2 407.1,137.1 407.6,138.4 408.1,140.8 408.6,143.4 409.1,147.0 409.6,149.3 410.1,147.9 410.6,145.3 411.1,143.9 411.6,144.1 412.1,144.4 412.6,144.8 413.1,145.2 413.6,145.5 414.1,145.5 414.6,145.3 415.1,145.0 415.6,144.5 416.1,144.0 416.6,143.6 417.1,143.3 417.6,143.3 418.1,143.4 418.6,143.4 419.1,143.5 419.6,143.6 420.1,143.7 420.6,143.8 421.1,143.9 421.6,143.9 422.1,144.0 422.6,144.0 423.1,144.1 423.6,144.2 424.1,144.3 424.6,144.5 425.1,144.6 425.6,144.8 426.1,145.0 426.6,145.2 427.1,145.4 427.6,145.6 428.1,145.8 428.6,146.0 429.1,146.2 429.6,146.4 430.1,146.6 430.6,146.8 431.1,146.9 431.6,147.1 432.1,147.3 432.6,147.5 433.1,147.7 433.6,147.9 434.1,148.1 434.6,148.3 435.1,148.6 435.6,148.8 436.1,149.0 436.6,149.2 437.1,149.3 437.6,149.5 438.1,149.6 438.6,149.6 439.1,149.7 439.6,149.7 440.1,149.7 440.6,149.6 441.1,149.6 441.6,149.6 442.1,149.6 442.6,149.6 443.1,149.6 443.6,149.6 444.1,149.7 444.6,149.7 445.1,149.7 445.6,149.8 446.1,149.8 446.6,149.8 447.1,149.8 447.6,149.8 448.1,149.8 448.6,149.8 449.1,149.8 449.6,149.7 450.1,149.7 450.6,149.7 451.1,149.7 451.6,149.6 452.1,149.6 452.6,149.6 453.1,149.6 453.6,149.5 454.1,149.5 454.6,149.5 455.1,149.5 455.6,149.4 456.1,149.4 456.6,149.3 457.1,149.3 457.6,149.2 458.1,149.2 458.6,149.1 459.1,149.1 459.6,149.0 460.1,148.9 460.6,148.9 461.1,148.8 461.6,148.8 462.1,148.7 462.6,148.6 463.1,148.6 463.6,148.5 464.1,148.4 464.6,148.3 465.1,148.2 465.6,148.1 466.1,147.9 466.6,147.7 467.1,147.6 467.6,147.3 468.1,147.1 468.6,146.8 469.1,146.4 469.6,146.0 470.1,145.6 470.6,145.1 471.1,144.5 471.6,144.0 472.1,143.5 472.6,142.9 473.1,142.1 473.6,141.1 474.1,140.0 474.6,139.0 475.1,138.1 475.6,137.5 476.1,137.4 476.6,138.7 477.1,141.1 477.6,143.7 478.1,147.2 478.6,149.5 479.1,148.1 479.6,145.5 480.1,144.1 480.6,144.2 481.1,144.7 481.6,145.4 482.1,146.0 482.6,146.5 483.1,146.7 483.6,146.5 484.1,146.0 484.6,145.5 485.1,144.9 485.6,144.3 486.1,143.9 486.6,143.8 487.1,143.7 487.6,143.7 488.1,143.6 488.6,143.5 489.1,143.5 489.6,143.4 490.1,143.3 490.6,143.3 491.1,143.3 491.6,143.3 492.1,143.3 492.6,143.4 493.1,143.5 493.6,143.7 494.1,143.9 494.6,144.2 495.1,144.4 495.6,144.7 496.1,145.0 496.6,145.3 497.1,145.6 497.6,145.9 498.1,146.2 498.6,146.5 499.1,146.7 499.6,146.9 500.1,147.1 500.6,147.3 501.1,147.5 501.6,147.7 502.1,147.9 502.6,148.1 503.1,148.3 503.6,148.4 504.1,148.6 504.6,148.7 505.1,148.8 505.6,149.0 506.1,149.0 506.6,149.1 507.1,149.2 507.6,149.2 508.1,149.2 508.6,149.3 509.1,149.3 509.6,149.3 510.1,149.3 510.6,149.3 511.1,149.3 511.6,149.3 512.1,149.3 512.6,149.4 513.1,149.4 513.6,149.5 514.1,149.5 514.6,149.6 515.1,149.7 515.6,149.7 516.1,149.8 516.6,149.9 517.1,150.0 517.6,150.0 518.1,150.1 518.6,150.1 519.1,150.2 519.6,150.2 520.1,150.2 520.6,150.2 521.1,150.2 521.6,150.2 522.1,150.2 522.6,150.1 523.1,150.1 523.6,150.1 524.1,150.0 524.6,150.0 525.1,149.9 525.6,149.9 526.1,149.8 526.6,149.8 527.1,149.8 527.6,149.7 528.1,149.7 528.6,149.7 529.1,149.6 529.6,149.5 530.1,149.4 530.6,149.3 531.1,149.2 531.6,149.0 532.1,148.9 532.6,148.7 533.1,148.5 533.6,148.4 534.1,148.2 534.6,148.0 535.1,147.8 535.6,147.6 536.1,147.4 536.6,147.1 537.1,146.9 537.6,146.6 538.1,146.3 538.6,146.0 539.1,145.6 539.6,145.1 540.1,144.6 540.6,144.1 541.1,143.6 541.6,143.0 542.1,142.2 542.6,141.1 543.1,140.0 543.6,138.8 544.1,137.9 544.6,137.3 545.1,137.1 545.6,138.4 546.1,140.8 546.6,143.5 547.1,147.0 547.6,149.4 548.1,148.1 548.6,145.6 549.1,144.2 549.6,144.5 550.1,144.9 550.6,145.5 551.1,146.1 551.6,146.5 552.1,146.6 552.6,146.4 553.1,146.1 553.6,145.6 554.1,145.0 554.6,144.6 555.1,144.2 555.6,144.0 556.1,143.9 556.6,143.8 557.1,143.8 557.6,143.7 558.1,143.7 558.6,143.6 559.1,143.6 559.6,143.6 560.1,143.6 560.6,143.6 561.1,143.7 561.6,143.8 562.1,144.0 562.6,144.2 563.1,144.4 563.6,144.6 564.1,144.8 564.6,145.1 565.1,145.4 565.6,145.6 566.1,145.9 566.6,146.2 567.1,146.5 567.6,146.7 568.1,146.9 568.6,147.1 569.1,147.3 569.6,147.5 570.1,147.7 570.6,147.8 571.1,148.0 571.6,148.1 572.1,148.2 572.6,148.4 573.1,148.5 573.6,148.6 574.1,148.7 574.6,148.8 575.1,148.9 575.6,149.0 576.1,149.1 576.6,149.2 577.1,149.3 577.6,149.4 578.1,149.5 578.6,149.6 579.1,149.7 579.6,149.7 580.1,149.8 580.6,149.8 581.1,149.8 581.6,149.8 582.1,149.8 582.6,149.8 583.1,149.8 583.6,149.8 584.1,149.9 584.6,149.9 585.1,149.9 585.6,149.9 586.1,149.9 586.6,149.9 587.1,150.0 587.6,150.0 588.1,150.0 588.6,150.0 589.1,150.1 589.6,150.1 590.1,150.1 590.6,150.1 591.1,150.1 591.6,150.1 592.1,150.0 592.6,150.0 593.1,150.0 593.6,150.0" fill="none" stroke="#151515" stroke-width="0.78" stroke-linejoin="round" stroke-linecap="round"/>
<polyline points="374.6,172.6 375.1,172.8 375.6,172.9 376.1,173.0 376.6,173.1 377.1,173.2 377.6,173.2 378.1,173.1 378.6,173.1 379.1,173.0 379.6,172.9 380.1,172.8 380.6,172.7 381.1,172.6 381.6,172.5 382.1,172.3 382.6,172.2 383.1,172.1 383.6,172.0 384.1,171.8 384.6,171.7 385.1,171.6 385.6,171.6 386.1,171.5 386.6,171.4 387.1,171.3 387.6,171.2 388.1,171.2 388.6,171.1 389.1,171.0 389.6,170.9 390.1,170.8 390.6,170.7 391.1,170.6 391.6,170.6 392.1,170.5 392.6,170.4 393.1,170.3 393.6,170.3 394.1,170.2 394.6,170.1 395.1,170.1 395.6,170.0 396.1,169.9 396.6,169.8 397.1,169.8 397.6,169.7 398.1,169.5 398.6,169.4 399.1,169.2 399.6,168.9 400.1,168.6 400.6,168.3 401.1,167.9 401.6,167.5 402.1,167.0 402.6,166.6 403.1,166.1 403.6,165.5 404.1,164.7 404.6,163.9 405.1,163.0 405.6,162.1 406.1,161.3 406.6,160.5 407.1,159.7 407.6,158.9 408.1,158.5 408.6,158.9 409.1,160.3 409.6,162.4 410.1,164.9 410.6,167.4 411.1,170.1 411.6,173.4 412.1,175.1 412.6,173.9 413.1,171.3 413.6,168.6 414.1,167.3 414.6,166.7 415.1,166.2 415.6,165.8 416.1,165.6 416.6,165.4 417.1,165.4 417.6,165.4 418.1,165.4 418.6,165.4 419.1,165.3 419.6,165.3 420.1,165.3 420.6,165.3 421.1,165.2 421.6,165.2 422.1,165.2 422.6,165.2 423.1,165.2 423.6,165.3 424.1,165.5 424.6,165.6 425.1,165.8 425.6,166.0 426.1,166.2 426.6,166.5 427.1,166.7 427.6,166.9 428.1,167.2 428.6,167.4 429.1,167.7 429.6,167.9 430.1,168.1 430.6,168.2 431.1,168.4 431.6,168.6 432.1,168.7 432.6,168.9 433.1,169.1 433.6,169.2 434.1,169.4 434.6,169.5 435.1,169.6 435.6,169.8 436.1,169.9 436.6,170.0 437.1,170.1 437.6,170.2 438.1,170.3 438.6,170.5 439.1,170.6 439.6,170.7 440.1,170.9 440.6,171.0 441.1,171.2 441.6,171.3 442.1,171.5 442.6,171.6 443.1,171.7 443.6,171.9 444.1,172.0 444.6,172.0 445.1,172.1 445.6,172.1 446.1,172.2 446.6,172.2 447.1,172.2 447.6,172.2 448.1,172.2 448.6,172.1 449.1,172.1 449.6,172.1 450.1,172.1 450.6,172.0 451.1,172.0 451.6,172.0 452.1,171.9 452.6,171.9 453.1,171.9 453.6,171.8 454.1,171.8 454.6,171.7 455.1,171.7 455.6,171.7 456.1,171.6 456.6,171.6 457.1,171.5 457.6,171.5 458.1,171.5 458.6,171.4 459.1,171.4 459.6,171.3 460.1,171.2 460.6,171.1 461.1,171.0 461.6,170.9 462.1,170.8 462.6,170.8 463.1,170.7 463.6,170.6 464.1,170.5 464.6,170.3 465.1,170.2 465.6,170.1 466.1,170.0 466.6,169.8 467.1,169.6 467.6,169.4 468.1,169.2 468.6,168.9 469.1,168.6 469.6,168.3 470.1,167.9 470.6,167.5 471.1,167.1 471.6,166.7 472.1,166.2 472.6,165.6 473.1,164.7 473.6,163.8 474.1,162.8 474.6,161.8 475.1,160.9 475.6,160.2 476.1,159.4 476.6,158.7 477.1,158.4 477.6,158.8 478.1,160.3 478.6,162.4 479.1,164.9 479.6,167.4 480.1,170.1 480.6,173.4 481.1,175.1 481.6,173.9 482.1,171.3 482.6,168.6 483.1,167.3 483.6,166.7 484.1,166.2 484.6,165.8 485.1,165.5 485.6,165.4 486.1,165.3 486.6,165.3 487.1,165.4 487.6,165.4 488.1,165.4 488.6,165.5 489.1,165.5 489.6,165.6 490.1,165.7 490.6,165.7 491.1,165.8 491.6,165.8 492.1,165.9 492.6,166.0 493.1,166.2 493.6,166.3 494.1,166.4 494.6,166.6 495.1,166.8 495.6,166.9 496.1,167.1 496.6,167.3 497.1,167.4 497.6,167.6 498.1,167.8 498.6,168.0 499.1,168.1 499.6,168.3 500.1,168.4 500.6,168.6 501.1,168.8 501.6,169.0 502.1,169.2 502.6,169.4 503.1,169.6 503.6,169.8 504.1,169.9 504.6,170.1 505.1,170.3 505.6,170.4 506.1,170.6 506.6,170.7 507.1,170.8 507.6,170.9 508.1,170.9 508.6,171.0 509.1,171.1 509.6,171.1 510.1,171.2 510.6,171.3 511.1,171.5 511.6,171.6 512.1,171.7 512.6,171.8 513.1,171.9 513.6,171.9 514.1,172.0 514.6,172.0 515.1,172.1 515.6,172.1 516.1,172.1 516.6,172.1 517.1,172.0 517.6,172.0 518.1,172.0 518.6,172.0 519.1,172.0 519.6,172.0 520.1,172.0 520.6,171.9 521.1,171.9 521.6,171.8 522.1,171.7 522.6,171.6 523.1,171.5 523.6,171.4 524.1,171.3 524.6,171.1 525.1,171.0 525.6,170.9 526.1,170.7 526.6,170.6 527.1,170.5 527.6,170.5 528.1,170.4 528.6,170.3 529.1,170.3 529.6,170.3 530.1,170.3 530.6,170.3 531.1,170.2 531.6,170.2 532.1,170.2 532.6,170.2 533.1,170.1 533.6,170.0 534.1,170.0 534.6,169.9 535.1,169.8 535.6,169.7 536.1,169.6 536.6,169.4 537.1,169.2 537.6,168.9 538.1,168.6 538.6,168.3 539.1,168.0 539.6,167.6 540.1,167.2 540.6,166.8 541.1,166.3 541.6,165.6 542.1,164.7 542.6,163.7 543.1,162.7 543.6,161.7 544.1,160.7 544.6,160.0 545.1,159.2 545.6,158.5 546.1,158.2 546.6,158.5 547.1,160.0 547.6,162.1 548.1,164.6 548.6,167.1 549.1,169.8 549.6,173.2 550.1,174.9 550.6,173.7 551.1,171.1 551.6,168.5 552.1,167.3 552.6,166.8 553.1,166.5 553.6,166.2 554.1,166.0 554.6,165.8 555.1,165.8 555.6,165.7 556.1,165.7 556.6,165.6 557.1,165.6 557.6,165.6 558.1,165.5 558.6,165.5 559.1,165.5 559.6,165.4 560.1,165.4 560.6,165.4 561.1,165.4 561.6,165.5 562.1,165.6 562.6,165.7 563.1,165.9 563.6,166.1 564.1,166.3 564.6,166.5 565.1,166.8 565.6,167.0 566.1,167.3 566.6,167.5 567.1,167.8 567.6,168.0 568.1,168.2 568.6,168.3 569.1,168.5 569.6,168.6 570.1,168.8 570.6,168.9 571.1,169.0 571.6,169.2 572.1,169.3 572.6,169.4 573.1,169.5 573.6,169.6 574.1,169.7 574.6,169.8 575.1,169.9 575.6,170.0 576.1,170.1 576.6,170.3 577.1,170.4 577.6,170.5 578.1,170.6 578.6,170.7 579.1,170.8 579.6,170.9 580.1,171.1 580.6,171.2 581.1,171.4 581.6,171.5 582.1,171.7 582.6,171.8 583.1,171.9 583.6,172.0 584.1,172.1 584.6,172.2 585.1,172.3 585.6,172.3 586.1,172.3 586.6,172.3 587.1,172.3 587.6,172.3 588.1,172.3 588.6,172.3 589.1,172.2 589.6,172.2 590.1,172.1 590.6,172.1 591.1,172.0 591.6,172.0 592.1,171.9 592.6,171.8 593.1,171.7 593.6,171.6" fill="none" stroke="#151515" stroke-width="0.78" stroke-linejoin="round" stroke-linecap="round"/>
<polyline points="374.6,192.4 375.1,192.5 375.6,192.6 376.1,192.6 376.6,192.7 377.1,192.7 377.6,192.7 378.1,192.8 378.6,192.8 379.1,192.8 379.6,192.8 380.1,192.8 380.6,192.8 381.1,192.9 381.6,192.9 382.1,193.0 382.6,193.1 383.1,193.2 383.6,193.4 384.1,193.6 384.6,193.8 385.1,193.9 385.6,194.1 386.1,194.2 386.6,194.3 387.1,194.4 387.6,194.4 388.1,194.3 388.6,194.2 389.1,194.1 389.6,194.0 390.1,193.8 390.6,193.6 391.1,193.4 391.6,193.3 392.1,193.1 392.6,192.9 393.1,192.7 393.6,192.6 394.1,192.5 394.6,192.4 395.1,192.3 395.6,192.3 396.1,192.4 396.6,192.5 397.1,192.7 397.6,192.8 398.1,193.0 398.6,193.2 399.1,193.3 399.6,193.4 400.1,193.5 400.6,193.5 401.1,193.3 401.6,193.1 402.1,192.8 402.6,192.5 403.1,192.1 403.6,191.7 404.1,191.3 404.6,190.9 405.1,190.4 405.6,190.0 406.1,189.6 406.6,189.3 407.1,188.9 407.6,188.6 408.1,188.2 408.6,187.8 409.1,187.4 409.6,187.0 410.1,186.5 410.6,186.0 411.1,185.1 411.6,184.0 412.1,183.2 412.6,183.0 413.1,185.4 413.6,189.6 414.1,193.1 414.6,196.6 415.1,199.5 415.6,199.7 416.1,196.7 416.6,192.6 417.1,189.8 417.6,188.1 418.1,187.3 418.6,187.8 419.1,188.8 419.6,189.7 420.1,189.9 420.6,189.8 421.1,189.6 421.6,189.3 422.1,189.0 422.6,188.7 423.1,188.4 423.6,188.1 424.1,187.9 424.6,187.9 425.1,187.9 425.6,187.9 426.1,187.9 426.6,188.0 427.1,188.0 427.6,188.0 428.1,188.1 428.6,188.1 429.1,188.2 429.6,188.3 430.1,188.3 430.6,188.4 431.1,188.5 431.6,188.7 432.1,188.9 432.6,189.0 433.1,189.2 433.6,189.4 434.1,189.6 434.6,189.8 435.1,189.9 435.6,190.1 436.1,190.2 436.6,190.4 437.1,190.5 437.6,190.7 438.1,190.8 438.6,191.0 439.1,191.1 439.6,191.3 440.1,191.5 440.6,191.7 441.1,191.9 441.6,192.0 442.1,192.2 442.6,192.3 443.1,192.4 443.6,192.5 444.1,192.6 444.6,192.7 445.1,192.8 445.6,192.9 446.1,193.0 446.6,193.0 447.1,193.1 447.6,193.2 448.1,193.2 448.6,193.3 449.1,193.3 449.6,193.4 450.1,193.4 450.6,193.5 451.1,193.6 451.6,193.7 452.1,193.8 452.6,193.9 453.1,194.0 453.6,194.1 454.1,194.1 454.6,194.2 455.1,194.2 455.6,194.3 456.1,194.3 456.6,194.2 457.1,194.2 457.6,194.1 458.1,193.9 458.6,193.8 459.1,193.6 459.6,193.4 460.1,193.3 460.6,193.1 461.1,192.9 461.6,192.8 462.1,192.6 462.6,192.5 463.1,192.4 463.6,192.4 464.1,192.4 464.6,192.4 465.1,192.5 465.6,192.6 466.1,192.7 466.6,192.9 467.1,193.0 467.6,193.2 468.1,193.2 468.6,193.3 469.1,193.3 469.6,193.2 470.1,193.1 470.6,192.9 471.1,192.6 471.6,192.3 472.1,192.0 472.6,191.7 473.1,191.3 473.6,191.0 474.1,190.6 474.6,190.3 475.1,190.0 475.6,189.6 476.1,189.3 476.6,188.9 477.1,188.5 477.6,188.1 478.1,187.6 478.6,187.1 479.1,186.6 479.6,186.0 480.1,185.1 480.6,184.1 481.1,183.2 481.6,183.0 482.1,185.5 482.6,189.6 483.1,193.1 483.6,196.6 484.1,199.4 484.6,199.6 485.1,196.5 485.6,192.3 486.1,189.8 486.6,188.5 487.1,188.0 487.6,188.3 488.1,188.8 488.6,189.3 489.1,189.4 489.6,189.3 490.1,189.2 490.6,188.9 491.1,188.7 491.6,188.4 492.1,188.1 492.6,187.9 493.1,187.7 493.6,187.7 494.1,187.7 494.6,187.7 495.1,187.8 495.6,187.8 496.1,187.9 496.6,187.9 497.1,188.0 497.6,188.0 498.1,188.1 498.6,188.2 499.1,188.3 499.6,188.4 500.1,188.5 500.6,188.6 501.1,188.7 501.6,188.9 502.1,189.1 502.6,189.2 503.1,189.4 503.6,189.6 504.1,189.7 504.6,189.9 505.1,190.1 505.6,190.2 506.1,190.3 506.6,190.5 507.1,190.6 507.6,190.8 508.1,190.9 508.6,191.1 509.1,191.3 509.6,191.5 510.1,191.6 510.6,191.8 511.1,192.0 511.6,192.1 512.1,192.2 512.6,192.3 513.1,192.4 513.6,192.4 514.1,192.4 514.6,192.5 515.1,192.5 515.6,192.6 516.1,192.6 516.6,192.7 517.1,192.8 517.6,192.8 518.1,192.9 518.6,192.9 519.1,193.0 519.6,193.0 520.1,193.1 520.6,193.2 521.1,193.4 521.6,193.5 522.1,193.7 522.6,193.9 523.1,194.1 523.6,194.2 524.1,194.3 524.6,194.4 525.1,194.5 525.6,194.5 526.1,194.4 526.6,194.4 527.1,194.3 527.6,194.2 528.1,194.0 528.6,193.9 529.1,193.8 529.6,193.6 530.1,193.5 530.6,193.3 531.1,193.2 531.6,193.1 532.1,193.0 532.6,193.0 533.1,192.9 533.6,192.9 534.1,193.0 534.6,193.2 535.1,193.4 535.6,193.6 536.1,193.8 536.6,194.0 537.1,194.2 537.6,194.3 538.1,194.3 538.6,194.2 539.1,194.0 539.6,193.6 540.1,193.2 540.6,192.8 541.1,192.2 541.6,191.7 542.1,191.2 542.6,190.6 543.1,190.1 543.6,189.6 544.1,189.2 544.6,188.9 545.1,188.6 545.6,188.3 546.1,188.0 546.6,187.7 547.1,187.4 547.6,187.0 548.1,186.6 548.6,186.1 549.1,185.3 549.6,184.3 550.1,183.5 550.6,183.4 551.1,185.8 551.6,190.0 552.1,193.6 552.6,197.1 553.1,199.9 553.6,200.1 554.1,197.0 554.6,192.8 555.1,190.2 555.6,188.7 556.1,188.0 556.6,188.4 557.1,189.3 557.6,190.1 558.1,190.3 558.6,190.2 559.1,189.9 559.6,189.5 560.1,189.1 560.6,188.7 561.1,188.3 561.6,188.0 562.1,187.7 562.6,187.6 563.1,187.6 563.6,187.6 564.1,187.7 564.6,187.7 565.1,187.8 565.6,187.9 566.1,188.0 566.6,188.1 567.1,188.3 567.6,188.4 568.1,188.6 568.6,188.7 569.1,188.8 569.6,188.9 570.1,189.1 570.6,189.2 571.1,189.3 571.6,189.4 572.1,189.6 572.6,189.7 573.1,189.8 573.6,189.9 574.1,190.1 574.6,190.2 575.1,190.4 575.6,190.5 576.1,190.7 576.6,190.8 577.1,191.0 577.6,191.2 578.1,191.4 578.6,191.6 579.1,191.8 579.6,192.0 580.1,192.1 580.6,192.2 581.1,192.4 581.6,192.5 582.1,192.5 582.6,192.6 583.1,192.6 583.6,192.7 584.1,192.7 584.6,192.8 585.1,192.9 585.6,192.9 586.1,193.0 586.6,193.1 587.1,193.2 587.6,193.3 588.1,193.4 588.6,193.5 589.1,193.7 589.6,193.8 590.1,194.0 590.6,194.2 591.1,194.4 591.6,194.5 592.1,194.7 592.6,194.8 593.1,194.9 593.6,195.0" fill="none" stroke="#151515" stroke-width="0.78" stroke-linejoin="round" stroke-linecap="round"/>
<polyline points="374.6,213.1 375.1,213.2 375.6,213.3 376.1,213.5 376.6,213.6 377.1,213.7 377.6,213.9 378.1,214.0 378.6,214.1 379.1,214.2 379.6,214.4 380.1,214.5 380.6,214.6 381.1,214.8 381.6,215.0 382.1,215.2 382.6,215.5 383.1,215.8 383.6,216.1 384.1,216.3 384.6,216.6 385.1,216.8 385.6,217.0 386.1,217.1 386.6,217.1 387.1,217.0 387.6,216.6 388.1,216.1 388.6,215.7 389.1,215.4 389.6,215.2 390.1,215.2 390.6,215.2 391.1,215.2 391.6,215.2 392.1,215.2 392.6,215.2 393.1,215.2 393.6,215.3 394.1,215.3 394.6,215.3 395.1,215.2 395.6,215.2 396.1,215.3 396.6,215.5 397.1,215.8 397.6,216.1 398.1,216.5 398.6,216.8 399.1,217.0 399.6,217.1 400.1,217.1 400.6,217.0 401.1,216.8 401.6,216.5 402.1,216.2 402.6,215.8 403.1,215.4 403.6,214.9 404.1,214.5 404.6,214.0 405.1,213.6 405.6,213.2 406.1,212.9 406.6,212.5 407.1,212.2 407.6,211.8 408.1,211.4 408.6,211.0 409.1,210.6 409.6,210.2 410.1,209.8 410.6,209.5 411.1,209.1 411.6,208.8 412.1,208.4 412.6,208.1 413.1,207.7 413.6,207.3 414.1,206.9 414.6,206.6 415.1,206.4 415.6,206.3 416.1,206.5 416.6,207.9 417.1,209.9 417.6,211.7 418.1,214.1 418.6,216.4 419.1,217.4 419.6,216.4 420.1,213.9 420.6,211.3 421.1,209.8 421.6,208.8 422.1,207.9 422.6,207.3 423.1,206.8 423.6,206.7 424.1,206.6 424.6,206.6 425.1,206.5 425.6,206.5 426.1,206.4 426.6,206.3 427.1,206.3 427.6,206.2 428.1,206.1 428.6,206.0 429.1,205.8 429.6,205.7 430.1,205.5 430.6,205.4 431.1,205.3 431.6,205.2 432.1,205.1 432.6,205.2 433.1,205.3 433.6,205.5 434.1,205.7 434.6,206.0 435.1,206.3 435.6,206.6 436.1,206.9 436.6,207.3 437.1,207.8 437.6,208.4 438.1,209.0 438.6,209.7 439.1,210.3 439.6,210.9 440.1,211.4 440.6,211.8 441.1,212.1 441.6,212.4 442.1,212.6 442.6,212.9 443.1,213.1 443.6,213.4 444.1,213.6 444.6,213.8 445.1,214.0 445.6,214.1 446.1,214.2 446.6,214.3 447.1,214.4 447.6,214.4 448.1,214.4 448.6,214.5 449.1,214.5 449.6,214.5 450.1,214.6 450.6,214.6 451.1,214.8 451.6,215.1 452.1,215.4 452.6,215.9 453.1,216.3 453.6,216.7 454.1,217.1 454.6,217.4 455.1,217.6 455.6,217.7 456.1,217.6 456.6,217.3 457.1,216.9 457.6,216.5 458.1,216.2 458.6,216.0 459.1,215.9 459.6,215.7 460.1,215.6 460.6,215.5 461.1,215.4 461.6,215.4 462.1,215.3 462.6,215.3 463.1,215.3 463.6,215.3 464.1,215.3 464.6,215.3 465.1,215.5 465.6,215.7 466.1,216.0 466.6,216.3 467.1,216.6 467.6,216.9 468.1,217.1 468.6,217.2 469.1,217.2 469.6,217.1 470.1,216.9 470.6,216.6 471.1,216.2 471.6,215.8 472.1,215.3 472.6,214.8 473.1,214.3 473.6,213.8 474.1,213.3 474.6,212.9 475.1,212.5 475.6,212.1 476.1,211.7 476.6,211.3 477.1,210.8 477.6,210.4 478.1,210.0 478.6,209.6 479.1,209.2 479.6,208.9 480.1,208.6 480.6,208.3 481.1,208.0 481.6,207.7 482.1,207.4 482.6,207.1 483.1,206.8 483.6,206.6 484.1,206.4 484.6,206.3 485.1,206.6 485.6,208.0 486.1,210.1 486.6,212.0 487.1,214.4 487.6,216.7 488.1,217.8 488.6,216.7 489.1,214.2 489.6,211.6 490.1,210.0 490.6,209.0 491.1,208.2 491.6,207.5 492.1,207.1 492.6,206.8 493.1,206.7 493.6,206.5 494.1,206.4 494.6,206.3 495.1,206.2 495.6,206.2 496.1,206.1 496.6,206.0 497.1,205.9 497.6,205.8 498.1,205.6 498.6,205.5 499.1,205.3 499.6,205.1 500.1,204.9 500.6,204.8 501.1,204.7 501.6,204.7 502.1,204.8 502.6,204.9 503.1,205.1 503.6,205.3 504.1,205.6 504.6,205.9 505.1,206.2 505.6,206.5 506.1,207.1 506.6,207.7 507.1,208.5 507.6,209.2 508.1,210.0 508.6,210.7 509.1,211.3 509.6,211.7 510.1,212.0 510.6,212.2 511.1,212.4 511.6,212.6 512.1,212.8 512.6,213.0 513.1,213.1 513.6,213.3 514.1,213.5 514.6,213.6 515.1,213.7 515.6,213.8 516.1,214.0 516.6,214.0 517.1,214.1 517.6,214.1 518.1,214.2 518.6,214.2 519.1,214.3 519.6,214.4 520.1,214.6 520.6,215.0 521.1,215.4 521.6,215.8 522.1,216.2 522.6,216.7 523.1,217.0 523.6,217.4 524.1,217.6 524.6,217.6 525.1,217.5 525.6,217.1 526.1,216.6 526.6,216.1 527.1,215.7 527.6,215.5 528.1,215.4 528.6,215.2 529.1,215.1 529.6,215.0 530.1,214.9 530.6,214.8 531.1,214.8 531.6,214.8 532.1,214.8 532.6,214.8 533.1,214.8 533.6,214.9 534.1,215.1 534.6,215.4 535.1,215.8 535.6,216.3 536.1,216.7 536.6,217.2 537.1,217.5 537.6,217.7 538.1,217.8 538.6,217.8 539.1,217.6 539.6,217.3 540.1,216.9 540.6,216.5 541.1,216.0 541.6,215.5 542.1,215.0 542.6,214.4 543.1,213.9 543.6,213.4 544.1,213.0 544.6,212.5 545.1,212.0 545.6,211.5 546.1,211.0 546.6,210.5 547.1,210.0 547.6,209.5 548.1,209.1 548.6,208.6 549.1,208.3 549.6,207.9 550.1,207.6 550.6,207.3 551.1,207.0 551.6,206.7 552.1,206.5 552.6,206.3 553.1,206.2 553.6,206.1 554.1,206.4 554.6,207.9 555.1,210.0 555.6,211.9 556.1,214.3 556.6,216.7 557.1,217.8 557.6,216.7 558.1,214.2 558.6,211.6 559.1,210.1 559.6,209.1 560.1,208.3 560.6,207.7 561.1,207.2 561.6,206.9 562.1,206.7 562.6,206.5 563.1,206.4 563.6,206.2 564.1,206.1 564.6,205.9 565.1,205.8 565.6,205.6 566.1,205.5 566.6,205.4 567.1,205.2 567.6,205.1 568.1,204.9 568.6,204.8 569.1,204.8 569.6,204.7 570.1,204.7 570.6,204.8 571.1,204.9 571.6,205.2 572.1,205.5 572.6,205.8 573.1,206.2 573.6,206.5 574.1,206.9 574.6,207.3 575.1,207.8 575.6,208.4 576.1,209.0 576.6,209.6 577.1,210.2 577.6,210.8 578.1,211.4 578.6,211.8 579.1,212.1 579.6,212.4 580.1,212.7 580.6,213.0 581.1,213.3 581.6,213.5 582.1,213.7 582.6,213.8 583.1,213.9 583.6,214.0 584.1,214.1 584.6,214.1 585.1,214.1 585.6,214.0 586.1,214.0 586.6,214.0 587.1,214.1 587.6,214.1 588.1,214.1 588.6,214.2 589.1,214.3 589.6,214.6 590.1,214.9 590.6,215.3 591.1,215.7 591.6,216.1 592.1,216.4 592.6,216.7 593.1,216.8 593.6,216.9" fill="none" stroke="#151515" stroke-width="0.78" stroke-linejoin="round" stroke-linecap="round"/>
<ellipse cx="395.1" cy="39.5" rx="1.9" ry="1.55" fill="#e0201b"/>
<ellipse cx="464.1" cy="39.5" rx="1.9" ry="1.55" fill="#e0201b"/>
<ellipse cx="533.1" cy="39.5" rx="1.9" ry="1.55" fill="#e0201b"/>
<ellipse cx="397.5" cy="62.5" rx="1.9" ry="1.55" fill="#e0201b"/>
<ellipse cx="466.5" cy="65.1" rx="1.9" ry="1.55" fill="#e0201b"/>
<ellipse cx="535.5" cy="65.1" rx="1.9" ry="1.55" fill="#e0201b"/>
<ellipse cx="400.0" cy="77.3" rx="1.9" ry="1.55" fill="#e0201b"/>
<ellipse cx="469.0" cy="77.3" rx="1.9" ry="1.55" fill="#e0201b"/>
<ellipse cx="538.0" cy="77.3" rx="1.9" ry="1.55" fill="#e0201b"/>
<ellipse cx="403.0" cy="102.2" rx="1.9" ry="1.55" fill="#e0201b"/>
<ellipse cx="472.0" cy="102.2" rx="1.9" ry="1.55" fill="#e0201b"/>
<ellipse cx="541.0" cy="102.2" rx="1.9" ry="1.55" fill="#e0201b"/>
<ellipse cx="407.0" cy="125.5" rx="1.9" ry="1.55" fill="#e0201b"/>
<ellipse cx="476.0" cy="124.0" rx="1.9" ry="1.55" fill="#e0201b"/>
<ellipse cx="545.0" cy="124.0" rx="1.9" ry="1.55" fill="#e0201b"/>
<ellipse cx="408.6" cy="143.6" rx="1.9" ry="1.55" fill="#e0201b"/>
<ellipse cx="477.6" cy="143.6" rx="1.9" ry="1.55" fill="#e0201b"/>
<ellipse cx="546.6" cy="143.6" rx="1.9" ry="1.55" fill="#e0201b"/>
<ellipse cx="410.8" cy="168.3" rx="1.9" ry="1.55" fill="#e0201b"/>
<ellipse cx="479.8" cy="168.3" rx="1.9" ry="1.55" fill="#e0201b"/>
<ellipse cx="548.8" cy="168.3" rx="1.9" ry="1.55" fill="#e0201b"/>
<ellipse cx="414.0" cy="192.6" rx="1.9" ry="1.55" fill="#e0201b"/>
<ellipse cx="483.0" cy="192.6" rx="1.9" ry="1.55" fill="#e0201b"/>
<ellipse cx="552.0" cy="192.6" rx="1.9" ry="1.55" fill="#e0201b"/>
<ellipse cx="417.5" cy="211.6" rx="1.9" ry="1.55" fill="#e0201b"/>
<ellipse cx="486.5" cy="211.6" rx="1.9" ry="1.55" fill="#e0201b"/>
<ellipse cx="555.5" cy="211.6" rx="1.9" ry="1.55" fill="#e0201b"/>
<line x1="478" y1="38.6" x2="502.2" y2="203.5" stroke="#161616" stroke-width="1.25"/>
<polygon points="503.0,208.5 499.1,202.0 502.3,203.5 504.9,201.2" fill="#161616"/>
<polyline points="374.4,485.1 374.9,485.2 375.4,485.3 375.9,485.4 376.4,485.4 376.9,485.5 377.4,485.5 377.9,485.5 378.4,485.5 378.9,485.5 379.4,485.5 379.9,485.5 380.4,485.4 380.9,485.3 381.4,485.3 381.9,485.2 382.4,485.1 382.9,485.0 383.4,484.9 383.9,484.8 384.4,484.8 384.9,484.7 385.4,484.7 385.9,484.6 386.4,484.6 386.9,484.5 387.4,484.5 387.9,484.4 388.4,484.3 388.9,484.2 389.4,484.1 389.9,484.1 390.4,484.0 390.9,483.9 391.4,483.9 391.9,483.9 392.4,483.9 392.9,483.9 393.4,484.0 393.9,484.0 394.4,484.1 394.9,484.1 395.4,484.1 395.9,484.1 396.4,484.0 396.9,483.9 397.4,483.8 397.9,483.8 398.4,483.7 398.9,483.6 399.4,483.5 399.9,483.4 400.4,483.4 400.9,483.3 401.4,483.3 401.9,483.2 402.4,483.0 402.9,482.8 403.4,482.6 403.9,482.4 404.4,482.1 404.9,481.9 405.4,481.6 405.9,481.4 406.4,481.3 406.9,481.2 407.4,481.3 407.9,481.3 408.4,481.4 408.9,481.5 409.4,481.6 409.9,481.7 410.4,481.8 410.9,481.9 411.4,481.9 411.9,482.0 412.4,482.0 412.9,482.1 413.4,482.1 413.9,482.2 414.4,482.2 414.9,482.3 415.4,482.4 415.9,482.6 416.4,482.8 416.9,483.1 417.4,483.3 417.9,483.6 418.4,484.0 418.9,484.3 419.4,484.5 419.9,484.8 420.4,484.9 420.9,485.0 421.4,485.0 421.9,484.9 422.4,484.7 422.9,484.4 423.4,484.1 423.9,483.7 424.4,483.4 424.9,483.2 425.4,483.0 425.9,482.8 426.4,482.7 426.9,482.7 427.4,482.7 427.9,482.7 428.4,482.7 428.9,482.8 429.4,482.8 429.9,482.9 430.4,483.0 430.9,483.1 431.4,483.2 431.9,483.3 432.4,483.4 432.9,483.6 433.4,483.7 433.9,483.8 434.4,483.8 434.9,483.9 435.4,483.9 435.9,483.9 436.4,483.9 436.9,483.8 437.4,483.8 437.9,483.7 438.4,483.7 438.9,483.6 439.4,483.5 439.9,483.4 440.4,483.2 440.9,483.1 441.4,483.0 441.9,482.8 442.4,482.6 442.9,482.4 443.4,482.3 443.9,482.2 444.4,482.1 444.9,482.0 445.4,482.0 445.9,482.0 446.4,482.1 446.9,482.1 447.4,482.1 447.9,482.1 448.4,482.1 448.9,482.0 449.4,481.9 449.9,481.8 450.4,481.7 450.9,481.6 451.4,481.5 451.9,481.4 452.4,481.4 452.9,481.3 453.4,481.3 453.9,481.2 454.4,481.1 454.9,481.0 455.4,480.8 455.9,480.7 456.4,480.5 456.9,480.3 457.4,480.1 457.9,480.0 458.4,479.9 458.9,479.9 459.4,479.8 459.9,479.9 460.4,479.9 460.9,479.9 461.4,479.9 461.9,480.0 462.4,480.0 462.9,480.0 463.4,480.4 463.9,483.6 464.4,487.2 464.9,491.7 465.4,494.0 465.9,491.5 466.4,487.3 466.9,483.8 467.4,480.8 467.9,480.1 468.4,479.7 468.9,479.3 469.4,479.1 469.9,478.9 470.4,478.8 470.9,478.7 471.4,478.6 471.9,478.5 472.4,478.5 472.9,478.4 473.4,478.3 473.9,478.3 474.4,478.3 474.9,478.3 475.4,478.4 475.9,478.4 476.4,478.5 476.9,478.7 477.4,482.5 477.9,488.0 478.4,491.7 478.9,489.9 479.4,486.9 479.9,486.1 480.4,486.2 480.9,486.2 481.4,486.3 481.9,486.4 482.4,486.5 482.9,486.7 483.4,486.9 483.9,487.1 484.4,487.3 484.9,487.5 485.4,487.7 485.9,487.9 486.4,488.0 486.9,488.2 487.4,488.3 487.9,488.5 488.4,488.7 488.9,488.9 489.4,489.1 489.9,489.4 490.4,489.6 490.9,489.9 491.4,490.2 491.9,490.4 492.4,490.6 492.9,490.8 493.4,490.9 493.9,490.9 494.4,490.8 494.9,490.7 495.4,490.5 495.9,490.2 496.4,489.9 496.9,489.5 497.4,489.1 497.9,488.7 498.4,488.2 498.9,487.7 499.4,487.0 499.9,486.3 500.4,485.5 500.9,484.8 501.4,484.2 501.9,483.7 502.4,483.3 502.9,483.0 503.4,482.7 503.9,482.4 504.4,482.1 504.9,481.9 505.4,481.7 505.9,481.6 506.4,481.4 506.9,481.3 507.4,481.3 507.9,481.3 508.4,481.3 508.9,481.4 509.4,481.4 509.9,481.5 510.4,481.5 510.9,481.6 511.4,481.6 511.9,481.6 512.4,481.7 512.9,481.7 513.4,481.6 513.9,481.6 514.4,481.6 514.9,481.6 515.4,481.6 515.9,481.6 516.4,481.7 516.9,481.7 517.4,481.7 517.9,481.8 518.4,481.8 518.9,481.8 519.4,481.8 519.9,481.8 520.4,481.7 520.9,481.7 521.4,481.7 521.9,481.6 522.4,481.6 522.9,481.6 523.4,481.6 523.9,481.6 524.4,481.6 524.9,481.6 525.4,481.7 525.9,481.7 526.4,481.7 526.9,481.7 527.4,481.7 527.9,481.8 528.4,481.8 528.9,481.8 529.4,481.9 529.9,482.0 530.4,482.1 530.9,482.2 531.4,482.3 531.9,482.4 532.4,482.5 532.9,482.6 533.4,482.6 533.9,482.6 534.4,482.7 534.9,482.6 535.4,482.6 535.9,482.5 536.4,482.4 536.9,482.3 537.4,482.2 537.9,482.2 538.4,482.1 538.9,482.1 539.4,482.0 539.9,482.0 540.4,482.0 540.9,482.0 541.4,482.0 541.9,482.0 542.4,482.1 542.9,482.1 543.4,482.2 543.9,482.3 544.4,482.4 544.9,482.5 545.4,482.6 545.9,482.8 546.4,482.9 546.9,483.1 547.4,483.3 547.9,483.5 548.4,483.6 548.9,483.8 549.4,483.9 549.9,484.0 550.4,484.1 550.9,484.2 551.4,484.2 551.9,484.3 552.4,484.3 552.9,484.3 553.4,484.3 553.9,484.1 554.4,483.8 554.9,483.3 555.4,482.9 555.9,482.6 556.4,482.5 556.9,482.4 557.4,482.4 557.9,482.4 558.4,482.4 558.9,482.5 559.4,482.6 559.9,482.7 560.4,482.8 560.9,483.0 561.4,483.0 561.9,483.1 562.4,483.1 562.9,483.0 563.4,482.9 563.9,482.7 564.4,482.6 564.9,482.4 565.4,482.3 565.9,482.1 566.4,482.0 566.9,482.0 567.4,482.0 567.9,482.0 568.4,482.0 568.9,482.1 569.4,482.2 569.9,482.4 570.4,482.5 570.9,482.6 571.4,482.8 571.9,482.9 572.4,483.1 572.9,483.2 573.4,483.3 573.9,483.4 574.4,483.4 574.9,483.4 575.4,483.4 575.9,483.3 576.4,483.2 576.9,483.1 577.4,483.1 577.9,483.0 578.4,483.0 578.9,483.0 579.4,483.1 579.9,483.2 580.4,483.4 580.9,483.5 581.4,483.7 581.9,483.8 582.4,483.9 582.9,484.0 583.4,483.9 583.9,483.9 584.4,483.8 584.9,483.7 585.4,483.6 585.9,483.5 586.4,483.5 586.9,483.5 587.4,483.5 587.9,483.6 588.4,483.6 588.9,483.7 589.4,483.7 589.9,483.7 590.4,483.7 590.9,483.7 591.4,483.6 591.9,483.6 592.4,483.6" fill="none" stroke="#151515" stroke-width="0.78" stroke-linejoin="round" stroke-linecap="round"/>
<polyline points="374.4,505.8 374.9,505.7 375.4,505.5 375.9,505.4 376.4,505.3 376.9,505.2 377.4,505.1 377.9,505.0 378.4,505.0 378.9,504.9 379.4,504.9 379.9,504.8 380.4,504.8 380.9,504.8 381.4,504.8 381.9,504.8 382.4,504.8 382.9,504.8 383.4,504.8 383.9,504.8 384.4,504.8 384.9,504.8 385.4,504.7 385.9,504.6 386.4,504.6 386.9,504.5 387.4,504.4 387.9,504.3 388.4,504.2 388.9,504.1 389.4,504.1 389.9,504.0 390.4,504.0 390.9,504.0 391.4,504.0 391.9,504.0 392.4,504.1 392.9,504.1 393.4,504.2 393.9,504.3 394.4,504.3 394.9,504.4 395.4,504.5 395.9,504.6 396.4,504.7 396.9,504.8 397.4,504.9 397.9,505.1 398.4,505.2 398.9,505.4 399.4,505.5 399.9,505.7 400.4,505.7 400.9,505.8 401.4,505.8 401.9,505.7 402.4,505.6 402.9,505.4 403.4,505.2 403.9,504.9 404.4,504.7 404.9,504.5 405.4,504.3 405.9,504.1 406.4,504.1 406.9,504.1 407.4,504.2 407.9,504.4 408.4,504.5 408.9,504.8 409.4,505.0 409.9,505.2 410.4,505.3 410.9,505.5 411.4,505.6 411.9,505.6 412.4,505.7 412.9,505.6 413.4,505.5 413.9,505.5 414.4,505.4 414.9,505.3 415.4,505.2 415.9,505.1 416.4,504.9 416.9,504.8 417.4,504.6 417.9,504.5 418.4,504.3 418.9,504.2 419.4,504.1 419.9,504.0 420.4,503.9 420.9,503.9 421.4,503.9 421.9,503.9 422.4,504.0 422.9,504.1 423.4,504.2 423.9,504.3 424.4,504.4 424.9,504.5 425.4,504.6 425.9,504.6 426.4,504.6 426.9,504.6 427.4,504.6 427.9,504.5 428.4,504.4 428.9,504.2 429.4,504.0 429.9,503.9 430.4,503.7 430.9,503.7 431.4,503.6 431.9,503.7 432.4,503.8 432.9,504.0 433.4,504.2 433.9,504.4 434.4,504.5 434.9,504.7 435.4,504.8 435.9,504.8 436.4,504.8 436.9,504.8 437.4,504.7 437.9,504.7 438.4,504.6 438.9,504.5 439.4,504.3 439.9,504.2 440.4,504.1 440.9,503.9 441.4,503.8 441.9,503.6 442.4,503.5 442.9,503.4 443.4,503.3 443.9,503.2 444.4,503.2 444.9,503.1 445.4,503.2 445.9,503.2 446.4,503.2 446.9,503.2 447.4,503.3 447.9,503.4 448.4,503.4 448.9,503.4 449.4,503.5 449.9,503.5 450.4,503.5 450.9,503.5 451.4,503.5 451.9,503.5 452.4,503.5 452.9,503.5 453.4,503.4 453.9,503.4 454.4,503.3 454.9,503.4 455.4,503.4 455.9,503.6 456.4,503.7 456.9,503.9 457.4,504.1 457.9,504.2 458.4,504.4 458.9,504.5 459.4,504.5 459.9,504.5 460.4,504.4 460.9,504.3 461.4,504.1 461.9,504.0 462.4,503.8 462.9,503.6 463.4,503.5 463.9,503.3 464.4,503.2 464.9,503.1 465.4,502.9 465.9,502.9 466.4,502.8 466.9,502.7 467.4,502.6 467.9,502.6 468.4,502.6 468.9,502.6 469.4,502.6 469.9,502.6 470.4,502.6 470.9,502.6 471.4,502.5 471.9,502.5 472.4,502.4 472.9,502.2 473.4,501.9 473.9,501.6 474.4,501.2 474.9,500.8 475.4,500.5 475.9,500.1 476.4,499.8 476.9,499.6 477.4,499.5 477.9,501.4 478.4,504.9 478.9,508.4 479.4,512.2 479.9,513.5 480.4,511.5 480.9,509.5 481.4,509.3 481.9,509.1 482.4,509.1 482.9,509.1 483.4,509.1 483.9,509.1 484.4,509.1 484.9,509.1 485.4,509.2 485.9,509.2 486.4,509.3 486.9,509.3 487.4,509.4 487.9,509.6 488.4,509.7 488.9,509.9 489.4,510.0 489.9,510.2 490.4,510.5 490.9,511.0 491.4,511.7 491.9,512.4 492.4,513.1 492.9,513.7 493.4,514.2 493.9,514.8 494.4,515.4 494.9,515.8 495.4,516.0 495.9,515.9 496.4,515.6 496.9,515.2 497.4,514.7 497.9,514.2 498.4,513.6 498.9,513.1 499.4,512.5 499.9,511.9 500.4,511.2 500.9,510.4 501.4,509.7 501.9,508.9 502.4,508.2 502.9,507.6 503.4,507.1 503.9,506.5 504.4,505.9 504.9,505.4 505.4,504.8 505.9,504.3 506.4,503.9 506.9,503.6 507.4,503.4 507.9,503.3 508.4,503.2 508.9,503.2 509.4,503.2 509.9,503.1 510.4,503.1 510.9,503.1 511.4,503.1 511.9,503.1 512.4,503.0 512.9,503.0 513.4,503.0 513.9,502.9 514.4,502.9 514.9,502.9 515.4,502.9 515.9,502.9 516.4,503.0 516.9,503.0 517.4,503.0 517.9,503.0 518.4,503.0 518.9,502.9 519.4,502.9 519.9,503.0 520.4,503.0 520.9,503.0 521.4,503.1 521.9,503.2 522.4,503.2 522.9,503.3 523.4,503.4 523.9,503.5 524.4,503.6 524.9,503.7 525.4,503.7 525.9,503.7 526.4,503.7 526.9,503.7 527.4,503.7 527.9,503.7 528.4,503.7 528.9,503.7 529.4,503.7 529.9,503.7 530.4,503.8 530.9,503.8 531.4,503.8 531.9,503.9 532.4,503.9 532.9,503.9 533.4,504.0 533.9,504.0 534.4,504.1 534.9,504.1 535.4,504.1 535.9,504.1 536.4,504.1 536.9,504.2 537.4,504.2 537.9,504.2 538.4,504.2 538.9,504.3 539.4,504.3 539.9,504.4 540.4,504.4 540.9,504.5 541.4,504.6 541.9,504.7 542.4,504.7 542.9,504.8 543.4,504.9 543.9,504.9 544.4,504.9 544.9,504.9 545.4,504.8 545.9,504.8 546.4,504.7 546.9,504.6 547.4,504.6 547.9,504.5 548.4,504.4 548.9,504.4 549.4,504.4 549.9,504.4 550.4,504.4 550.9,504.4 551.4,504.4 551.9,504.5 552.4,504.6 552.9,504.6 553.4,504.7 553.9,504.8 554.4,504.8 554.9,504.9 555.4,504.9 555.9,504.9 556.4,504.9 556.9,504.9 557.4,504.9 557.9,504.9 558.4,504.9 558.9,504.8 559.4,504.7 559.9,504.7 560.4,504.6 560.9,504.5 561.4,504.4 561.9,504.3 562.4,504.2 562.9,504.2 563.4,504.1 563.9,504.1 564.4,504.1 564.9,504.1 565.4,504.0 565.9,504.0 566.4,504.0 566.9,504.0 567.4,504.1 567.9,504.1 568.4,504.2 568.9,504.2 569.4,504.3 569.9,504.3 570.4,504.3 570.9,504.4 571.4,504.5 571.9,504.5 572.4,504.6 572.9,504.7 573.4,504.9 573.9,505.0 574.4,505.0 574.9,505.1 575.4,505.2 575.9,505.2 576.4,505.2 576.9,505.2 577.4,505.1 577.9,505.1 578.4,505.0 578.9,504.9 579.4,504.7 579.9,504.6 580.4,504.5 580.9,504.4 581.4,504.3 581.9,504.2 582.4,504.2 582.9,504.2 583.4,504.3 583.9,504.3 584.4,504.4 584.9,504.4 585.4,504.4 585.9,504.4 586.4,504.3 586.9,504.2 587.4,504.2 587.9,504.1 588.4,504.1 588.9,504.1 589.4,504.1 589.9,504.1 590.4,504.1 590.9,504.1 591.4,504.2 591.9,504.2 592.4,504.3" fill="none" stroke="#151515" stroke-width="0.78" stroke-linejoin="round" stroke-linecap="round"/>
<polyline points="374.4,525.5 374.9,525.6 375.4,525.7 375.9,525.8 376.4,526.0 376.9,526.1 377.4,526.1 377.9,526.2 378.4,526.2 378.9,526.2 379.4,526.1 379.9,526.1 380.4,526.0 380.9,525.9 381.4,525.9 381.9,525.9 382.4,526.0 382.9,526.1 383.4,526.2 383.9,526.4 384.4,526.7 384.9,526.9 385.4,527.2 385.9,527.4 386.4,527.7 386.9,528.0 387.4,528.2 387.9,528.4 388.4,528.5 388.9,528.5 389.4,528.5 389.9,528.4 390.4,528.3 390.9,528.1 391.4,527.9 391.9,527.6 392.4,527.4 392.9,527.1 393.4,526.9 393.9,526.7 394.4,526.5 394.9,526.4 395.4,526.4 395.9,526.4 396.4,526.4 396.9,526.5 397.4,526.6 397.9,526.7 398.4,526.9 398.9,527.1 399.4,527.3 399.9,527.5 400.4,527.8 400.9,528.0 401.4,528.1 401.9,528.1 402.4,528.0 402.9,527.8 403.4,527.5 403.9,527.2 404.4,526.8 404.9,526.5 405.4,526.2 405.9,525.9 406.4,525.7 406.9,525.6 407.4,525.5 407.9,525.5 408.4,525.6 408.9,525.6 409.4,525.7 409.9,525.7 410.4,525.8 410.9,525.8 411.4,525.9 411.9,526.0 412.4,526.2 412.9,526.4 413.4,526.6 413.9,526.7 414.4,526.8 414.9,526.9 415.4,526.9 415.9,526.8 416.4,526.7 416.9,526.5 417.4,526.4 417.9,526.3 418.4,526.2 418.9,526.1 419.4,526.1 419.9,526.2 420.4,526.3 420.9,526.4 421.4,526.5 421.9,526.6 422.4,526.8 422.9,526.9 423.4,527.1 423.9,527.2 424.4,527.4 424.9,527.5 425.4,527.6 425.9,527.6 426.4,527.5 426.9,527.4 427.4,527.2 427.9,527.0 428.4,526.8 428.9,526.6 429.4,526.4 429.9,526.3 430.4,526.3 430.9,526.3 431.4,526.4 431.9,526.5 432.4,526.7 432.9,526.8 433.4,527.0 433.9,527.1 434.4,527.3 434.9,527.3 435.4,527.4 435.9,527.4 436.4,527.3 436.9,527.2 437.4,527.0 437.9,526.9 438.4,526.7 438.9,526.5 439.4,526.3 439.9,526.2 440.4,526.1 440.9,526.2 441.4,526.3 441.9,526.5 442.4,526.7 442.9,527.1 443.4,527.4 443.9,527.7 444.4,528.0 444.9,528.2 445.4,528.3 445.9,528.3 446.4,528.2 446.9,528.1 447.4,527.9 447.9,527.6 448.4,527.3 448.9,526.9 449.4,526.6 449.9,526.2 450.4,525.9 450.9,525.6 451.4,525.3 451.9,525.0 452.4,524.8 452.9,524.5 453.4,524.3 453.9,524.1 454.4,523.9 454.9,523.8 455.4,523.6 455.9,523.5 456.4,523.5 456.9,523.5 457.4,523.4 457.9,523.4 458.4,523.3 458.9,523.2 459.4,523.0 459.9,522.9 460.4,522.7 460.9,522.5 461.4,522.3 461.9,522.1 462.4,521.9 462.9,521.8 463.4,521.7 463.9,521.6 464.4,521.6 464.9,521.5 465.4,521.5 465.9,521.5 466.4,521.5 466.9,521.6 467.4,521.6 467.9,521.6 468.4,521.6 468.9,521.6 469.4,521.6 469.9,521.6 470.4,521.7 470.9,521.8 471.4,521.8 471.9,521.9 472.4,521.9 472.9,521.9 473.4,521.8 473.9,521.6 474.4,521.4 474.9,521.2 475.4,521.0 475.9,520.9 476.4,520.9 476.9,521.5 477.4,522.5 477.9,523.6 478.4,524.7 478.9,526.0 479.4,527.0 479.9,527.3 480.4,527.3 480.9,527.3 481.4,527.2 481.9,527.2 482.4,527.1 482.9,527.1 483.4,527.0 483.9,527.0 484.4,527.0 484.9,527.0 485.4,527.1 485.9,527.1 486.4,527.2 486.9,527.1 487.4,526.4 487.9,525.4 488.4,525.2 488.9,528.0 489.4,531.7 489.9,536.1 490.4,537.9 490.9,538.5 491.4,538.9 491.9,539.2 492.4,539.4 492.9,539.7 493.4,539.8 493.9,540.0 494.4,540.1 494.9,540.1 495.4,540.0 495.9,539.7 496.4,539.3 496.9,538.7 497.4,538.1 497.9,537.5 498.4,536.9 498.9,536.1 499.4,535.1 499.9,534.1 500.4,533.1 500.9,532.1 501.4,531.1 501.9,530.3 502.4,529.6 502.9,529.0 503.4,528.3 503.9,527.7 504.4,527.1 504.9,526.6 505.4,526.0 505.9,525.5 506.4,524.9 506.9,524.5 507.4,524.1 507.9,523.7 508.4,523.4 508.9,523.2 509.4,523.0 509.9,522.9 510.4,522.8 510.9,522.7 511.4,522.6 511.9,522.5 512.4,522.4 512.9,522.2 513.4,522.1 513.9,521.9 514.4,521.8 514.9,521.6 515.4,521.6 515.9,521.5 516.4,521.5 516.9,521.5 517.4,521.5 517.9,521.6 518.4,521.6 518.9,521.6 519.4,521.6 519.9,521.6 520.4,521.6 520.9,521.7 521.4,521.8 521.9,522.0 522.4,522.1 522.9,522.3 523.4,522.4 523.9,522.6 524.4,522.7 524.9,522.8 525.4,522.9 525.9,523.0 526.4,523.1 526.9,523.1 527.4,523.2 527.9,523.3 528.4,523.3 528.9,523.4 529.4,523.5 529.9,523.6 530.4,523.7 530.9,523.8 531.4,523.9 531.9,524.1 532.4,524.2 532.9,524.4 533.4,524.6 533.9,524.7 534.4,524.9 534.9,525.1 535.4,525.3 535.9,525.5 536.4,525.6 536.9,525.8 537.4,525.9 537.9,525.9 538.4,525.9 538.9,525.9 539.4,525.9 539.9,525.9 540.4,525.9 540.9,525.9 541.4,525.9 541.9,526.0 542.4,526.1 542.9,526.3 543.4,526.5 543.9,526.6 544.4,526.8 544.9,527.0 545.4,527.2 545.9,527.4 546.4,527.5 546.9,527.6 547.4,527.8 547.9,527.8 548.4,527.9 548.9,528.0 549.4,528.0 549.9,528.0 550.4,528.0 550.9,528.1 551.4,528.1 551.9,528.1 552.4,528.0 552.9,527.9 553.4,527.8 553.9,527.7 554.4,527.6 554.9,527.5 555.4,527.4 555.9,527.4 556.4,527.4 556.9,527.4 557.4,527.5 557.9,527.6 558.4,527.6 558.9,527.7 559.4,527.7 559.9,527.7 560.4,527.7 560.9,527.7 561.4,527.6 561.9,527.6 562.4,527.5 562.9,527.4 563.4,527.3 563.9,527.3 564.4,527.2 564.9,527.1 565.4,527.0 565.9,527.0 566.4,526.9 566.9,526.9 567.4,526.9 567.9,526.9 568.4,526.9 568.9,527.0 569.4,527.0 569.9,527.0 570.4,527.1 570.9,527.1 571.4,527.2 571.9,527.2 572.4,527.2 572.9,527.2 573.4,527.2 573.9,527.2 574.4,527.1 574.9,527.0 575.4,526.9 575.9,526.8 576.4,526.7 576.9,526.6 577.4,526.5 577.9,526.5 578.4,526.5 578.9,526.6 579.4,526.6 579.9,526.6 580.4,526.6 580.9,526.6 581.4,526.6 581.9,526.5 582.4,526.4 582.9,526.3 583.4,526.2 583.9,526.0 584.4,525.9 584.9,525.8 585.4,525.7 585.9,525.7 586.4,525.6 586.9,525.6 587.4,525.6 587.9,525.6 588.4,525.6 588.9,525.6 589.4,525.5 589.9,525.5 590.4,525.5 590.9,525.5 591.4,525.5 591.9,525.5 592.4,525.5" fill="none" stroke="#151515" stroke-width="0.78" stroke-linejoin="round" stroke-linecap="round"/>
<polyline points="374.4,546.5 374.9,546.2 375.4,546.0 375.9,545.7 376.4,545.5 376.9,545.3 377.4,545.2 377.9,545.1 378.4,545.1 378.9,545.2 379.4,545.3 379.9,545.4 380.4,545.6 380.9,545.8 381.4,546.0 381.9,546.1 382.4,546.3 382.9,546.3 383.4,546.3 383.9,546.3 384.4,546.2 384.9,546.1 385.4,546.0 385.9,546.0 386.4,545.9 386.9,545.9 387.4,545.9 387.9,545.9 388.4,546.0 388.9,546.0 389.4,546.1 389.9,546.2 390.4,546.4 390.9,546.7 391.4,547.2 391.9,547.8 392.4,548.5 392.9,549.2 393.4,549.9 393.9,550.5 394.4,551.1 394.9,551.6 395.4,552.0 395.9,552.1 396.4,552.0 396.9,551.8 397.4,551.5 397.9,551.1 398.4,550.6 398.9,550.0 399.4,549.5 399.9,548.9 400.4,548.4 400.9,548.0 401.4,547.6 401.9,547.4 402.4,547.2 402.9,547.2 403.4,547.4 403.9,547.6 404.4,548.0 404.9,548.5 405.4,549.0 405.9,549.5 406.4,549.9 406.9,550.3 407.4,550.6 407.9,550.8 408.4,550.8 408.9,550.7 409.4,550.5 409.9,550.3 410.4,550.1 410.9,549.9 411.4,549.7 411.9,549.6 412.4,549.4 412.9,549.2 413.4,549.0 413.9,548.9 414.4,548.7 414.9,548.5 415.4,548.3 415.9,548.2 416.4,548.1 416.9,548.0 417.4,547.9 417.9,547.9 418.4,547.9 418.9,547.9 419.4,547.9 419.9,547.9 420.4,548.0 420.9,548.0 421.4,548.0 421.9,547.9 422.4,547.8 422.9,547.7 423.4,547.6 423.9,547.4 424.4,547.3 424.9,547.2 425.4,547.1 425.9,547.1 426.4,547.1 426.9,547.2 427.4,547.3 427.9,547.4 428.4,547.7 428.9,548.1 429.4,548.5 429.9,548.9 430.4,549.3 430.9,549.8 431.4,550.2 431.9,550.6 432.4,551.0 432.9,551.3 433.4,551.6 433.9,551.8 434.4,551.9 434.9,551.9 435.4,551.9 435.9,551.8 436.4,551.7 436.9,551.6 437.4,551.4 437.9,551.2 438.4,551.0 438.9,550.8 439.4,550.5 439.9,550.3 440.4,550.1 440.9,549.9 441.4,549.8 441.9,549.6 442.4,549.5 442.9,549.4 443.4,549.3 443.9,549.2 444.4,549.0 444.9,548.9 445.4,548.7 445.9,548.6 446.4,548.5 446.9,548.4 447.4,548.3 447.9,548.2 448.4,548.2 448.9,548.2 449.4,548.2 449.9,548.2 450.4,548.2 450.9,548.3 451.4,548.3 451.9,548.3 452.4,548.4 452.9,548.4 453.4,548.5 453.9,548.5 454.4,548.5 454.9,548.5 455.4,548.6 455.9,548.6 456.4,548.6 456.9,548.6 457.4,548.5 457.9,548.5 458.4,548.5 458.9,548.5 459.4,548.4 459.9,548.3 460.4,548.1 460.9,548.0 461.4,547.9 461.9,547.7 462.4,547.5 462.9,547.4 463.4,547.1 463.9,546.9 464.4,546.6 464.9,546.3 465.4,546.0 465.9,545.7 466.4,545.5 466.9,545.4 467.4,545.4 467.9,545.3 468.4,545.3 468.9,545.3 469.4,545.4 469.9,545.4 470.4,545.4 470.9,545.5 471.4,545.6 471.9,545.7 472.4,545.7 472.9,545.8 473.4,545.8 473.9,545.8 474.4,545.8 474.9,545.8 475.4,545.9 475.9,545.9 476.4,545.9 476.9,546.0 477.4,546.0 477.9,546.1 478.4,546.1 478.9,546.2 479.4,546.3 479.9,546.4 480.4,546.5 480.9,546.6 481.4,546.7 481.9,546.9 482.4,547.0 482.9,547.2 483.4,547.3 483.9,547.4 484.4,547.5 484.9,547.6 485.4,547.7 485.9,547.7 486.4,547.8 486.9,547.6 487.4,546.5 487.9,545.5 488.4,549.1 488.9,556.9 489.4,559.9 489.9,558.0 490.4,555.9 490.9,554.5 491.4,553.4 491.9,552.7 492.4,552.3 492.9,552.0 493.4,551.8 493.9,551.5 494.4,551.3 494.9,551.1 495.4,550.9 495.9,550.7 496.4,550.5 496.9,550.2 497.4,550.0 497.9,549.7 498.4,549.4 498.9,549.2 499.4,548.9 499.9,548.6 500.4,548.4 500.9,548.1 501.4,547.9 501.9,547.8 502.4,547.6 502.9,547.6 503.4,547.5 503.9,547.4 504.4,547.4 504.9,547.3 505.4,547.3 505.9,547.3 506.4,547.3 506.9,547.3 507.4,547.3 507.9,547.3 508.4,547.4 508.9,547.4 509.4,547.3 509.9,547.3 510.4,547.2 510.9,547.2 511.4,547.1 511.9,547.1 512.4,547.0 512.9,547.0 513.4,547.0 513.9,547.0 514.4,547.1 514.9,547.1 515.4,547.1 515.9,547.1 516.4,547.1 516.9,547.1 517.4,547.0 517.9,547.0 518.4,547.0 518.9,547.0 519.4,547.0 519.9,547.0 520.4,547.0 520.9,547.0 521.4,547.0 521.9,547.1 522.4,547.1 522.9,547.1 523.4,547.1 523.9,547.2 524.4,547.2 524.9,547.2 525.4,547.3 525.9,547.4 526.4,547.4 526.9,547.5 527.4,547.6 527.9,547.7 528.4,547.8 528.9,548.0 529.4,548.1 529.9,548.2 530.4,548.3 530.9,548.4 531.4,548.4 531.9,548.5 532.4,548.5 532.9,548.5 533.4,548.5 533.9,548.5 534.4,548.5 534.9,548.4 535.4,548.4 535.9,548.4 536.4,548.4 536.9,548.4 537.4,548.4 537.9,548.4 538.4,548.4 538.9,548.5 539.4,548.5 539.9,548.6 540.4,548.6 540.9,548.6 541.4,548.7 541.9,548.6 542.4,548.6 542.9,548.6 543.4,548.5 543.9,548.5 544.4,548.5 544.9,548.5 545.4,548.5 545.9,548.4 546.4,548.4 546.9,548.4 547.4,548.4 547.9,548.5 548.4,548.5 548.9,548.5 549.4,548.5 549.9,548.5 550.4,548.5 550.9,548.5 551.4,548.5 551.9,548.5 552.4,548.4 552.9,548.4 553.4,548.3 553.9,548.3 554.4,548.2 554.9,548.2 555.4,548.2 555.9,548.2 556.4,548.3 556.9,548.3 557.4,548.3 557.9,548.4 558.4,548.4 558.9,548.5 559.4,548.5 559.9,548.5 560.4,548.6 560.9,548.6 561.4,548.6 561.9,548.6 562.4,548.5 562.9,548.5 563.4,548.5 563.9,548.5 564.4,548.5 564.9,548.5 565.4,548.5 565.9,548.5 566.4,548.5 566.9,548.5 567.4,548.5 567.9,548.5 568.4,548.4 568.9,548.4 569.4,548.4 569.9,548.4 570.4,548.4 570.9,548.4 571.4,548.4 571.9,548.5 572.4,548.5 572.9,548.6 573.4,548.7 573.9,548.7 574.4,548.8 574.9,548.8 575.4,548.8 575.9,548.8 576.4,548.8 576.9,548.8 577.4,548.8 577.9,548.8 578.4,548.8 578.9,548.8 579.4,548.8 579.9,548.8 580.4,548.8 580.9,548.8 581.4,548.8 581.9,548.9 582.4,549.0 582.9,549.1 583.4,549.2 583.9,549.3 584.4,549.3 584.9,549.4 585.4,549.4 585.9,549.4 586.4,549.4 586.9,549.4 587.4,549.4 587.9,549.4 588.4,549.5 588.9,549.5 589.4,549.5 589.9,549.5 590.4,549.4 590.9,549.4 591.4,549.3 591.9,549.2 592.4,549.2" fill="none" stroke="#151515" stroke-width="0.78" stroke-linejoin="round" stroke-linecap="round"/>
<polyline points="374.4,566.3 374.9,566.3 375.4,566.4 375.9,566.5 376.4,566.7 376.9,566.9 377.4,567.1 377.9,567.3 378.4,567.6 378.9,567.8 379.4,568.1 379.9,568.3 380.4,568.5 380.9,568.7 381.4,568.9 381.9,569.0 382.4,569.1 382.9,569.2 383.4,569.3 383.9,569.3 384.4,569.3 384.9,569.3 385.4,569.2 385.9,569.1 386.4,569.0 386.9,568.8 387.4,568.6 387.9,568.4 388.4,568.2 388.9,568.0 389.4,567.8 389.9,567.7 390.4,567.7 390.9,567.8 391.4,568.1 391.9,568.6 392.4,569.2 392.9,569.9 393.4,570.7 393.9,571.4 394.4,572.1 394.9,572.8 395.4,573.3 395.9,573.7 396.4,573.8 396.9,573.9 397.4,573.7 397.9,573.5 398.4,573.2 398.9,572.8 399.4,572.4 399.9,571.9 400.4,571.4 400.9,570.8 401.4,570.4 401.9,569.9 402.4,569.6 402.9,569.5 403.4,569.5 403.9,569.7 404.4,570.1 404.9,570.6 405.4,571.2 405.9,571.8 406.4,572.4 406.9,572.9 407.4,573.4 407.9,573.7 408.4,573.9 408.9,573.9 409.4,573.8 409.9,573.6 410.4,573.3 410.9,572.9 411.4,572.5 411.9,572.0 412.4,571.6 412.9,571.1 413.4,570.6 413.9,570.2 414.4,569.8 414.9,569.5 415.4,569.3 415.9,569.2 416.4,569.2 416.9,569.1 417.4,569.1 417.9,569.2 418.4,569.2 418.9,569.3 419.4,569.3 419.9,569.4 420.4,569.4 420.9,569.4 421.4,569.5 421.9,569.5 422.4,569.4 422.9,569.4 423.4,569.3 423.9,569.3 424.4,569.2 424.9,569.2 425.4,569.2 425.9,569.2 426.4,569.2 426.9,569.3 427.4,569.4 427.9,569.5 428.4,569.7 428.9,570.0 429.4,570.3 429.9,570.7 430.4,571.1 430.9,571.5 431.4,572.0 431.9,572.4 432.4,572.8 432.9,573.1 433.4,573.5 433.9,573.7 434.4,573.9 434.9,573.9 435.4,573.9 435.9,573.9 436.4,573.8 436.9,573.8 437.4,573.7 437.9,573.6 438.4,573.5 438.9,573.4 439.4,573.3 439.9,573.2 440.4,573.1 440.9,573.0 441.4,572.9 441.9,572.8 442.4,572.8 442.9,572.7 443.4,572.6 443.9,572.4 444.4,572.3 444.9,572.1 445.4,571.9 445.9,571.7 446.4,571.5 446.9,571.3 447.4,571.1 447.9,570.9 448.4,570.7 448.9,570.4 449.4,570.2 449.9,570.1 450.4,569.9 450.9,569.8 451.4,569.7 451.9,569.6 452.4,569.6 452.9,569.7 453.4,569.7 453.9,569.8 454.4,569.9 454.9,570.0 455.4,570.1 455.9,570.1 456.4,570.1 456.9,570.1 457.4,570.0 457.9,570.0 458.4,569.9 458.9,569.8 459.4,569.7 459.9,569.6 460.4,569.5 460.9,569.4 461.4,569.3 461.9,569.1 462.4,568.8 462.9,568.5 463.4,568.2 463.9,567.8 464.4,567.5 464.9,567.2 465.4,566.9 465.9,566.6 466.4,566.4 466.9,566.2 467.4,566.1 467.9,565.9 468.4,565.8 468.9,565.6 469.4,565.5 469.9,565.3 470.4,565.2 470.9,565.2 471.4,565.1 471.9,565.1 472.4,565.2 472.9,565.2 473.4,565.3 473.9,565.4 474.4,565.5 474.9,565.6 475.4,565.8 475.9,565.9 476.4,566.1 476.9,566.2 477.4,566.4 477.9,566.5 478.4,566.7 478.9,566.7 479.4,566.8 479.9,566.8 480.4,566.9 480.9,566.8 481.4,566.8 481.9,566.8 482.4,566.8 482.9,566.8 483.4,566.8 483.9,566.9 484.4,567.0 484.9,567.2 485.4,567.3 485.9,567.5 486.4,567.8 486.9,568.1 487.4,568.7 487.9,569.5 488.4,571.4 488.9,577.1 489.4,580.9 489.9,582.3 490.4,579.8 490.9,577.6 491.4,576.4 491.9,575.5 492.4,575.3 492.9,575.4 493.4,575.7 493.9,576.0 494.4,576.4 494.9,576.8 495.4,577.4 495.9,577.9 496.4,578.0 496.9,577.9 497.4,577.6 497.9,577.2 498.4,576.7 498.9,576.2 499.4,575.7 499.9,575.2 500.4,574.8 500.9,574.3 501.4,573.9 501.9,573.4 502.4,572.9 502.9,572.4 503.4,571.9 503.9,571.4 504.4,570.8 504.9,570.3 505.4,569.8 505.9,569.2 506.4,568.7 506.9,568.2 507.4,567.8 507.9,567.5 508.4,567.2 508.9,567.1 509.4,567.1 509.9,567.1 510.4,567.1 510.9,567.1 511.4,567.1 511.9,567.1 512.4,567.1 512.9,567.1 513.4,567.1 513.9,567.1 514.4,567.2 514.9,567.3 515.4,567.4 515.9,567.5 516.4,567.6 516.9,567.7 517.4,567.7 517.9,567.8 518.4,567.7 518.9,567.7 519.4,567.6 519.9,567.5 520.4,567.3 520.9,567.2 521.4,567.1 521.9,567.0 522.4,567.0 522.9,566.9 523.4,566.9 523.9,566.9 524.4,566.9 524.9,566.9 525.4,567.0 525.9,567.0 526.4,567.0 526.9,567.0 527.4,567.1 527.9,567.1 528.4,567.2 528.9,567.3 529.4,567.3 529.9,567.4 530.4,567.4 530.9,567.4 531.4,567.4 531.9,567.4 532.4,567.4 532.9,567.5 533.4,567.5 533.9,567.5 534.4,567.6 534.9,567.6 535.4,567.7 535.9,567.8 536.4,567.9 536.9,568.0 537.4,568.1 537.9,568.2 538.4,568.3 538.9,568.3 539.4,568.3 539.9,568.3 540.4,568.2 540.9,568.1 541.4,568.0 541.9,567.9 542.4,567.8 542.9,567.8 543.4,567.9 543.9,567.9 544.4,568.0 544.9,568.1 545.4,568.3 545.9,568.3 546.4,568.4 546.9,568.5 547.4,568.6 547.9,568.6 548.4,568.6 548.9,568.6 549.4,568.6 549.9,568.6 550.4,568.6 550.9,568.6 551.4,568.5 551.9,568.5 552.4,568.5 552.9,568.5 553.4,568.5 553.9,568.5 554.4,568.5 554.9,568.5 555.4,568.5 555.9,568.4 556.4,568.3 556.9,568.2 557.4,568.1 557.9,568.0 558.4,567.9 558.9,567.8 559.4,567.8 559.9,567.8 560.4,567.8 560.9,567.8 561.4,567.9 561.9,567.9 562.4,568.0 562.9,568.0 563.4,568.1 563.9,568.3 564.4,568.4 564.9,568.6 565.4,568.7 565.9,568.9 566.4,569.0 566.9,569.1 567.4,569.1 567.9,569.1 568.4,569.1 568.9,569.1 569.4,569.0 569.9,569.0 570.4,569.0 570.9,569.0 571.4,569.0 571.9,569.0 572.4,569.0 572.9,569.0 573.4,569.0 573.9,569.0 574.4,569.1 574.9,569.1 575.4,569.1 575.9,569.2 576.4,569.2 576.9,569.3 577.4,569.3 577.9,569.3 578.4,569.3 578.9,569.6 579.4,569.9 579.9,570.0 580.4,569.8 580.9,569.4 581.4,569.0 581.9,568.9 582.4,568.9 582.9,569.0 583.4,569.1 583.9,569.2 584.4,569.3 584.9,569.3 585.4,569.4 585.9,569.4 586.4,569.4 586.9,569.4 587.4,569.4 587.9,569.4 588.4,569.4 588.9,569.4 589.4,569.4 589.9,569.4 590.4,569.4 590.9,569.4 591.4,569.3 591.9,569.3 592.4,569.3" fill="none" stroke="#151515" stroke-width="0.78" stroke-linejoin="round" stroke-linecap="round"/>
<polyline points="374.4,591.3 374.9,591.3 375.4,591.3 375.9,591.3 376.4,591.3 376.9,591.3 377.4,591.3 377.9,591.3 378.4,591.3 378.9,591.3 379.4,591.2 379.9,591.2 380.4,591.1 380.9,591.1 381.4,591.0 381.9,590.9 382.4,590.9 382.9,590.8 383.4,590.8 383.9,590.7 384.4,590.7 384.9,590.7 385.4,590.7 385.9,590.7 386.4,590.7 386.9,590.7 387.4,590.7 387.9,590.7 388.4,590.7 388.9,590.7 389.4,590.6 389.9,590.6 390.4,590.6 390.9,590.5 391.4,590.5 391.9,590.5 392.4,590.5 392.9,590.5 393.4,590.4 393.9,590.4 394.4,590.4 394.9,590.3 395.4,590.3 395.9,590.3 396.4,590.3 396.9,590.4 397.4,590.4 397.9,590.5 398.4,590.6 398.9,590.7 399.4,590.8 399.9,590.8 400.4,590.9 400.9,590.9 401.4,590.9 401.9,590.9 402.4,590.9 402.9,590.9 403.4,590.9 403.9,590.9 404.4,591.0 404.9,591.0 405.4,591.0 405.9,591.0 406.4,591.0 406.9,591.0 407.4,591.0 407.9,590.9 408.4,590.9 408.9,590.9 409.4,590.8 409.9,590.8 410.4,590.8 410.9,590.8 411.4,590.8 411.9,590.8 412.4,590.8 412.9,590.8 413.4,590.8 413.9,590.8 414.4,590.9 414.9,590.9 415.4,590.9 415.9,590.9 416.4,591.0 416.9,591.0 417.4,591.1 417.9,591.2 418.4,591.3 418.9,591.3 419.4,591.4 419.9,591.4 420.4,591.5 420.9,591.5 421.4,591.5 421.9,591.5 422.4,591.5 422.9,591.5 423.4,591.5 423.9,591.6 424.4,591.6 424.9,591.6 425.4,591.6 425.9,591.6 426.4,591.6 426.9,591.6 427.4,591.6 427.9,591.6 428.4,591.6 428.9,591.5 429.4,591.5 429.9,591.4 430.4,591.4 430.9,591.3 431.4,591.3 431.9,591.2 432.4,591.2 432.9,591.1 433.4,591.1 433.9,591.1 434.4,591.2 434.9,591.2 435.4,591.3 435.9,591.4 436.4,591.4 436.9,591.5 437.4,591.6 437.9,591.6 438.4,591.7 438.9,591.7 439.4,591.8 439.9,591.8 440.4,591.9 440.9,592.0 441.4,592.1 441.9,592.1 442.4,592.2 442.9,592.2 443.4,592.2 443.9,592.1 444.4,592.1 444.9,592.0 445.4,591.9 445.9,591.8 446.4,591.7 446.9,591.5 447.4,591.4 447.9,591.3 448.4,591.2 448.9,591.1 449.4,591.0 449.9,590.9 450.4,590.8 450.9,590.8 451.4,590.7 451.9,590.7 452.4,590.6 452.9,590.6 453.4,590.6 453.9,590.6 454.4,590.6 454.9,590.6 455.4,590.7 455.9,590.8 456.4,590.8 456.9,590.9 457.4,591.0 457.9,591.0 458.4,591.0 458.9,591.0 459.4,591.0 459.9,590.9 460.4,590.8 460.9,590.7 461.4,590.6 461.9,590.5 462.4,590.4 462.9,590.3 463.4,590.2 463.9,590.1 464.4,590.0 464.9,590.0 465.4,590.0 465.9,590.0 466.4,590.1 466.9,590.1 467.4,590.1 467.9,590.1 468.4,590.1 468.9,590.1 469.4,590.1 469.9,590.0 470.4,590.0 470.9,589.9 471.4,589.9 471.9,589.8 472.4,589.8 472.9,589.7 473.4,589.7 473.9,589.7 474.4,589.6 474.9,589.6 475.4,589.6 475.9,589.6 476.4,589.6 476.9,589.5 477.4,589.5 477.9,589.4 478.4,589.3 478.9,589.3 479.4,589.3 479.9,589.3 480.4,589.3 480.9,589.3 481.4,589.4 481.9,589.5 482.4,589.5 482.9,589.7 483.4,590.5 483.9,591.9 484.4,594.2 484.9,597.7 485.4,600.7 485.9,602.0 486.4,599.7 486.9,597.5 487.4,595.9 487.9,594.7 488.4,594.1 488.9,594.0 489.4,594.1 489.9,594.1 490.4,594.2 490.9,594.4 491.4,594.7 491.9,594.9 492.4,595.0 492.9,595.0 493.4,594.9 493.9,594.7 494.4,594.5 494.9,594.3 495.4,594.1 495.9,593.8 496.4,593.6 496.9,593.4 497.4,593.2 497.9,593.0 498.4,592.7 498.9,592.5 499.4,592.3 499.9,592.1 500.4,591.9 500.9,591.7 501.4,591.5 501.9,591.3 502.4,591.1 502.9,591.0 503.4,590.8 503.9,590.7 504.4,590.6 504.9,590.5 505.4,590.4 505.9,590.3 506.4,590.3 506.9,590.2 507.4,590.2 507.9,590.1 508.4,590.1 508.9,590.1 509.4,590.0 509.9,590.0 510.4,590.0 510.9,590.1 511.4,590.1 511.9,590.1 512.4,590.1 512.9,590.1 513.4,590.0 513.9,590.0 514.4,589.9 514.9,589.9 515.4,589.8 515.9,589.7 516.4,589.7 516.9,589.6 517.4,589.5 517.9,589.4 518.4,589.3 518.9,589.3 519.4,589.5 519.9,590.0 520.4,590.4 520.9,590.7 521.4,591.1 521.9,591.4 522.4,591.6 522.9,591.7 523.4,591.7 523.9,591.7 524.4,591.7 524.9,591.7 525.4,591.7 525.9,591.7 526.4,591.7 526.9,591.7 527.4,591.7 527.9,591.7 528.4,591.7 528.9,591.8 529.4,591.9 529.9,592.0 530.4,592.1 530.9,592.2 531.4,592.2 531.9,592.3 532.4,592.3 532.9,592.3 533.4,592.2 533.9,592.1 534.4,592.0 534.9,591.9 535.4,591.9 535.9,591.8 536.4,591.8 536.9,591.8 537.4,591.8 537.9,591.8 538.4,591.8 538.9,591.9 539.4,591.9 539.9,591.9 540.4,591.8 540.9,591.8 541.4,591.8 541.9,591.7 542.4,591.6 542.9,591.6 543.4,591.5 543.9,591.5 544.4,591.4 544.9,591.4 545.4,591.4 545.9,591.4 546.4,591.4 546.9,591.4 547.4,591.4 547.9,591.4 548.4,591.5 548.9,591.4 549.4,591.4 549.9,591.4 550.4,591.3 550.9,591.3 551.4,591.2 551.9,591.1 552.4,591.1 552.9,591.0 553.4,590.9 553.9,590.9 554.4,590.8 554.9,590.7 555.4,590.7 555.9,590.7 556.4,590.6 556.9,590.6 557.4,590.6 557.9,590.7 558.4,590.7 558.9,590.7 559.4,590.8 559.9,590.8 560.4,590.8 560.9,590.8 561.4,590.8 561.9,590.8 562.4,590.8 562.9,590.8 563.4,590.9 563.9,590.9 564.4,590.9 564.9,590.9 565.4,590.9 565.9,591.0 566.4,591.0 566.9,591.0 567.4,591.0 567.9,591.0 568.4,591.0 568.9,591.1 569.4,591.1 569.9,591.1 570.4,591.1 570.9,591.1 571.4,591.1 571.9,591.1 572.4,591.1 572.9,591.0 573.4,591.0 573.9,591.0 574.4,591.0 574.9,591.0 575.4,591.0 575.9,591.0 576.4,591.0 576.9,591.0 577.4,590.9 577.9,590.9 578.4,590.9 578.9,590.8 579.4,590.7 579.9,590.7 580.4,590.7 580.9,590.6 581.4,590.6 581.9,590.6 582.4,590.6 582.9,590.6 583.4,590.7 583.9,590.7 584.4,590.7 584.9,590.8 585.4,590.8 585.9,590.8 586.4,590.8 586.9,590.8 587.4,590.9 587.9,590.9 588.4,591.0 588.9,591.0 589.4,591.1 589.9,591.2 590.4,591.2 590.9,591.2 591.4,591.3 591.9,591.3 592.4,591.3" fill="none" stroke="#151515" stroke-width="0.78" stroke-linejoin="round" stroke-linecap="round"/>
<polyline points="374.4,613.8 374.9,613.4 375.4,613.1 375.9,612.7 376.4,612.5 376.9,612.3 377.4,612.3 377.9,612.2 378.4,612.2 378.9,612.2 379.4,612.2 379.9,612.2 380.4,612.2 380.9,612.2 381.4,612.2 381.9,612.3 382.4,612.3 382.9,612.4 383.4,612.5 383.9,612.5 384.4,612.6 384.9,612.6 385.4,612.7 385.9,612.6 386.4,612.6 386.9,612.6 387.4,612.5 387.9,612.4 388.4,612.3 388.9,612.2 389.4,612.1 389.9,612.0 390.4,611.9 390.9,611.8 391.4,611.8 391.9,611.8 392.4,611.8 392.9,611.8 393.4,611.8 393.9,611.9 394.4,611.9 394.9,612.0 395.4,612.0 395.9,612.0 396.4,612.1 396.9,612.1 397.4,612.1 397.9,612.1 398.4,612.1 398.9,612.1 399.4,612.2 399.9,612.2 400.4,612.3 400.9,612.3 401.4,612.4 401.9,612.5 402.4,612.5 402.9,612.6 403.4,612.6 403.9,612.6 404.4,612.6 404.9,612.6 405.4,612.6 405.9,612.6 406.4,612.6 406.9,612.6 407.4,612.6 407.9,612.5 408.4,612.5 408.9,612.5 409.4,612.5 409.9,612.6 410.4,612.6 410.9,612.7 411.4,612.7 411.9,612.8 412.4,612.9 412.9,612.9 413.4,612.9 413.9,612.9 414.4,612.9 414.9,612.9 415.4,612.9 415.9,612.9 416.4,613.0 416.9,613.0 417.4,613.1 417.9,613.2 418.4,613.3 418.9,613.4 419.4,613.5 419.9,613.6 420.4,613.6 420.9,613.6 421.4,613.6 421.9,613.5 422.4,613.5 422.9,613.4 423.4,613.4 423.9,613.3 424.4,613.4 424.9,613.4 425.4,613.5 425.9,613.6 426.4,613.7 426.9,613.9 427.4,614.0 427.9,614.1 428.4,614.2 428.9,614.4 429.4,614.6 429.9,614.7 430.4,614.9 430.9,615.0 431.4,615.1 431.9,615.1 432.4,615.0 432.9,615.0 433.4,614.8 433.9,614.7 434.4,614.6 434.9,614.4 435.4,614.3 435.9,614.1 436.4,614.0 436.9,613.8 437.4,613.7 437.9,613.6 438.4,613.4 438.9,613.3 439.4,613.3 439.9,613.3 440.4,613.3 440.9,613.3 441.4,613.3 441.9,613.3 442.4,613.3 442.9,613.3 443.4,613.3 443.9,613.3 444.4,613.2 444.9,613.2 445.4,613.2 445.9,613.2 446.4,613.2 446.9,613.2 447.4,613.3 447.9,613.3 448.4,613.3 448.9,613.3 449.4,613.3 449.9,613.3 450.4,613.4 450.9,613.4 451.4,613.4 451.9,613.4 452.4,613.3 452.9,613.3 453.4,613.3 453.9,613.3 454.4,613.3 454.9,613.3 455.4,613.3 455.9,613.4 456.4,613.4 456.9,613.4 457.4,613.4 457.9,613.3 458.4,613.2 458.9,613.1 459.4,612.9 459.9,612.8 460.4,612.7 460.9,612.6 461.4,612.5 461.9,612.4 462.4,612.4 462.9,612.4 463.4,612.4 463.9,612.5 464.4,612.5 464.9,612.6 465.4,612.7 465.9,612.7 466.4,612.8 466.9,612.8 467.4,612.8 467.9,612.9 468.4,612.9 468.9,612.9 469.4,612.9 469.9,612.9 470.4,613.0 470.9,613.0 471.4,613.0 471.9,613.0 472.4,613.0 472.9,612.9 473.4,612.9 473.9,612.9 474.4,613.0 474.9,613.0 475.4,613.1 475.9,613.1 476.4,613.2 476.9,613.3 477.4,613.3 477.9,613.3 478.4,613.2 478.9,613.1 479.4,613.0 479.9,612.9 480.4,612.7 480.9,612.6 481.4,612.5 481.9,612.7 482.4,614.1 482.9,615.7 483.4,617.8 483.9,618.7 484.4,618.1 484.9,617.1 485.4,616.2 485.9,615.9 486.4,615.6 486.9,615.4 487.4,615.2 487.9,615.2 488.4,615.3 488.9,615.4 489.4,615.5 489.9,615.5 490.4,615.5 490.9,615.4 491.4,615.3 491.9,615.1 492.4,615.0 492.9,614.9 493.4,614.7 493.9,614.6 494.4,614.5 494.9,614.3 495.4,614.2 495.9,614.0 496.4,613.8 496.9,613.7 497.4,613.6 497.9,613.5 498.4,613.4 498.9,613.3 499.4,613.2 499.9,613.1 500.4,612.9 500.9,612.8 501.4,612.7 501.9,612.6 502.4,612.5 502.9,612.5 503.4,612.4 503.9,612.3 504.4,612.2 504.9,612.1 505.4,611.9 505.9,611.8 506.4,612.0 506.9,615.3 507.4,613.2 507.9,612.3 508.4,612.0 508.9,611.7 509.4,611.5 509.9,611.3 510.4,611.2 510.9,611.1 511.4,611.0 511.9,610.8 512.4,610.7 512.9,610.5 513.4,610.4 513.9,610.2 514.4,610.1 514.9,610.0 515.4,610.0 515.9,609.9 516.4,609.8 516.9,609.8 517.4,609.7 517.9,609.7 518.4,609.7 518.9,609.9 519.4,611.2 519.9,612.8 520.4,614.3 520.9,615.9 521.4,616.5 521.9,616.7 522.4,616.8 522.9,617.0 523.4,617.1 523.9,617.1 524.4,617.2 524.9,617.2 525.4,617.2 525.9,617.1 526.4,617.1 526.9,617.0 527.4,617.0 527.9,616.9 528.4,616.9 528.9,616.8 529.4,616.7 529.9,616.6 530.4,616.5 530.9,616.4 531.4,616.3 531.9,616.1 532.4,616.0 532.9,615.8 533.4,615.7 533.9,615.6 534.4,615.4 534.9,615.4 535.4,615.3 535.9,615.3 536.4,615.3 536.9,615.3 537.4,615.3 537.9,615.4 538.4,615.4 538.9,615.4 539.4,615.4 539.9,615.4 540.4,615.3 540.9,615.3 541.4,615.2 541.9,615.1 542.4,615.0 542.9,614.9 543.4,614.7 543.9,614.6 544.4,614.4 544.9,614.2 545.4,614.0 545.9,613.8 546.4,613.6 546.9,613.5 547.4,613.3 547.9,613.2 548.4,613.0 548.9,612.9 549.4,612.8 549.9,612.7 550.4,612.6 550.9,612.5 551.4,612.5 551.9,612.4 552.4,612.4 552.9,612.4 553.4,612.4 553.9,612.4 554.4,612.5 554.9,612.5 555.4,612.5 555.9,612.5 556.4,612.5 556.9,612.4 557.4,612.3 557.9,612.3 558.4,612.2 558.9,612.0 559.4,611.9 559.9,611.8 560.4,611.7 560.9,611.6 561.4,611.5 561.9,611.4 562.4,611.4 562.9,611.3 563.4,611.2 563.9,611.1 564.4,610.9 564.9,610.8 565.4,610.7 565.9,610.5 566.4,610.4 566.9,610.3 567.4,610.2 567.9,610.2 568.4,610.2 568.9,610.2 569.4,610.2 569.9,610.2 570.4,610.3 570.9,610.3 571.4,610.3 571.9,610.4 572.4,610.5 572.9,610.6 573.4,610.7 573.9,610.9 574.4,611.0 574.9,611.2 575.4,611.3 575.9,611.4 576.4,611.5 576.9,611.6 577.4,611.7 577.9,611.8 578.4,611.8 578.9,611.9 579.4,611.9 579.9,612.0 580.4,612.0 580.9,612.0 581.4,612.0 581.9,612.0 582.4,612.1 582.9,612.1 583.4,612.2 583.9,612.2 584.4,612.3 584.9,612.3 585.4,612.4 585.9,612.5 586.4,612.5 586.9,612.5 587.4,612.6 587.9,612.6 588.4,612.7 588.9,612.7 589.4,612.8 589.9,612.8 590.4,612.9 590.9,613.0 591.4,613.1 591.9,613.2 592.4,613.3" fill="none" stroke="#151515" stroke-width="0.78" stroke-linejoin="round" stroke-linecap="round"/>
<polyline points="374.4,634.6 374.9,634.6 375.4,634.6 375.9,634.6 376.4,634.7 376.9,634.7 377.4,634.7 377.9,634.7 378.4,634.8 378.9,634.8 379.4,634.8 379.9,634.9 380.4,634.9 380.9,634.8 381.4,634.8 381.9,634.8 382.4,634.8 382.9,634.8 383.4,634.7 383.9,634.7 384.4,634.7 384.9,634.8 385.4,634.8 385.9,634.8 386.4,634.9 386.9,634.9 387.4,635.0 387.9,635.0 388.4,635.0 388.9,635.0 389.4,635.0 389.9,635.0 390.4,634.9 390.9,634.9 391.4,634.9 391.9,634.9 392.4,634.9 392.9,634.9 393.4,634.9 393.9,634.9 394.4,634.9 394.9,634.9 395.4,634.9 395.9,634.9 396.4,634.9 396.9,634.9 397.4,634.9 397.9,634.9 398.4,634.9 398.9,635.0 399.4,635.0 399.9,635.0 400.4,635.1 400.9,635.1 401.4,635.2 401.9,635.2 402.4,635.2 402.9,635.2 403.4,635.3 403.9,635.3 404.4,635.3 404.9,635.3 405.4,635.3 405.9,635.4 406.4,635.4 406.9,635.4 407.4,635.3 407.9,635.3 408.4,635.3 408.9,635.3 409.4,635.3 409.9,635.3 410.4,635.2 410.9,635.2 411.4,635.2 411.9,635.1 412.4,635.1 412.9,635.0 413.4,635.0 413.9,634.9 414.4,634.9 414.9,634.9 415.4,634.8 415.9,634.8 416.4,634.8 416.9,634.8 417.4,634.8 417.9,634.8 418.4,634.8 418.9,634.8 419.4,634.8 419.9,634.8 420.4,634.8 420.9,634.7 421.4,634.7 421.9,634.7 422.4,634.7 422.9,634.7 423.4,634.8 423.9,634.8 424.4,634.8 424.9,634.8 425.4,634.8 425.9,634.8 426.4,634.9 426.9,634.9 427.4,634.9 427.9,634.9 428.4,634.8 428.9,634.8 429.4,634.8 429.9,634.8 430.4,634.8 430.9,634.7 431.4,634.7 431.9,634.7 432.4,634.6 432.9,634.6 433.4,634.6 433.9,634.6 434.4,634.6 434.9,634.6 435.4,634.6 435.9,634.6 436.4,634.6 436.9,634.6 437.4,634.6 437.9,634.7 438.4,634.7 438.9,634.6 439.4,634.6 439.9,634.6 440.4,634.6 440.9,634.6 441.4,634.6 441.9,634.6 442.4,634.6 442.9,634.6 443.4,634.6 443.9,634.6 444.4,634.6 444.9,634.6 445.4,634.6 445.9,634.6 446.4,634.5 446.9,634.5 447.4,634.5 447.9,634.5 448.4,634.5 448.9,634.6 449.4,634.6 449.9,634.6 450.4,634.6 450.9,634.6 451.4,634.5 451.9,634.5 452.4,634.5 452.9,634.5 453.4,634.5 453.9,634.5 454.4,634.6 454.9,634.6 455.4,634.6 455.9,634.6 456.4,634.6 456.9,634.6 457.4,634.6 457.9,634.6 458.4,634.5 458.9,634.5 459.4,634.5 459.9,634.4 460.4,634.4 460.9,634.4 461.4,634.4 461.9,634.4 462.4,634.4 462.9,634.5 463.4,634.5 463.9,634.5 464.4,634.6 464.9,634.6 465.4,634.6 465.9,634.6 466.4,634.6 466.9,634.5 467.4,634.5 467.9,634.5 468.4,634.4 468.9,634.4 469.4,634.3 469.9,634.3 470.4,634.3 470.9,634.3 471.4,634.3 471.9,634.3 472.4,634.3 472.9,634.3 473.4,634.3 473.9,634.2 474.4,634.2 474.9,634.1 475.4,633.6 475.9,632.8 476.4,632.0 476.9,630.9 477.4,629.7 477.9,630.0 478.4,634.3 478.9,638.8 479.4,643.1 479.9,646.4 480.4,646.9 480.9,643.8 481.4,641.3 481.9,639.5 482.4,638.1 482.9,637.4 483.4,637.0 483.9,636.7 484.4,636.4 484.9,636.3 485.4,636.1 485.9,635.9 486.4,635.8 486.9,635.6 487.4,635.4 487.9,635.2 488.4,635.1 488.9,634.9 489.4,634.7 489.9,634.5 490.4,634.4 490.9,634.2 491.4,634.0 491.9,633.9 492.4,633.8 492.9,633.7 493.4,633.6 493.9,633.5 494.4,633.4 494.9,633.4 495.4,633.4 495.9,633.4 496.4,633.4 496.9,633.4 497.4,633.4 497.9,633.4 498.4,633.4 498.9,633.5 499.4,633.5 499.9,633.5 500.4,633.5 500.9,633.5 501.4,633.5 501.9,633.5 502.4,633.4 502.9,633.4 503.4,633.4 503.9,633.4 504.4,633.4 504.9,633.4 505.4,633.4 505.9,633.4 506.4,633.4 506.9,633.4 507.4,633.5 507.9,633.5 508.4,633.5 508.9,633.6 509.4,633.6 509.9,633.6 510.4,633.6 510.9,633.7 511.4,633.7 511.9,633.7 512.4,633.8 512.9,633.8 513.4,633.8 513.9,633.9 514.4,633.9 514.9,633.9 515.4,633.9 515.9,634.0 516.4,634.0 516.9,634.0 517.4,634.0 517.9,634.0 518.4,634.0 518.9,634.0 519.4,634.0 519.9,634.0 520.4,634.0 520.9,634.0 521.4,634.1 521.9,634.1 522.4,634.1 522.9,634.1 523.4,634.2 523.9,634.2 524.4,634.2 524.9,634.2 525.4,634.3 525.9,634.3 526.4,634.4 526.9,634.4 527.4,634.5 527.9,634.5 528.4,634.5 528.9,634.6 529.4,634.6 529.9,634.6 530.4,634.6 530.9,634.6 531.4,634.6 531.9,634.5 532.4,634.5 532.9,634.5 533.4,634.5 533.9,634.4 534.4,634.4 534.9,634.4 535.4,634.4 535.9,634.4 536.4,634.5 536.9,634.5 537.4,634.5 537.9,634.6 538.4,634.6 538.9,634.7 539.4,634.7 539.9,634.7 540.4,634.7 540.9,634.7 541.4,634.8 541.9,634.8 542.4,634.8 542.9,634.8 543.4,634.8 543.9,634.8 544.4,634.8 544.9,634.8 545.4,634.9 545.9,634.9 546.4,634.9 546.9,634.9 547.4,634.9 547.9,634.9 548.4,634.9 548.9,634.9 549.4,634.8 549.9,634.8 550.4,634.8 550.9,634.8 551.4,634.8 551.9,634.8 552.4,634.8 552.9,634.8 553.4,634.8 553.9,634.8 554.4,634.8 554.9,634.8 555.4,634.7 555.9,634.7 556.4,634.7 556.9,634.7 557.4,634.7 557.9,634.7 558.4,634.7 558.9,634.8 559.4,634.8 559.9,634.8 560.4,634.8 560.9,634.8 561.4,634.9 561.9,634.9 562.4,634.9 562.9,634.9 563.4,634.9 563.9,634.8 564.4,634.8 564.9,634.8 565.4,634.8 565.9,634.8 566.4,634.8 566.9,634.8 567.4,634.9 567.9,634.9 568.4,635.0 568.9,635.0 569.4,635.0 569.9,635.1 570.4,635.1 570.9,635.1 571.4,635.0 571.9,635.0 572.4,635.0 572.9,634.9 573.4,634.9 573.9,634.9 574.4,634.9 574.9,634.9 575.4,635.0 575.9,635.0 576.4,635.0 576.9,635.0 577.4,635.1 577.9,635.1 578.4,635.1 578.9,635.2 579.4,635.2 579.9,635.2 580.4,635.3 580.9,635.3 581.4,635.3 581.9,635.3 582.4,635.3 582.9,635.3 583.4,635.3 583.9,635.3 584.4,635.3 584.9,635.2 585.4,635.2 585.9,635.2 586.4,635.1 586.9,635.1 587.4,635.1 587.9,635.1 588.4,635.1 588.9,635.1 589.4,635.2 589.9,635.2 590.4,635.2 590.9,635.3 591.4,635.3 591.9,635.4 592.4,635.4" fill="none" stroke="#151515" stroke-width="0.78" stroke-linejoin="round" stroke-linecap="round"/>
<polyline points="374.4,656.3 374.9,656.3 375.4,656.3 375.9,656.3 376.4,656.3 376.9,656.3 377.4,656.3 377.9,656.3 378.4,656.3 378.9,656.3 379.4,656.3 379.9,656.3 380.4,656.4 380.9,656.4 381.4,656.4 381.9,656.4 382.4,656.4 382.9,656.4 383.4,656.4 383.9,656.4 384.4,656.4 384.9,656.4 385.4,656.4 385.9,656.4 386.4,656.4 386.9,656.4 387.4,656.4 387.9,656.3 388.4,656.3 388.9,656.3 389.4,656.3 389.9,656.3 390.4,656.3 390.9,656.3 391.4,656.3 391.9,656.3 392.4,656.4 392.9,656.4 393.4,656.4 393.9,656.4 394.4,656.4 394.9,656.4 395.4,656.4 395.9,656.4 396.4,656.4 396.9,656.4 397.4,656.3 397.9,656.3 398.4,656.3 398.9,656.3 399.4,656.3 399.9,656.3 400.4,656.3 400.9,656.2 401.4,656.2 401.9,656.3 402.4,656.3 402.9,656.3 403.4,656.3 403.9,656.4 404.4,656.4 404.9,656.5 405.4,656.5 405.9,656.5 406.4,656.6 406.9,656.6 407.4,656.6 407.9,656.6 408.4,656.6 408.9,656.6 409.4,656.6 409.9,656.5 410.4,656.5 410.9,656.5 411.4,656.4 411.9,656.4 412.4,656.4 412.9,656.3 413.4,656.3 413.9,656.3 414.4,656.3 414.9,656.2 415.4,656.2 415.9,656.2 416.4,656.2 416.9,656.2 417.4,656.2 417.9,656.2 418.4,656.2 418.9,656.3 419.4,656.3 419.9,656.3 420.4,656.3 420.9,656.2 421.4,656.2 421.9,656.2 422.4,656.2 422.9,656.2 423.4,656.2 423.9,656.2 424.4,656.3 424.9,656.3 425.4,656.3 425.9,656.3 426.4,656.4 426.9,656.4 427.4,656.4 427.9,656.4 428.4,656.3 428.9,656.3 429.4,656.3 429.9,656.3 430.4,656.3 430.9,656.2 431.4,656.2 431.9,656.3 432.4,656.3 432.9,656.3 433.4,656.3 433.9,656.3 434.4,656.4 434.9,656.4 435.4,656.4 435.9,656.4 436.4,656.4 436.9,656.4 437.4,656.4 437.9,656.3 438.4,656.3 438.9,656.3 439.4,656.3 439.9,656.3 440.4,656.3 440.9,656.2 441.4,656.2 441.9,656.2 442.4,656.2 442.9,656.1 443.4,656.1 443.9,656.1 444.4,656.1 444.9,656.1 445.4,656.1 445.9,656.2 446.4,656.2 446.9,656.2 447.4,656.2 447.9,656.3 448.4,656.3 448.9,656.3 449.4,656.4 449.9,656.4 450.4,656.4 450.9,656.4 451.4,656.4 451.9,656.4 452.4,656.3 452.9,656.3 453.4,656.3 453.9,656.3 454.4,656.2 454.9,656.2 455.4,656.2 455.9,656.2 456.4,656.2 456.9,656.2 457.4,656.2 457.9,656.2 458.4,656.2 458.9,656.2 459.4,656.1 459.9,656.1 460.4,656.1 460.9,656.1 461.4,656.1 461.9,656.1 462.4,656.1 462.9,656.1 463.4,656.0 463.9,656.0 464.4,656.0 464.9,656.0 465.4,656.0 465.9,656.0 466.4,656.0 466.9,656.0 467.4,656.1 467.9,656.1 468.4,656.1 468.9,656.1 469.4,656.1 469.9,656.1 470.4,656.1 470.9,656.0 471.4,656.0 471.9,656.0 472.4,656.0 472.9,656.0 473.4,655.9 473.9,655.9 474.4,655.9 474.9,655.9 475.4,655.7 475.9,655.1 476.4,654.3 476.9,653.3 477.4,652.1 477.9,652.4 478.4,656.3 478.9,660.6 479.4,665.1 479.9,669.6 480.4,669.4 480.9,665.8 481.4,663.3 481.9,661.5 482.4,660.1 482.9,659.2 483.4,658.7 483.9,658.3 484.4,658.0 484.9,657.7 485.4,657.5 485.9,657.3 486.4,657.0 486.9,656.8 487.4,656.6 487.9,656.4 488.4,656.3 488.9,656.1 489.4,655.9 489.9,655.8 490.4,655.7 490.9,655.6 491.4,655.5 491.9,655.4 492.4,655.3 492.9,655.2 493.4,655.2 493.9,655.1 494.4,655.1 494.9,655.1 495.4,655.1 495.9,655.1 496.4,655.1 496.9,655.1 497.4,655.1 497.9,655.1 498.4,655.1 498.9,655.1 499.4,655.1 499.9,655.1 500.4,655.1 500.9,655.1 501.4,655.1 501.9,655.1 502.4,655.1 502.9,655.0 503.4,655.0 503.9,655.0 504.4,655.0 504.9,655.0 505.4,655.0 505.9,655.1 506.4,655.1 506.9,655.1 507.4,655.2 507.9,655.2 508.4,655.2 508.9,655.3 509.4,655.3 509.9,655.3 510.4,655.3 510.9,655.3 511.4,655.3 511.9,655.3 512.4,655.2 512.9,655.2 513.4,655.2 513.9,655.2 514.4,655.2 514.9,655.2 515.4,655.2 515.9,655.2 516.4,655.2 516.9,655.2 517.4,655.2 517.9,655.2 518.4,655.2 518.9,655.2 519.4,655.2 519.9,655.2 520.4,655.3 520.9,655.3 521.4,655.3 521.9,655.4 522.4,655.4 522.9,655.5 523.4,655.5 523.9,655.5 524.4,655.5 524.9,655.6 525.4,655.6 525.9,655.6 526.4,655.6 526.9,655.6 527.4,655.6 527.9,655.6 528.4,655.6 528.9,655.6 529.4,655.6 529.9,655.6 530.4,655.6 530.9,655.6 531.4,655.6 531.9,655.7 532.4,655.7 532.9,655.7 533.4,655.7 533.9,655.8 534.4,655.8 534.9,655.8 535.4,655.8 535.9,655.8 536.4,655.8 536.9,655.8 537.4,655.8 537.9,655.8 538.4,655.8 538.9,655.8 539.4,655.8 539.9,655.8 540.4,655.8 540.9,655.8 541.4,655.8 541.9,655.8 542.4,655.8 542.9,655.8 543.4,655.8 543.9,655.8 544.4,655.8 544.9,655.8 545.4,655.8 545.9,655.8 546.4,655.8 546.9,655.7 547.4,655.7 547.9,655.7 548.4,655.7 548.9,655.7 549.4,655.7 549.9,655.8 550.4,655.8 550.9,655.8 551.4,655.8 551.9,655.8 552.4,655.8 552.9,655.8 553.4,655.8 553.9,655.8 554.4,655.8 554.9,655.8 555.4,655.8 555.9,655.8 556.4,655.8 556.9,655.8 557.4,655.9 557.9,655.9 558.4,655.9 558.9,655.9 559.4,656.0 559.9,656.0 560.4,656.0 560.9,656.0 561.4,655.9 561.9,655.9 562.4,655.9 562.9,655.9 563.4,655.9 563.9,655.9 564.4,656.0 564.9,656.0 565.4,656.0 565.9,656.0 566.4,656.0 566.9,656.1 567.4,656.1 567.9,656.1 568.4,656.1 568.9,656.1 569.4,656.1 569.9,656.1 570.4,656.1 570.9,656.1 571.4,656.1 571.9,656.0 572.4,656.0 572.9,656.0 573.4,656.0 573.9,656.0 574.4,656.0 574.9,656.0 575.4,656.0 575.9,656.0 576.4,656.0 576.9,656.0 577.4,656.0 577.9,656.0 578.4,656.0 578.9,656.0 579.4,656.0 579.9,656.0 580.4,656.0 580.9,656.0 581.4,656.0 581.9,656.0 582.4,656.0 582.9,656.1 583.4,656.1 583.9,656.1 584.4,656.1 584.9,656.1 585.4,656.1 585.9,656.1 586.4,656.1 586.9,656.1 587.4,656.1 587.9,656.1 588.4,656.1 588.9,656.0 589.4,656.0 589.9,656.0 590.4,656.0 590.9,656.0 591.4,656.0 591.9,656.1 592.4,656.1" fill="none" stroke="#151515" stroke-width="0.78" stroke-linejoin="round" stroke-linecap="round"/>
<ellipse cx="477.5" cy="482.6" rx="0.95" ry="1.6" fill="#e0201b"/>
<ellipse cx="478.8" cy="505.2" rx="0.95" ry="1.6" fill="#e0201b"/>
<ellipse cx="489.7" cy="533.5" rx="0.95" ry="1.6" fill="#e0201b"/>
<ellipse cx="488.9" cy="553.5" rx="0.95" ry="1.6" fill="#e0201b"/>
<ellipse cx="488.9" cy="577.0" rx="0.95" ry="1.6" fill="#e0201b"/>
<ellipse cx="485.4" cy="598.4" rx="0.95" ry="1.6" fill="#e0201b"/>
<ellipse cx="478.9" cy="640.0" rx="0.95" ry="1.6" fill="#e0201b"/>
<ellipse cx="478.7" cy="661.2" rx="0.95" ry="1.6" fill="#e0201b"/>
<line x1="458.9" y1="478.1" x2="470.6" y2="534.5" stroke="#161616" stroke-width="1.35"/>
<polygon points="471.7,540.0 467.2,533.6 470.7,534.9 473.3,532.3" fill="#161616"/>
<line x1="463.9" y1="656" x2="471.3" y2="558" stroke="#161616" stroke-width="1.35"/>
<polygon points="471.8,552.2 474.3,559.6 471.4,557.4 468.2,559.1" fill="#161616"/>
<line x1="467.4" y1="544.8" x2="476.2" y2="544.8" stroke="#222" stroke-width=".75"/>
<line x1="467.4" y1="547.3" x2="476.2" y2="547.3" stroke="#222" stroke-width=".75"/>
<rect x="65.40" y="885.2" width="8.29" height="10.4" fill="#c8202a"/>
<rect x="73.39" y="885.2" width="8.29" height="10.4" fill="#dd2a2c"/>
<rect x="81.38" y="885.2" width="8.29" height="10.4" fill="#e5432a"/>
<rect x="89.37" y="885.2" width="8.29" height="10.4" fill="#ee6c28"/>
<rect x="97.36" y="885.2" width="8.29" height="10.4" fill="#f59423"/>
<rect x="105.35" y="885.2" width="8.29" height="10.4" fill="#fcc811"/>
<rect x="113.34" y="885.2" width="8.29" height="10.4" fill="#efe233"/>
<rect x="121.33" y="885.2" width="8.29" height="10.4" fill="#cbdb2e"/>
<rect x="129.32" y="885.2" width="8.29" height="10.4" fill="#a6d152"/>
<rect x="137.31" y="885.2" width="8.29" height="10.4" fill="#84ca7d"/>
<rect x="145.29" y="885.2" width="8.29" height="10.4" fill="#78c8a8"/>
<rect x="153.28" y="885.2" width="8.29" height="10.4" fill="#6ecbdc"/>
<rect x="161.27" y="885.2" width="8.29" height="10.4" fill="#5dbbe2"/>
<rect x="169.26" y="885.2" width="8.29" height="10.4" fill="#4590cc"/>
<rect x="177.25" y="885.2" width="8.29" height="10.4" fill="#4470ba"/>
<rect x="185.24" y="885.2" width="8.29" height="10.4" fill="#4261b2"/>
<rect x="193.23" y="885.2" width="8.29" height="10.4" fill="#4158ad"/>
<rect x="201.22" y="885.2" width="8.29" height="10.4" fill="#3f4fa8"/>
<rect x="209.21" y="885.2" width="8.29" height="10.4" fill="#3a3f9a"/>
<line x1="73.39" y1="885.2" x2="73.39" y2="895.6" stroke="#000" stroke-opacity=".12" stroke-width=".5"/>
<line x1="81.38" y1="885.2" x2="81.38" y2="895.6" stroke="#000" stroke-opacity=".12" stroke-width=".5"/>
<line x1="89.37" y1="885.2" x2="89.37" y2="895.6" stroke="#000" stroke-opacity=".12" stroke-width=".5"/>
<line x1="97.36" y1="885.2" x2="97.36" y2="895.6" stroke="#000" stroke-opacity=".12" stroke-width=".5"/>
<line x1="105.35" y1="885.2" x2="105.35" y2="895.6" stroke="#000" stroke-opacity=".12" stroke-width=".5"/>
<line x1="113.34" y1="885.2" x2="113.34" y2="895.6" stroke="#000" stroke-opacity=".12" stroke-width=".5"/>
<line x1="121.33" y1="885.2" x2="121.33" y2="895.6" stroke="#000" stroke-opacity=".12" stroke-width=".5"/>
<line x1="129.32" y1="885.2" x2="129.32" y2="895.6" stroke="#000" stroke-opacity=".12" stroke-width=".5"/>
<line x1="137.31" y1="885.2" x2="137.31" y2="895.6" stroke="#000" stroke-opacity=".12" stroke-width=".5"/>
<line x1="145.29" y1="885.2" x2="145.29" y2="895.6" stroke="#000" stroke-opacity=".12" stroke-width=".5"/>
<line x1="153.28" y1="885.2" x2="153.28" y2="895.6" stroke="#000" stroke-opacity=".12" stroke-width=".5"/>
<line x1="161.27" y1="885.2" x2="161.27" y2="895.6" stroke="#000" stroke-opacity=".12" stroke-width=".5"/>
<line x1="169.26" y1="885.2" x2="169.26" y2="895.6" stroke="#000" stroke-opacity=".12" stroke-width=".5"/>
<line x1="177.25" y1="885.2" x2="177.25" y2="895.6" stroke="#000" stroke-opacity=".12" stroke-width=".5"/>
<line x1="185.24" y1="885.2" x2="185.24" y2="895.6" stroke="#000" stroke-opacity=".12" stroke-width=".5"/>
<line x1="193.23" y1="885.2" x2="193.23" y2="895.6" stroke="#000" stroke-opacity=".12" stroke-width=".5"/>
<line x1="201.22" y1="885.2" x2="201.22" y2="895.6" stroke="#000" stroke-opacity=".12" stroke-width=".5"/>
<line x1="209.21" y1="885.2" x2="209.21" y2="895.6" stroke="#000" stroke-opacity=".12" stroke-width=".5"/>
<defs><linearGradient id="gv" x1="0" x2="1" y1="0" y2="0"><stop offset="0" stop-color="#6dcbdc"/><stop offset="0.2" stop-color="#6cc0e0"/><stop offset="0.4" stop-color="#6f9fd4"/><stop offset="0.5" stop-color="#7a87c8"/><stop offset="0.6" stop-color="#8474bd"/><stop offset="0.74" stop-color="#8c5fb1"/><stop offset="0.82" stop-color="#9b56a9"/><stop offset="0.9" stop-color="#ab51a6"/><stop offset="1" stop-color="#c44fa6"/></linearGradient><linearGradient id="ga" x1="0" x2="1" y1="0" y2="0"><stop offset="0" stop-color="#c257b5"/><stop offset="0.2" stop-color="#d851a8"/><stop offset="0.35" stop-color="#ea52a0"/><stop offset="0.5" stop-color="#f4788a"/><stop offset="0.6" stop-color="#f79a6a"/><stop offset="0.7" stop-color="#f8b54a"/><stop offset="0.8" stop-color="#f9cf2a"/><stop offset="0.9" stop-color="#f5e02a"/><stop offset="1" stop-color="#e8e640"/></linearGradient></defs>
<rect x="294.4" y="883.0" width="152.4" height="10.9" fill="url(#gv)" stroke="#3a3a3a" stroke-width=".6"/>
<line x1="309.64" y1="891.6999999999999" x2="309.64" y2="893.9" stroke="#333" stroke-width=".5"/>
<line x1="309.64" y1="883.0" x2="309.64" y2="884.5" stroke="#333" stroke-width=".4" stroke-opacity=".6"/>
<line x1="324.88" y1="891.6999999999999" x2="324.88" y2="893.9" stroke="#333" stroke-width=".5"/>
<line x1="324.88" y1="883.0" x2="324.88" y2="884.5" stroke="#333" stroke-width=".4" stroke-opacity=".6"/>
<line x1="340.12" y1="891.6999999999999" x2="340.12" y2="893.9" stroke="#333" stroke-width=".5"/>
<line x1="340.12" y1="883.0" x2="340.12" y2="884.5" stroke="#333" stroke-width=".4" stroke-opacity=".6"/>
<line x1="355.36" y1="891.6999999999999" x2="355.36" y2="893.9" stroke="#333" stroke-width=".5"/>
<line x1="355.36" y1="883.0" x2="355.36" y2="884.5" stroke="#333" stroke-width=".4" stroke-opacity=".6"/>
<line x1="370.60" y1="891.6999999999999" x2="370.60" y2="893.9" stroke="#333" stroke-width=".5"/>
<line x1="370.60" y1="883.0" x2="370.60" y2="884.5" stroke="#333" stroke-width=".4" stroke-opacity=".6"/>
<line x1="385.84" y1="891.6999999999999" x2="385.84" y2="893.9" stroke="#333" stroke-width=".5"/>
<line x1="385.84" y1="883.0" x2="385.84" y2="884.5" stroke="#333" stroke-width=".4" stroke-opacity=".6"/>
<line x1="401.08" y1="891.6999999999999" x2="401.08" y2="893.9" stroke="#333" stroke-width=".5"/>
<line x1="401.08" y1="883.0" x2="401.08" y2="884.5" stroke="#333" stroke-width=".4" stroke-opacity=".6"/>
<line x1="416.32" y1="891.6999999999999" x2="416.32" y2="893.9" stroke="#333" stroke-width=".5"/>
<line x1="416.32" y1="883.0" x2="416.32" y2="884.5" stroke="#333" stroke-width=".4" stroke-opacity=".6"/>
<line x1="431.56" y1="891.6999999999999" x2="431.56" y2="893.9" stroke="#333" stroke-width=".5"/>
<line x1="431.56" y1="883.0" x2="431.56" y2="884.5" stroke="#333" stroke-width=".4" stroke-opacity=".6"/>
<rect x="526.9" y="885.5" width="152.0" height="10.2" fill="url(#ga)" stroke="#3a3a3a" stroke-width=".6"/>
<line x1="542.10" y1="893.5" x2="542.10" y2="895.7" stroke="#333" stroke-width=".5"/>
<line x1="542.10" y1="885.5" x2="542.10" y2="887.0" stroke="#333" stroke-width=".4" stroke-opacity=".6"/>
<line x1="557.30" y1="893.5" x2="557.30" y2="895.7" stroke="#333" stroke-width=".5"/>
<line x1="557.30" y1="885.5" x2="557.30" y2="887.0" stroke="#333" stroke-width=".4" stroke-opacity=".6"/>
<line x1="572.50" y1="893.5" x2="572.50" y2="895.7" stroke="#333" stroke-width=".5"/>
<line x1="572.50" y1="885.5" x2="572.50" y2="887.0" stroke="#333" stroke-width=".4" stroke-opacity=".6"/>
<line x1="587.70" y1="893.5" x2="587.70" y2="895.7" stroke="#333" stroke-width=".5"/>
<line x1="587.70" y1="885.5" x2="587.70" y2="887.0" stroke="#333" stroke-width=".4" stroke-opacity=".6"/>
<line x1="602.90" y1="893.5" x2="602.90" y2="895.7" stroke="#333" stroke-width=".5"/>
<line x1="602.90" y1="885.5" x2="602.90" y2="887.0" stroke="#333" stroke-width=".4" stroke-opacity=".6"/>
<line x1="618.10" y1="893.5" x2="618.10" y2="895.7" stroke="#333" stroke-width=".5"/>
<line x1="618.10" y1="885.5" x2="618.10" y2="887.0" stroke="#333" stroke-width=".4" stroke-opacity=".6"/>
<line x1="633.30" y1="893.5" x2="633.30" y2="895.7" stroke="#333" stroke-width=".5"/>
<line x1="633.30" y1="885.5" x2="633.30" y2="887.0" stroke="#333" stroke-width=".4" stroke-opacity=".6"/>
<line x1="648.50" y1="893.5" x2="648.50" y2="895.7" stroke="#333" stroke-width=".5"/>
<line x1="648.50" y1="885.5" x2="648.50" y2="887.0" stroke="#333" stroke-width=".4" stroke-opacity=".6"/>
<line x1="663.70" y1="893.5" x2="663.70" y2="895.7" stroke="#333" stroke-width=".5"/>
<line x1="663.70" y1="885.5" x2="663.70" y2="887.0" stroke="#333" stroke-width=".4" stroke-opacity=".6"/>
<text x="0.9" y="11.1" font-size="12.6" textLength="113.6" lengthAdjust="spacingAndGlyphs" fill="#1a1a1a">i. Isoflurane-Normal</text>
<text x="0.9" y="461.7" font-size="12.6" textLength="147.6" lengthAdjust="spacingAndGlyphs" fill="#1a1a1a">ii. Isoflurane-Dysrhythmic</text>
<text x="104" y="52" font-size="13.1" fill="#1a1a1a">A</text>
<text x="340.2" y="52" font-size="13.1" fill="#1a1a1a">B</text>
<text x="48.3" y="287.0" font-size="13.1" fill="#1a1a1a">C</text>
<text x="279.8" y="289" font-size="13.1" fill="#1a1a1a">D</text>
<text x="510.6" y="289" font-size="13.1" fill="#1a1a1a">E</text>
<text x="104.3" y="501" font-size="13.1" fill="#1a1a1a">F</text>
<text x="339.5" y="501.5" font-size="13.1" fill="#1a1a1a">G</text>
<text x="48.3" y="735.3" font-size="13.1" fill="#1a1a1a">H</text>
<text x="279.6" y="733.6" font-size="13.1" fill="#1a1a1a">I</text>
<text x="508.8" y="735.5" font-size="13.1" fill="#1a1a1a">J</text>
<rect x="69.9" y="258.9" width="142.3" height="13.9" fill="#fff"/>
<rect x="72.8" y="704.3" width="140.5" height="14.2" fill="#fff"/>
<text x="70.2" y="270.8" font-size="13.6" textLength="140.4" lengthAdjust="spacingAndGlyphs" fill="#1a1a1a">Slow wave propagation</text>
<text x="351.2" y="270.8" font-size="13.6" textLength="46" lengthAdjust="spacingAndGlyphs" fill="#1a1a1a">Velocity</text>
<text x="579.7" y="271.3" font-size="13.6" textLength="59.8" lengthAdjust="spacingAndGlyphs" fill="#1a1a1a">Amplitude</text>
<text x="73.6" y="716.2" font-size="13.6" textLength="140.4" lengthAdjust="spacingAndGlyphs" fill="#1a1a1a">Slow wave propagation</text>
<text x="349.7" y="716.2" font-size="13.6" textLength="46" lengthAdjust="spacingAndGlyphs" fill="#1a1a1a">Velocity</text>
<text x="578.2" y="717.3" font-size="13.6" textLength="59.5" lengthAdjust="spacingAndGlyphs" fill="#1a1a1a">Amplitude</text>
<text x="364.4" y="41.3" font-size="10" text-anchor="middle" fill="#1a1a1a">1</text>
<text x="364.4" y="487.9" font-size="10" text-anchor="middle" fill="#1a1a1a">1</text>
<text x="364.4" y="63.55" font-size="10" text-anchor="middle" fill="#1a1a1a">2</text>
<text x="364.4" y="510.09999999999997" font-size="10" text-anchor="middle" fill="#1a1a1a">2</text>
<text x="364.4" y="85.8" font-size="10" text-anchor="middle" fill="#1a1a1a">3</text>
<text x="364.4" y="532.3" font-size="10" text-anchor="middle" fill="#1a1a1a">3</text>
<text x="364.4" y="108.05" font-size="10" text-anchor="middle" fill="#1a1a1a">4</text>
<text x="364.4" y="554.5" font-size="10" text-anchor="middle" fill="#1a1a1a">4</text>
<text x="364.4" y="130.3" font-size="10" text-anchor="middle" fill="#1a1a1a">5</text>
<text x="364.4" y="576.6999999999999" font-size="10" text-anchor="middle" fill="#1a1a1a">5</text>
<text x="364.4" y="152.55" font-size="10" text-anchor="middle" fill="#1a1a1a">6</text>
<text x="364.4" y="598.9" font-size="10" text-anchor="middle" fill="#1a1a1a">6</text>
<text x="364.4" y="174.8" font-size="10" text-anchor="middle" fill="#1a1a1a">7</text>
<text x="364.4" y="621.0999999999999" font-size="10" text-anchor="middle" fill="#1a1a1a">7</text>
<text x="364.4" y="197.05" font-size="10" text-anchor="middle" fill="#1a1a1a">8</text>
<text x="364.4" y="643.3" font-size="10" text-anchor="middle" fill="#1a1a1a">8</text>
<text x="364.4" y="219.3" font-size="10" text-anchor="middle" fill="#1a1a1a">9</text>
<text x="364.4" y="665.5" font-size="10" text-anchor="middle" fill="#1a1a1a">9</text>
<text x="600.3" y="41.2" font-size="9.6" textLength="28.7" lengthAdjust="spacingAndGlyphs" fill="#1a1a1a">4.4 mV</text>
<text x="600.3" y="63.45" font-size="9.6" textLength="28.7" lengthAdjust="spacingAndGlyphs" fill="#1a1a1a">4.7 mV</text>
<text x="600.3" y="85.7" font-size="9.6" textLength="28.7" lengthAdjust="spacingAndGlyphs" fill="#1a1a1a">4.3 mV</text>
<text x="600.3" y="107.95" font-size="9.6" textLength="28.7" lengthAdjust="spacingAndGlyphs" fill="#1a1a1a">3.7 mV</text>
<text x="600.3" y="130.2" font-size="9.6" textLength="28.7" lengthAdjust="spacingAndGlyphs" fill="#1a1a1a">4.1 mV</text>
<text x="600.3" y="152.45" font-size="9.6" textLength="28.7" lengthAdjust="spacingAndGlyphs" fill="#1a1a1a">2.3 mV</text>
<text x="600.3" y="174.7" font-size="9.6" textLength="28.7" lengthAdjust="spacingAndGlyphs" fill="#1a1a1a">2.5 mV</text>
<text x="600.3" y="196.95" font-size="9.6" textLength="28.7" lengthAdjust="spacingAndGlyphs" fill="#1a1a1a">1.6 mV</text>
<text x="600.3" y="219.2" font-size="9.6" textLength="28.7" lengthAdjust="spacingAndGlyphs" fill="#1a1a1a">2.0 mV</text>
<text x="599.4" y="487.9" font-size="9.6" textLength="29.2" lengthAdjust="spacingAndGlyphs" fill="#1a1a1a">3.9 mV</text>
<text x="599.4" y="510.09999999999997" font-size="9.6" textLength="29.2" lengthAdjust="spacingAndGlyphs" fill="#1a1a1a">3.5 mV</text>
<text x="599.4" y="532.3" font-size="9.6" textLength="29.2" lengthAdjust="spacingAndGlyphs" fill="#1a1a1a">2.6 mV</text>
<text x="599.4" y="554.5" font-size="9.6" textLength="29.2" lengthAdjust="spacingAndGlyphs" fill="#1a1a1a">4.3 mV</text>
<text x="599.4" y="576.6999999999999" font-size="9.6" textLength="29.2" lengthAdjust="spacingAndGlyphs" fill="#1a1a1a">2.5 mV</text>
<text x="599.4" y="598.9" font-size="9.6" textLength="29.2" lengthAdjust="spacingAndGlyphs" fill="#1a1a1a">3.6 mV</text>
<text x="599.4" y="621.0999999999999" font-size="9.6" textLength="29.2" lengthAdjust="spacingAndGlyphs" fill="#1a1a1a">3.4 mV</text>
<text x="599.4" y="643.3" font-size="9.6" textLength="29.2" lengthAdjust="spacingAndGlyphs" fill="#1a1a1a">1.4 mV</text>
<text x="599.4" y="665.5" font-size="9.6" textLength="29.2" lengthAdjust="spacingAndGlyphs" fill="#1a1a1a">2.1 mV</text>
<text x="546.3" y="694.2" font-size="9.6" text-anchor="middle" textLength="18.2" lengthAdjust="spacingAndGlyphs" fill="#1a1a1a">20 s</text>
<text x="65.2" y="906.3" font-size="10.0" fill="#1a1a1a">1s</text>
<text x="203.6" y="906.3" font-size="10.0" textLength="14.8" lengthAdjust="spacingAndGlyphs" fill="#1a1a1a">19s</text>
<text x="295.4" y="904.7" font-size="10.1" textLength="28" lengthAdjust="spacingAndGlyphs" fill="#1a1a1a">2mm/s</text>
<text x="418.7" y="904.7" font-size="10.1" textLength="32.3" lengthAdjust="spacingAndGlyphs" fill="#1a1a1a">12mm/s</text>
<text x="526.2" y="906.5" font-size="10.1" textLength="26.2" lengthAdjust="spacingAndGlyphs" fill="#1a1a1a">0.5mV</text>
<text x="652.7" y="906.5" font-size="10.1" textLength="30.6" lengthAdjust="spacingAndGlyphs" fill="#1a1a1a">10.0mV</text>
</svg>
</body></html>
